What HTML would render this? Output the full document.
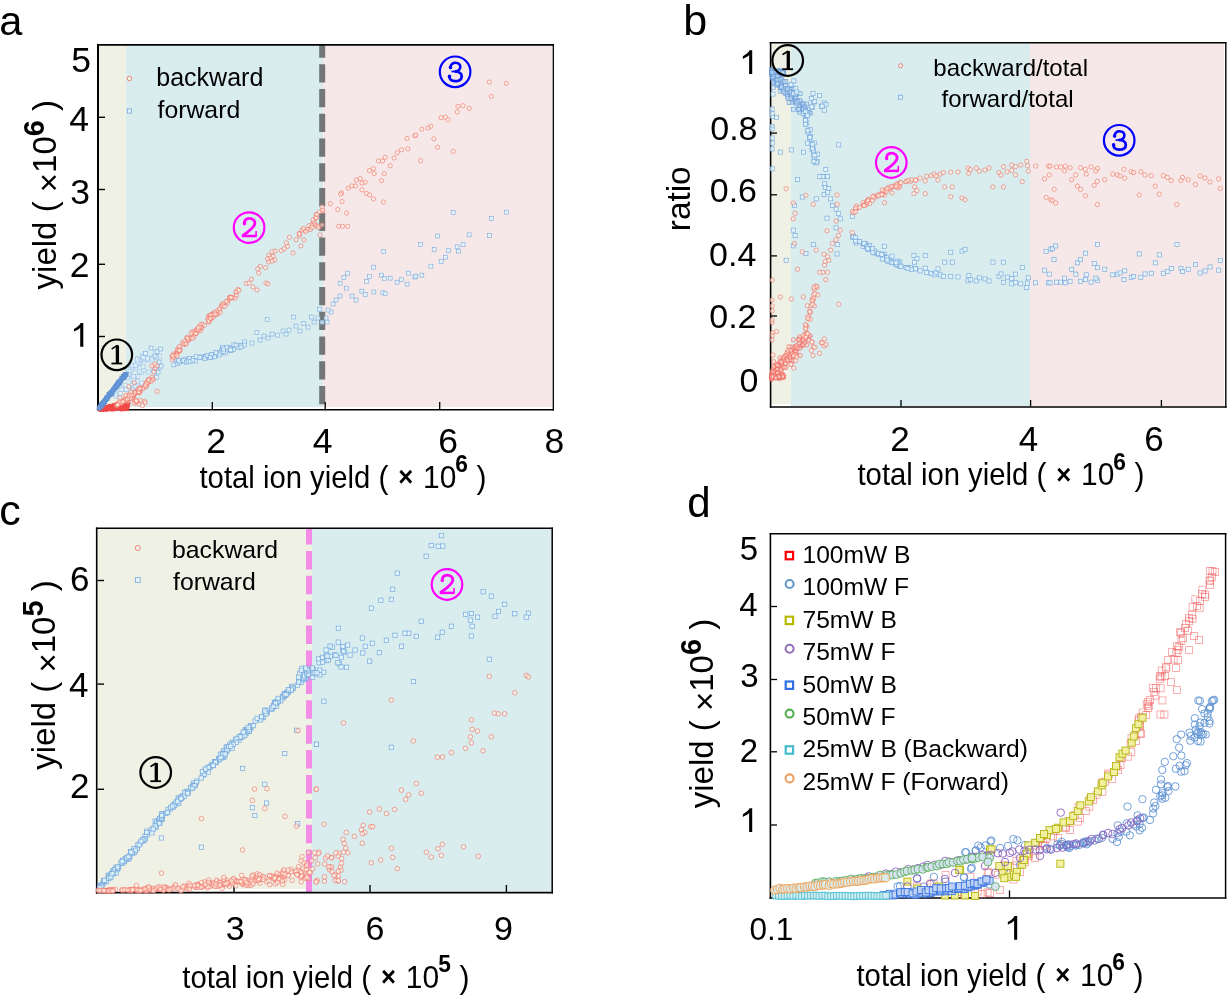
<!DOCTYPE html>
<html><head><meta charset="utf-8"><style>
html,body{margin:0;padding:0;background:#fff;}
svg{display:block;will-change:transform;}
text{font-family:'Liberation Sans',sans-serif;}
</style></head><body>
<svg width="1227" height="997" viewBox="0 0 1227 997">
<rect width="1227" height="997" fill="#fff"/>
<rect x="99" y="45.8" width="27" height="361.2" fill="#eff1e4"/>
<rect x="126" y="45.8" width="197" height="361.2" fill="#d9ecee"/>
<rect x="323" y="45.8" width="229.2" height="361.2" fill="#f6e8e8"/>
<line x1="322.2" y1="45" x2="322.2" y2="409.5" stroke="#3a3a3a" stroke-opacity="0.66" stroke-width="6" stroke-dasharray="18.3 6.45" stroke-dashoffset="5.55"/>
<line x1="98" y1="44.05" x2="98" y2="410.45" stroke="#000" stroke-width="2"/>
<line x1="97.0" y1="44.9" x2="553.95" y2="44.9" stroke="#000" stroke-width="1.7"/>
<line x1="553.3" y1="44.05" x2="553.3" y2="410.45" stroke="#000" stroke-width="1.3"/>
<line x1="97.0" y1="409.7" x2="553.95" y2="409.7" stroke="#000" stroke-width="1.5"/>
<line x1="99" y1="336.5" x2="105" y2="336.5" stroke="#000" stroke-width="1.4"/>
<line x1="99" y1="264.3" x2="105" y2="264.3" stroke="#000" stroke-width="1.4"/>
<line x1="99" y1="189.5" x2="105" y2="189.5" stroke="#000" stroke-width="1.4"/>
<line x1="99" y1="117.3" x2="105" y2="117.3" stroke="#000" stroke-width="1.4"/>
<line x1="212.3" y1="409" x2="212.3" y2="402" stroke="#000" stroke-width="1.3"/>
<line x1="325.2" y1="409" x2="325.2" y2="402" stroke="#000" stroke-width="1.3"/>
<line x1="439.7" y1="409" x2="439.7" y2="402" stroke="#000" stroke-width="1.3"/>
<rect x="155.0" y="355.1" width="3.8" height="3.8" stroke="#a8c6ea" fill="rgba(228,247,250,0.75)" stroke-width="0.7"/>
<rect x="130.0" y="387.7" width="3.8" height="3.8" stroke="#a8c6ea" fill="rgba(228,247,250,0.75)" stroke-width="0.7"/>
<rect x="135.4" y="374.7" width="3.8" height="3.8" stroke="#a8c6ea" fill="rgba(228,247,250,0.75)" stroke-width="0.7"/>
<rect x="119.9" y="386.6" width="3.8" height="3.8" stroke="#a8c6ea" fill="rgba(228,247,250,0.75)" stroke-width="0.7"/>
<rect x="134.9" y="366.3" width="3.8" height="3.8" stroke="#a8c6ea" fill="rgba(228,247,250,0.75)" stroke-width="0.7"/>
<rect x="117.9" y="394.7" width="3.8" height="3.8" stroke="#a8c6ea" fill="rgba(228,247,250,0.75)" stroke-width="0.7"/>
<rect x="137.9" y="365.8" width="3.8" height="3.8" stroke="#a8c6ea" fill="rgba(228,247,250,0.75)" stroke-width="0.7"/>
<rect x="138.5" y="358.9" width="3.8" height="3.8" stroke="#a8c6ea" fill="rgba(228,247,250,0.75)" stroke-width="0.7"/>
<rect x="130.9" y="381.8" width="3.8" height="3.8" stroke="#a8c6ea" fill="rgba(228,247,250,0.75)" stroke-width="0.7"/>
<rect x="142.7" y="358.1" width="3.8" height="3.8" stroke="#a8c6ea" fill="rgba(228,247,250,0.75)" stroke-width="0.7"/>
<rect x="137.3" y="370.8" width="3.8" height="3.8" stroke="#a8c6ea" fill="rgba(228,247,250,0.75)" stroke-width="0.7"/>
<rect x="157.9" y="354.3" width="3.8" height="3.8" stroke="#a8c6ea" fill="rgba(228,247,250,0.75)" stroke-width="0.7"/>
<rect x="152.7" y="367.0" width="3.8" height="3.8" stroke="#a8c6ea" fill="rgba(228,247,250,0.75)" stroke-width="0.7"/>
<rect x="114.0" y="394.5" width="3.8" height="3.8" stroke="#a8c6ea" fill="rgba(228,247,250,0.75)" stroke-width="0.7"/>
<rect x="141.8" y="368.7" width="3.8" height="3.8" stroke="#a8c6ea" fill="rgba(228,247,250,0.75)" stroke-width="0.7"/>
<rect x="130.0" y="383.1" width="3.8" height="3.8" stroke="#a8c6ea" fill="rgba(228,247,250,0.75)" stroke-width="0.7"/>
<rect x="145.5" y="358.0" width="3.8" height="3.8" stroke="#a8c6ea" fill="rgba(228,247,250,0.75)" stroke-width="0.7"/>
<rect x="132.6" y="376.0" width="3.8" height="3.8" stroke="#a8c6ea" fill="rgba(228,247,250,0.75)" stroke-width="0.7"/>
<rect x="123.2" y="387.7" width="3.8" height="3.8" stroke="#a8c6ea" fill="rgba(228,247,250,0.75)" stroke-width="0.7"/>
<rect x="149.6" y="356.0" width="3.8" height="3.8" stroke="#a8c6ea" fill="rgba(228,247,250,0.75)" stroke-width="0.7"/>
<rect x="150.7" y="356.3" width="3.8" height="3.8" stroke="#a8c6ea" fill="rgba(228,247,250,0.75)" stroke-width="0.7"/>
<rect x="123.8" y="383.3" width="3.8" height="3.8" stroke="#a8c6ea" fill="rgba(228,247,250,0.75)" stroke-width="0.7"/>
<rect x="126.8" y="373.4" width="3.8" height="3.8" stroke="#a8c6ea" fill="rgba(228,247,250,0.75)" stroke-width="0.7"/>
<rect x="125.9" y="375.9" width="3.8" height="3.8" stroke="#a8c6ea" fill="rgba(228,247,250,0.75)" stroke-width="0.7"/>
<rect x="135.3" y="379.7" width="3.8" height="3.8" stroke="#a8c6ea" fill="rgba(228,247,250,0.75)" stroke-width="0.7"/>
<rect x="157.7" y="365.9" width="3.8" height="3.8" stroke="#a8c6ea" fill="rgba(228,247,250,0.75)" stroke-width="0.7"/>
<rect x="131.5" y="385.9" width="3.8" height="3.8" stroke="#a8c6ea" fill="rgba(228,247,250,0.75)" stroke-width="0.7"/>
<rect x="153.2" y="350.8" width="3.8" height="3.8" stroke="#a8c6ea" fill="rgba(228,247,250,0.75)" stroke-width="0.7"/>
<rect x="118.0" y="384.8" width="3.8" height="3.8" stroke="#a8c6ea" fill="rgba(228,247,250,0.75)" stroke-width="0.7"/>
<rect x="146.8" y="370.2" width="3.8" height="3.8" stroke="#a8c6ea" fill="rgba(228,247,250,0.75)" stroke-width="0.7"/>
<rect x="151.7" y="369.5" width="3.8" height="3.8" stroke="#a8c6ea" fill="rgba(228,247,250,0.75)" stroke-width="0.7"/>
<rect x="119.8" y="387.6" width="3.8" height="3.8" stroke="#a8c6ea" fill="rgba(228,247,250,0.75)" stroke-width="0.7"/>
<rect x="113.6" y="392.3" width="3.8" height="3.8" stroke="#a8c6ea" fill="rgba(228,247,250,0.75)" stroke-width="0.7"/>
<rect x="118.6" y="391.5" width="3.8" height="3.8" stroke="#a8c6ea" fill="rgba(228,247,250,0.75)" stroke-width="0.7"/>
<rect x="139.3" y="370.9" width="3.8" height="3.8" stroke="#a8c6ea" fill="rgba(228,247,250,0.75)" stroke-width="0.7"/>
<rect x="155.0" y="355.9" width="3.8" height="3.8" stroke="#a8c6ea" fill="rgba(228,247,250,0.75)" stroke-width="0.7"/>
<rect x="110.9" y="391.9" width="3.8" height="3.8" stroke="#a8c6ea" fill="rgba(228,247,250,0.75)" stroke-width="0.7"/>
<rect x="131.0" y="374.4" width="3.8" height="3.8" stroke="#a8c6ea" fill="rgba(228,247,250,0.75)" stroke-width="0.7"/>
<rect x="113.4" y="389.4" width="3.8" height="3.8" stroke="#a8c6ea" fill="rgba(228,247,250,0.75)" stroke-width="0.7"/>
<rect x="135.2" y="383.8" width="3.8" height="3.8" stroke="#a8c6ea" fill="rgba(228,247,250,0.75)" stroke-width="0.7"/>
<rect x="131.9" y="377.6" width="3.8" height="3.8" stroke="#a8c6ea" fill="rgba(228,247,250,0.75)" stroke-width="0.7"/>
<rect x="150.0" y="358.1" width="3.8" height="3.8" stroke="#a8c6ea" fill="rgba(228,247,250,0.75)" stroke-width="0.7"/>
<rect x="131.7" y="374.6" width="3.8" height="3.8" stroke="#a8c6ea" fill="rgba(228,247,250,0.75)" stroke-width="0.7"/>
<rect x="140.0" y="381.1" width="3.8" height="3.8" stroke="#a8c6ea" fill="rgba(228,247,250,0.75)" stroke-width="0.7"/>
<rect x="131.6" y="387.2" width="3.8" height="3.8" stroke="#a8c6ea" fill="rgba(228,247,250,0.75)" stroke-width="0.7"/>
<rect x="124.3" y="387.8" width="3.8" height="3.8" stroke="#a8c6ea" fill="rgba(228,247,250,0.75)" stroke-width="0.7"/>
<rect x="137.5" y="369.3" width="3.8" height="3.8" stroke="#a8c6ea" fill="rgba(228,247,250,0.75)" stroke-width="0.7"/>
<rect x="145.5" y="356.4" width="3.8" height="3.8" stroke="#a8c6ea" fill="rgba(228,247,250,0.75)" stroke-width="0.7"/>
<rect x="141.1" y="364.9" width="3.8" height="3.8" stroke="#a8c6ea" fill="rgba(228,247,250,0.75)" stroke-width="0.7"/>
<rect x="133.2" y="384.9" width="3.8" height="3.8" stroke="#a8c6ea" fill="rgba(228,247,250,0.75)" stroke-width="0.7"/>
<rect x="133.1" y="363.8" width="3.8" height="3.8" stroke="#a8c6ea" fill="rgba(228,247,250,0.75)" stroke-width="0.7"/>
<rect x="142.1" y="356.8" width="3.8" height="3.8" stroke="#a8c6ea" fill="rgba(228,247,250,0.75)" stroke-width="0.7"/>
<rect x="135.4" y="356.8" width="3.8" height="3.8" stroke="#a8c6ea" fill="rgba(228,247,250,0.75)" stroke-width="0.7"/>
<rect x="130.7" y="363.2" width="3.8" height="3.8" stroke="#a8c6ea" fill="rgba(228,247,250,0.75)" stroke-width="0.7"/>
<rect x="140.5" y="354.1" width="3.8" height="3.8" stroke="#a8c6ea" fill="rgba(228,247,250,0.75)" stroke-width="0.7"/>
<rect x="140.8" y="355.0" width="3.8" height="3.8" stroke="#a8c6ea" fill="rgba(228,247,250,0.75)" stroke-width="0.7"/>
<rect x="128.7" y="368.1" width="3.8" height="3.8" stroke="#a8c6ea" fill="rgba(228,247,250,0.75)" stroke-width="0.7"/>
<rect x="136.0" y="360.0" width="3.8" height="3.8" stroke="#a8c6ea" fill="rgba(228,247,250,0.75)" stroke-width="0.7"/>
<rect x="137.2" y="358.7" width="3.8" height="3.8" stroke="#a8c6ea" fill="rgba(228,247,250,0.75)" stroke-width="0.7"/>
<rect x="129.4" y="365.9" width="3.8" height="3.8" stroke="#a8c6ea" fill="rgba(228,247,250,0.75)" stroke-width="0.7"/>
<rect x="136.3" y="359.7" width="3.8" height="3.8" stroke="#a8c6ea" fill="rgba(228,247,250,0.75)" stroke-width="0.7"/>
<rect x="137.1" y="361.3" width="3.8" height="3.8" stroke="#a8c6ea" fill="rgba(228,247,250,0.75)" stroke-width="0.7"/>
<rect x="132.5" y="364.2" width="3.8" height="3.8" stroke="#a8c6ea" fill="rgba(228,247,250,0.75)" stroke-width="0.7"/>
<rect x="128.1" y="368.4" width="3.8" height="3.8" stroke="#a8c6ea" fill="rgba(228,247,250,0.75)" stroke-width="0.7"/>
<rect x="141.9" y="355.6" width="3.8" height="3.8" stroke="#a8c6ea" fill="rgba(228,247,250,0.75)" stroke-width="0.7"/>
<rect x="130.1" y="363.8" width="3.8" height="3.8" stroke="#a8c6ea" fill="rgba(228,247,250,0.75)" stroke-width="0.7"/>
<rect x="134.1" y="363.7" width="3.8" height="3.8" stroke="#a8c6ea" fill="rgba(228,247,250,0.75)" stroke-width="0.7"/>
<rect x="135.2" y="360.1" width="3.8" height="3.8" stroke="#a8c6ea" fill="rgba(228,247,250,0.75)" stroke-width="0.7"/>
<rect x="135.3" y="357.7" width="3.8" height="3.8" stroke="#a8c6ea" fill="rgba(228,247,250,0.75)" stroke-width="0.7"/>
<rect x="125.9" y="368.3" width="3.8" height="3.8" stroke="#a8c6ea" fill="rgba(228,247,250,0.75)" stroke-width="0.7"/>
<rect x="129.5" y="367.1" width="3.8" height="3.8" stroke="#a8c6ea" fill="rgba(228,247,250,0.75)" stroke-width="0.7"/>
<rect x="126.5" y="367.7" width="3.8" height="3.8" stroke="#a8c6ea" fill="rgba(228,247,250,0.75)" stroke-width="0.7"/>
<rect x="128.1" y="369.2" width="3.8" height="3.8" stroke="#a8c6ea" fill="rgba(228,247,250,0.75)" stroke-width="0.7"/>
<rect x="133.5" y="363.3" width="3.8" height="3.8" stroke="#a8c6ea" fill="rgba(228,247,250,0.75)" stroke-width="0.7"/>
<rect x="126.9" y="372.4" width="3.8" height="3.8" stroke="#a8c6ea" fill="rgba(228,247,250,0.75)" stroke-width="0.7"/>
<circle cx="102.7" cy="408.6" r="2.1" stroke="#f04848" fill="rgba(240,80,70,0.35)" stroke-width="0.8"/>
<circle cx="116.4" cy="405.1" r="2.1" stroke="#f04848" fill="rgba(240,80,70,0.35)" stroke-width="0.8"/>
<circle cx="103.3" cy="409.1" r="2.1" stroke="#f04848" fill="rgba(240,80,70,0.35)" stroke-width="0.8"/>
<circle cx="101.0" cy="408.4" r="2.1" stroke="#f04848" fill="rgba(240,80,70,0.35)" stroke-width="0.8"/>
<circle cx="126.5" cy="406.8" r="2.1" stroke="#f04848" fill="rgba(240,80,70,0.35)" stroke-width="0.8"/>
<circle cx="109.7" cy="407.8" r="2.1" stroke="#f04848" fill="rgba(240,80,70,0.35)" stroke-width="0.8"/>
<circle cx="118.2" cy="405.8" r="2.1" stroke="#f04848" fill="rgba(240,80,70,0.35)" stroke-width="0.8"/>
<circle cx="103.0" cy="408.9" r="2.1" stroke="#f04848" fill="rgba(240,80,70,0.35)" stroke-width="0.8"/>
<circle cx="118.4" cy="406.9" r="2.1" stroke="#f04848" fill="rgba(240,80,70,0.35)" stroke-width="0.8"/>
<circle cx="122.7" cy="406.7" r="2.1" stroke="#f04848" fill="rgba(240,80,70,0.35)" stroke-width="0.8"/>
<circle cx="127.4" cy="403.9" r="2.1" stroke="#f04848" fill="rgba(240,80,70,0.35)" stroke-width="0.8"/>
<circle cx="115.1" cy="407.2" r="2.1" stroke="#f04848" fill="rgba(240,80,70,0.35)" stroke-width="0.8"/>
<circle cx="109.2" cy="408.1" r="2.1" stroke="#f04848" fill="rgba(240,80,70,0.35)" stroke-width="0.8"/>
<circle cx="105.8" cy="408.8" r="2.1" stroke="#f04848" fill="rgba(240,80,70,0.35)" stroke-width="0.8"/>
<circle cx="124.2" cy="404.0" r="2.1" stroke="#f04848" fill="rgba(240,80,70,0.35)" stroke-width="0.8"/>
<circle cx="112.5" cy="406.7" r="2.1" stroke="#f04848" fill="rgba(240,80,70,0.35)" stroke-width="0.8"/>
<circle cx="101.4" cy="409.1" r="2.1" stroke="#f04848" fill="rgba(240,80,70,0.35)" stroke-width="0.8"/>
<circle cx="111.5" cy="406.5" r="2.1" stroke="#f04848" fill="rgba(240,80,70,0.35)" stroke-width="0.8"/>
<circle cx="118.5" cy="405.4" r="2.1" stroke="#f04848" fill="rgba(240,80,70,0.35)" stroke-width="0.8"/>
<circle cx="125.1" cy="404.4" r="2.1" stroke="#f04848" fill="rgba(240,80,70,0.35)" stroke-width="0.8"/>
<circle cx="100.0" cy="408.7" r="2.1" stroke="#f04848" fill="rgba(240,80,70,0.35)" stroke-width="0.8"/>
<circle cx="109.0" cy="407.8" r="2.1" stroke="#f04848" fill="rgba(240,80,70,0.35)" stroke-width="0.8"/>
<circle cx="125.3" cy="407.3" r="2.1" stroke="#f04848" fill="rgba(240,80,70,0.35)" stroke-width="0.8"/>
<circle cx="108.8" cy="406.7" r="2.1" stroke="#f04848" fill="rgba(240,80,70,0.35)" stroke-width="0.8"/>
<circle cx="103.6" cy="409.2" r="2.1" stroke="#f04848" fill="rgba(240,80,70,0.35)" stroke-width="0.8"/>
<circle cx="112.3" cy="408.2" r="2.1" stroke="#f04848" fill="rgba(240,80,70,0.35)" stroke-width="0.8"/>
<circle cx="100.6" cy="408.5" r="2.1" stroke="#f04848" fill="rgba(240,80,70,0.35)" stroke-width="0.8"/>
<circle cx="123.5" cy="406.8" r="2.1" stroke="#f04848" fill="rgba(240,80,70,0.35)" stroke-width="0.8"/>
<circle cx="108.0" cy="407.6" r="2.1" stroke="#f04848" fill="rgba(240,80,70,0.35)" stroke-width="0.8"/>
<circle cx="101.6" cy="408.4" r="2.1" stroke="#f04848" fill="rgba(240,80,70,0.35)" stroke-width="0.8"/>
<circle cx="99.7" cy="409.1" r="2.1" stroke="#f04848" fill="rgba(240,80,70,0.35)" stroke-width="0.8"/>
<circle cx="112.5" cy="406.2" r="2.1" stroke="#f04848" fill="rgba(240,80,70,0.35)" stroke-width="0.8"/>
<circle cx="120.4" cy="405.1" r="2.1" stroke="#f04848" fill="rgba(240,80,70,0.35)" stroke-width="0.8"/>
<circle cx="100.8" cy="408.9" r="2.1" stroke="#f04848" fill="rgba(240,80,70,0.35)" stroke-width="0.8"/>
<circle cx="125.0" cy="403.2" r="2.1" stroke="#f04848" fill="rgba(240,80,70,0.35)" stroke-width="0.8"/>
<circle cx="122.3" cy="404.7" r="2.1" stroke="#f04848" fill="rgba(240,80,70,0.35)" stroke-width="0.8"/>
<circle cx="101.7" cy="408.2" r="2.1" stroke="#f04848" fill="rgba(240,80,70,0.35)" stroke-width="0.8"/>
<circle cx="107.5" cy="408.6" r="2.1" stroke="#f04848" fill="rgba(240,80,70,0.35)" stroke-width="0.8"/>
<circle cx="113.3" cy="408.7" r="2.1" stroke="#f04848" fill="rgba(240,80,70,0.35)" stroke-width="0.8"/>
<circle cx="105.3" cy="408.0" r="2.1" stroke="#f04848" fill="rgba(240,80,70,0.35)" stroke-width="0.8"/>
<circle cx="106.5" cy="409.2" r="2.1" stroke="#f04848" fill="rgba(240,80,70,0.35)" stroke-width="0.8"/>
<circle cx="126.3" cy="405.0" r="2.1" stroke="#f04848" fill="rgba(240,80,70,0.35)" stroke-width="0.8"/>
<circle cx="111.6" cy="407.0" r="2.1" stroke="#f04848" fill="rgba(240,80,70,0.35)" stroke-width="0.8"/>
<circle cx="120.6" cy="404.2" r="2.1" stroke="#f04848" fill="rgba(240,80,70,0.35)" stroke-width="0.8"/>
<circle cx="101.0" cy="408.7" r="2.1" stroke="#f04848" fill="rgba(240,80,70,0.35)" stroke-width="0.8"/>
<circle cx="106.1" cy="408.9" r="2.1" stroke="#f04848" fill="rgba(240,80,70,0.35)" stroke-width="0.8"/>
<circle cx="120.5" cy="406.9" r="2.1" stroke="#f04848" fill="rgba(240,80,70,0.35)" stroke-width="0.8"/>
<circle cx="118.2" cy="407.8" r="2.1" stroke="#f04848" fill="rgba(240,80,70,0.35)" stroke-width="0.8"/>
<circle cx="121.7" cy="408.8" r="2.1" stroke="#f04848" fill="rgba(240,80,70,0.35)" stroke-width="0.8"/>
<circle cx="103.3" cy="408.7" r="2.1" stroke="#f04848" fill="rgba(240,80,70,0.35)" stroke-width="0.8"/>
<circle cx="103.2" cy="408.5" r="2.1" stroke="#f04848" fill="rgba(240,80,70,0.35)" stroke-width="0.8"/>
<circle cx="121.8" cy="408.6" r="2.1" stroke="#f04848" fill="rgba(240,80,70,0.35)" stroke-width="0.8"/>
<circle cx="121.0" cy="404.1" r="2.1" stroke="#f04848" fill="rgba(240,80,70,0.35)" stroke-width="0.8"/>
<circle cx="109.4" cy="406.9" r="2.1" stroke="#f04848" fill="rgba(240,80,70,0.35)" stroke-width="0.8"/>
<circle cx="128.0" cy="403.4" r="2.1" stroke="#f04848" fill="rgba(240,80,70,0.35)" stroke-width="0.8"/>
<circle cx="106.1" cy="407.9" r="2.1" stroke="#f04848" fill="rgba(240,80,70,0.35)" stroke-width="0.8"/>
<circle cx="100.8" cy="409.1" r="2.1" stroke="#f04848" fill="rgba(240,80,70,0.35)" stroke-width="0.8"/>
<circle cx="117.5" cy="405.4" r="2.1" stroke="#f04848" fill="rgba(240,80,70,0.35)" stroke-width="0.8"/>
<circle cx="113.4" cy="405.9" r="2.1" stroke="#f04848" fill="rgba(240,80,70,0.35)" stroke-width="0.8"/>
<circle cx="116.7" cy="405.9" r="2.1" stroke="#f04848" fill="rgba(240,80,70,0.35)" stroke-width="0.8"/>
<circle cx="100.1" cy="408.6" r="2.1" stroke="#f04848" fill="rgba(240,80,70,0.35)" stroke-width="0.8"/>
<circle cx="115.1" cy="407.8" r="2.1" stroke="#f04848" fill="rgba(240,80,70,0.35)" stroke-width="0.8"/>
<circle cx="108.4" cy="408.3" r="2.1" stroke="#f04848" fill="rgba(240,80,70,0.35)" stroke-width="0.8"/>
<circle cx="109.2" cy="406.9" r="2.1" stroke="#f04848" fill="rgba(240,80,70,0.35)" stroke-width="0.8"/>
<circle cx="108.1" cy="407.7" r="2.1" stroke="#f04848" fill="rgba(240,80,70,0.35)" stroke-width="0.8"/>
<circle cx="125.5" cy="403.7" r="2.1" stroke="#f04848" fill="rgba(240,80,70,0.35)" stroke-width="0.8"/>
<circle cx="101.5" cy="408.8" r="2.1" stroke="#f04848" fill="rgba(240,80,70,0.35)" stroke-width="0.8"/>
<circle cx="126.9" cy="408.6" r="2.1" stroke="#f04848" fill="rgba(240,80,70,0.35)" stroke-width="0.8"/>
<circle cx="119.3" cy="404.6" r="2.1" stroke="#f04848" fill="rgba(240,80,70,0.35)" stroke-width="0.8"/>
<circle cx="122.4" cy="407.4" r="2.1" stroke="#f04848" fill="rgba(240,80,70,0.35)" stroke-width="0.8"/>
<circle cx="103.2" cy="408.5" r="2.1" stroke="#f04848" fill="rgba(240,80,70,0.35)" stroke-width="0.8"/>
<circle cx="100.4" cy="409.1" r="2.1" stroke="#f04848" fill="rgba(240,80,70,0.35)" stroke-width="0.8"/>
<circle cx="119.8" cy="408.2" r="2.1" stroke="#f04848" fill="rgba(240,80,70,0.35)" stroke-width="0.8"/>
<circle cx="121.1" cy="405.3" r="2.1" stroke="#f04848" fill="rgba(240,80,70,0.35)" stroke-width="0.8"/>
<circle cx="121.9" cy="405.1" r="2.1" stroke="#f04848" fill="rgba(240,80,70,0.35)" stroke-width="0.8"/>
<circle cx="103.0" cy="408.4" r="2.1" stroke="#f04848" fill="rgba(240,80,70,0.35)" stroke-width="0.8"/>
<circle cx="113.4" cy="406.6" r="2.1" stroke="#f04848" fill="rgba(240,80,70,0.35)" stroke-width="0.8"/>
<circle cx="116.6" cy="407.5" r="2.1" stroke="#f04848" fill="rgba(240,80,70,0.35)" stroke-width="0.8"/>
<circle cx="106.0" cy="408.5" r="2.1" stroke="#f04848" fill="rgba(240,80,70,0.35)" stroke-width="0.8"/>
<circle cx="109.4" cy="408.5" r="2.1" stroke="#f04848" fill="rgba(240,80,70,0.35)" stroke-width="0.8"/>
<circle cx="107.4" cy="408.7" r="2.1" stroke="#f04848" fill="rgba(240,80,70,0.35)" stroke-width="0.8"/>
<circle cx="111.0" cy="407.8" r="2.1" stroke="#f04848" fill="rgba(240,80,70,0.35)" stroke-width="0.8"/>
<circle cx="118.5" cy="406.9" r="2.1" stroke="#f04848" fill="rgba(240,80,70,0.35)" stroke-width="0.8"/>
<circle cx="106.5" cy="409.2" r="2.1" stroke="#f04848" fill="rgba(240,80,70,0.35)" stroke-width="0.8"/>
<circle cx="101.8" cy="408.5" r="2.1" stroke="#f04848" fill="rgba(240,80,70,0.35)" stroke-width="0.8"/>
<circle cx="114.9" cy="405.4" r="2.1" stroke="#f04848" fill="rgba(240,80,70,0.35)" stroke-width="0.8"/>
<circle cx="103.5" cy="408.9" r="2.1" stroke="#f04848" fill="rgba(240,80,70,0.35)" stroke-width="0.8"/>
<circle cx="121.7" cy="407.2" r="2.1" stroke="#f04848" fill="rgba(240,80,70,0.35)" stroke-width="0.8"/>
<circle cx="125.2" cy="407.7" r="2.1" stroke="#f04848" fill="rgba(240,80,70,0.35)" stroke-width="0.8"/>
<circle cx="107.7" cy="408.4" r="2.1" stroke="#f04848" fill="rgba(240,80,70,0.35)" stroke-width="0.8"/>
<circle cx="108.9" cy="408.6" r="2.1" stroke="#f04848" fill="rgba(240,80,70,0.35)" stroke-width="0.8"/>
<circle cx="110.2" cy="406.8" r="2.1" stroke="#f04848" fill="rgba(240,80,70,0.35)" stroke-width="0.8"/>
<circle cx="124.4" cy="407.3" r="2.1" stroke="#f04848" fill="rgba(240,80,70,0.35)" stroke-width="0.8"/>
<circle cx="120.6" cy="406.9" r="2.1" stroke="#f04848" fill="rgba(240,80,70,0.35)" stroke-width="0.8"/>
<circle cx="121.7" cy="406.2" r="2.1" stroke="#f04848" fill="rgba(240,80,70,0.35)" stroke-width="0.8"/>
<circle cx="115.4" cy="405.4" r="2.1" stroke="#f04848" fill="rgba(240,80,70,0.35)" stroke-width="0.8"/>
<circle cx="115.1" cy="408.5" r="2.1" stroke="#f04848" fill="rgba(240,80,70,0.35)" stroke-width="0.8"/>
<circle cx="119.5" cy="408.2" r="2.1" stroke="#f04848" fill="rgba(240,80,70,0.35)" stroke-width="0.8"/>
<circle cx="113.4" cy="408.8" r="2.1" stroke="#f04848" fill="rgba(240,80,70,0.35)" stroke-width="0.8"/>
<circle cx="102.1" cy="409.1" r="2.1" stroke="#f04848" fill="rgba(240,80,70,0.35)" stroke-width="0.8"/>
<circle cx="109.8" cy="406.7" r="2.1" stroke="#f04848" fill="rgba(240,80,70,0.35)" stroke-width="0.8"/>
<circle cx="117.0" cy="406.8" r="2.1" stroke="#f04848" fill="rgba(240,80,70,0.35)" stroke-width="0.8"/>
<circle cx="111.4" cy="408.7" r="2.1" stroke="#f04848" fill="rgba(240,80,70,0.35)" stroke-width="0.8"/>
<circle cx="103.0" cy="408.7" r="2.1" stroke="#f04848" fill="rgba(240,80,70,0.35)" stroke-width="0.8"/>
<circle cx="111.0" cy="407.8" r="2.1" stroke="#f04848" fill="rgba(240,80,70,0.35)" stroke-width="0.8"/>
<circle cx="113.5" cy="406.1" r="2.1" stroke="#f04848" fill="rgba(240,80,70,0.35)" stroke-width="0.8"/>
<circle cx="113.8" cy="408.7" r="2.1" stroke="#f04848" fill="rgba(240,80,70,0.35)" stroke-width="0.8"/>
<circle cx="104.0" cy="407.7" r="2.1" stroke="#f04848" fill="rgba(240,80,70,0.35)" stroke-width="0.8"/>
<circle cx="101.0" cy="408.7" r="2.1" stroke="#f04848" fill="rgba(240,80,70,0.35)" stroke-width="0.8"/>
<circle cx="127.3" cy="402.9" r="2.1" stroke="#f04848" fill="rgba(240,80,70,0.35)" stroke-width="0.8"/>
<circle cx="127.7" cy="406.1" r="2.1" stroke="#f04848" fill="rgba(240,80,70,0.35)" stroke-width="0.8"/>
<circle cx="102.5" cy="408.5" r="2.1" stroke="#f04848" fill="rgba(240,80,70,0.35)" stroke-width="0.8"/>
<circle cx="105.0" cy="408.7" r="2.1" stroke="#f04848" fill="rgba(240,80,70,0.35)" stroke-width="0.8"/>
<circle cx="114.7" cy="406.4" r="2.1" stroke="#f04848" fill="rgba(240,80,70,0.35)" stroke-width="0.8"/>
<circle cx="106.4" cy="408.9" r="2.1" stroke="#f04848" fill="rgba(240,80,70,0.35)" stroke-width="0.8"/>
<circle cx="121.2" cy="406.2" r="2.1" stroke="#f04848" fill="rgba(240,80,70,0.35)" stroke-width="0.8"/>
<circle cx="110.8" cy="408.4" r="2.1" stroke="#f04848" fill="rgba(240,80,70,0.35)" stroke-width="0.8"/>
<circle cx="127.2" cy="403.1" r="2.1" stroke="#f04848" fill="rgba(240,80,70,0.35)" stroke-width="0.8"/>
<circle cx="103.6" cy="408.3" r="2.1" stroke="#f04848" fill="rgba(240,80,70,0.35)" stroke-width="0.8"/>
<circle cx="113.7" cy="405.8" r="2.1" stroke="#f04848" fill="rgba(240,80,70,0.35)" stroke-width="0.8"/>
<circle cx="100.6" cy="408.6" r="2.1" stroke="#f04848" fill="rgba(240,80,70,0.35)" stroke-width="0.8"/>
<circle cx="110.2" cy="408.4" r="2.1" stroke="#f04848" fill="rgba(240,80,70,0.35)" stroke-width="0.8"/>
<circle cx="116.7" cy="405.0" r="2.1" stroke="#f04848" fill="rgba(240,80,70,0.35)" stroke-width="0.8"/>
<circle cx="100.3" cy="408.8" r="2.1" stroke="#f04848" fill="rgba(240,80,70,0.35)" stroke-width="0.8"/>
<circle cx="124.4" cy="408.7" r="2.1" stroke="#f04848" fill="rgba(240,80,70,0.35)" stroke-width="0.8"/>
<circle cx="109.6" cy="408.9" r="2.1" stroke="#f04848" fill="rgba(240,80,70,0.35)" stroke-width="0.8"/>
<circle cx="125.9" cy="405.4" r="2.1" stroke="#f04848" fill="rgba(240,80,70,0.35)" stroke-width="0.8"/>
<circle cx="120.6" cy="405.9" r="2.1" stroke="#f04848" fill="rgba(240,80,70,0.35)" stroke-width="0.8"/>
<circle cx="103.5" cy="408.6" r="2.1" stroke="#f04848" fill="rgba(240,80,70,0.35)" stroke-width="0.8"/>
<circle cx="101.5" cy="408.9" r="2.1" stroke="#f04848" fill="rgba(240,80,70,0.35)" stroke-width="0.8"/>
<circle cx="122.5" cy="408.7" r="2.1" stroke="#f04848" fill="rgba(240,80,70,0.35)" stroke-width="0.8"/>
<circle cx="112.0" cy="406.3" r="2.1" stroke="#f04848" fill="rgba(240,80,70,0.35)" stroke-width="0.8"/>
<circle cx="125.2" cy="408.4" r="2.1" stroke="#f04848" fill="rgba(240,80,70,0.35)" stroke-width="0.8"/>
<circle cx="127.1" cy="406.5" r="2.1" stroke="#f04848" fill="rgba(240,80,70,0.35)" stroke-width="0.8"/>
<circle cx="118.5" cy="406.2" r="2.1" stroke="#f04848" fill="rgba(240,80,70,0.35)" stroke-width="0.8"/>
<circle cx="104.3" cy="408.1" r="2.1" stroke="#f04848" fill="rgba(240,80,70,0.35)" stroke-width="0.8"/>
<circle cx="119.9" cy="405.8" r="2.1" stroke="#f04848" fill="rgba(240,80,70,0.35)" stroke-width="0.8"/>
<circle cx="119.1" cy="406.8" r="2.1" stroke="#f04848" fill="rgba(240,80,70,0.35)" stroke-width="0.8"/>
<circle cx="112.0" cy="409.1" r="2.1" stroke="#f04848" fill="rgba(240,80,70,0.35)" stroke-width="0.8"/>
<circle cx="103.8" cy="408.4" r="2.1" stroke="#f04848" fill="rgba(240,80,70,0.35)" stroke-width="0.8"/>
<circle cx="103.6" cy="409.1" r="2.1" stroke="#f04848" fill="rgba(240,80,70,0.35)" stroke-width="0.8"/>
<circle cx="113.2" cy="406.8" r="2.1" stroke="#f04848" fill="rgba(240,80,70,0.35)" stroke-width="0.8"/>
<circle cx="103.9" cy="408.6" r="2.1" stroke="#f04848" fill="rgba(240,80,70,0.35)" stroke-width="0.8"/>
<circle cx="110.6" cy="406.6" r="2.1" stroke="#f04848" fill="rgba(240,80,70,0.35)" stroke-width="0.8"/>
<circle cx="99.9" cy="408.8" r="2.1" stroke="#f04848" fill="rgba(240,80,70,0.35)" stroke-width="0.8"/>
<circle cx="115.9" cy="407.2" r="2.1" stroke="#f04848" fill="rgba(240,80,70,0.35)" stroke-width="0.8"/>
<circle cx="125.1" cy="408.7" r="2.1" stroke="#f04848" fill="rgba(240,80,70,0.35)" stroke-width="0.8"/>
<circle cx="126.2" cy="407.9" r="2.1" stroke="#f04848" fill="rgba(240,80,70,0.35)" stroke-width="0.8"/>
<circle cx="112.9" cy="407.5" r="2.1" stroke="#f04848" fill="rgba(240,80,70,0.35)" stroke-width="0.8"/>
<circle cx="110.5" cy="407.4" r="2.1" stroke="#f04848" fill="rgba(240,80,70,0.35)" stroke-width="0.8"/>
<circle cx="100.2" cy="409.1" r="2.1" stroke="#f04848" fill="rgba(240,80,70,0.35)" stroke-width="0.8"/>
<circle cx="106.1" cy="407.3" r="2.1" stroke="#f04848" fill="rgba(240,80,70,0.35)" stroke-width="0.8"/>
<circle cx="112.5" cy="408.2" r="2.1" stroke="#f04848" fill="rgba(240,80,70,0.35)" stroke-width="0.8"/>
<circle cx="111.6" cy="407.2" r="2.1" stroke="#f04848" fill="rgba(240,80,70,0.35)" stroke-width="0.8"/>
<circle cx="118.1" cy="405.3" r="2.1" stroke="#f04848" fill="rgba(240,80,70,0.35)" stroke-width="0.8"/>
<circle cx="99.3" cy="409.0" r="2.1" stroke="#f04848" fill="rgba(240,80,70,0.35)" stroke-width="0.8"/>
<circle cx="114.4" cy="408.7" r="2.1" stroke="#f04848" fill="rgba(240,80,70,0.35)" stroke-width="0.8"/>
<circle cx="111.1" cy="408.5" r="2.1" stroke="#f04848" fill="rgba(240,80,70,0.35)" stroke-width="0.8"/>
<circle cx="99.5" cy="408.7" r="2.1" stroke="#f04848" fill="rgba(240,80,70,0.35)" stroke-width="0.8"/>
<circle cx="116.4" cy="405.9" r="2.1" stroke="#f04848" fill="rgba(240,80,70,0.35)" stroke-width="0.8"/>
<circle cx="101.0" cy="408.5" r="2.1" stroke="#f04848" fill="rgba(240,80,70,0.35)" stroke-width="0.8"/>
<circle cx="109.9" cy="407.3" r="2.1" stroke="#f04848" fill="rgba(240,80,70,0.35)" stroke-width="0.8"/>
<circle cx="115.3" cy="408.7" r="2.1" stroke="#f04848" fill="rgba(240,80,70,0.35)" stroke-width="0.8"/>
<circle cx="109.6" cy="407.0" r="2.1" stroke="#f04848" fill="rgba(240,80,70,0.35)" stroke-width="0.8"/>
<circle cx="115.8" cy="405.1" r="2.1" stroke="#f04848" fill="rgba(240,80,70,0.35)" stroke-width="0.8"/>
<circle cx="110.2" cy="407.2" r="2.1" stroke="#f04848" fill="rgba(240,80,70,0.35)" stroke-width="0.8"/>
<circle cx="110.2" cy="406.5" r="2.1" stroke="#f04848" fill="rgba(240,80,70,0.35)" stroke-width="0.8"/>
<circle cx="115.1" cy="407.7" r="2.1" stroke="#f04848" fill="rgba(240,80,70,0.35)" stroke-width="0.8"/>
<circle cx="120.7" cy="409.0" r="2.1" stroke="#f04848" fill="rgba(240,80,70,0.35)" stroke-width="0.8"/>
<circle cx="109.3" cy="408.3" r="2.1" stroke="#f04848" fill="rgba(240,80,70,0.35)" stroke-width="0.8"/>
<rect x="118.5" y="379.9" width="3.4" height="3.4" stroke="#5f92d4" fill="rgba(110,155,215,0.45)" stroke-width="0.7"/>
<rect x="103.6" y="398.6" width="3.4" height="3.4" stroke="#5f92d4" fill="rgba(110,155,215,0.45)" stroke-width="0.7"/>
<rect x="114.2" y="384.9" width="3.4" height="3.4" stroke="#5f92d4" fill="rgba(110,155,215,0.45)" stroke-width="0.7"/>
<rect x="122.7" y="374.4" width="3.4" height="3.4" stroke="#5f92d4" fill="rgba(110,155,215,0.45)" stroke-width="0.7"/>
<rect x="98.9" y="404.9" width="3.4" height="3.4" stroke="#5f92d4" fill="rgba(110,155,215,0.45)" stroke-width="0.7"/>
<rect x="120.9" y="376.9" width="3.4" height="3.4" stroke="#5f92d4" fill="rgba(110,155,215,0.45)" stroke-width="0.7"/>
<rect x="122.6" y="374.4" width="3.4" height="3.4" stroke="#5f92d4" fill="rgba(110,155,215,0.45)" stroke-width="0.7"/>
<rect x="107.8" y="393.1" width="3.4" height="3.4" stroke="#5f92d4" fill="rgba(110,155,215,0.45)" stroke-width="0.7"/>
<rect x="113.8" y="386.4" width="3.4" height="3.4" stroke="#5f92d4" fill="rgba(110,155,215,0.45)" stroke-width="0.7"/>
<rect x="114.9" y="384.4" width="3.4" height="3.4" stroke="#5f92d4" fill="rgba(110,155,215,0.45)" stroke-width="0.7"/>
<rect x="115.1" y="384.2" width="3.4" height="3.4" stroke="#5f92d4" fill="rgba(110,155,215,0.45)" stroke-width="0.7"/>
<rect x="109.2" y="392.9" width="3.4" height="3.4" stroke="#5f92d4" fill="rgba(110,155,215,0.45)" stroke-width="0.7"/>
<rect x="104.6" y="397.1" width="3.4" height="3.4" stroke="#5f92d4" fill="rgba(110,155,215,0.45)" stroke-width="0.7"/>
<rect x="118.1" y="380.8" width="3.4" height="3.4" stroke="#5f92d4" fill="rgba(110,155,215,0.45)" stroke-width="0.7"/>
<rect x="108.6" y="392.4" width="3.4" height="3.4" stroke="#5f92d4" fill="rgba(110,155,215,0.45)" stroke-width="0.7"/>
<rect x="113.5" y="386.3" width="3.4" height="3.4" stroke="#5f92d4" fill="rgba(110,155,215,0.45)" stroke-width="0.7"/>
<rect x="118.0" y="380.3" width="3.4" height="3.4" stroke="#5f92d4" fill="rgba(110,155,215,0.45)" stroke-width="0.7"/>
<rect x="122.8" y="374.2" width="3.4" height="3.4" stroke="#5f92d4" fill="rgba(110,155,215,0.45)" stroke-width="0.7"/>
<rect x="122.0" y="374.9" width="3.4" height="3.4" stroke="#5f92d4" fill="rgba(110,155,215,0.45)" stroke-width="0.7"/>
<rect x="116.4" y="382.8" width="3.4" height="3.4" stroke="#5f92d4" fill="rgba(110,155,215,0.45)" stroke-width="0.7"/>
<rect x="102.1" y="400.4" width="3.4" height="3.4" stroke="#5f92d4" fill="rgba(110,155,215,0.45)" stroke-width="0.7"/>
<rect x="101.2" y="401.6" width="3.4" height="3.4" stroke="#5f92d4" fill="rgba(110,155,215,0.45)" stroke-width="0.7"/>
<rect x="100.7" y="401.7" width="3.4" height="3.4" stroke="#5f92d4" fill="rgba(110,155,215,0.45)" stroke-width="0.7"/>
<rect x="115.7" y="383.1" width="3.4" height="3.4" stroke="#5f92d4" fill="rgba(110,155,215,0.45)" stroke-width="0.7"/>
<rect x="114.6" y="384.8" width="3.4" height="3.4" stroke="#5f92d4" fill="rgba(110,155,215,0.45)" stroke-width="0.7"/>
<rect x="100.3" y="402.6" width="3.4" height="3.4" stroke="#5f92d4" fill="rgba(110,155,215,0.45)" stroke-width="0.7"/>
<rect x="122.0" y="375.7" width="3.4" height="3.4" stroke="#5f92d4" fill="rgba(110,155,215,0.45)" stroke-width="0.7"/>
<rect x="110.3" y="390.6" width="3.4" height="3.4" stroke="#5f92d4" fill="rgba(110,155,215,0.45)" stroke-width="0.7"/>
<rect x="118.9" y="379.2" width="3.4" height="3.4" stroke="#5f92d4" fill="rgba(110,155,215,0.45)" stroke-width="0.7"/>
<rect x="114.9" y="384.2" width="3.4" height="3.4" stroke="#5f92d4" fill="rgba(110,155,215,0.45)" stroke-width="0.7"/>
<rect x="106.9" y="392.4" width="3.4" height="3.4" stroke="#5f92d4" fill="rgba(110,155,215,0.45)" stroke-width="0.7"/>
<rect x="119.0" y="379.7" width="3.4" height="3.4" stroke="#5f92d4" fill="rgba(110,155,215,0.45)" stroke-width="0.7"/>
<rect x="124.7" y="372.6" width="3.4" height="3.4" stroke="#5f92d4" fill="rgba(110,155,215,0.45)" stroke-width="0.7"/>
<rect x="123.2" y="372.9" width="3.4" height="3.4" stroke="#5f92d4" fill="rgba(110,155,215,0.45)" stroke-width="0.7"/>
<rect x="99.3" y="403.9" width="3.4" height="3.4" stroke="#5f92d4" fill="rgba(110,155,215,0.45)" stroke-width="0.7"/>
<rect x="103.5" y="398.4" width="3.4" height="3.4" stroke="#5f92d4" fill="rgba(110,155,215,0.45)" stroke-width="0.7"/>
<rect x="114.3" y="384.9" width="3.4" height="3.4" stroke="#5f92d4" fill="rgba(110,155,215,0.45)" stroke-width="0.7"/>
<rect x="104.7" y="396.0" width="3.4" height="3.4" stroke="#5f92d4" fill="rgba(110,155,215,0.45)" stroke-width="0.7"/>
<rect x="115.7" y="382.7" width="3.4" height="3.4" stroke="#5f92d4" fill="rgba(110,155,215,0.45)" stroke-width="0.7"/>
<rect x="104.0" y="398.0" width="3.4" height="3.4" stroke="#5f92d4" fill="rgba(110,155,215,0.45)" stroke-width="0.7"/>
<rect x="113.7" y="384.9" width="3.4" height="3.4" stroke="#5f92d4" fill="rgba(110,155,215,0.45)" stroke-width="0.7"/>
<rect x="112.9" y="386.2" width="3.4" height="3.4" stroke="#5f92d4" fill="rgba(110,155,215,0.45)" stroke-width="0.7"/>
<rect x="103.8" y="398.4" width="3.4" height="3.4" stroke="#5f92d4" fill="rgba(110,155,215,0.45)" stroke-width="0.7"/>
<rect x="106.3" y="395.0" width="3.4" height="3.4" stroke="#5f92d4" fill="rgba(110,155,215,0.45)" stroke-width="0.7"/>
<rect x="100.4" y="402.6" width="3.4" height="3.4" stroke="#5f92d4" fill="rgba(110,155,215,0.45)" stroke-width="0.7"/>
<rect x="116.1" y="382.0" width="3.4" height="3.4" stroke="#5f92d4" fill="rgba(110,155,215,0.45)" stroke-width="0.7"/>
<rect x="110.4" y="389.3" width="3.4" height="3.4" stroke="#5f92d4" fill="rgba(110,155,215,0.45)" stroke-width="0.7"/>
<rect x="117.5" y="381.0" width="3.4" height="3.4" stroke="#5f92d4" fill="rgba(110,155,215,0.45)" stroke-width="0.7"/>
<rect x="112.1" y="388.0" width="3.4" height="3.4" stroke="#5f92d4" fill="rgba(110,155,215,0.45)" stroke-width="0.7"/>
<rect x="113.2" y="385.9" width="3.4" height="3.4" stroke="#5f92d4" fill="rgba(110,155,215,0.45)" stroke-width="0.7"/>
<rect x="117.3" y="380.8" width="3.4" height="3.4" stroke="#5f92d4" fill="rgba(110,155,215,0.45)" stroke-width="0.7"/>
<rect x="102.9" y="399.6" width="3.4" height="3.4" stroke="#5f92d4" fill="rgba(110,155,215,0.45)" stroke-width="0.7"/>
<rect x="115.8" y="382.8" width="3.4" height="3.4" stroke="#5f92d4" fill="rgba(110,155,215,0.45)" stroke-width="0.7"/>
<rect x="103.2" y="399.5" width="3.4" height="3.4" stroke="#5f92d4" fill="rgba(110,155,215,0.45)" stroke-width="0.7"/>
<rect x="117.8" y="380.0" width="3.4" height="3.4" stroke="#5f92d4" fill="rgba(110,155,215,0.45)" stroke-width="0.7"/>
<rect x="116.1" y="381.9" width="3.4" height="3.4" stroke="#5f92d4" fill="rgba(110,155,215,0.45)" stroke-width="0.7"/>
<rect x="109.8" y="391.9" width="3.4" height="3.4" stroke="#5f92d4" fill="rgba(110,155,215,0.45)" stroke-width="0.7"/>
<rect x="122.6" y="374.1" width="3.4" height="3.4" stroke="#5f92d4" fill="rgba(110,155,215,0.45)" stroke-width="0.7"/>
<rect x="124.1" y="372.4" width="3.4" height="3.4" stroke="#5f92d4" fill="rgba(110,155,215,0.45)" stroke-width="0.7"/>
<rect x="116.0" y="382.6" width="3.4" height="3.4" stroke="#5f92d4" fill="rgba(110,155,215,0.45)" stroke-width="0.7"/>
<rect x="117.7" y="380.8" width="3.4" height="3.4" stroke="#5f92d4" fill="rgba(110,155,215,0.45)" stroke-width="0.7"/>
<rect x="118.9" y="378.6" width="3.4" height="3.4" stroke="#5f92d4" fill="rgba(110,155,215,0.45)" stroke-width="0.7"/>
<rect x="122.0" y="375.3" width="3.4" height="3.4" stroke="#5f92d4" fill="rgba(110,155,215,0.45)" stroke-width="0.7"/>
<rect x="120.2" y="376.7" width="3.4" height="3.4" stroke="#5f92d4" fill="rgba(110,155,215,0.45)" stroke-width="0.7"/>
<rect x="111.4" y="387.8" width="3.4" height="3.4" stroke="#5f92d4" fill="rgba(110,155,215,0.45)" stroke-width="0.7"/>
<rect x="122.8" y="374.7" width="3.4" height="3.4" stroke="#5f92d4" fill="rgba(110,155,215,0.45)" stroke-width="0.7"/>
<rect x="117.8" y="380.9" width="3.4" height="3.4" stroke="#5f92d4" fill="rgba(110,155,215,0.45)" stroke-width="0.7"/>
<rect x="100.4" y="402.5" width="3.4" height="3.4" stroke="#5f92d4" fill="rgba(110,155,215,0.45)" stroke-width="0.7"/>
<rect x="113.1" y="386.8" width="3.4" height="3.4" stroke="#5f92d4" fill="rgba(110,155,215,0.45)" stroke-width="0.7"/>
<rect x="106.7" y="395.0" width="3.4" height="3.4" stroke="#5f92d4" fill="rgba(110,155,215,0.45)" stroke-width="0.7"/>
<rect x="103.1" y="399.0" width="3.4" height="3.4" stroke="#5f92d4" fill="rgba(110,155,215,0.45)" stroke-width="0.7"/>
<rect x="104.2" y="398.1" width="3.4" height="3.4" stroke="#5f92d4" fill="rgba(110,155,215,0.45)" stroke-width="0.7"/>
<rect x="111.5" y="388.2" width="3.4" height="3.4" stroke="#5f92d4" fill="rgba(110,155,215,0.45)" stroke-width="0.7"/>
<rect x="102.3" y="401.1" width="3.4" height="3.4" stroke="#5f92d4" fill="rgba(110,155,215,0.45)" stroke-width="0.7"/>
<rect x="104.2" y="397.7" width="3.4" height="3.4" stroke="#5f92d4" fill="rgba(110,155,215,0.45)" stroke-width="0.7"/>
<rect x="107.3" y="393.9" width="3.4" height="3.4" stroke="#5f92d4" fill="rgba(110,155,215,0.45)" stroke-width="0.7"/>
<rect x="102.7" y="400.1" width="3.4" height="3.4" stroke="#5f92d4" fill="rgba(110,155,215,0.45)" stroke-width="0.7"/>
<rect x="99.1" y="404.4" width="3.4" height="3.4" stroke="#5f92d4" fill="rgba(110,155,215,0.45)" stroke-width="0.7"/>
<rect x="123.4" y="372.9" width="3.4" height="3.4" stroke="#5f92d4" fill="rgba(110,155,215,0.45)" stroke-width="0.7"/>
<rect x="100.7" y="402.1" width="3.4" height="3.4" stroke="#5f92d4" fill="rgba(110,155,215,0.45)" stroke-width="0.7"/>
<rect x="101.9" y="401.3" width="3.4" height="3.4" stroke="#5f92d4" fill="rgba(110,155,215,0.45)" stroke-width="0.7"/>
<rect x="100.5" y="402.4" width="3.4" height="3.4" stroke="#5f92d4" fill="rgba(110,155,215,0.45)" stroke-width="0.7"/>
<rect x="123.3" y="373.5" width="3.4" height="3.4" stroke="#5f92d4" fill="rgba(110,155,215,0.45)" stroke-width="0.7"/>
<rect x="113.9" y="385.3" width="3.4" height="3.4" stroke="#5f92d4" fill="rgba(110,155,215,0.45)" stroke-width="0.7"/>
<rect x="122.3" y="375.9" width="3.4" height="3.4" stroke="#5f92d4" fill="rgba(110,155,215,0.45)" stroke-width="0.7"/>
<rect x="100.9" y="401.7" width="3.4" height="3.4" stroke="#5f92d4" fill="rgba(110,155,215,0.45)" stroke-width="0.7"/>
<rect x="117.9" y="380.9" width="3.4" height="3.4" stroke="#5f92d4" fill="rgba(110,155,215,0.45)" stroke-width="0.7"/>
<rect x="101.1" y="402.7" width="3.4" height="3.4" stroke="#5f92d4" fill="rgba(110,155,215,0.45)" stroke-width="0.7"/>
<rect x="121.3" y="375.5" width="3.4" height="3.4" stroke="#5f92d4" fill="rgba(110,155,215,0.45)" stroke-width="0.7"/>
<rect x="114.7" y="385.0" width="3.4" height="3.4" stroke="#5f92d4" fill="rgba(110,155,215,0.45)" stroke-width="0.7"/>
<rect x="123.8" y="373.0" width="3.4" height="3.4" stroke="#5f92d4" fill="rgba(110,155,215,0.45)" stroke-width="0.7"/>
<rect x="120.0" y="378.2" width="3.4" height="3.4" stroke="#5f92d4" fill="rgba(110,155,215,0.45)" stroke-width="0.7"/>
<rect x="114.4" y="383.7" width="3.4" height="3.4" stroke="#5f92d4" fill="rgba(110,155,215,0.45)" stroke-width="0.7"/>
<rect x="101.6" y="401.8" width="3.4" height="3.4" stroke="#5f92d4" fill="rgba(110,155,215,0.45)" stroke-width="0.7"/>
<rect x="109.0" y="391.5" width="3.4" height="3.4" stroke="#5f92d4" fill="rgba(110,155,215,0.45)" stroke-width="0.7"/>
<rect x="124.0" y="372.6" width="3.4" height="3.4" stroke="#5f92d4" fill="rgba(110,155,215,0.45)" stroke-width="0.7"/>
<rect x="99.7" y="404.0" width="3.4" height="3.4" stroke="#5f92d4" fill="rgba(110,155,215,0.45)" stroke-width="0.7"/>
<rect x="104.4" y="397.0" width="3.4" height="3.4" stroke="#5f92d4" fill="rgba(110,155,215,0.45)" stroke-width="0.7"/>
<rect x="122.7" y="374.6" width="3.4" height="3.4" stroke="#5f92d4" fill="rgba(110,155,215,0.45)" stroke-width="0.7"/>
<rect x="121.5" y="375.6" width="3.4" height="3.4" stroke="#5f92d4" fill="rgba(110,155,215,0.45)" stroke-width="0.7"/>
<rect x="121.4" y="374.7" width="3.4" height="3.4" stroke="#5f92d4" fill="rgba(110,155,215,0.45)" stroke-width="0.7"/>
<rect x="123.1" y="373.6" width="3.4" height="3.4" stroke="#5f92d4" fill="rgba(110,155,215,0.45)" stroke-width="0.7"/>
<rect x="108.1" y="391.8" width="3.4" height="3.4" stroke="#5f92d4" fill="rgba(110,155,215,0.45)" stroke-width="0.7"/>
<rect x="108.2" y="392.9" width="3.4" height="3.4" stroke="#5f92d4" fill="rgba(110,155,215,0.45)" stroke-width="0.7"/>
<rect x="116.5" y="380.3" width="3.4" height="3.4" stroke="#5f92d4" fill="rgba(110,155,215,0.45)" stroke-width="0.7"/>
<rect x="99.6" y="404.5" width="3.4" height="3.4" stroke="#5f92d4" fill="rgba(110,155,215,0.45)" stroke-width="0.7"/>
<rect x="107.8" y="393.2" width="3.4" height="3.4" stroke="#5f92d4" fill="rgba(110,155,215,0.45)" stroke-width="0.7"/>
<rect x="122.0" y="374.8" width="3.4" height="3.4" stroke="#5f92d4" fill="rgba(110,155,215,0.45)" stroke-width="0.7"/>
<rect x="102.5" y="400.9" width="3.4" height="3.4" stroke="#5f92d4" fill="rgba(110,155,215,0.45)" stroke-width="0.7"/>
<rect x="109.7" y="391.8" width="3.4" height="3.4" stroke="#5f92d4" fill="rgba(110,155,215,0.45)" stroke-width="0.7"/>
<rect x="103.0" y="400.3" width="3.4" height="3.4" stroke="#5f92d4" fill="rgba(110,155,215,0.45)" stroke-width="0.7"/>
<rect x="124.5" y="372.7" width="3.4" height="3.4" stroke="#5f92d4" fill="rgba(110,155,215,0.45)" stroke-width="0.7"/>
<rect x="99.0" y="403.9" width="3.4" height="3.4" stroke="#5f92d4" fill="rgba(110,155,215,0.45)" stroke-width="0.7"/>
<rect x="104.2" y="398.1" width="3.4" height="3.4" stroke="#5f92d4" fill="rgba(110,155,215,0.45)" stroke-width="0.7"/>
<rect x="114.9" y="384.4" width="3.4" height="3.4" stroke="#5f92d4" fill="rgba(110,155,215,0.45)" stroke-width="0.7"/>
<rect x="110.6" y="390.2" width="3.4" height="3.4" stroke="#5f92d4" fill="rgba(110,155,215,0.45)" stroke-width="0.7"/>
<rect x="100.8" y="402.9" width="3.4" height="3.4" stroke="#5f92d4" fill="rgba(110,155,215,0.45)" stroke-width="0.7"/>
<rect x="97.1" y="406.4" width="3.4" height="3.4" stroke="#5f92d4" fill="rgba(110,155,215,0.45)" stroke-width="0.7"/>
<rect x="105.7" y="395.8" width="3.4" height="3.4" stroke="#5f92d4" fill="rgba(110,155,215,0.45)" stroke-width="0.7"/>
<rect x="105.4" y="395.9" width="3.4" height="3.4" stroke="#5f92d4" fill="rgba(110,155,215,0.45)" stroke-width="0.7"/>
<rect x="98.2" y="405.6" width="3.4" height="3.4" stroke="#5f92d4" fill="rgba(110,155,215,0.45)" stroke-width="0.7"/>
<rect x="111.7" y="388.3" width="3.4" height="3.4" stroke="#5f92d4" fill="rgba(110,155,215,0.45)" stroke-width="0.7"/>
<rect x="98.1" y="405.8" width="3.4" height="3.4" stroke="#5f92d4" fill="rgba(110,155,215,0.45)" stroke-width="0.7"/>
<rect x="101.4" y="400.8" width="3.4" height="3.4" stroke="#5f92d4" fill="rgba(110,155,215,0.45)" stroke-width="0.7"/>
<rect x="123.0" y="374.5" width="3.4" height="3.4" stroke="#5f92d4" fill="rgba(110,155,215,0.45)" stroke-width="0.7"/>
<rect x="116.5" y="382.4" width="3.4" height="3.4" stroke="#5f92d4" fill="rgba(110,155,215,0.45)" stroke-width="0.7"/>
<rect x="104.8" y="396.8" width="3.4" height="3.4" stroke="#5f92d4" fill="rgba(110,155,215,0.45)" stroke-width="0.7"/>
<rect x="103.2" y="399.3" width="3.4" height="3.4" stroke="#5f92d4" fill="rgba(110,155,215,0.45)" stroke-width="0.7"/>
<rect x="109.4" y="390.7" width="3.4" height="3.4" stroke="#5f92d4" fill="rgba(110,155,215,0.45)" stroke-width="0.7"/>
<rect x="105.0" y="397.0" width="3.4" height="3.4" stroke="#5f92d4" fill="rgba(110,155,215,0.45)" stroke-width="0.7"/>
<rect x="122.6" y="375.2" width="3.4" height="3.4" stroke="#5f92d4" fill="rgba(110,155,215,0.45)" stroke-width="0.7"/>
<rect x="121.6" y="374.7" width="3.4" height="3.4" stroke="#5f92d4" fill="rgba(110,155,215,0.45)" stroke-width="0.7"/>
<rect x="105.7" y="397.2" width="3.4" height="3.4" stroke="#5f92d4" fill="rgba(110,155,215,0.45)" stroke-width="0.7"/>
<rect x="99.2" y="405.3" width="3.4" height="3.4" stroke="#5f92d4" fill="rgba(110,155,215,0.45)" stroke-width="0.7"/>
<rect x="118.0" y="380.0" width="3.4" height="3.4" stroke="#5f92d4" fill="rgba(110,155,215,0.45)" stroke-width="0.7"/>
<rect x="119.9" y="376.1" width="3.4" height="3.4" stroke="#5f92d4" fill="rgba(110,155,215,0.45)" stroke-width="0.7"/>
<rect x="109.8" y="390.9" width="3.4" height="3.4" stroke="#5f92d4" fill="rgba(110,155,215,0.45)" stroke-width="0.7"/>
<rect x="97.7" y="406.6" width="3.4" height="3.4" stroke="#5f92d4" fill="rgba(110,155,215,0.45)" stroke-width="0.7"/>
<rect x="117.0" y="382.3" width="3.4" height="3.4" stroke="#5f92d4" fill="rgba(110,155,215,0.45)" stroke-width="0.7"/>
<rect x="114.2" y="385.3" width="3.4" height="3.4" stroke="#5f92d4" fill="rgba(110,155,215,0.45)" stroke-width="0.7"/>
<rect x="113.3" y="386.1" width="3.4" height="3.4" stroke="#5f92d4" fill="rgba(110,155,215,0.45)" stroke-width="0.7"/>
<rect x="109.0" y="391.0" width="3.4" height="3.4" stroke="#5f92d4" fill="rgba(110,155,215,0.45)" stroke-width="0.7"/>
<rect x="111.3" y="388.8" width="3.4" height="3.4" stroke="#5f92d4" fill="rgba(110,155,215,0.45)" stroke-width="0.7"/>
<rect x="121.4" y="375.3" width="3.4" height="3.4" stroke="#5f92d4" fill="rgba(110,155,215,0.45)" stroke-width="0.7"/>
<rect x="115.5" y="383.9" width="3.4" height="3.4" stroke="#5f92d4" fill="rgba(110,155,215,0.45)" stroke-width="0.7"/>
<rect x="110.3" y="390.5" width="3.4" height="3.4" stroke="#5f92d4" fill="rgba(110,155,215,0.45)" stroke-width="0.7"/>
<rect x="99.7" y="402.7" width="3.4" height="3.4" stroke="#5f92d4" fill="rgba(110,155,215,0.45)" stroke-width="0.7"/>
<rect x="123.8" y="373.5" width="3.4" height="3.4" stroke="#5f92d4" fill="rgba(110,155,215,0.45)" stroke-width="0.7"/>
<rect x="115.6" y="382.5" width="3.4" height="3.4" stroke="#5f92d4" fill="rgba(110,155,215,0.45)" stroke-width="0.7"/>
<rect x="102.8" y="400.0" width="3.4" height="3.4" stroke="#5f92d4" fill="rgba(110,155,215,0.45)" stroke-width="0.7"/>
<rect x="155.2" y="349.4" width="3.9" height="3.9" stroke="#76a8de" fill="rgba(228,247,250,0.75)" stroke-width="0.6"/>
<rect x="143.5" y="351.4" width="3.9" height="3.9" stroke="#76a8de" fill="rgba(228,247,250,0.75)" stroke-width="0.6"/>
<rect x="154.6" y="367.2" width="3.9" height="3.9" stroke="#76a8de" fill="rgba(228,247,250,0.75)" stroke-width="0.6"/>
<rect x="154.6" y="375.2" width="3.9" height="3.9" stroke="#76a8de" fill="rgba(228,247,250,0.75)" stroke-width="0.6"/>
<rect x="158.7" y="347.1" width="3.9" height="3.9" stroke="#76a8de" fill="rgba(228,247,250,0.75)" stroke-width="0.6"/>
<rect x="149.1" y="346.1" width="3.9" height="3.9" stroke="#76a8de" fill="rgba(228,247,250,0.75)" stroke-width="0.6"/>
<rect x="153.1" y="354.1" width="3.9" height="3.9" stroke="#76a8de" fill="rgba(228,247,250,0.75)" stroke-width="0.6"/>
<rect x="157.1" y="360.1" width="3.9" height="3.9" stroke="#76a8de" fill="rgba(228,247,250,0.75)" stroke-width="0.6"/>
<rect x="159.1" y="364.1" width="3.9" height="3.9" stroke="#76a8de" fill="rgba(228,247,250,0.75)" stroke-width="0.6"/>
<rect x="156.1" y="370.1" width="3.9" height="3.9" stroke="#76a8de" fill="rgba(228,247,250,0.75)" stroke-width="0.6"/>
<rect x="191.4" y="356.5" width="3.9" height="3.9" stroke="#76a8de" fill="rgba(228,247,250,0.75)" stroke-width="0.6"/>
<rect x="240.1" y="344.1" width="3.9" height="3.9" stroke="#76a8de" fill="rgba(228,247,250,0.75)" stroke-width="0.6"/>
<rect x="174.1" y="360.0" width="3.9" height="3.9" stroke="#76a8de" fill="rgba(228,247,250,0.75)" stroke-width="0.6"/>
<rect x="203.5" y="356.1" width="3.9" height="3.9" stroke="#76a8de" fill="rgba(228,247,250,0.75)" stroke-width="0.6"/>
<rect x="213.0" y="354.8" width="3.9" height="3.9" stroke="#76a8de" fill="rgba(228,247,250,0.75)" stroke-width="0.6"/>
<rect x="175.6" y="361.8" width="3.9" height="3.9" stroke="#76a8de" fill="rgba(228,247,250,0.75)" stroke-width="0.6"/>
<rect x="227.3" y="345.8" width="3.9" height="3.9" stroke="#76a8de" fill="rgba(228,247,250,0.75)" stroke-width="0.6"/>
<rect x="228.4" y="346.6" width="3.9" height="3.9" stroke="#76a8de" fill="rgba(228,247,250,0.75)" stroke-width="0.6"/>
<rect x="181.7" y="359.7" width="3.9" height="3.9" stroke="#76a8de" fill="rgba(228,247,250,0.75)" stroke-width="0.6"/>
<rect x="228.8" y="348.5" width="3.9" height="3.9" stroke="#76a8de" fill="rgba(228,247,250,0.75)" stroke-width="0.6"/>
<rect x="220.6" y="345.4" width="3.9" height="3.9" stroke="#76a8de" fill="rgba(228,247,250,0.75)" stroke-width="0.6"/>
<rect x="204.4" y="354.3" width="3.9" height="3.9" stroke="#76a8de" fill="rgba(228,247,250,0.75)" stroke-width="0.6"/>
<rect x="211.0" y="352.8" width="3.9" height="3.9" stroke="#76a8de" fill="rgba(228,247,250,0.75)" stroke-width="0.6"/>
<rect x="204.0" y="355.2" width="3.9" height="3.9" stroke="#76a8de" fill="rgba(228,247,250,0.75)" stroke-width="0.6"/>
<rect x="182.9" y="357.2" width="3.9" height="3.9" stroke="#76a8de" fill="rgba(228,247,250,0.75)" stroke-width="0.6"/>
<rect x="209.3" y="355.7" width="3.9" height="3.9" stroke="#76a8de" fill="rgba(228,247,250,0.75)" stroke-width="0.6"/>
<rect x="231.5" y="347.8" width="3.9" height="3.9" stroke="#76a8de" fill="rgba(228,247,250,0.75)" stroke-width="0.6"/>
<rect x="171.9" y="362.9" width="3.9" height="3.9" stroke="#76a8de" fill="rgba(228,247,250,0.75)" stroke-width="0.6"/>
<rect x="199.3" y="355.2" width="3.9" height="3.9" stroke="#76a8de" fill="rgba(228,247,250,0.75)" stroke-width="0.6"/>
<rect x="224.9" y="345.2" width="3.9" height="3.9" stroke="#76a8de" fill="rgba(228,247,250,0.75)" stroke-width="0.6"/>
<rect x="231.9" y="342.8" width="3.9" height="3.9" stroke="#76a8de" fill="rgba(228,247,250,0.75)" stroke-width="0.6"/>
<rect x="187.2" y="356.3" width="3.9" height="3.9" stroke="#76a8de" fill="rgba(228,247,250,0.75)" stroke-width="0.6"/>
<rect x="177.8" y="359.0" width="3.9" height="3.9" stroke="#76a8de" fill="rgba(228,247,250,0.75)" stroke-width="0.6"/>
<rect x="220.1" y="348.1" width="3.9" height="3.9" stroke="#76a8de" fill="rgba(228,247,250,0.75)" stroke-width="0.6"/>
<rect x="203.5" y="354.6" width="3.9" height="3.9" stroke="#76a8de" fill="rgba(228,247,250,0.75)" stroke-width="0.6"/>
<rect x="215.0" y="351.4" width="3.9" height="3.9" stroke="#76a8de" fill="rgba(228,247,250,0.75)" stroke-width="0.6"/>
<rect x="181.3" y="358.3" width="3.9" height="3.9" stroke="#76a8de" fill="rgba(228,247,250,0.75)" stroke-width="0.6"/>
<rect x="184.3" y="360.2" width="3.9" height="3.9" stroke="#76a8de" fill="rgba(228,247,250,0.75)" stroke-width="0.6"/>
<rect x="193.5" y="359.1" width="3.9" height="3.9" stroke="#76a8de" fill="rgba(228,247,250,0.75)" stroke-width="0.6"/>
<rect x="223.3" y="351.1" width="3.9" height="3.9" stroke="#76a8de" fill="rgba(228,247,250,0.75)" stroke-width="0.6"/>
<rect x="211.2" y="352.4" width="3.9" height="3.9" stroke="#76a8de" fill="rgba(228,247,250,0.75)" stroke-width="0.6"/>
<rect x="199.0" y="355.0" width="3.9" height="3.9" stroke="#76a8de" fill="rgba(228,247,250,0.75)" stroke-width="0.6"/>
<rect x="217.4" y="351.8" width="3.9" height="3.9" stroke="#76a8de" fill="rgba(228,247,250,0.75)" stroke-width="0.6"/>
<rect x="219.4" y="349.4" width="3.9" height="3.9" stroke="#76a8de" fill="rgba(228,247,250,0.75)" stroke-width="0.6"/>
<rect x="221.8" y="349.7" width="3.9" height="3.9" stroke="#76a8de" fill="rgba(228,247,250,0.75)" stroke-width="0.6"/>
<rect x="214.7" y="351.8" width="3.9" height="3.9" stroke="#76a8de" fill="rgba(228,247,250,0.75)" stroke-width="0.6"/>
<rect x="186.2" y="359.1" width="3.9" height="3.9" stroke="#76a8de" fill="rgba(228,247,250,0.75)" stroke-width="0.6"/>
<rect x="218.2" y="351.1" width="3.9" height="3.9" stroke="#76a8de" fill="rgba(228,247,250,0.75)" stroke-width="0.6"/>
<rect x="212.6" y="354.9" width="3.9" height="3.9" stroke="#76a8de" fill="rgba(228,247,250,0.75)" stroke-width="0.6"/>
<rect x="203.9" y="354.4" width="3.9" height="3.9" stroke="#76a8de" fill="rgba(228,247,250,0.75)" stroke-width="0.6"/>
<rect x="221.7" y="349.8" width="3.9" height="3.9" stroke="#76a8de" fill="rgba(228,247,250,0.75)" stroke-width="0.6"/>
<rect x="197.7" y="355.6" width="3.9" height="3.9" stroke="#76a8de" fill="rgba(228,247,250,0.75)" stroke-width="0.6"/>
<rect x="238.5" y="343.6" width="3.9" height="3.9" stroke="#76a8de" fill="rgba(228,247,250,0.75)" stroke-width="0.6"/>
<rect x="242.4" y="340.0" width="3.9" height="3.9" stroke="#76a8de" fill="rgba(228,247,250,0.75)" stroke-width="0.6"/>
<rect x="188.2" y="359.8" width="3.9" height="3.9" stroke="#76a8de" fill="rgba(228,247,250,0.75)" stroke-width="0.6"/>
<rect x="177.5" y="360.1" width="3.9" height="3.9" stroke="#76a8de" fill="rgba(228,247,250,0.75)" stroke-width="0.6"/>
<rect x="205.2" y="353.6" width="3.9" height="3.9" stroke="#76a8de" fill="rgba(228,247,250,0.75)" stroke-width="0.6"/>
<rect x="176.7" y="358.3" width="3.9" height="3.9" stroke="#76a8de" fill="rgba(228,247,250,0.75)" stroke-width="0.6"/>
<rect x="229.2" y="348.7" width="3.9" height="3.9" stroke="#76a8de" fill="rgba(228,247,250,0.75)" stroke-width="0.6"/>
<rect x="194.1" y="354.7" width="3.9" height="3.9" stroke="#76a8de" fill="rgba(228,247,250,0.75)" stroke-width="0.6"/>
<rect x="217.3" y="353.0" width="3.9" height="3.9" stroke="#76a8de" fill="rgba(228,247,250,0.75)" stroke-width="0.6"/>
<rect x="209.4" y="352.7" width="3.9" height="3.9" stroke="#76a8de" fill="rgba(228,247,250,0.75)" stroke-width="0.6"/>
<rect x="228.7" y="347.9" width="3.9" height="3.9" stroke="#76a8de" fill="rgba(228,247,250,0.75)" stroke-width="0.6"/>
<rect x="236.8" y="345.5" width="3.9" height="3.9" stroke="#76a8de" fill="rgba(228,247,250,0.75)" stroke-width="0.6"/>
<rect x="214.0" y="350.6" width="3.9" height="3.9" stroke="#76a8de" fill="rgba(228,247,250,0.75)" stroke-width="0.6"/>
<rect x="242.3" y="343.0" width="3.9" height="3.9" stroke="#76a8de" fill="rgba(228,247,250,0.75)" stroke-width="0.6"/>
<rect x="208.2" y="355.2" width="3.9" height="3.9" stroke="#76a8de" fill="rgba(228,247,250,0.75)" stroke-width="0.6"/>
<rect x="190.9" y="358.3" width="3.9" height="3.9" stroke="#76a8de" fill="rgba(228,247,250,0.75)" stroke-width="0.6"/>
<rect x="202.8" y="356.9" width="3.9" height="3.9" stroke="#76a8de" fill="rgba(228,247,250,0.75)" stroke-width="0.6"/>
<rect x="221.5" y="347.1" width="3.9" height="3.9" stroke="#76a8de" fill="rgba(228,247,250,0.75)" stroke-width="0.6"/>
<rect x="254.9" y="330.7" width="3.9" height="3.9" stroke="#76a8de" fill="rgba(228,247,250,0.75)" stroke-width="0.6"/>
<rect x="265.2" y="317.7" width="3.9" height="3.9" stroke="#76a8de" fill="rgba(228,247,250,0.75)" stroke-width="0.6"/>
<rect x="275.7" y="333.2" width="3.9" height="3.9" stroke="#76a8de" fill="rgba(228,247,250,0.75)" stroke-width="0.6"/>
<rect x="291.4" y="315.1" width="3.9" height="3.9" stroke="#76a8de" fill="rgba(228,247,250,0.75)" stroke-width="0.6"/>
<rect x="301.8" y="321.6" width="3.9" height="3.9" stroke="#76a8de" fill="rgba(228,247,250,0.75)" stroke-width="0.6"/>
<rect x="309.6" y="315.1" width="3.9" height="3.9" stroke="#76a8de" fill="rgba(228,247,250,0.75)" stroke-width="0.6"/>
<rect x="317.4" y="307.2" width="3.9" height="3.9" stroke="#76a8de" fill="rgba(228,247,250,0.75)" stroke-width="0.6"/>
<rect x="320.1" y="320.2" width="3.9" height="3.9" stroke="#76a8de" fill="rgba(228,247,250,0.75)" stroke-width="0.6"/>
<rect x="250.1" y="341.1" width="3.9" height="3.9" stroke="#76a8de" fill="rgba(228,247,250,0.75)" stroke-width="0.6"/>
<rect x="258.1" y="338.1" width="3.9" height="3.9" stroke="#76a8de" fill="rgba(228,247,250,0.75)" stroke-width="0.6"/>
<rect x="262.1" y="334.1" width="3.9" height="3.9" stroke="#76a8de" fill="rgba(228,247,250,0.75)" stroke-width="0.6"/>
<rect x="266.1" y="336.1" width="3.9" height="3.9" stroke="#76a8de" fill="rgba(228,247,250,0.75)" stroke-width="0.6"/>
<rect x="270.1" y="332.1" width="3.9" height="3.9" stroke="#76a8de" fill="rgba(228,247,250,0.75)" stroke-width="0.6"/>
<rect x="281.1" y="329.1" width="3.9" height="3.9" stroke="#76a8de" fill="rgba(228,247,250,0.75)" stroke-width="0.6"/>
<rect x="284.1" y="332.1" width="3.9" height="3.9" stroke="#76a8de" fill="rgba(228,247,250,0.75)" stroke-width="0.6"/>
<rect x="287.1" y="328.1" width="3.9" height="3.9" stroke="#76a8de" fill="rgba(228,247,250,0.75)" stroke-width="0.6"/>
<rect x="294.1" y="324.1" width="3.9" height="3.9" stroke="#76a8de" fill="rgba(228,247,250,0.75)" stroke-width="0.6"/>
<rect x="298.1" y="329.1" width="3.9" height="3.9" stroke="#76a8de" fill="rgba(228,247,250,0.75)" stroke-width="0.6"/>
<rect x="306.1" y="325.1" width="3.9" height="3.9" stroke="#76a8de" fill="rgba(228,247,250,0.75)" stroke-width="0.6"/>
<rect x="312.1" y="320.1" width="3.9" height="3.9" stroke="#76a8de" fill="rgba(228,247,250,0.75)" stroke-width="0.6"/>
<rect x="316.1" y="316.1" width="3.9" height="3.9" stroke="#76a8de" fill="rgba(228,247,250,0.75)" stroke-width="0.6"/>
<rect x="234.1" y="343.1" width="3.9" height="3.9" stroke="#76a8de" fill="rgba(228,247,250,0.75)" stroke-width="0.6"/>
<rect x="239.1" y="345.1" width="3.9" height="3.9" stroke="#76a8de" fill="rgba(228,247,250,0.75)" stroke-width="0.6"/>
<rect x="451.2" y="210.6" width="3.9" height="3.9" stroke="#76a8de" fill="rgba(228,247,250,0.75)" stroke-width="0.6"/>
<rect x="504.4" y="210.2" width="3.9" height="3.9" stroke="#76a8de" fill="rgba(228,247,250,0.75)" stroke-width="0.6"/>
<rect x="489.4" y="216.6" width="3.9" height="3.9" stroke="#76a8de" fill="rgba(228,247,250,0.75)" stroke-width="0.6"/>
<rect x="467.2" y="232.9" width="3.9" height="3.9" stroke="#76a8de" fill="rgba(228,247,250,0.75)" stroke-width="0.6"/>
<rect x="487.4" y="233.4" width="3.9" height="3.9" stroke="#76a8de" fill="rgba(228,247,250,0.75)" stroke-width="0.6"/>
<rect x="435.7" y="234.1" width="3.9" height="3.9" stroke="#76a8de" fill="rgba(228,247,250,0.75)" stroke-width="0.6"/>
<rect x="418.4" y="242.4" width="3.9" height="3.9" stroke="#76a8de" fill="rgba(228,247,250,0.75)" stroke-width="0.6"/>
<rect x="461.1" y="242.7" width="3.9" height="3.9" stroke="#76a8de" fill="rgba(228,247,250,0.75)" stroke-width="0.6"/>
<rect x="455.2" y="244.9" width="3.9" height="3.9" stroke="#76a8de" fill="rgba(228,247,250,0.75)" stroke-width="0.6"/>
<rect x="456.4" y="249.2" width="3.9" height="3.9" stroke="#76a8de" fill="rgba(228,247,250,0.75)" stroke-width="0.6"/>
<rect x="432.2" y="247.4" width="3.9" height="3.9" stroke="#76a8de" fill="rgba(228,247,250,0.75)" stroke-width="0.6"/>
<rect x="446.4" y="248.7" width="3.9" height="3.9" stroke="#76a8de" fill="rgba(228,247,250,0.75)" stroke-width="0.6"/>
<rect x="381.8" y="249.5" width="3.9" height="3.9" stroke="#76a8de" fill="rgba(228,247,250,0.75)" stroke-width="0.6"/>
<rect x="443.4" y="255.2" width="3.9" height="3.9" stroke="#76a8de" fill="rgba(228,247,250,0.75)" stroke-width="0.6"/>
<rect x="439.2" y="259.4" width="3.9" height="3.9" stroke="#76a8de" fill="rgba(228,247,250,0.75)" stroke-width="0.6"/>
<rect x="428.9" y="264.2" width="3.9" height="3.9" stroke="#76a8de" fill="rgba(228,247,250,0.75)" stroke-width="0.6"/>
<rect x="371.4" y="265.2" width="3.9" height="3.9" stroke="#76a8de" fill="rgba(228,247,250,0.75)" stroke-width="0.6"/>
<rect x="345.7" y="271.2" width="3.9" height="3.9" stroke="#76a8de" fill="rgba(228,247,250,0.75)" stroke-width="0.6"/>
<rect x="341.9" y="275.4" width="3.9" height="3.9" stroke="#76a8de" fill="rgba(228,247,250,0.75)" stroke-width="0.6"/>
<rect x="338.2" y="281.2" width="3.9" height="3.9" stroke="#76a8de" fill="rgba(228,247,250,0.75)" stroke-width="0.6"/>
<rect x="344.4" y="286.2" width="3.9" height="3.9" stroke="#76a8de" fill="rgba(228,247,250,0.75)" stroke-width="0.6"/>
<rect x="367.4" y="274.4" width="3.9" height="3.9" stroke="#76a8de" fill="rgba(228,247,250,0.75)" stroke-width="0.6"/>
<rect x="364.4" y="279.4" width="3.9" height="3.9" stroke="#76a8de" fill="rgba(228,247,250,0.75)" stroke-width="0.6"/>
<rect x="379.6" y="273.2" width="3.9" height="3.9" stroke="#76a8de" fill="rgba(228,247,250,0.75)" stroke-width="0.6"/>
<rect x="382.6" y="276.4" width="3.9" height="3.9" stroke="#76a8de" fill="rgba(228,247,250,0.75)" stroke-width="0.6"/>
<rect x="388.2" y="276.2" width="3.9" height="3.9" stroke="#76a8de" fill="rgba(228,247,250,0.75)" stroke-width="0.6"/>
<rect x="395.1" y="280.2" width="3.9" height="3.9" stroke="#76a8de" fill="rgba(228,247,250,0.75)" stroke-width="0.6"/>
<rect x="399.6" y="277.8" width="3.9" height="3.9" stroke="#76a8de" fill="rgba(228,247,250,0.75)" stroke-width="0.6"/>
<rect x="405.1" y="282.2" width="3.9" height="3.9" stroke="#76a8de" fill="rgba(228,247,250,0.75)" stroke-width="0.6"/>
<rect x="406.4" y="271.2" width="3.9" height="3.9" stroke="#76a8de" fill="rgba(228,247,250,0.75)" stroke-width="0.6"/>
<rect x="412.9" y="275.1" width="3.9" height="3.9" stroke="#76a8de" fill="rgba(228,247,250,0.75)" stroke-width="0.6"/>
<rect x="413.9" y="274.2" width="3.9" height="3.9" stroke="#76a8de" fill="rgba(228,247,250,0.75)" stroke-width="0.6"/>
<rect x="419.9" y="273.2" width="3.9" height="3.9" stroke="#76a8de" fill="rgba(228,247,250,0.75)" stroke-width="0.6"/>
<rect x="359.9" y="289.2" width="3.9" height="3.9" stroke="#76a8de" fill="rgba(228,247,250,0.75)" stroke-width="0.6"/>
<rect x="363.2" y="292.6" width="3.9" height="3.9" stroke="#76a8de" fill="rgba(228,247,250,0.75)" stroke-width="0.6"/>
<rect x="371.9" y="290.1" width="3.9" height="3.9" stroke="#76a8de" fill="rgba(228,247,250,0.75)" stroke-width="0.6"/>
<rect x="380.8" y="290.8" width="3.9" height="3.9" stroke="#76a8de" fill="rgba(228,247,250,0.75)" stroke-width="0.6"/>
<rect x="383.2" y="291.8" width="3.9" height="3.9" stroke="#76a8de" fill="rgba(228,247,250,0.75)" stroke-width="0.6"/>
<rect x="324.1" y="316.1" width="3.9" height="3.9" stroke="#76a8de" fill="rgba(228,247,250,0.75)" stroke-width="0.6"/>
<rect x="329.1" y="310.1" width="3.9" height="3.9" stroke="#76a8de" fill="rgba(228,247,250,0.75)" stroke-width="0.6"/>
<rect x="334.1" y="298.1" width="3.9" height="3.9" stroke="#76a8de" fill="rgba(228,247,250,0.75)" stroke-width="0.6"/>
<rect x="326.1" y="308.1" width="3.9" height="3.9" stroke="#76a8de" fill="rgba(228,247,250,0.75)" stroke-width="0.6"/>
<rect x="350.1" y="294.1" width="3.9" height="3.9" stroke="#76a8de" fill="rgba(228,247,250,0.75)" stroke-width="0.6"/>
<rect x="354.1" y="298.1" width="3.9" height="3.9" stroke="#76a8de" fill="rgba(228,247,250,0.75)" stroke-width="0.6"/>
<rect x="331.1" y="302.1" width="3.9" height="3.9" stroke="#76a8de" fill="rgba(228,247,250,0.75)" stroke-width="0.6"/>
<rect x="325.1" y="320.1" width="3.9" height="3.9" stroke="#76a8de" fill="rgba(228,247,250,0.75)" stroke-width="0.6"/>
<rect x="338.1" y="294.1" width="3.9" height="3.9" stroke="#76a8de" fill="rgba(228,247,250,0.75)" stroke-width="0.6"/>
<circle cx="134.2" cy="395.2" r="2.1" stroke="#ef6c64" fill="rgba(255,246,228,0.55)" stroke-width="0.6"/>
<circle cx="145.9" cy="386.3" r="2.1" stroke="#ef6c64" fill="rgba(255,246,228,0.55)" stroke-width="0.6"/>
<circle cx="150.6" cy="379.8" r="2.1" stroke="#ef6c64" fill="rgba(255,246,228,0.55)" stroke-width="0.6"/>
<circle cx="124.5" cy="401.5" r="2.1" stroke="#ef6c64" fill="rgba(255,246,228,0.55)" stroke-width="0.6"/>
<circle cx="133.8" cy="394.9" r="2.1" stroke="#ef6c64" fill="rgba(255,246,228,0.55)" stroke-width="0.6"/>
<circle cx="118.4" cy="403.0" r="2.1" stroke="#ef6c64" fill="rgba(255,246,228,0.55)" stroke-width="0.6"/>
<circle cx="128.1" cy="401.5" r="2.1" stroke="#ef6c64" fill="rgba(255,246,228,0.55)" stroke-width="0.6"/>
<circle cx="132.6" cy="395.1" r="2.1" stroke="#ef6c64" fill="rgba(255,246,228,0.55)" stroke-width="0.6"/>
<circle cx="126.9" cy="399.9" r="2.1" stroke="#ef6c64" fill="rgba(255,246,228,0.55)" stroke-width="0.6"/>
<circle cx="117.7" cy="404.9" r="2.1" stroke="#ef6c64" fill="rgba(255,246,228,0.55)" stroke-width="0.6"/>
<circle cx="153.3" cy="379.4" r="2.1" stroke="#ef6c64" fill="rgba(255,246,228,0.55)" stroke-width="0.6"/>
<circle cx="139.8" cy="391.2" r="2.1" stroke="#ef6c64" fill="rgba(255,246,228,0.55)" stroke-width="0.6"/>
<circle cx="120.4" cy="402.6" r="2.1" stroke="#ef6c64" fill="rgba(255,246,228,0.55)" stroke-width="0.6"/>
<circle cx="125.5" cy="400.9" r="2.1" stroke="#ef6c64" fill="rgba(255,246,228,0.55)" stroke-width="0.6"/>
<circle cx="127.5" cy="399.6" r="2.1" stroke="#ef6c64" fill="rgba(255,246,228,0.55)" stroke-width="0.6"/>
<circle cx="128.4" cy="398.3" r="2.1" stroke="#ef6c64" fill="rgba(255,246,228,0.55)" stroke-width="0.6"/>
<circle cx="146.0" cy="383.9" r="2.1" stroke="#ef6c64" fill="rgba(255,246,228,0.55)" stroke-width="0.6"/>
<circle cx="123.8" cy="400.9" r="2.1" stroke="#ef6c64" fill="rgba(255,246,228,0.55)" stroke-width="0.6"/>
<circle cx="149.2" cy="380.5" r="2.1" stroke="#ef6c64" fill="rgba(255,246,228,0.55)" stroke-width="0.6"/>
<circle cx="121.9" cy="402.4" r="2.1" stroke="#ef6c64" fill="rgba(255,246,228,0.55)" stroke-width="0.6"/>
<circle cx="138.5" cy="390.5" r="2.1" stroke="#ef6c64" fill="rgba(255,246,228,0.55)" stroke-width="0.6"/>
<circle cx="128.5" cy="394.8" r="2.1" stroke="#ef6c64" fill="rgba(255,246,228,0.55)" stroke-width="0.6"/>
<circle cx="143.9" cy="387.4" r="2.1" stroke="#ef6c64" fill="rgba(255,246,228,0.55)" stroke-width="0.6"/>
<circle cx="132.9" cy="397.5" r="2.1" stroke="#ef6c64" fill="rgba(255,246,228,0.55)" stroke-width="0.6"/>
<circle cx="132.0" cy="396.4" r="2.1" stroke="#ef6c64" fill="rgba(255,246,228,0.55)" stroke-width="0.6"/>
<circle cx="133.8" cy="394.3" r="2.1" stroke="#ef6c64" fill="rgba(255,246,228,0.55)" stroke-width="0.6"/>
<circle cx="149.3" cy="381.0" r="2.1" stroke="#ef6c64" fill="rgba(255,246,228,0.55)" stroke-width="0.6"/>
<circle cx="140.8" cy="388.5" r="2.1" stroke="#ef6c64" fill="rgba(255,246,228,0.55)" stroke-width="0.6"/>
<circle cx="139.2" cy="392.7" r="2.1" stroke="#ef6c64" fill="rgba(255,246,228,0.55)" stroke-width="0.6"/>
<circle cx="136.7" cy="392.0" r="2.1" stroke="#ef6c64" fill="rgba(255,246,228,0.55)" stroke-width="0.6"/>
<circle cx="139.8" cy="390.5" r="2.1" stroke="#ef6c64" fill="rgba(255,246,228,0.55)" stroke-width="0.6"/>
<circle cx="135.3" cy="391.5" r="2.1" stroke="#ef6c64" fill="rgba(255,246,228,0.55)" stroke-width="0.6"/>
<circle cx="133.8" cy="392.8" r="2.1" stroke="#ef6c64" fill="rgba(255,246,228,0.55)" stroke-width="0.6"/>
<circle cx="125.7" cy="397.8" r="2.1" stroke="#ef6c64" fill="rgba(255,246,228,0.55)" stroke-width="0.6"/>
<circle cx="148.1" cy="380.1" r="2.1" stroke="#ef6c64" fill="rgba(255,246,228,0.55)" stroke-width="0.6"/>
<circle cx="122.6" cy="401.1" r="2.1" stroke="#ef6c64" fill="rgba(255,246,228,0.55)" stroke-width="0.6"/>
<circle cx="139.7" cy="392.4" r="2.1" stroke="#ef6c64" fill="rgba(255,246,228,0.55)" stroke-width="0.6"/>
<circle cx="133.4" cy="394.4" r="2.1" stroke="#ef6c64" fill="rgba(255,246,228,0.55)" stroke-width="0.6"/>
<circle cx="116.8" cy="405.8" r="2.1" stroke="#ef6c64" fill="rgba(255,246,228,0.55)" stroke-width="0.6"/>
<circle cx="150.5" cy="380.2" r="2.1" stroke="#ef6c64" fill="rgba(255,246,228,0.55)" stroke-width="0.6"/>
<circle cx="152.0" cy="377.3" r="2.1" stroke="#ef6c64" fill="rgba(255,246,228,0.55)" stroke-width="0.6"/>
<circle cx="122.4" cy="401.3" r="2.1" stroke="#ef6c64" fill="rgba(255,246,228,0.55)" stroke-width="0.6"/>
<circle cx="132.0" cy="398.3" r="2.1" stroke="#ef6c64" fill="rgba(255,246,228,0.55)" stroke-width="0.6"/>
<circle cx="116.5" cy="405.5" r="2.1" stroke="#ef6c64" fill="rgba(255,246,228,0.55)" stroke-width="0.6"/>
<circle cx="140.5" cy="387.9" r="2.1" stroke="#ef6c64" fill="rgba(255,246,228,0.55)" stroke-width="0.6"/>
<circle cx="147.1" cy="384.0" r="2.1" stroke="#ef6c64" fill="rgba(255,246,228,0.55)" stroke-width="0.6"/>
<circle cx="121.0" cy="403.5" r="2.1" stroke="#ef6c64" fill="rgba(255,246,228,0.55)" stroke-width="0.6"/>
<circle cx="129.4" cy="398.7" r="2.1" stroke="#ef6c64" fill="rgba(255,246,228,0.55)" stroke-width="0.6"/>
<circle cx="130.7" cy="398.1" r="2.1" stroke="#ef6c64" fill="rgba(255,246,228,0.55)" stroke-width="0.6"/>
<circle cx="116.7" cy="404.6" r="2.1" stroke="#ef6c64" fill="rgba(255,246,228,0.55)" stroke-width="0.6"/>
<circle cx="149.3" cy="381.6" r="2.1" stroke="#ef6c64" fill="rgba(255,246,228,0.55)" stroke-width="0.6"/>
<circle cx="152.5" cy="379.4" r="2.1" stroke="#ef6c64" fill="rgba(255,246,228,0.55)" stroke-width="0.6"/>
<circle cx="125.8" cy="400.0" r="2.1" stroke="#ef6c64" fill="rgba(255,246,228,0.55)" stroke-width="0.6"/>
<circle cx="146.1" cy="382.8" r="2.1" stroke="#ef6c64" fill="rgba(255,246,228,0.55)" stroke-width="0.6"/>
<circle cx="117.9" cy="404.5" r="2.1" stroke="#ef6c64" fill="rgba(255,246,228,0.55)" stroke-width="0.6"/>
<circle cx="151.3" cy="381.3" r="2.1" stroke="#ef6c64" fill="rgba(255,246,228,0.55)" stroke-width="0.6"/>
<circle cx="149.2" cy="379.2" r="2.1" stroke="#ef6c64" fill="rgba(255,246,228,0.55)" stroke-width="0.6"/>
<circle cx="133.9" cy="394.0" r="2.1" stroke="#ef6c64" fill="rgba(255,246,228,0.55)" stroke-width="0.6"/>
<circle cx="138.6" cy="389.7" r="2.1" stroke="#ef6c64" fill="rgba(255,246,228,0.55)" stroke-width="0.6"/>
<circle cx="117.7" cy="404.6" r="2.1" stroke="#ef6c64" fill="rgba(255,246,228,0.55)" stroke-width="0.6"/>
<circle cx="143.0" cy="388.7" r="2.1" stroke="#ef6c64" fill="rgba(255,246,228,0.55)" stroke-width="0.6"/>
<circle cx="146.9" cy="383.5" r="2.1" stroke="#ef6c64" fill="rgba(255,246,228,0.55)" stroke-width="0.6"/>
<circle cx="133.8" cy="394.5" r="2.1" stroke="#ef6c64" fill="rgba(255,246,228,0.55)" stroke-width="0.6"/>
<circle cx="139.8" cy="387.7" r="2.1" stroke="#ef6c64" fill="rgba(255,246,228,0.55)" stroke-width="0.6"/>
<circle cx="140.0" cy="389.8" r="2.1" stroke="#ef6c64" fill="rgba(255,246,228,0.55)" stroke-width="0.6"/>
<circle cx="139.2" cy="392.7" r="2.1" stroke="#ef6c64" fill="rgba(255,246,228,0.55)" stroke-width="0.6"/>
<circle cx="127.4" cy="396.7" r="2.1" stroke="#ef6c64" fill="rgba(255,246,228,0.55)" stroke-width="0.6"/>
<circle cx="135.0" cy="392.4" r="2.1" stroke="#ef6c64" fill="rgba(255,246,228,0.55)" stroke-width="0.6"/>
<circle cx="127.4" cy="399.0" r="2.1" stroke="#ef6c64" fill="rgba(255,246,228,0.55)" stroke-width="0.6"/>
<circle cx="119.7" cy="401.9" r="2.1" stroke="#ef6c64" fill="rgba(255,246,228,0.55)" stroke-width="0.6"/>
<circle cx="123.0" cy="401.9" r="2.1" stroke="#ef6c64" fill="rgba(255,246,228,0.55)" stroke-width="0.6"/>
<circle cx="129.1" cy="395.9" r="2.1" stroke="#ef6c64" fill="rgba(255,246,228,0.55)" stroke-width="0.6"/>
<circle cx="148.3" cy="380.1" r="2.1" stroke="#ef6c64" fill="rgba(255,246,228,0.55)" stroke-width="0.6"/>
<circle cx="146.0" cy="386.6" r="2.1" stroke="#ef6c64" fill="rgba(255,246,228,0.55)" stroke-width="0.6"/>
<circle cx="145.3" cy="385.1" r="2.1" stroke="#ef6c64" fill="rgba(255,246,228,0.55)" stroke-width="0.6"/>
<circle cx="138.7" cy="391.7" r="2.1" stroke="#ef6c64" fill="rgba(255,246,228,0.55)" stroke-width="0.6"/>
<circle cx="131.6" cy="395.2" r="2.1" stroke="#ef6c64" fill="rgba(255,246,228,0.55)" stroke-width="0.6"/>
<circle cx="117.8" cy="404.8" r="2.1" stroke="#ef6c64" fill="rgba(255,246,228,0.55)" stroke-width="0.6"/>
<circle cx="138.2" cy="389.2" r="2.1" stroke="#ef6c64" fill="rgba(255,246,228,0.55)" stroke-width="0.6"/>
<circle cx="140.0" cy="388.6" r="2.1" stroke="#ef6c64" fill="rgba(255,246,228,0.55)" stroke-width="0.6"/>
<circle cx="154.0" cy="372.0" r="2.1" stroke="#ef6c64" fill="rgba(255,246,228,0.55)" stroke-width="0.6"/>
<circle cx="155.0" cy="368.0" r="2.1" stroke="#ef6c64" fill="rgba(255,246,228,0.55)" stroke-width="0.6"/>
<circle cx="155.0" cy="364.0" r="2.1" stroke="#ef6c64" fill="rgba(255,246,228,0.55)" stroke-width="0.6"/>
<circle cx="135.1" cy="400.4" r="2.1" stroke="#ef6c64" fill="rgba(255,246,228,0.55)" stroke-width="0.6"/>
<circle cx="144.6" cy="401.2" r="2.1" stroke="#ef6c64" fill="rgba(255,246,228,0.55)" stroke-width="0.6"/>
<circle cx="145.1" cy="402.8" r="2.1" stroke="#ef6c64" fill="rgba(255,246,228,0.55)" stroke-width="0.6"/>
<circle cx="134.1" cy="403.4" r="2.1" stroke="#ef6c64" fill="rgba(255,246,228,0.55)" stroke-width="0.6"/>
<circle cx="140.2" cy="400.4" r="2.1" stroke="#ef6c64" fill="rgba(255,246,228,0.55)" stroke-width="0.6"/>
<circle cx="137.7" cy="401.8" r="2.1" stroke="#ef6c64" fill="rgba(255,246,228,0.55)" stroke-width="0.6"/>
<circle cx="138.8" cy="404.2" r="2.1" stroke="#ef6c64" fill="rgba(255,246,228,0.55)" stroke-width="0.6"/>
<circle cx="136.3" cy="402.7" r="2.1" stroke="#ef6c64" fill="rgba(255,246,228,0.55)" stroke-width="0.6"/>
<circle cx="142.5" cy="405.7" r="2.1" stroke="#ef6c64" fill="rgba(255,246,228,0.55)" stroke-width="0.6"/>
<circle cx="135.6" cy="400.5" r="2.1" stroke="#ef6c64" fill="rgba(255,246,228,0.55)" stroke-width="0.6"/>
<circle cx="136.7" cy="401.3" r="2.1" stroke="#ef6c64" fill="rgba(255,246,228,0.55)" stroke-width="0.6"/>
<circle cx="136.3" cy="400.5" r="2.1" stroke="#ef6c64" fill="rgba(255,246,228,0.55)" stroke-width="0.6"/>
<circle cx="157.1" cy="391.4" r="2.1" stroke="#ef6c64" fill="rgba(255,246,228,0.55)" stroke-width="0.6"/>
<circle cx="128.9" cy="386.6" r="2.1" stroke="#ef6c64" fill="rgba(255,246,228,0.55)" stroke-width="0.6"/>
<circle cx="134.3" cy="382.6" r="2.1" stroke="#ef6c64" fill="rgba(255,246,228,0.55)" stroke-width="0.6"/>
<circle cx="125.6" cy="395.4" r="2.1" stroke="#ef6c64" fill="rgba(255,246,228,0.55)" stroke-width="0.6"/>
<circle cx="152.0" cy="366.0" r="2.1" stroke="#ef6c64" fill="rgba(255,246,228,0.55)" stroke-width="0.6"/>
<circle cx="157.0" cy="366.0" r="2.1" stroke="#ef6c64" fill="rgba(255,246,228,0.55)" stroke-width="0.6"/>
<circle cx="120.0" cy="398.0" r="2.1" stroke="#ef6c64" fill="rgba(255,246,228,0.55)" stroke-width="0.6"/>
<circle cx="131.0" cy="392.0" r="2.1" stroke="#ef6c64" fill="rgba(255,246,228,0.55)" stroke-width="0.6"/>
<circle cx="182.5" cy="342.6" r="2.1" stroke="#ef6c64" fill="rgba(255,246,228,0.55)" stroke-width="0.6"/>
<circle cx="217.3" cy="314.5" r="2.1" stroke="#ef6c64" fill="rgba(255,246,228,0.55)" stroke-width="0.6"/>
<circle cx="177.2" cy="352.1" r="2.1" stroke="#ef6c64" fill="rgba(255,246,228,0.55)" stroke-width="0.6"/>
<circle cx="204.5" cy="325.3" r="2.1" stroke="#ef6c64" fill="rgba(255,246,228,0.55)" stroke-width="0.6"/>
<circle cx="184.3" cy="344.4" r="2.1" stroke="#ef6c64" fill="rgba(255,246,228,0.55)" stroke-width="0.6"/>
<circle cx="201.6" cy="328.7" r="2.1" stroke="#ef6c64" fill="rgba(255,246,228,0.55)" stroke-width="0.6"/>
<circle cx="176.5" cy="352.8" r="2.1" stroke="#ef6c64" fill="rgba(255,246,228,0.55)" stroke-width="0.6"/>
<circle cx="210.0" cy="317.7" r="2.1" stroke="#ef6c64" fill="rgba(255,246,228,0.55)" stroke-width="0.6"/>
<circle cx="179.8" cy="351.3" r="2.1" stroke="#ef6c64" fill="rgba(255,246,228,0.55)" stroke-width="0.6"/>
<circle cx="208.5" cy="316.1" r="2.1" stroke="#ef6c64" fill="rgba(255,246,228,0.55)" stroke-width="0.6"/>
<circle cx="211.0" cy="316.7" r="2.1" stroke="#ef6c64" fill="rgba(255,246,228,0.55)" stroke-width="0.6"/>
<circle cx="179.0" cy="347.6" r="2.1" stroke="#ef6c64" fill="rgba(255,246,228,0.55)" stroke-width="0.6"/>
<circle cx="194.6" cy="332.2" r="2.1" stroke="#ef6c64" fill="rgba(255,246,228,0.55)" stroke-width="0.6"/>
<circle cx="229.5" cy="297.1" r="2.1" stroke="#ef6c64" fill="rgba(255,246,228,0.55)" stroke-width="0.6"/>
<circle cx="190.5" cy="337.7" r="2.1" stroke="#ef6c64" fill="rgba(255,246,228,0.55)" stroke-width="0.6"/>
<circle cx="212.3" cy="315.7" r="2.1" stroke="#ef6c64" fill="rgba(255,246,228,0.55)" stroke-width="0.6"/>
<circle cx="236.1" cy="292.8" r="2.1" stroke="#ef6c64" fill="rgba(255,246,228,0.55)" stroke-width="0.6"/>
<circle cx="180.2" cy="349.2" r="2.1" stroke="#ef6c64" fill="rgba(255,246,228,0.55)" stroke-width="0.6"/>
<circle cx="208.3" cy="319.4" r="2.1" stroke="#ef6c64" fill="rgba(255,246,228,0.55)" stroke-width="0.6"/>
<circle cx="192.3" cy="331.7" r="2.1" stroke="#ef6c64" fill="rgba(255,246,228,0.55)" stroke-width="0.6"/>
<circle cx="200.4" cy="330.7" r="2.1" stroke="#ef6c64" fill="rgba(255,246,228,0.55)" stroke-width="0.6"/>
<circle cx="229.4" cy="299.2" r="2.1" stroke="#ef6c64" fill="rgba(255,246,228,0.55)" stroke-width="0.6"/>
<circle cx="233.0" cy="297.7" r="2.1" stroke="#ef6c64" fill="rgba(255,246,228,0.55)" stroke-width="0.6"/>
<circle cx="219.7" cy="310.5" r="2.1" stroke="#ef6c64" fill="rgba(255,246,228,0.55)" stroke-width="0.6"/>
<circle cx="196.3" cy="333.2" r="2.1" stroke="#ef6c64" fill="rgba(255,246,228,0.55)" stroke-width="0.6"/>
<circle cx="185.5" cy="343.9" r="2.1" stroke="#ef6c64" fill="rgba(255,246,228,0.55)" stroke-width="0.6"/>
<circle cx="177.3" cy="349.6" r="2.1" stroke="#ef6c64" fill="rgba(255,246,228,0.55)" stroke-width="0.6"/>
<circle cx="213.9" cy="313.1" r="2.1" stroke="#ef6c64" fill="rgba(255,246,228,0.55)" stroke-width="0.6"/>
<circle cx="186.8" cy="337.5" r="2.1" stroke="#ef6c64" fill="rgba(255,246,228,0.55)" stroke-width="0.6"/>
<circle cx="188.6" cy="340.1" r="2.1" stroke="#ef6c64" fill="rgba(255,246,228,0.55)" stroke-width="0.6"/>
<circle cx="193.7" cy="332.8" r="2.1" stroke="#ef6c64" fill="rgba(255,246,228,0.55)" stroke-width="0.6"/>
<circle cx="211.8" cy="318.4" r="2.1" stroke="#ef6c64" fill="rgba(255,246,228,0.55)" stroke-width="0.6"/>
<circle cx="227.3" cy="301.7" r="2.1" stroke="#ef6c64" fill="rgba(255,246,228,0.55)" stroke-width="0.6"/>
<circle cx="236.4" cy="295.3" r="2.1" stroke="#ef6c64" fill="rgba(255,246,228,0.55)" stroke-width="0.6"/>
<circle cx="188.6" cy="339.5" r="2.1" stroke="#ef6c64" fill="rgba(255,246,228,0.55)" stroke-width="0.6"/>
<circle cx="227.5" cy="303.0" r="2.1" stroke="#ef6c64" fill="rgba(255,246,228,0.55)" stroke-width="0.6"/>
<circle cx="234.9" cy="298.2" r="2.1" stroke="#ef6c64" fill="rgba(255,246,228,0.55)" stroke-width="0.6"/>
<circle cx="209.1" cy="321.4" r="2.1" stroke="#ef6c64" fill="rgba(255,246,228,0.55)" stroke-width="0.6"/>
<circle cx="176.4" cy="354.1" r="2.1" stroke="#ef6c64" fill="rgba(255,246,228,0.55)" stroke-width="0.6"/>
<circle cx="173.2" cy="357.1" r="2.1" stroke="#ef6c64" fill="rgba(255,246,228,0.55)" stroke-width="0.6"/>
<circle cx="183.5" cy="343.7" r="2.1" stroke="#ef6c64" fill="rgba(255,246,228,0.55)" stroke-width="0.6"/>
<circle cx="209.1" cy="317.0" r="2.1" stroke="#ef6c64" fill="rgba(255,246,228,0.55)" stroke-width="0.6"/>
<circle cx="223.0" cy="304.9" r="2.1" stroke="#ef6c64" fill="rgba(255,246,228,0.55)" stroke-width="0.6"/>
<circle cx="210.2" cy="316.9" r="2.1" stroke="#ef6c64" fill="rgba(255,246,228,0.55)" stroke-width="0.6"/>
<circle cx="179.6" cy="350.0" r="2.1" stroke="#ef6c64" fill="rgba(255,246,228,0.55)" stroke-width="0.6"/>
<circle cx="187.5" cy="340.3" r="2.1" stroke="#ef6c64" fill="rgba(255,246,228,0.55)" stroke-width="0.6"/>
<circle cx="210.9" cy="314.8" r="2.1" stroke="#ef6c64" fill="rgba(255,246,228,0.55)" stroke-width="0.6"/>
<circle cx="196.3" cy="329.7" r="2.1" stroke="#ef6c64" fill="rgba(255,246,228,0.55)" stroke-width="0.6"/>
<circle cx="176.6" cy="354.3" r="2.1" stroke="#ef6c64" fill="rgba(255,246,228,0.55)" stroke-width="0.6"/>
<circle cx="196.8" cy="330.0" r="2.1" stroke="#ef6c64" fill="rgba(255,246,228,0.55)" stroke-width="0.6"/>
<circle cx="221.7" cy="304.6" r="2.1" stroke="#ef6c64" fill="rgba(255,246,228,0.55)" stroke-width="0.6"/>
<circle cx="202.3" cy="324.1" r="2.1" stroke="#ef6c64" fill="rgba(255,246,228,0.55)" stroke-width="0.6"/>
<circle cx="211.5" cy="317.2" r="2.1" stroke="#ef6c64" fill="rgba(255,246,228,0.55)" stroke-width="0.6"/>
<circle cx="226.0" cy="301.4" r="2.1" stroke="#ef6c64" fill="rgba(255,246,228,0.55)" stroke-width="0.6"/>
<circle cx="174.5" cy="355.2" r="2.1" stroke="#ef6c64" fill="rgba(255,246,228,0.55)" stroke-width="0.6"/>
<circle cx="207.9" cy="318.8" r="2.1" stroke="#ef6c64" fill="rgba(255,246,228,0.55)" stroke-width="0.6"/>
<circle cx="213.2" cy="317.0" r="2.1" stroke="#ef6c64" fill="rgba(255,246,228,0.55)" stroke-width="0.6"/>
<circle cx="217.8" cy="312.5" r="2.1" stroke="#ef6c64" fill="rgba(255,246,228,0.55)" stroke-width="0.6"/>
<circle cx="213.2" cy="313.5" r="2.1" stroke="#ef6c64" fill="rgba(255,246,228,0.55)" stroke-width="0.6"/>
<circle cx="215.9" cy="314.0" r="2.1" stroke="#ef6c64" fill="rgba(255,246,228,0.55)" stroke-width="0.6"/>
<circle cx="200.3" cy="324.8" r="2.1" stroke="#ef6c64" fill="rgba(255,246,228,0.55)" stroke-width="0.6"/>
<circle cx="217.5" cy="310.7" r="2.1" stroke="#ef6c64" fill="rgba(255,246,228,0.55)" stroke-width="0.6"/>
<circle cx="173.7" cy="354.0" r="2.1" stroke="#ef6c64" fill="rgba(255,246,228,0.55)" stroke-width="0.6"/>
<circle cx="184.8" cy="341.3" r="2.1" stroke="#ef6c64" fill="rgba(255,246,228,0.55)" stroke-width="0.6"/>
<circle cx="172.1" cy="356.5" r="2.1" stroke="#ef6c64" fill="rgba(255,246,228,0.55)" stroke-width="0.6"/>
<circle cx="211.8" cy="314.4" r="2.1" stroke="#ef6c64" fill="rgba(255,246,228,0.55)" stroke-width="0.6"/>
<circle cx="195.0" cy="333.9" r="2.1" stroke="#ef6c64" fill="rgba(255,246,228,0.55)" stroke-width="0.6"/>
<circle cx="210.6" cy="315.2" r="2.1" stroke="#ef6c64" fill="rgba(255,246,228,0.55)" stroke-width="0.6"/>
<circle cx="187.9" cy="338.2" r="2.1" stroke="#ef6c64" fill="rgba(255,246,228,0.55)" stroke-width="0.6"/>
<circle cx="191.2" cy="333.4" r="2.1" stroke="#ef6c64" fill="rgba(255,246,228,0.55)" stroke-width="0.6"/>
<circle cx="193.9" cy="336.8" r="2.1" stroke="#ef6c64" fill="rgba(255,246,228,0.55)" stroke-width="0.6"/>
<circle cx="178.3" cy="350.5" r="2.1" stroke="#ef6c64" fill="rgba(255,246,228,0.55)" stroke-width="0.6"/>
<circle cx="213.7" cy="314.5" r="2.1" stroke="#ef6c64" fill="rgba(255,246,228,0.55)" stroke-width="0.6"/>
<circle cx="236.1" cy="291.7" r="2.1" stroke="#ef6c64" fill="rgba(255,246,228,0.55)" stroke-width="0.6"/>
<circle cx="200.9" cy="327.3" r="2.1" stroke="#ef6c64" fill="rgba(255,246,228,0.55)" stroke-width="0.6"/>
<circle cx="179.7" cy="350.3" r="2.1" stroke="#ef6c64" fill="rgba(255,246,228,0.55)" stroke-width="0.6"/>
<circle cx="229.9" cy="297.5" r="2.1" stroke="#ef6c64" fill="rgba(255,246,228,0.55)" stroke-width="0.6"/>
<circle cx="208.6" cy="322.0" r="2.1" stroke="#ef6c64" fill="rgba(255,246,228,0.55)" stroke-width="0.6"/>
<circle cx="191.5" cy="337.2" r="2.1" stroke="#ef6c64" fill="rgba(255,246,228,0.55)" stroke-width="0.6"/>
<circle cx="221.4" cy="306.4" r="2.1" stroke="#ef6c64" fill="rgba(255,246,228,0.55)" stroke-width="0.6"/>
<circle cx="214.8" cy="312.0" r="2.1" stroke="#ef6c64" fill="rgba(255,246,228,0.55)" stroke-width="0.6"/>
<circle cx="215.3" cy="314.2" r="2.1" stroke="#ef6c64" fill="rgba(255,246,228,0.55)" stroke-width="0.6"/>
<circle cx="189.8" cy="338.5" r="2.1" stroke="#ef6c64" fill="rgba(255,246,228,0.55)" stroke-width="0.6"/>
<circle cx="198.6" cy="330.2" r="2.1" stroke="#ef6c64" fill="rgba(255,246,228,0.55)" stroke-width="0.6"/>
<circle cx="188.1" cy="339.9" r="2.1" stroke="#ef6c64" fill="rgba(255,246,228,0.55)" stroke-width="0.6"/>
<circle cx="231.9" cy="297.6" r="2.1" stroke="#ef6c64" fill="rgba(255,246,228,0.55)" stroke-width="0.6"/>
<circle cx="223.1" cy="303.8" r="2.1" stroke="#ef6c64" fill="rgba(255,246,228,0.55)" stroke-width="0.6"/>
<circle cx="179.2" cy="346.5" r="2.1" stroke="#ef6c64" fill="rgba(255,246,228,0.55)" stroke-width="0.6"/>
<circle cx="237.9" cy="289.4" r="2.1" stroke="#ef6c64" fill="rgba(255,246,228,0.55)" stroke-width="0.6"/>
<circle cx="186.0" cy="343.8" r="2.1" stroke="#ef6c64" fill="rgba(255,246,228,0.55)" stroke-width="0.6"/>
<circle cx="175.0" cy="355.5" r="2.1" stroke="#ef6c64" fill="rgba(255,246,228,0.55)" stroke-width="0.6"/>
<circle cx="239.0" cy="290.4" r="2.1" stroke="#ef6c64" fill="rgba(255,246,228,0.55)" stroke-width="0.6"/>
<circle cx="172.3" cy="359.6" r="2.1" stroke="#ef6c64" fill="rgba(255,246,228,0.55)" stroke-width="0.6"/>
<circle cx="199.7" cy="327.2" r="2.1" stroke="#ef6c64" fill="rgba(255,246,228,0.55)" stroke-width="0.6"/>
<circle cx="192.5" cy="338.3" r="2.1" stroke="#ef6c64" fill="rgba(255,246,228,0.55)" stroke-width="0.6"/>
<circle cx="174.3" cy="355.7" r="2.1" stroke="#ef6c64" fill="rgba(255,246,228,0.55)" stroke-width="0.6"/>
<circle cx="173.2" cy="357.3" r="2.1" stroke="#ef6c64" fill="rgba(255,246,228,0.55)" stroke-width="0.6"/>
<circle cx="222.9" cy="305.9" r="2.1" stroke="#ef6c64" fill="rgba(255,246,228,0.55)" stroke-width="0.6"/>
<circle cx="187.4" cy="338.1" r="2.1" stroke="#ef6c64" fill="rgba(255,246,228,0.55)" stroke-width="0.6"/>
<circle cx="224.8" cy="306.5" r="2.1" stroke="#ef6c64" fill="rgba(255,246,228,0.55)" stroke-width="0.6"/>
<circle cx="208.7" cy="320.7" r="2.1" stroke="#ef6c64" fill="rgba(255,246,228,0.55)" stroke-width="0.6"/>
<circle cx="231.0" cy="297.3" r="2.1" stroke="#ef6c64" fill="rgba(255,246,228,0.55)" stroke-width="0.6"/>
<circle cx="177.1" cy="355.9" r="2.1" stroke="#ef6c64" fill="rgba(255,246,228,0.55)" stroke-width="0.6"/>
<circle cx="196.0" cy="333.6" r="2.1" stroke="#ef6c64" fill="rgba(255,246,228,0.55)" stroke-width="0.6"/>
<circle cx="220.2" cy="312.2" r="2.1" stroke="#ef6c64" fill="rgba(255,246,228,0.55)" stroke-width="0.6"/>
<circle cx="198.2" cy="329.1" r="2.1" stroke="#ef6c64" fill="rgba(255,246,228,0.55)" stroke-width="0.6"/>
<circle cx="219.4" cy="308.8" r="2.1" stroke="#ef6c64" fill="rgba(255,246,228,0.55)" stroke-width="0.6"/>
<circle cx="172.4" cy="355.5" r="2.1" stroke="#ef6c64" fill="rgba(255,246,228,0.55)" stroke-width="0.6"/>
<circle cx="210.3" cy="318.5" r="2.1" stroke="#ef6c64" fill="rgba(255,246,228,0.55)" stroke-width="0.6"/>
<circle cx="198.2" cy="327.4" r="2.1" stroke="#ef6c64" fill="rgba(255,246,228,0.55)" stroke-width="0.6"/>
<circle cx="272.1" cy="251.7" r="2.1" stroke="#ef6c64" fill="rgba(255,246,228,0.55)" stroke-width="0.6"/>
<circle cx="304.8" cy="230.9" r="2.1" stroke="#ef6c64" fill="rgba(255,246,228,0.55)" stroke-width="0.6"/>
<circle cx="302.0" cy="230.0" r="2.1" stroke="#ef6c64" fill="rgba(255,246,228,0.55)" stroke-width="0.6"/>
<circle cx="316.2" cy="214.4" r="2.1" stroke="#ef6c64" fill="rgba(255,246,228,0.55)" stroke-width="0.6"/>
<circle cx="287.5" cy="246.3" r="2.1" stroke="#ef6c64" fill="rgba(255,246,228,0.55)" stroke-width="0.6"/>
<circle cx="315.7" cy="218.3" r="2.1" stroke="#ef6c64" fill="rgba(255,246,228,0.55)" stroke-width="0.6"/>
<circle cx="299.5" cy="235.6" r="2.1" stroke="#ef6c64" fill="rgba(255,246,228,0.55)" stroke-width="0.6"/>
<circle cx="258.8" cy="273.1" r="2.1" stroke="#ef6c64" fill="rgba(255,246,228,0.55)" stroke-width="0.6"/>
<circle cx="281.3" cy="250.7" r="2.1" stroke="#ef6c64" fill="rgba(255,246,228,0.55)" stroke-width="0.6"/>
<circle cx="310.4" cy="229.5" r="2.1" stroke="#ef6c64" fill="rgba(255,246,228,0.55)" stroke-width="0.6"/>
<circle cx="307.5" cy="229.5" r="2.1" stroke="#ef6c64" fill="rgba(255,246,228,0.55)" stroke-width="0.6"/>
<circle cx="251.5" cy="279.3" r="2.1" stroke="#ef6c64" fill="rgba(255,246,228,0.55)" stroke-width="0.6"/>
<circle cx="268.6" cy="262.0" r="2.1" stroke="#ef6c64" fill="rgba(255,246,228,0.55)" stroke-width="0.6"/>
<circle cx="274.8" cy="259.9" r="2.1" stroke="#ef6c64" fill="rgba(255,246,228,0.55)" stroke-width="0.6"/>
<circle cx="299.2" cy="233.5" r="2.1" stroke="#ef6c64" fill="rgba(255,246,228,0.55)" stroke-width="0.6"/>
<circle cx="296.1" cy="239.7" r="2.1" stroke="#ef6c64" fill="rgba(255,246,228,0.55)" stroke-width="0.6"/>
<circle cx="303.5" cy="228.4" r="2.1" stroke="#ef6c64" fill="rgba(255,246,228,0.55)" stroke-width="0.6"/>
<circle cx="316.7" cy="226.1" r="2.1" stroke="#ef6c64" fill="rgba(255,246,228,0.55)" stroke-width="0.6"/>
<circle cx="305.9" cy="231.4" r="2.1" stroke="#ef6c64" fill="rgba(255,246,228,0.55)" stroke-width="0.6"/>
<circle cx="275.2" cy="251.0" r="2.1" stroke="#ef6c64" fill="rgba(255,246,228,0.55)" stroke-width="0.6"/>
<circle cx="246.2" cy="283.5" r="2.1" stroke="#ef6c64" fill="rgba(255,246,228,0.55)" stroke-width="0.6"/>
<circle cx="309.0" cy="225.6" r="2.1" stroke="#ef6c64" fill="rgba(255,246,228,0.55)" stroke-width="0.6"/>
<circle cx="322.7" cy="211.2" r="2.1" stroke="#ef6c64" fill="rgba(255,246,228,0.55)" stroke-width="0.6"/>
<circle cx="289.4" cy="237.2" r="2.1" stroke="#ef6c64" fill="rgba(255,246,228,0.55)" stroke-width="0.6"/>
<circle cx="299.2" cy="234.0" r="2.1" stroke="#ef6c64" fill="rgba(255,246,228,0.55)" stroke-width="0.6"/>
<circle cx="260.3" cy="266.4" r="2.1" stroke="#ef6c64" fill="rgba(255,246,228,0.55)" stroke-width="0.6"/>
<circle cx="273.0" cy="256.3" r="2.1" stroke="#ef6c64" fill="rgba(255,246,228,0.55)" stroke-width="0.6"/>
<circle cx="313.1" cy="223.5" r="2.1" stroke="#ef6c64" fill="rgba(255,246,228,0.55)" stroke-width="0.6"/>
<circle cx="319.4" cy="212.1" r="2.1" stroke="#ef6c64" fill="rgba(255,246,228,0.55)" stroke-width="0.6"/>
<circle cx="316.1" cy="217.5" r="2.1" stroke="#ef6c64" fill="rgba(255,246,228,0.55)" stroke-width="0.6"/>
<circle cx="268.8" cy="255.3" r="2.1" stroke="#ef6c64" fill="rgba(255,246,228,0.55)" stroke-width="0.6"/>
<circle cx="314.8" cy="224.4" r="2.1" stroke="#ef6c64" fill="rgba(255,246,228,0.55)" stroke-width="0.6"/>
<circle cx="257.7" cy="268.8" r="2.1" stroke="#ef6c64" fill="rgba(255,246,228,0.55)" stroke-width="0.6"/>
<circle cx="270.3" cy="258.0" r="2.1" stroke="#ef6c64" fill="rgba(255,246,228,0.55)" stroke-width="0.6"/>
<circle cx="284.2" cy="248.7" r="2.1" stroke="#ef6c64" fill="rgba(255,246,228,0.55)" stroke-width="0.6"/>
<circle cx="267.7" cy="258.9" r="2.1" stroke="#ef6c64" fill="rgba(255,246,228,0.55)" stroke-width="0.6"/>
<circle cx="265.5" cy="267.7" r="2.1" stroke="#ef6c64" fill="rgba(255,246,228,0.55)" stroke-width="0.6"/>
<circle cx="311.8" cy="225.2" r="2.1" stroke="#ef6c64" fill="rgba(255,246,228,0.55)" stroke-width="0.6"/>
<circle cx="272.0" cy="261.1" r="2.1" stroke="#ef6c64" fill="rgba(255,246,228,0.55)" stroke-width="0.6"/>
<circle cx="286.4" cy="242.8" r="2.1" stroke="#ef6c64" fill="rgba(255,246,228,0.55)" stroke-width="0.6"/>
<circle cx="249.0" cy="283.0" r="2.1" stroke="#ef6c64" fill="rgba(255,246,228,0.55)" stroke-width="0.6"/>
<circle cx="253.0" cy="287.0" r="2.1" stroke="#ef6c64" fill="rgba(255,246,228,0.55)" stroke-width="0.6"/>
<circle cx="257.0" cy="290.0" r="2.1" stroke="#ef6c64" fill="rgba(255,246,228,0.55)" stroke-width="0.6"/>
<circle cx="266.0" cy="283.0" r="2.1" stroke="#ef6c64" fill="rgba(255,246,228,0.55)" stroke-width="0.6"/>
<circle cx="268.0" cy="284.0" r="2.1" stroke="#ef6c64" fill="rgba(255,246,228,0.55)" stroke-width="0.6"/>
<circle cx="293.0" cy="253.0" r="2.1" stroke="#ef6c64" fill="rgba(255,246,228,0.55)" stroke-width="0.6"/>
<circle cx="301.0" cy="246.0" r="2.1" stroke="#ef6c64" fill="rgba(255,246,228,0.55)" stroke-width="0.6"/>
<circle cx="304.0" cy="240.0" r="2.1" stroke="#ef6c64" fill="rgba(255,246,228,0.55)" stroke-width="0.6"/>
<circle cx="320.0" cy="235.0" r="2.1" stroke="#ef6c64" fill="rgba(255,246,228,0.55)" stroke-width="0.6"/>
<circle cx="322.0" cy="225.0" r="2.1" stroke="#ef6c64" fill="rgba(255,246,228,0.55)" stroke-width="0.6"/>
<circle cx="318.0" cy="226.0" r="2.1" stroke="#ef6c64" fill="rgba(255,246,228,0.55)" stroke-width="0.6"/>
<circle cx="314.0" cy="222.0" r="2.1" stroke="#ef6c64" fill="rgba(255,246,228,0.55)" stroke-width="0.6"/>
<circle cx="489.3" cy="82.1" r="2.1" stroke="#ef6c64" fill="rgba(255,246,228,0.55)" stroke-width="0.6"/>
<circle cx="506.3" cy="83.4" r="2.1" stroke="#ef6c64" fill="rgba(255,246,228,0.55)" stroke-width="0.6"/>
<circle cx="491.3" cy="96.4" r="2.1" stroke="#ef6c64" fill="rgba(255,246,228,0.55)" stroke-width="0.6"/>
<circle cx="458.0" cy="106.4" r="2.1" stroke="#ef6c64" fill="rgba(255,246,228,0.55)" stroke-width="0.6"/>
<circle cx="463.0" cy="105.7" r="2.1" stroke="#ef6c64" fill="rgba(255,246,228,0.55)" stroke-width="0.6"/>
<circle cx="469.2" cy="108.4" r="2.1" stroke="#ef6c64" fill="rgba(255,246,228,0.55)" stroke-width="0.6"/>
<circle cx="457.2" cy="112.0" r="2.1" stroke="#ef6c64" fill="rgba(255,246,228,0.55)" stroke-width="0.6"/>
<circle cx="441.1" cy="117.7" r="2.1" stroke="#ef6c64" fill="rgba(255,246,228,0.55)" stroke-width="0.6"/>
<circle cx="445.4" cy="117.2" r="2.1" stroke="#ef6c64" fill="rgba(255,246,228,0.55)" stroke-width="0.6"/>
<circle cx="447.9" cy="119.7" r="2.1" stroke="#ef6c64" fill="rgba(255,246,228,0.55)" stroke-width="0.6"/>
<circle cx="430.9" cy="126.2" r="2.1" stroke="#ef6c64" fill="rgba(255,246,228,0.55)" stroke-width="0.6"/>
<circle cx="421.8" cy="129.2" r="2.1" stroke="#ef6c64" fill="rgba(255,246,228,0.55)" stroke-width="0.6"/>
<circle cx="414.8" cy="135.8" r="2.1" stroke="#ef6c64" fill="rgba(255,246,228,0.55)" stroke-width="0.6"/>
<circle cx="407.0" cy="138.5" r="2.1" stroke="#ef6c64" fill="rgba(255,246,228,0.55)" stroke-width="0.6"/>
<circle cx="433.9" cy="138.8" r="2.1" stroke="#ef6c64" fill="rgba(255,246,228,0.55)" stroke-width="0.6"/>
<circle cx="437.6" cy="147.3" r="2.1" stroke="#ef6c64" fill="rgba(255,246,228,0.55)" stroke-width="0.6"/>
<circle cx="453.2" cy="151.3" r="2.1" stroke="#ef6c64" fill="rgba(255,246,228,0.55)" stroke-width="0.6"/>
<circle cx="407.8" cy="148.8" r="2.1" stroke="#ef6c64" fill="rgba(255,246,228,0.55)" stroke-width="0.6"/>
<circle cx="401.5" cy="149.8" r="2.1" stroke="#ef6c64" fill="rgba(255,246,228,0.55)" stroke-width="0.6"/>
<circle cx="397.3" cy="152.8" r="2.1" stroke="#ef6c64" fill="rgba(255,246,228,0.55)" stroke-width="0.6"/>
<circle cx="420.6" cy="160.8" r="2.1" stroke="#ef6c64" fill="rgba(255,246,228,0.55)" stroke-width="0.6"/>
<circle cx="378.5" cy="161.0" r="2.1" stroke="#ef6c64" fill="rgba(255,246,228,0.55)" stroke-width="0.6"/>
<circle cx="382.5" cy="161.0" r="2.1" stroke="#ef6c64" fill="rgba(255,246,228,0.55)" stroke-width="0.6"/>
<circle cx="385.2" cy="157.3" r="2.1" stroke="#ef6c64" fill="rgba(255,246,228,0.55)" stroke-width="0.6"/>
<circle cx="390.2" cy="165.8" r="2.1" stroke="#ef6c64" fill="rgba(255,246,228,0.55)" stroke-width="0.6"/>
<circle cx="369.4" cy="170.6" r="2.1" stroke="#ef6c64" fill="rgba(255,246,228,0.55)" stroke-width="0.6"/>
<circle cx="373.4" cy="168.6" r="2.1" stroke="#ef6c64" fill="rgba(255,246,228,0.55)" stroke-width="0.6"/>
<circle cx="374.2" cy="173.6" r="2.1" stroke="#ef6c64" fill="rgba(255,246,228,0.55)" stroke-width="0.6"/>
<circle cx="384.2" cy="173.6" r="2.1" stroke="#ef6c64" fill="rgba(255,246,228,0.55)" stroke-width="0.6"/>
<circle cx="381.5" cy="180.6" r="2.1" stroke="#ef6c64" fill="rgba(255,246,228,0.55)" stroke-width="0.6"/>
<circle cx="356.4" cy="180.1" r="2.1" stroke="#ef6c64" fill="rgba(255,246,228,0.55)" stroke-width="0.6"/>
<circle cx="360.2" cy="178.6" r="2.1" stroke="#ef6c64" fill="rgba(255,246,228,0.55)" stroke-width="0.6"/>
<circle cx="365.2" cy="182.1" r="2.1" stroke="#ef6c64" fill="rgba(255,246,228,0.55)" stroke-width="0.6"/>
<circle cx="348.1" cy="188.2" r="2.1" stroke="#ef6c64" fill="rgba(255,246,228,0.55)" stroke-width="0.6"/>
<circle cx="351.9" cy="185.9" r="2.1" stroke="#ef6c64" fill="rgba(255,246,228,0.55)" stroke-width="0.6"/>
<circle cx="355.4" cy="185.9" r="2.1" stroke="#ef6c64" fill="rgba(255,246,228,0.55)" stroke-width="0.6"/>
<circle cx="361.9" cy="189.9" r="2.1" stroke="#ef6c64" fill="rgba(255,246,228,0.55)" stroke-width="0.6"/>
<circle cx="366.4" cy="193.4" r="2.1" stroke="#ef6c64" fill="rgba(255,246,228,0.55)" stroke-width="0.6"/>
<circle cx="369.7" cy="194.9" r="2.1" stroke="#ef6c64" fill="rgba(255,246,228,0.55)" stroke-width="0.6"/>
<circle cx="373.4" cy="198.9" r="2.1" stroke="#ef6c64" fill="rgba(255,246,228,0.55)" stroke-width="0.6"/>
<circle cx="383.5" cy="202.0" r="2.1" stroke="#ef6c64" fill="rgba(255,246,228,0.55)" stroke-width="0.6"/>
<circle cx="341.6" cy="192.9" r="2.1" stroke="#ef6c64" fill="rgba(255,246,228,0.55)" stroke-width="0.6"/>
<circle cx="340.6" cy="194.2" r="2.1" stroke="#ef6c64" fill="rgba(255,246,228,0.55)" stroke-width="0.6"/>
<circle cx="342.1" cy="201.5" r="2.1" stroke="#ef6c64" fill="rgba(255,246,228,0.55)" stroke-width="0.6"/>
<circle cx="330.3" cy="203.7" r="2.1" stroke="#ef6c64" fill="rgba(255,246,228,0.55)" stroke-width="0.6"/>
<circle cx="337.8" cy="209.5" r="2.1" stroke="#ef6c64" fill="rgba(255,246,228,0.55)" stroke-width="0.6"/>
<circle cx="346.6" cy="213.0" r="2.1" stroke="#ef6c64" fill="rgba(255,246,228,0.55)" stroke-width="0.6"/>
<circle cx="322.5" cy="209.7" r="2.1" stroke="#ef6c64" fill="rgba(255,246,228,0.55)" stroke-width="0.6"/>
<circle cx="322.0" cy="206.7" r="2.1" stroke="#ef6c64" fill="rgba(255,246,228,0.55)" stroke-width="0.6"/>
<circle cx="317.0" cy="214.7" r="2.1" stroke="#ef6c64" fill="rgba(255,246,228,0.55)" stroke-width="0.6"/>
<circle cx="313.0" cy="220.0" r="2.1" stroke="#ef6c64" fill="rgba(255,246,228,0.55)" stroke-width="0.6"/>
<circle cx="312.0" cy="227.3" r="2.1" stroke="#ef6c64" fill="rgba(255,246,228,0.55)" stroke-width="0.6"/>
<circle cx="318.8" cy="227.8" r="2.1" stroke="#ef6c64" fill="rgba(255,246,228,0.55)" stroke-width="0.6"/>
<circle cx="338.8" cy="226.3" r="2.1" stroke="#ef6c64" fill="rgba(255,246,228,0.55)" stroke-width="0.6"/>
<circle cx="342.6" cy="226.3" r="2.1" stroke="#ef6c64" fill="rgba(255,246,228,0.55)" stroke-width="0.6"/>
<circle cx="347.6" cy="226.3" r="2.1" stroke="#ef6c64" fill="rgba(255,246,228,0.55)" stroke-width="0.6"/>
<circle cx="415.8" cy="135.0" r="2.1" stroke="#ef6c64" fill="rgba(255,246,228,0.55)" stroke-width="0.6"/>
<circle cx="362.0" cy="183.0" r="2.1" stroke="#ef6c64" fill="rgba(255,246,228,0.55)" stroke-width="0.6"/>
<circle cx="394.0" cy="158.0" r="2.1" stroke="#ef6c64" fill="rgba(255,246,228,0.55)" stroke-width="0.6"/>
<circle cx="428.0" cy="128.0" r="2.1" stroke="#ef6c64" fill="rgba(255,246,228,0.55)" stroke-width="0.6"/>
<circle cx="129.4" cy="78.5" r="2.3" stroke="#ef6c64" fill="rgba(255,246,228,0.55)" stroke-width="0.8"/>
<rect x="127.3" y="108.9" width="4.2" height="4.2" stroke="#76a8de" fill="rgba(228,247,250,0.75)" stroke-width="0.8"/>
<text x="156.3" y="86.0" font-size="25" text-anchor="start" style="font-family:'Liberation Sans',sans-serif">backward</text>
<text x="157.5" y="117.6" font-size="24.8" text-anchor="start" style="font-family:'Liberation Sans',sans-serif">forward</text>
<g transform="translate(116.8,354.8)" fill="none" stroke="#000"><circle cx="0" cy="0" r="15.3" stroke-width="2.2"/><path d="M0.6,-9.4 L0.6,8.6" stroke-width="3.3"/><path d="M0.2,-9.2 L-4.6,-6.2" stroke-width="1.6" stroke-linecap="round"/><path d="M-5.4,8.7 L5.4,8.7" stroke-width="1.8"/></g>
<g transform="translate(249.1,227.6)" fill="none" stroke="#ff00ff"><circle cx="0" cy="0" r="15.3" stroke-width="2.2"/><path d="M-4.9,-4.2 C-4.6,-7.6 -2.3,-9.3 0.2,-9.3 C3.6,-9.3 5.8,-7.2 5.8,-4.4 C5.8,-1.2 2.6,1.2 -1.2,4.2 L-6.6,8.2" stroke-width="2.8"/><circle cx="-4.7" cy="-3.9" r="1.7" fill="#ff00ff" stroke="none"/><path d="M-7.3,8.4 L7.6,8.4" stroke-width="2.5"/><path d="M7,8.6 L7,3.4" stroke-width="1.6"/></g>
<g transform="translate(455.1,71.8)" fill="none" stroke="#0000ff"><circle cx="0" cy="0" r="15.3" stroke-width="2.2"/><path d="M-4.8,-4.3 C-4.2,-7.6 -2,-9 0.4,-9 C3.6,-9 5.2,-7.2 5.2,-5.0 C5.2,-2.2 2.8,-0.4 -0.4,-0.3" stroke-width="2.6"/><path d="M-3.6,-0.3 L0.6,-0.3" stroke-width="1.7"/><path d="M-0.4,-0.3 C4.2,-0.2 6.6,2 6.6,4.6 C6.6,7.6 3.8,9.3 -0.2,9.3 C-3.4,9.3 -5.4,7.8 -5.8,4.8" stroke-width="2.7"/><circle cx="-4.6" cy="-4.2" r="1.8" fill="#0000ff" stroke="none"/><circle cx="-5.6" cy="4.6" r="1.8" fill="#0000ff" stroke="none"/></g>
<path d="M83.30,346.80 L80.22,346.80 L80.22,327.84 C78.80,329.50 75.83,330.68 73.94,331.75 L73.94,329.03 C77.02,327.37 79.51,325.47 80.69,323.10 L83.30,323.10 Z" fill="#000"/>
<text x="91.0" y="72.3" font-size="35.5" text-anchor="end" style="font-family:'Liberation Sans',sans-serif">5</text>
<text x="89.0" y="130.5" font-size="35.5" text-anchor="end" style="font-family:'Liberation Sans',sans-serif">4</text>
<text x="90.0" y="204.3" font-size="35.5" text-anchor="end" style="font-family:'Liberation Sans',sans-serif">3</text>
<text x="89.5" y="277.3" font-size="35.5" text-anchor="end" style="font-family:'Liberation Sans',sans-serif">2</text>
<text x="216.0" y="453.3" font-size="35.5" text-anchor="middle" style="font-family:'Liberation Sans',sans-serif">2</text>
<text x="322.5" y="453.3" font-size="35.5" text-anchor="middle" style="font-family:'Liberation Sans',sans-serif">4</text>
<text x="448.2" y="453.3" font-size="35.5" text-anchor="middle" style="font-family:'Liberation Sans',sans-serif">6</text>
<text x="554.4" y="453.3" font-size="35.5" text-anchor="middle" style="font-family:'Liberation Sans',sans-serif">8</text>
<g transform="translate(199.5,487.9) scale(0.95,1)"><text x="0" y="0" font-size="30.8" style="font-family:'Liberation Sans',sans-serif">total ion yield<tspan font-size="31.5"> ( </tspan><tspan font-weight="bold" font-size="27" dx="1.5" dy="-1.8">×</tspan><tspan font-size="31.5" dx="1.6" dy="1.8"> 10</tspan><tspan font-weight="bold" font-size="24" dx="-1.0" dy="-15.7">6</tspan><tspan font-size="31.5" dx="0.3" dy="15.7"> )</tspan></text></g>
<text transform="translate(56.4,289.4) rotate(-90)" font-size="33" style="font-family:'Liberation Sans',sans-serif">yield ( <tspan dy="3.2">×</tspan><tspan dy="-3.2">10</tspan><tspan font-weight="bold" font-size="29" dy="-12.3">6</tspan><tspan dy="12.3"> )</tspan></text>
<text x="-0.8" y="35.2" font-size="41.5" text-anchor="start" style="font-family:'Liberation Sans',sans-serif">a</text>
<rect x="771.4" y="43.5" width="19.6" height="360.5" fill="#eff1e4"/>
<rect x="791" y="43.5" width="239" height="362.7" fill="#d9ecee"/>
<rect x="1030" y="43.5" width="194" height="362.7" fill="#f6e8e8"/>
<line x1="770.6" y1="42.0" x2="770.6" y2="407.75" stroke="#000" stroke-width="1.6"/>
<line x1="769.8" y1="42.8" x2="1226.5" y2="42.8" stroke="#000" stroke-width="1.6"/>
<line x1="1225.8" y1="42.0" x2="1225.8" y2="407.75" stroke="#000" stroke-width="1.4"/>
<line x1="769.8" y1="407" x2="1226.5" y2="407" stroke="#000" stroke-width="1.5"/>
<line x1="771" y1="72.1" x2="777" y2="72.1" stroke="#000" stroke-width="1.3"/>
<line x1="771" y1="133.1" x2="777" y2="133.1" stroke="#000" stroke-width="1.3"/>
<line x1="771" y1="194.8" x2="777" y2="194.8" stroke="#000" stroke-width="1.3"/>
<line x1="771" y1="255.9" x2="777" y2="255.9" stroke="#000" stroke-width="1.3"/>
<line x1="771" y1="316" x2="777" y2="316" stroke="#000" stroke-width="1.3"/>
<line x1="771" y1="377" x2="777" y2="377" stroke="#000" stroke-width="1.3"/>
<line x1="901" y1="406.5" x2="901" y2="400" stroke="#000" stroke-width="1.3"/>
<line x1="1030.6" y1="406.5" x2="1030.6" y2="400" stroke="#000" stroke-width="1.3"/>
<line x1="1161.4" y1="406.5" x2="1161.4" y2="400" stroke="#000" stroke-width="1.3"/>
<rect x="799.3" y="101.0" width="3.8" height="3.8" stroke="#6a9ad8" fill="rgba(200,225,245,0.5)" stroke-width="0.6"/>
<rect x="769.8" y="71.5" width="3.8" height="3.8" stroke="#6a9ad8" fill="rgba(200,225,245,0.5)" stroke-width="0.6"/>
<rect x="774.4" y="81.0" width="3.8" height="3.8" stroke="#6a9ad8" fill="rgba(200,225,245,0.5)" stroke-width="0.6"/>
<rect x="790.9" y="91.4" width="3.8" height="3.8" stroke="#6a9ad8" fill="rgba(200,225,245,0.5)" stroke-width="0.6"/>
<rect x="797.4" y="108.2" width="3.8" height="3.8" stroke="#6a9ad8" fill="rgba(200,225,245,0.5)" stroke-width="0.6"/>
<rect x="798.3" y="91.7" width="3.8" height="3.8" stroke="#6a9ad8" fill="rgba(200,225,245,0.5)" stroke-width="0.6"/>
<rect x="806.9" y="107.2" width="3.8" height="3.8" stroke="#6a9ad8" fill="rgba(200,225,245,0.5)" stroke-width="0.6"/>
<rect x="784.4" y="91.4" width="3.8" height="3.8" stroke="#6a9ad8" fill="rgba(200,225,245,0.5)" stroke-width="0.6"/>
<rect x="777.3" y="74.5" width="3.8" height="3.8" stroke="#6a9ad8" fill="rgba(200,225,245,0.5)" stroke-width="0.6"/>
<rect x="782.5" y="88.2" width="3.8" height="3.8" stroke="#6a9ad8" fill="rgba(200,225,245,0.5)" stroke-width="0.6"/>
<rect x="790.0" y="100.2" width="3.8" height="3.8" stroke="#6a9ad8" fill="rgba(200,225,245,0.5)" stroke-width="0.6"/>
<rect x="783.4" y="84.1" width="3.8" height="3.8" stroke="#6a9ad8" fill="rgba(200,225,245,0.5)" stroke-width="0.6"/>
<rect x="769.6" y="72.6" width="3.8" height="3.8" stroke="#6a9ad8" fill="rgba(200,225,245,0.5)" stroke-width="0.6"/>
<rect x="774.9" y="73.6" width="3.8" height="3.8" stroke="#6a9ad8" fill="rgba(200,225,245,0.5)" stroke-width="0.6"/>
<rect x="803.4" y="107.9" width="3.8" height="3.8" stroke="#6a9ad8" fill="rgba(200,225,245,0.5)" stroke-width="0.6"/>
<rect x="772.5" y="80.0" width="3.8" height="3.8" stroke="#6a9ad8" fill="rgba(200,225,245,0.5)" stroke-width="0.6"/>
<rect x="785.9" y="90.7" width="3.8" height="3.8" stroke="#6a9ad8" fill="rgba(200,225,245,0.5)" stroke-width="0.6"/>
<rect x="808.4" y="111.3" width="3.8" height="3.8" stroke="#6a9ad8" fill="rgba(200,225,245,0.5)" stroke-width="0.6"/>
<rect x="778.1" y="89.4" width="3.8" height="3.8" stroke="#6a9ad8" fill="rgba(200,225,245,0.5)" stroke-width="0.6"/>
<rect x="769.6" y="70.9" width="3.8" height="3.8" stroke="#6a9ad8" fill="rgba(200,225,245,0.5)" stroke-width="0.6"/>
<rect x="776.3" y="78.5" width="3.8" height="3.8" stroke="#6a9ad8" fill="rgba(200,225,245,0.5)" stroke-width="0.6"/>
<rect x="790.6" y="90.3" width="3.8" height="3.8" stroke="#6a9ad8" fill="rgba(200,225,245,0.5)" stroke-width="0.6"/>
<rect x="777.4" y="79.0" width="3.8" height="3.8" stroke="#6a9ad8" fill="rgba(200,225,245,0.5)" stroke-width="0.6"/>
<rect x="782.3" y="89.1" width="3.8" height="3.8" stroke="#6a9ad8" fill="rgba(200,225,245,0.5)" stroke-width="0.6"/>
<rect x="778.3" y="80.8" width="3.8" height="3.8" stroke="#6a9ad8" fill="rgba(200,225,245,0.5)" stroke-width="0.6"/>
<rect x="800.8" y="102.3" width="3.8" height="3.8" stroke="#6a9ad8" fill="rgba(200,225,245,0.5)" stroke-width="0.6"/>
<rect x="791.9" y="98.1" width="3.8" height="3.8" stroke="#6a9ad8" fill="rgba(200,225,245,0.5)" stroke-width="0.6"/>
<rect x="794.7" y="92.3" width="3.8" height="3.8" stroke="#6a9ad8" fill="rgba(200,225,245,0.5)" stroke-width="0.6"/>
<rect x="788.6" y="91.9" width="3.8" height="3.8" stroke="#6a9ad8" fill="rgba(200,225,245,0.5)" stroke-width="0.6"/>
<rect x="801.6" y="106.2" width="3.8" height="3.8" stroke="#6a9ad8" fill="rgba(200,225,245,0.5)" stroke-width="0.6"/>
<rect x="807.1" y="110.7" width="3.8" height="3.8" stroke="#6a9ad8" fill="rgba(200,225,245,0.5)" stroke-width="0.6"/>
<rect x="801.0" y="102.6" width="3.8" height="3.8" stroke="#6a9ad8" fill="rgba(200,225,245,0.5)" stroke-width="0.6"/>
<rect x="790.1" y="95.2" width="3.8" height="3.8" stroke="#6a9ad8" fill="rgba(200,225,245,0.5)" stroke-width="0.6"/>
<rect x="787.1" y="100.5" width="3.8" height="3.8" stroke="#6a9ad8" fill="rgba(200,225,245,0.5)" stroke-width="0.6"/>
<rect x="798.0" y="98.7" width="3.8" height="3.8" stroke="#6a9ad8" fill="rgba(200,225,245,0.5)" stroke-width="0.6"/>
<rect x="771.0" y="77.6" width="3.8" height="3.8" stroke="#6a9ad8" fill="rgba(200,225,245,0.5)" stroke-width="0.6"/>
<rect x="791.0" y="86.4" width="3.8" height="3.8" stroke="#6a9ad8" fill="rgba(200,225,245,0.5)" stroke-width="0.6"/>
<rect x="779.8" y="77.8" width="3.8" height="3.8" stroke="#6a9ad8" fill="rgba(200,225,245,0.5)" stroke-width="0.6"/>
<rect x="792.7" y="95.3" width="3.8" height="3.8" stroke="#6a9ad8" fill="rgba(200,225,245,0.5)" stroke-width="0.6"/>
<rect x="780.8" y="88.1" width="3.8" height="3.8" stroke="#6a9ad8" fill="rgba(200,225,245,0.5)" stroke-width="0.6"/>
<rect x="783.5" y="91.7" width="3.8" height="3.8" stroke="#6a9ad8" fill="rgba(200,225,245,0.5)" stroke-width="0.6"/>
<rect x="784.1" y="79.6" width="3.8" height="3.8" stroke="#6a9ad8" fill="rgba(200,225,245,0.5)" stroke-width="0.6"/>
<rect x="793.9" y="96.1" width="3.8" height="3.8" stroke="#6a9ad8" fill="rgba(200,225,245,0.5)" stroke-width="0.6"/>
<rect x="777.0" y="83.9" width="3.8" height="3.8" stroke="#6a9ad8" fill="rgba(200,225,245,0.5)" stroke-width="0.6"/>
<rect x="800.8" y="108.8" width="3.8" height="3.8" stroke="#6a9ad8" fill="rgba(200,225,245,0.5)" stroke-width="0.6"/>
<rect x="791.5" y="107.4" width="3.8" height="3.8" stroke="#6a9ad8" fill="rgba(200,225,245,0.5)" stroke-width="0.6"/>
<rect x="782.0" y="86.6" width="3.8" height="3.8" stroke="#6a9ad8" fill="rgba(200,225,245,0.5)" stroke-width="0.6"/>
<rect x="779.1" y="82.5" width="3.8" height="3.8" stroke="#6a9ad8" fill="rgba(200,225,245,0.5)" stroke-width="0.6"/>
<rect x="772.0" y="70.2" width="3.8" height="3.8" stroke="#6a9ad8" fill="rgba(200,225,245,0.5)" stroke-width="0.6"/>
<rect x="781.7" y="90.0" width="3.8" height="3.8" stroke="#6a9ad8" fill="rgba(200,225,245,0.5)" stroke-width="0.6"/>
<rect x="769.6" y="69.9" width="3.8" height="3.8" stroke="#6a9ad8" fill="rgba(200,225,245,0.5)" stroke-width="0.6"/>
<rect x="773.7" y="70.2" width="3.8" height="3.8" stroke="#6a9ad8" fill="rgba(200,225,245,0.5)" stroke-width="0.6"/>
<rect x="797.7" y="110.3" width="3.8" height="3.8" stroke="#6a9ad8" fill="rgba(200,225,245,0.5)" stroke-width="0.6"/>
<rect x="804.7" y="110.7" width="3.8" height="3.8" stroke="#6a9ad8" fill="rgba(200,225,245,0.5)" stroke-width="0.6"/>
<rect x="771.0" y="73.4" width="3.8" height="3.8" stroke="#6a9ad8" fill="rgba(200,225,245,0.5)" stroke-width="0.6"/>
<rect x="771.8" y="75.2" width="3.8" height="3.8" stroke="#6a9ad8" fill="rgba(200,225,245,0.5)" stroke-width="0.6"/>
<rect x="769.6" y="69.1" width="3.8" height="3.8" stroke="#6a9ad8" fill="rgba(200,225,245,0.5)" stroke-width="0.6"/>
<rect x="780.2" y="79.6" width="3.8" height="3.8" stroke="#6a9ad8" fill="rgba(200,225,245,0.5)" stroke-width="0.6"/>
<rect x="788.2" y="87.1" width="3.8" height="3.8" stroke="#6a9ad8" fill="rgba(200,225,245,0.5)" stroke-width="0.6"/>
<rect x="774.2" y="77.2" width="3.8" height="3.8" stroke="#6a9ad8" fill="rgba(200,225,245,0.5)" stroke-width="0.6"/>
<rect x="773.0" y="69.7" width="3.8" height="3.8" stroke="#6a9ad8" fill="rgba(200,225,245,0.5)" stroke-width="0.6"/>
<rect x="777.1" y="80.8" width="3.8" height="3.8" stroke="#6a9ad8" fill="rgba(200,225,245,0.5)" stroke-width="0.6"/>
<rect x="803.0" y="112.8" width="3.8" height="3.8" stroke="#6a9ad8" fill="rgba(200,225,245,0.5)" stroke-width="0.6"/>
<rect x="794.3" y="98.8" width="3.8" height="3.8" stroke="#6a9ad8" fill="rgba(200,225,245,0.5)" stroke-width="0.6"/>
<rect x="771.8" y="80.7" width="3.8" height="3.8" stroke="#6a9ad8" fill="rgba(200,225,245,0.5)" stroke-width="0.6"/>
<rect x="791.1" y="91.9" width="3.8" height="3.8" stroke="#6a9ad8" fill="rgba(200,225,245,0.5)" stroke-width="0.6"/>
<rect x="785.5" y="87.7" width="3.8" height="3.8" stroke="#6a9ad8" fill="rgba(200,225,245,0.5)" stroke-width="0.6"/>
<rect x="770.2" y="74.9" width="3.8" height="3.8" stroke="#6a9ad8" fill="rgba(200,225,245,0.5)" stroke-width="0.6"/>
<rect x="774.1" y="71.7" width="3.8" height="3.8" stroke="#6a9ad8" fill="rgba(200,225,245,0.5)" stroke-width="0.6"/>
<rect x="774.6" y="77.5" width="3.8" height="3.8" stroke="#6a9ad8" fill="rgba(200,225,245,0.5)" stroke-width="0.6"/>
<rect x="780.1" y="82.6" width="3.8" height="3.8" stroke="#6a9ad8" fill="rgba(200,225,245,0.5)" stroke-width="0.6"/>
<rect x="771.8" y="85.5" width="3.8" height="3.8" stroke="#6a9ad8" fill="rgba(200,225,245,0.5)" stroke-width="0.6"/>
<rect x="770.4" y="75.5" width="3.8" height="3.8" stroke="#6a9ad8" fill="rgba(200,225,245,0.5)" stroke-width="0.6"/>
<rect x="793.9" y="96.2" width="3.8" height="3.8" stroke="#6a9ad8" fill="rgba(200,225,245,0.5)" stroke-width="0.6"/>
<rect x="776.6" y="76.8" width="3.8" height="3.8" stroke="#6a9ad8" fill="rgba(200,225,245,0.5)" stroke-width="0.6"/>
<rect x="797.1" y="104.2" width="3.8" height="3.8" stroke="#6a9ad8" fill="rgba(200,225,245,0.5)" stroke-width="0.6"/>
<rect x="793.4" y="100.7" width="3.8" height="3.8" stroke="#6a9ad8" fill="rgba(200,225,245,0.5)" stroke-width="0.6"/>
<rect x="780.3" y="73.1" width="3.8" height="3.8" stroke="#6a9ad8" fill="rgba(200,225,245,0.5)" stroke-width="0.6"/>
<rect x="801.4" y="102.0" width="3.8" height="3.8" stroke="#6a9ad8" fill="rgba(200,225,245,0.5)" stroke-width="0.6"/>
<rect x="769.6" y="70.0" width="3.8" height="3.8" stroke="#6a9ad8" fill="rgba(200,225,245,0.5)" stroke-width="0.6"/>
<rect x="785.3" y="94.6" width="3.8" height="3.8" stroke="#6a9ad8" fill="rgba(200,225,245,0.5)" stroke-width="0.6"/>
<rect x="775.0" y="74.2" width="3.8" height="3.8" stroke="#6a9ad8" fill="rgba(200,225,245,0.5)" stroke-width="0.6"/>
<rect x="775.5" y="78.1" width="3.8" height="3.8" stroke="#6a9ad8" fill="rgba(200,225,245,0.5)" stroke-width="0.6"/>
<rect x="797.4" y="106.6" width="3.8" height="3.8" stroke="#6a9ad8" fill="rgba(200,225,245,0.5)" stroke-width="0.6"/>
<rect x="783.5" y="83.2" width="3.8" height="3.8" stroke="#6a9ad8" fill="rgba(200,225,245,0.5)" stroke-width="0.6"/>
<rect x="774.6" y="82.5" width="3.8" height="3.8" stroke="#6a9ad8" fill="rgba(200,225,245,0.5)" stroke-width="0.6"/>
<rect x="787.9" y="89.5" width="3.8" height="3.8" stroke="#6a9ad8" fill="rgba(200,225,245,0.5)" stroke-width="0.6"/>
<rect x="793.3" y="99.8" width="3.8" height="3.8" stroke="#6a9ad8" fill="rgba(200,225,245,0.5)" stroke-width="0.6"/>
<rect x="782.3" y="79.9" width="3.8" height="3.8" stroke="#6a9ad8" fill="rgba(200,225,245,0.5)" stroke-width="0.6"/>
<rect x="769.6" y="67.8" width="3.8" height="3.8" stroke="#6a9ad8" fill="rgba(200,225,245,0.5)" stroke-width="0.6"/>
<rect x="769.6" y="70.7" width="3.8" height="3.8" stroke="#6a9ad8" fill="rgba(200,225,245,0.5)" stroke-width="0.6"/>
<rect x="778.8" y="77.3" width="3.8" height="3.8" stroke="#6a9ad8" fill="rgba(200,225,245,0.5)" stroke-width="0.6"/>
<rect x="801.2" y="107.0" width="3.8" height="3.8" stroke="#6a9ad8" fill="rgba(200,225,245,0.5)" stroke-width="0.6"/>
<rect x="778.3" y="85.9" width="3.8" height="3.8" stroke="#6a9ad8" fill="rgba(200,225,245,0.5)" stroke-width="0.6"/>
<rect x="770.4" y="68.7" width="3.8" height="3.8" stroke="#6a9ad8" fill="rgba(200,225,245,0.5)" stroke-width="0.6"/>
<rect x="794.7" y="101.4" width="3.8" height="3.8" stroke="#6a9ad8" fill="rgba(200,225,245,0.5)" stroke-width="0.6"/>
<rect x="786.0" y="96.6" width="3.8" height="3.8" stroke="#6a9ad8" fill="rgba(200,225,245,0.5)" stroke-width="0.6"/>
<rect x="803.0" y="104.2" width="3.8" height="3.8" stroke="#6a9ad8" fill="rgba(200,225,245,0.5)" stroke-width="0.6"/>
<rect x="785.0" y="88.1" width="3.8" height="3.8" stroke="#6a9ad8" fill="rgba(200,225,245,0.5)" stroke-width="0.6"/>
<rect x="796.0" y="99.2" width="3.8" height="3.8" stroke="#6a9ad8" fill="rgba(200,225,245,0.5)" stroke-width="0.6"/>
<rect x="793.9" y="95.0" width="3.8" height="3.8" stroke="#6a9ad8" fill="rgba(200,225,245,0.5)" stroke-width="0.6"/>
<rect x="769.6" y="69.3" width="3.8" height="3.8" stroke="#6a9ad8" fill="rgba(200,225,245,0.5)" stroke-width="0.6"/>
<rect x="785.7" y="86.6" width="3.8" height="3.8" stroke="#6a9ad8" fill="rgba(200,225,245,0.5)" stroke-width="0.6"/>
<rect x="769.6" y="69.7" width="3.8" height="3.8" stroke="#6a9ad8" fill="rgba(200,225,245,0.5)" stroke-width="0.6"/>
<rect x="796.5" y="107.7" width="3.8" height="3.8" stroke="#6a9ad8" fill="rgba(200,225,245,0.5)" stroke-width="0.6"/>
<rect x="771.6" y="74.9" width="3.8" height="3.8" stroke="#6a9ad8" fill="rgba(200,225,245,0.5)" stroke-width="0.6"/>
<rect x="789.9" y="93.8" width="3.8" height="3.8" stroke="#6a9ad8" fill="rgba(200,225,245,0.5)" stroke-width="0.6"/>
<rect x="779.5" y="84.3" width="3.8" height="3.8" stroke="#6a9ad8" fill="rgba(200,225,245,0.5)" stroke-width="0.6"/>
<rect x="793.2" y="92.7" width="3.8" height="3.8" stroke="#6a9ad8" fill="rgba(200,225,245,0.5)" stroke-width="0.6"/>
<rect x="789.2" y="83.7" width="3.8" height="3.8" stroke="#6a9ad8" fill="rgba(200,225,245,0.5)" stroke-width="0.6"/>
<rect x="788.9" y="96.7" width="3.8" height="3.8" stroke="#6a9ad8" fill="rgba(200,225,245,0.5)" stroke-width="0.6"/>
<rect x="771.7" y="70.6" width="3.8" height="3.8" stroke="#6a9ad8" fill="rgba(200,225,245,0.5)" stroke-width="0.6"/>
<rect x="771.4" y="72.3" width="3.8" height="3.8" stroke="#6a9ad8" fill="rgba(200,225,245,0.5)" stroke-width="0.6"/>
<rect x="772.7" y="72.4" width="3.8" height="3.8" stroke="#6a9ad8" fill="rgba(200,225,245,0.5)" stroke-width="0.6"/>
<rect x="775.5" y="74.0" width="3.8" height="3.8" stroke="#6a9ad8" fill="rgba(200,225,245,0.5)" stroke-width="0.6"/>
<rect x="779.6" y="85.2" width="3.8" height="3.8" stroke="#6a9ad8" fill="rgba(200,225,245,0.5)" stroke-width="0.6"/>
<rect x="775.7" y="81.7" width="3.8" height="3.8" stroke="#6a9ad8" fill="rgba(200,225,245,0.5)" stroke-width="0.6"/>
<rect x="769.6" y="70.5" width="3.8" height="3.8" stroke="#6a9ad8" fill="rgba(200,225,245,0.5)" stroke-width="0.6"/>
<rect x="780.5" y="72.6" width="3.8" height="3.8" stroke="#6a9ad8" fill="rgba(200,225,245,0.5)" stroke-width="0.6"/>
<rect x="804.9" y="102.0" width="3.8" height="3.8" stroke="#6a9ad8" fill="rgba(200,225,245,0.5)" stroke-width="0.6"/>
<rect x="770.8" y="70.8" width="3.8" height="3.8" stroke="#6a9ad8" fill="rgba(200,225,245,0.5)" stroke-width="0.6"/>
<rect x="781.2" y="71.2" width="3.8" height="3.8" stroke="#6a9ad8" fill="rgba(200,225,245,0.5)" stroke-width="0.6"/>
<rect x="779.4" y="70.9" width="3.8" height="3.8" stroke="#6a9ad8" fill="rgba(200,225,245,0.5)" stroke-width="0.6"/>
<rect x="779.9" y="70.6" width="3.8" height="3.8" stroke="#6a9ad8" fill="rgba(200,225,245,0.5)" stroke-width="0.6"/>
<rect x="776.3" y="69.2" width="3.8" height="3.8" stroke="#6a9ad8" fill="rgba(200,225,245,0.5)" stroke-width="0.6"/>
<rect x="770.7" y="70.5" width="3.8" height="3.8" stroke="#6a9ad8" fill="rgba(200,225,245,0.5)" stroke-width="0.6"/>
<rect x="780.9" y="70.8" width="3.8" height="3.8" stroke="#6a9ad8" fill="rgba(200,225,245,0.5)" stroke-width="0.6"/>
<rect x="776.7" y="68.9" width="3.8" height="3.8" stroke="#6a9ad8" fill="rgba(200,225,245,0.5)" stroke-width="0.6"/>
<rect x="778.4" y="68.8" width="3.8" height="3.8" stroke="#6a9ad8" fill="rgba(200,225,245,0.5)" stroke-width="0.6"/>
<rect x="776.5" y="69.6" width="3.8" height="3.8" stroke="#6a9ad8" fill="rgba(200,225,245,0.5)" stroke-width="0.6"/>
<rect x="770.4" y="68.8" width="3.8" height="3.8" stroke="#6a9ad8" fill="rgba(200,225,245,0.5)" stroke-width="0.6"/>
<rect x="774.9" y="70.0" width="3.8" height="3.8" stroke="#6a9ad8" fill="rgba(200,225,245,0.5)" stroke-width="0.6"/>
<rect x="776.3" y="70.7" width="3.8" height="3.8" stroke="#6a9ad8" fill="rgba(200,225,245,0.5)" stroke-width="0.6"/>
<rect x="781.6" y="69.6" width="3.8" height="3.8" stroke="#6a9ad8" fill="rgba(200,225,245,0.5)" stroke-width="0.6"/>
<rect x="776.2" y="71.1" width="3.8" height="3.8" stroke="#6a9ad8" fill="rgba(200,225,245,0.5)" stroke-width="0.6"/>
<rect x="778.7" y="69.7" width="3.8" height="3.8" stroke="#6a9ad8" fill="rgba(200,225,245,0.5)" stroke-width="0.6"/>
<rect x="781.5" y="69.9" width="3.8" height="3.8" stroke="#6a9ad8" fill="rgba(200,225,245,0.5)" stroke-width="0.6"/>
<rect x="773.7" y="69.7" width="3.8" height="3.8" stroke="#6a9ad8" fill="rgba(200,225,245,0.5)" stroke-width="0.6"/>
<rect x="771.5" y="70.9" width="3.8" height="3.8" stroke="#6a9ad8" fill="rgba(200,225,245,0.5)" stroke-width="0.6"/>
<rect x="776.8" y="69.7" width="3.8" height="3.8" stroke="#6a9ad8" fill="rgba(200,225,245,0.5)" stroke-width="0.6"/>
<rect x="781.7" y="71.5" width="3.8" height="3.8" stroke="#6a9ad8" fill="rgba(200,225,245,0.5)" stroke-width="0.6"/>
<rect x="780.6" y="70.4" width="3.8" height="3.8" stroke="#6a9ad8" fill="rgba(200,225,245,0.5)" stroke-width="0.6"/>
<rect x="770.0" y="70.4" width="3.8" height="3.8" stroke="#6a9ad8" fill="rgba(200,225,245,0.5)" stroke-width="0.6"/>
<rect x="777.1" y="70.5" width="3.8" height="3.8" stroke="#6a9ad8" fill="rgba(200,225,245,0.5)" stroke-width="0.6"/>
<rect x="774.0" y="69.2" width="3.8" height="3.8" stroke="#6a9ad8" fill="rgba(200,225,245,0.5)" stroke-width="0.6"/>
<circle cx="801.2" cy="346.1" r="2.1" stroke="#f0605a" fill="rgba(250,220,205,0.45)" stroke-width="0.6"/>
<circle cx="771.7" cy="375.6" r="2.1" stroke="#f0605a" fill="rgba(250,220,205,0.45)" stroke-width="0.6"/>
<circle cx="776.3" cy="366.1" r="2.1" stroke="#f0605a" fill="rgba(250,220,205,0.45)" stroke-width="0.6"/>
<circle cx="792.8" cy="355.7" r="2.1" stroke="#f0605a" fill="rgba(250,220,205,0.45)" stroke-width="0.6"/>
<circle cx="799.3" cy="338.9" r="2.1" stroke="#f0605a" fill="rgba(250,220,205,0.45)" stroke-width="0.6"/>
<circle cx="800.2" cy="355.4" r="2.1" stroke="#f0605a" fill="rgba(250,220,205,0.45)" stroke-width="0.6"/>
<circle cx="808.8" cy="339.9" r="2.1" stroke="#f0605a" fill="rgba(250,220,205,0.45)" stroke-width="0.6"/>
<circle cx="786.3" cy="355.7" r="2.1" stroke="#f0605a" fill="rgba(250,220,205,0.45)" stroke-width="0.6"/>
<circle cx="779.2" cy="372.6" r="2.1" stroke="#f0605a" fill="rgba(250,220,205,0.45)" stroke-width="0.6"/>
<circle cx="784.4" cy="358.9" r="2.1" stroke="#f0605a" fill="rgba(250,220,205,0.45)" stroke-width="0.6"/>
<circle cx="791.9" cy="346.9" r="2.1" stroke="#f0605a" fill="rgba(250,220,205,0.45)" stroke-width="0.6"/>
<circle cx="785.3" cy="363.0" r="2.1" stroke="#f0605a" fill="rgba(250,220,205,0.45)" stroke-width="0.6"/>
<circle cx="771.5" cy="374.5" r="2.1" stroke="#f0605a" fill="rgba(250,220,205,0.45)" stroke-width="0.6"/>
<circle cx="776.8" cy="373.5" r="2.1" stroke="#f0605a" fill="rgba(250,220,205,0.45)" stroke-width="0.6"/>
<circle cx="805.3" cy="339.2" r="2.1" stroke="#f0605a" fill="rgba(250,220,205,0.45)" stroke-width="0.6"/>
<circle cx="774.4" cy="367.1" r="2.1" stroke="#f0605a" fill="rgba(250,220,205,0.45)" stroke-width="0.6"/>
<circle cx="787.8" cy="356.4" r="2.1" stroke="#f0605a" fill="rgba(250,220,205,0.45)" stroke-width="0.6"/>
<circle cx="810.3" cy="335.8" r="2.1" stroke="#f0605a" fill="rgba(250,220,205,0.45)" stroke-width="0.6"/>
<circle cx="780.0" cy="357.7" r="2.1" stroke="#f0605a" fill="rgba(250,220,205,0.45)" stroke-width="0.6"/>
<circle cx="771.5" cy="376.2" r="2.1" stroke="#f0605a" fill="rgba(250,220,205,0.45)" stroke-width="0.6"/>
<circle cx="778.2" cy="368.6" r="2.1" stroke="#f0605a" fill="rgba(250,220,205,0.45)" stroke-width="0.6"/>
<circle cx="792.5" cy="356.8" r="2.1" stroke="#f0605a" fill="rgba(250,220,205,0.45)" stroke-width="0.6"/>
<circle cx="779.3" cy="368.1" r="2.1" stroke="#f0605a" fill="rgba(250,220,205,0.45)" stroke-width="0.6"/>
<circle cx="784.2" cy="358.0" r="2.1" stroke="#f0605a" fill="rgba(250,220,205,0.45)" stroke-width="0.6"/>
<circle cx="780.2" cy="366.3" r="2.1" stroke="#f0605a" fill="rgba(250,220,205,0.45)" stroke-width="0.6"/>
<circle cx="802.7" cy="344.8" r="2.1" stroke="#f0605a" fill="rgba(250,220,205,0.45)" stroke-width="0.6"/>
<circle cx="793.8" cy="349.0" r="2.1" stroke="#f0605a" fill="rgba(250,220,205,0.45)" stroke-width="0.6"/>
<circle cx="796.6" cy="354.8" r="2.1" stroke="#f0605a" fill="rgba(250,220,205,0.45)" stroke-width="0.6"/>
<circle cx="790.5" cy="355.2" r="2.1" stroke="#f0605a" fill="rgba(250,220,205,0.45)" stroke-width="0.6"/>
<circle cx="803.5" cy="340.9" r="2.1" stroke="#f0605a" fill="rgba(250,220,205,0.45)" stroke-width="0.6"/>
<circle cx="809.0" cy="336.4" r="2.1" stroke="#f0605a" fill="rgba(250,220,205,0.45)" stroke-width="0.6"/>
<circle cx="802.9" cy="344.5" r="2.1" stroke="#f0605a" fill="rgba(250,220,205,0.45)" stroke-width="0.6"/>
<circle cx="792.0" cy="351.9" r="2.1" stroke="#f0605a" fill="rgba(250,220,205,0.45)" stroke-width="0.6"/>
<circle cx="789.0" cy="346.6" r="2.1" stroke="#f0605a" fill="rgba(250,220,205,0.45)" stroke-width="0.6"/>
<circle cx="799.9" cy="348.4" r="2.1" stroke="#f0605a" fill="rgba(250,220,205,0.45)" stroke-width="0.6"/>
<circle cx="772.9" cy="369.5" r="2.1" stroke="#f0605a" fill="rgba(250,220,205,0.45)" stroke-width="0.6"/>
<circle cx="792.9" cy="360.7" r="2.1" stroke="#f0605a" fill="rgba(250,220,205,0.45)" stroke-width="0.6"/>
<circle cx="781.7" cy="369.3" r="2.1" stroke="#f0605a" fill="rgba(250,220,205,0.45)" stroke-width="0.6"/>
<circle cx="794.6" cy="351.8" r="2.1" stroke="#f0605a" fill="rgba(250,220,205,0.45)" stroke-width="0.6"/>
<circle cx="782.7" cy="359.0" r="2.1" stroke="#f0605a" fill="rgba(250,220,205,0.45)" stroke-width="0.6"/>
<circle cx="785.4" cy="355.4" r="2.1" stroke="#f0605a" fill="rgba(250,220,205,0.45)" stroke-width="0.6"/>
<circle cx="786.0" cy="367.5" r="2.1" stroke="#f0605a" fill="rgba(250,220,205,0.45)" stroke-width="0.6"/>
<circle cx="795.8" cy="351.0" r="2.1" stroke="#f0605a" fill="rgba(250,220,205,0.45)" stroke-width="0.6"/>
<circle cx="778.9" cy="363.2" r="2.1" stroke="#f0605a" fill="rgba(250,220,205,0.45)" stroke-width="0.6"/>
<circle cx="802.7" cy="338.3" r="2.1" stroke="#f0605a" fill="rgba(250,220,205,0.45)" stroke-width="0.6"/>
<circle cx="793.4" cy="339.7" r="2.1" stroke="#f0605a" fill="rgba(250,220,205,0.45)" stroke-width="0.6"/>
<circle cx="783.9" cy="360.5" r="2.1" stroke="#f0605a" fill="rgba(250,220,205,0.45)" stroke-width="0.6"/>
<circle cx="781.0" cy="364.6" r="2.1" stroke="#f0605a" fill="rgba(250,220,205,0.45)" stroke-width="0.6"/>
<circle cx="773.9" cy="376.9" r="2.1" stroke="#f0605a" fill="rgba(250,220,205,0.45)" stroke-width="0.6"/>
<circle cx="783.6" cy="357.1" r="2.1" stroke="#f0605a" fill="rgba(250,220,205,0.45)" stroke-width="0.6"/>
<circle cx="771.5" cy="377.2" r="2.1" stroke="#f0605a" fill="rgba(250,220,205,0.45)" stroke-width="0.6"/>
<circle cx="775.6" cy="376.9" r="2.1" stroke="#f0605a" fill="rgba(250,220,205,0.45)" stroke-width="0.6"/>
<circle cx="799.6" cy="336.8" r="2.1" stroke="#f0605a" fill="rgba(250,220,205,0.45)" stroke-width="0.6"/>
<circle cx="806.6" cy="336.4" r="2.1" stroke="#f0605a" fill="rgba(250,220,205,0.45)" stroke-width="0.6"/>
<circle cx="772.9" cy="373.7" r="2.1" stroke="#f0605a" fill="rgba(250,220,205,0.45)" stroke-width="0.6"/>
<circle cx="773.7" cy="371.9" r="2.1" stroke="#f0605a" fill="rgba(250,220,205,0.45)" stroke-width="0.6"/>
<circle cx="771.5" cy="378.0" r="2.1" stroke="#f0605a" fill="rgba(250,220,205,0.45)" stroke-width="0.6"/>
<circle cx="782.1" cy="367.5" r="2.1" stroke="#f0605a" fill="rgba(250,220,205,0.45)" stroke-width="0.6"/>
<circle cx="790.1" cy="360.0" r="2.1" stroke="#f0605a" fill="rgba(250,220,205,0.45)" stroke-width="0.6"/>
<circle cx="776.1" cy="369.9" r="2.1" stroke="#f0605a" fill="rgba(250,220,205,0.45)" stroke-width="0.6"/>
<circle cx="774.9" cy="377.4" r="2.1" stroke="#f0605a" fill="rgba(250,220,205,0.45)" stroke-width="0.6"/>
<circle cx="779.0" cy="366.3" r="2.1" stroke="#f0605a" fill="rgba(250,220,205,0.45)" stroke-width="0.6"/>
<circle cx="804.9" cy="334.3" r="2.1" stroke="#f0605a" fill="rgba(250,220,205,0.45)" stroke-width="0.6"/>
<circle cx="796.2" cy="348.3" r="2.1" stroke="#f0605a" fill="rgba(250,220,205,0.45)" stroke-width="0.6"/>
<circle cx="773.7" cy="366.4" r="2.1" stroke="#f0605a" fill="rgba(250,220,205,0.45)" stroke-width="0.6"/>
<circle cx="793.0" cy="355.2" r="2.1" stroke="#f0605a" fill="rgba(250,220,205,0.45)" stroke-width="0.6"/>
<circle cx="787.4" cy="359.4" r="2.1" stroke="#f0605a" fill="rgba(250,220,205,0.45)" stroke-width="0.6"/>
<circle cx="772.1" cy="372.2" r="2.1" stroke="#f0605a" fill="rgba(250,220,205,0.45)" stroke-width="0.6"/>
<circle cx="776.0" cy="375.4" r="2.1" stroke="#f0605a" fill="rgba(250,220,205,0.45)" stroke-width="0.6"/>
<circle cx="776.5" cy="369.6" r="2.1" stroke="#f0605a" fill="rgba(250,220,205,0.45)" stroke-width="0.6"/>
<circle cx="782.0" cy="364.5" r="2.1" stroke="#f0605a" fill="rgba(250,220,205,0.45)" stroke-width="0.6"/>
<circle cx="773.7" cy="361.6" r="2.1" stroke="#f0605a" fill="rgba(250,220,205,0.45)" stroke-width="0.6"/>
<circle cx="772.3" cy="371.6" r="2.1" stroke="#f0605a" fill="rgba(250,220,205,0.45)" stroke-width="0.6"/>
<circle cx="795.8" cy="350.9" r="2.1" stroke="#f0605a" fill="rgba(250,220,205,0.45)" stroke-width="0.6"/>
<circle cx="778.5" cy="370.3" r="2.1" stroke="#f0605a" fill="rgba(250,220,205,0.45)" stroke-width="0.6"/>
<circle cx="799.0" cy="342.9" r="2.1" stroke="#f0605a" fill="rgba(250,220,205,0.45)" stroke-width="0.6"/>
<circle cx="795.3" cy="346.4" r="2.1" stroke="#f0605a" fill="rgba(250,220,205,0.45)" stroke-width="0.6"/>
<circle cx="782.2" cy="374.0" r="2.1" stroke="#f0605a" fill="rgba(250,220,205,0.45)" stroke-width="0.6"/>
<circle cx="803.3" cy="345.1" r="2.1" stroke="#f0605a" fill="rgba(250,220,205,0.45)" stroke-width="0.6"/>
<circle cx="771.5" cy="377.1" r="2.1" stroke="#f0605a" fill="rgba(250,220,205,0.45)" stroke-width="0.6"/>
<circle cx="787.2" cy="352.5" r="2.1" stroke="#f0605a" fill="rgba(250,220,205,0.45)" stroke-width="0.6"/>
<circle cx="776.9" cy="372.9" r="2.1" stroke="#f0605a" fill="rgba(250,220,205,0.45)" stroke-width="0.6"/>
<circle cx="777.4" cy="369.0" r="2.1" stroke="#f0605a" fill="rgba(250,220,205,0.45)" stroke-width="0.6"/>
<circle cx="799.3" cy="340.5" r="2.1" stroke="#f0605a" fill="rgba(250,220,205,0.45)" stroke-width="0.6"/>
<circle cx="785.4" cy="363.9" r="2.1" stroke="#f0605a" fill="rgba(250,220,205,0.45)" stroke-width="0.6"/>
<circle cx="776.5" cy="364.6" r="2.1" stroke="#f0605a" fill="rgba(250,220,205,0.45)" stroke-width="0.6"/>
<circle cx="789.8" cy="357.6" r="2.1" stroke="#f0605a" fill="rgba(250,220,205,0.45)" stroke-width="0.6"/>
<circle cx="795.2" cy="347.3" r="2.1" stroke="#f0605a" fill="rgba(250,220,205,0.45)" stroke-width="0.6"/>
<circle cx="784.2" cy="367.2" r="2.1" stroke="#f0605a" fill="rgba(250,220,205,0.45)" stroke-width="0.6"/>
<circle cx="771.5" cy="379.3" r="2.1" stroke="#f0605a" fill="rgba(250,220,205,0.45)" stroke-width="0.6"/>
<circle cx="771.5" cy="376.4" r="2.1" stroke="#f0605a" fill="rgba(250,220,205,0.45)" stroke-width="0.6"/>
<circle cx="780.7" cy="369.8" r="2.1" stroke="#f0605a" fill="rgba(250,220,205,0.45)" stroke-width="0.6"/>
<circle cx="803.1" cy="340.1" r="2.1" stroke="#f0605a" fill="rgba(250,220,205,0.45)" stroke-width="0.6"/>
<circle cx="780.2" cy="361.2" r="2.1" stroke="#f0605a" fill="rgba(250,220,205,0.45)" stroke-width="0.6"/>
<circle cx="772.3" cy="378.4" r="2.1" stroke="#f0605a" fill="rgba(250,220,205,0.45)" stroke-width="0.6"/>
<circle cx="796.6" cy="345.7" r="2.1" stroke="#f0605a" fill="rgba(250,220,205,0.45)" stroke-width="0.6"/>
<circle cx="787.9" cy="350.5" r="2.1" stroke="#f0605a" fill="rgba(250,220,205,0.45)" stroke-width="0.6"/>
<circle cx="804.9" cy="342.9" r="2.1" stroke="#f0605a" fill="rgba(250,220,205,0.45)" stroke-width="0.6"/>
<circle cx="786.9" cy="359.0" r="2.1" stroke="#f0605a" fill="rgba(250,220,205,0.45)" stroke-width="0.6"/>
<circle cx="797.9" cy="347.9" r="2.1" stroke="#f0605a" fill="rgba(250,220,205,0.45)" stroke-width="0.6"/>
<circle cx="795.8" cy="352.1" r="2.1" stroke="#f0605a" fill="rgba(250,220,205,0.45)" stroke-width="0.6"/>
<circle cx="771.5" cy="377.8" r="2.1" stroke="#f0605a" fill="rgba(250,220,205,0.45)" stroke-width="0.6"/>
<circle cx="787.6" cy="360.5" r="2.1" stroke="#f0605a" fill="rgba(250,220,205,0.45)" stroke-width="0.6"/>
<circle cx="771.5" cy="377.4" r="2.1" stroke="#f0605a" fill="rgba(250,220,205,0.45)" stroke-width="0.6"/>
<circle cx="798.4" cy="339.4" r="2.1" stroke="#f0605a" fill="rgba(250,220,205,0.45)" stroke-width="0.6"/>
<circle cx="773.5" cy="372.2" r="2.1" stroke="#f0605a" fill="rgba(250,220,205,0.45)" stroke-width="0.6"/>
<circle cx="791.8" cy="353.3" r="2.1" stroke="#f0605a" fill="rgba(250,220,205,0.45)" stroke-width="0.6"/>
<circle cx="781.4" cy="362.8" r="2.1" stroke="#f0605a" fill="rgba(250,220,205,0.45)" stroke-width="0.6"/>
<circle cx="795.1" cy="354.4" r="2.1" stroke="#f0605a" fill="rgba(250,220,205,0.45)" stroke-width="0.6"/>
<circle cx="791.1" cy="363.4" r="2.1" stroke="#f0605a" fill="rgba(250,220,205,0.45)" stroke-width="0.6"/>
<circle cx="790.8" cy="350.4" r="2.1" stroke="#f0605a" fill="rgba(250,220,205,0.45)" stroke-width="0.6"/>
<circle cx="773.6" cy="376.5" r="2.1" stroke="#f0605a" fill="rgba(250,220,205,0.45)" stroke-width="0.6"/>
<circle cx="773.3" cy="374.8" r="2.1" stroke="#f0605a" fill="rgba(250,220,205,0.45)" stroke-width="0.6"/>
<circle cx="774.6" cy="374.7" r="2.1" stroke="#f0605a" fill="rgba(250,220,205,0.45)" stroke-width="0.6"/>
<circle cx="777.4" cy="373.1" r="2.1" stroke="#f0605a" fill="rgba(250,220,205,0.45)" stroke-width="0.6"/>
<circle cx="781.5" cy="361.9" r="2.1" stroke="#f0605a" fill="rgba(250,220,205,0.45)" stroke-width="0.6"/>
<circle cx="777.6" cy="365.4" r="2.1" stroke="#f0605a" fill="rgba(250,220,205,0.45)" stroke-width="0.6"/>
<circle cx="771.5" cy="376.6" r="2.1" stroke="#f0605a" fill="rgba(250,220,205,0.45)" stroke-width="0.6"/>
<circle cx="782.4" cy="374.5" r="2.1" stroke="#f0605a" fill="rgba(250,220,205,0.45)" stroke-width="0.6"/>
<circle cx="806.8" cy="345.1" r="2.1" stroke="#f0605a" fill="rgba(250,220,205,0.45)" stroke-width="0.6"/>
<circle cx="772.7" cy="376.3" r="2.1" stroke="#f0605a" fill="rgba(250,220,205,0.45)" stroke-width="0.6"/>
<circle cx="783.1" cy="375.9" r="2.1" stroke="#f0605a" fill="rgba(250,220,205,0.45)" stroke-width="0.6"/>
<circle cx="781.3" cy="376.2" r="2.1" stroke="#f0605a" fill="rgba(250,220,205,0.45)" stroke-width="0.6"/>
<circle cx="781.8" cy="376.5" r="2.1" stroke="#f0605a" fill="rgba(250,220,205,0.45)" stroke-width="0.6"/>
<circle cx="778.2" cy="377.9" r="2.1" stroke="#f0605a" fill="rgba(250,220,205,0.45)" stroke-width="0.6"/>
<circle cx="772.6" cy="376.6" r="2.1" stroke="#f0605a" fill="rgba(250,220,205,0.45)" stroke-width="0.6"/>
<circle cx="782.8" cy="376.3" r="2.1" stroke="#f0605a" fill="rgba(250,220,205,0.45)" stroke-width="0.6"/>
<circle cx="778.6" cy="378.2" r="2.1" stroke="#f0605a" fill="rgba(250,220,205,0.45)" stroke-width="0.6"/>
<circle cx="780.3" cy="378.3" r="2.1" stroke="#f0605a" fill="rgba(250,220,205,0.45)" stroke-width="0.6"/>
<circle cx="778.4" cy="377.5" r="2.1" stroke="#f0605a" fill="rgba(250,220,205,0.45)" stroke-width="0.6"/>
<circle cx="772.3" cy="378.3" r="2.1" stroke="#f0605a" fill="rgba(250,220,205,0.45)" stroke-width="0.6"/>
<circle cx="776.8" cy="377.1" r="2.1" stroke="#f0605a" fill="rgba(250,220,205,0.45)" stroke-width="0.6"/>
<circle cx="778.2" cy="376.4" r="2.1" stroke="#f0605a" fill="rgba(250,220,205,0.45)" stroke-width="0.6"/>
<circle cx="783.5" cy="377.5" r="2.1" stroke="#f0605a" fill="rgba(250,220,205,0.45)" stroke-width="0.6"/>
<circle cx="778.1" cy="376.0" r="2.1" stroke="#f0605a" fill="rgba(250,220,205,0.45)" stroke-width="0.6"/>
<circle cx="780.6" cy="377.4" r="2.1" stroke="#f0605a" fill="rgba(250,220,205,0.45)" stroke-width="0.6"/>
<circle cx="783.4" cy="377.2" r="2.1" stroke="#f0605a" fill="rgba(250,220,205,0.45)" stroke-width="0.6"/>
<circle cx="775.6" cy="377.4" r="2.1" stroke="#f0605a" fill="rgba(250,220,205,0.45)" stroke-width="0.6"/>
<circle cx="773.4" cy="376.2" r="2.1" stroke="#f0605a" fill="rgba(250,220,205,0.45)" stroke-width="0.6"/>
<circle cx="778.7" cy="377.4" r="2.1" stroke="#f0605a" fill="rgba(250,220,205,0.45)" stroke-width="0.6"/>
<circle cx="783.6" cy="375.6" r="2.1" stroke="#f0605a" fill="rgba(250,220,205,0.45)" stroke-width="0.6"/>
<circle cx="782.5" cy="376.7" r="2.1" stroke="#f0605a" fill="rgba(250,220,205,0.45)" stroke-width="0.6"/>
<circle cx="771.9" cy="376.7" r="2.1" stroke="#f0605a" fill="rgba(250,220,205,0.45)" stroke-width="0.6"/>
<circle cx="779.0" cy="376.6" r="2.1" stroke="#f0605a" fill="rgba(250,220,205,0.45)" stroke-width="0.6"/>
<circle cx="775.9" cy="377.9" r="2.1" stroke="#f0605a" fill="rgba(250,220,205,0.45)" stroke-width="0.6"/>
<rect x="770.2" y="141.0" width="4.1" height="4.1" stroke="#76a8de" fill="rgba(228,247,250,0.75)" stroke-width="0.65"/>
<rect x="770.4" y="114.1" width="4.1" height="4.1" stroke="#76a8de" fill="rgba(228,247,250,0.75)" stroke-width="0.65"/>
<rect x="770.1" y="111.2" width="4.1" height="4.1" stroke="#76a8de" fill="rgba(228,247,250,0.75)" stroke-width="0.65"/>
<rect x="770.0" y="124.3" width="4.1" height="4.1" stroke="#76a8de" fill="rgba(228,247,250,0.75)" stroke-width="0.65"/>
<rect x="770.1" y="135.9" width="4.1" height="4.1" stroke="#76a8de" fill="rgba(228,247,250,0.75)" stroke-width="0.65"/>
<rect x="803.7" y="117.6" width="4.1" height="4.1" stroke="#76a8de" fill="rgba(228,247,250,0.75)" stroke-width="0.65"/>
<rect x="804.9" y="110.3" width="4.1" height="4.1" stroke="#76a8de" fill="rgba(228,247,250,0.75)" stroke-width="0.65"/>
<rect x="805.0" y="113.5" width="4.1" height="4.1" stroke="#76a8de" fill="rgba(228,247,250,0.75)" stroke-width="0.65"/>
<rect x="801.5" y="111.4" width="4.1" height="4.1" stroke="#76a8de" fill="rgba(228,247,250,0.75)" stroke-width="0.65"/>
<rect x="804.4" y="111.1" width="4.1" height="4.1" stroke="#76a8de" fill="rgba(228,247,250,0.75)" stroke-width="0.65"/>
<rect x="804.8" y="120.8" width="4.1" height="4.1" stroke="#76a8de" fill="rgba(228,247,250,0.75)" stroke-width="0.65"/>
<rect x="803.6" y="109.6" width="4.1" height="4.1" stroke="#76a8de" fill="rgba(228,247,250,0.75)" stroke-width="0.65"/>
<rect x="803.6" y="121.3" width="4.1" height="4.1" stroke="#76a8de" fill="rgba(228,247,250,0.75)" stroke-width="0.65"/>
<rect x="803.5" y="118.6" width="4.1" height="4.1" stroke="#76a8de" fill="rgba(228,247,250,0.75)" stroke-width="0.65"/>
<rect x="805.4" y="113.2" width="4.1" height="4.1" stroke="#76a8de" fill="rgba(228,247,250,0.75)" stroke-width="0.65"/>
<rect x="805.3" y="141.1" width="4.1" height="4.1" stroke="#76a8de" fill="rgba(228,247,250,0.75)" stroke-width="0.65"/>
<rect x="807.7" y="135.9" width="4.1" height="4.1" stroke="#76a8de" fill="rgba(228,247,250,0.75)" stroke-width="0.65"/>
<rect x="811.0" y="146.9" width="4.1" height="4.1" stroke="#76a8de" fill="rgba(228,247,250,0.75)" stroke-width="0.65"/>
<rect x="806.1" y="130.4" width="4.1" height="4.1" stroke="#76a8de" fill="rgba(228,247,250,0.75)" stroke-width="0.65"/>
<rect x="810.0" y="147.5" width="4.1" height="4.1" stroke="#76a8de" fill="rgba(228,247,250,0.75)" stroke-width="0.65"/>
<rect x="813.7" y="160.5" width="4.1" height="4.1" stroke="#76a8de" fill="rgba(228,247,250,0.75)" stroke-width="0.65"/>
<rect x="808.3" y="134.3" width="4.1" height="4.1" stroke="#76a8de" fill="rgba(228,247,250,0.75)" stroke-width="0.65"/>
<rect x="806.5" y="128.1" width="4.1" height="4.1" stroke="#76a8de" fill="rgba(228,247,250,0.75)" stroke-width="0.65"/>
<rect x="809.2" y="141.4" width="4.1" height="4.1" stroke="#76a8de" fill="rgba(228,247,250,0.75)" stroke-width="0.65"/>
<rect x="811.6" y="152.2" width="4.1" height="4.1" stroke="#76a8de" fill="rgba(228,247,250,0.75)" stroke-width="0.65"/>
<rect x="811.4" y="148.8" width="4.1" height="4.1" stroke="#76a8de" fill="rgba(228,247,250,0.75)" stroke-width="0.65"/>
<rect x="808.1" y="127.7" width="4.1" height="4.1" stroke="#76a8de" fill="rgba(228,247,250,0.75)" stroke-width="0.65"/>
<rect x="803.5" y="122.3" width="4.1" height="4.1" stroke="#76a8de" fill="rgba(228,247,250,0.75)" stroke-width="0.65"/>
<rect x="805.7" y="128.7" width="4.1" height="4.1" stroke="#76a8de" fill="rgba(228,247,250,0.75)" stroke-width="0.65"/>
<rect x="810.3" y="146.1" width="4.1" height="4.1" stroke="#76a8de" fill="rgba(228,247,250,0.75)" stroke-width="0.65"/>
<rect x="812.2" y="140.9" width="4.1" height="4.1" stroke="#76a8de" fill="rgba(228,247,250,0.75)" stroke-width="0.65"/>
<rect x="812.2" y="157.9" width="4.1" height="4.1" stroke="#76a8de" fill="rgba(228,247,250,0.75)" stroke-width="0.65"/>
<rect x="810.6" y="142.6" width="4.1" height="4.1" stroke="#76a8de" fill="rgba(228,247,250,0.75)" stroke-width="0.65"/>
<rect x="815.0" y="159.6" width="4.1" height="4.1" stroke="#76a8de" fill="rgba(228,247,250,0.75)" stroke-width="0.65"/>
<rect x="807.8" y="135.4" width="4.1" height="4.1" stroke="#76a8de" fill="rgba(228,247,250,0.75)" stroke-width="0.65"/>
<rect x="815.6" y="152.1" width="4.1" height="4.1" stroke="#76a8de" fill="rgba(228,247,250,0.75)" stroke-width="0.65"/>
<rect x="812.8" y="153.2" width="4.1" height="4.1" stroke="#76a8de" fill="rgba(228,247,250,0.75)" stroke-width="0.65"/>
<rect x="822.1" y="100.9" width="4.1" height="4.1" stroke="#76a8de" fill="rgba(228,247,250,0.75)" stroke-width="0.65"/>
<rect x="810.1" y="105.2" width="4.1" height="4.1" stroke="#76a8de" fill="rgba(228,247,250,0.75)" stroke-width="0.65"/>
<rect x="811.5" y="100.0" width="4.1" height="4.1" stroke="#76a8de" fill="rgba(228,247,250,0.75)" stroke-width="0.65"/>
<rect x="823.9" y="102.4" width="4.1" height="4.1" stroke="#76a8de" fill="rgba(228,247,250,0.75)" stroke-width="0.65"/>
<rect x="819.3" y="104.2" width="4.1" height="4.1" stroke="#76a8de" fill="rgba(228,247,250,0.75)" stroke-width="0.65"/>
<rect x="811.0" y="91.3" width="4.1" height="4.1" stroke="#76a8de" fill="rgba(228,247,250,0.75)" stroke-width="0.65"/>
<rect x="822.2" y="108.1" width="4.1" height="4.1" stroke="#76a8de" fill="rgba(228,247,250,0.75)" stroke-width="0.65"/>
<rect x="812.7" y="99.6" width="4.1" height="4.1" stroke="#76a8de" fill="rgba(228,247,250,0.75)" stroke-width="0.65"/>
<rect x="820.1" y="104.1" width="4.1" height="4.1" stroke="#76a8de" fill="rgba(228,247,250,0.75)" stroke-width="0.65"/>
<rect x="809.7" y="104.8" width="4.1" height="4.1" stroke="#76a8de" fill="rgba(228,247,250,0.75)" stroke-width="0.65"/>
<rect x="817.4" y="93.6" width="4.1" height="4.1" stroke="#76a8de" fill="rgba(228,247,250,0.75)" stroke-width="0.65"/>
<rect x="809.2" y="96.4" width="4.1" height="4.1" stroke="#76a8de" fill="rgba(228,247,250,0.75)" stroke-width="0.65"/>
<rect x="793.7" y="86.3" width="4.1" height="4.1" stroke="#76a8de" fill="rgba(228,247,250,0.75)" stroke-width="0.65"/>
<rect x="791.4" y="91.3" width="4.1" height="4.1" stroke="#76a8de" fill="rgba(228,247,250,0.75)" stroke-width="0.65"/>
<rect x="791.8" y="78.9" width="4.1" height="4.1" stroke="#76a8de" fill="rgba(228,247,250,0.75)" stroke-width="0.65"/>
<rect x="789.0" y="82.4" width="4.1" height="4.1" stroke="#76a8de" fill="rgba(228,247,250,0.75)" stroke-width="0.65"/>
<rect x="794.7" y="90.0" width="4.1" height="4.1" stroke="#76a8de" fill="rgba(228,247,250,0.75)" stroke-width="0.65"/>
<rect x="774.6" y="115.3" width="4.1" height="4.1" stroke="#76a8de" fill="rgba(228,247,250,0.75)" stroke-width="0.65"/>
<rect x="778.2" y="150.1" width="4.1" height="4.1" stroke="#76a8de" fill="rgba(228,247,250,0.75)" stroke-width="0.65"/>
<rect x="789.2" y="147.9" width="4.1" height="4.1" stroke="#76a8de" fill="rgba(228,247,250,0.75)" stroke-width="0.65"/>
<rect x="801.4" y="150.1" width="4.1" height="4.1" stroke="#76a8de" fill="rgba(228,247,250,0.75)" stroke-width="0.65"/>
<rect x="836.7" y="142.8" width="4.1" height="4.1" stroke="#76a8de" fill="rgba(228,247,250,0.75)" stroke-width="0.65"/>
<rect x="770.0" y="127.0" width="4.1" height="4.1" stroke="#76a8de" fill="rgba(228,247,250,0.75)" stroke-width="0.65"/>
<rect x="770.0" y="107.0" width="4.1" height="4.1" stroke="#76a8de" fill="rgba(228,247,250,0.75)" stroke-width="0.65"/>
<rect x="771.0" y="92.0" width="4.1" height="4.1" stroke="#76a8de" fill="rgba(228,247,250,0.75)" stroke-width="0.65"/>
<rect x="770.0" y="146.9" width="4.1" height="4.1" stroke="#76a8de" fill="rgba(228,247,250,0.75)" stroke-width="0.65"/>
<rect x="823.8" y="167.3" width="4.1" height="4.1" stroke="#76a8de" fill="rgba(228,247,250,0.75)" stroke-width="0.65"/>
<rect x="820.8" y="174.6" width="4.1" height="4.1" stroke="#76a8de" fill="rgba(228,247,250,0.75)" stroke-width="0.65"/>
<rect x="817.8" y="174.6" width="4.1" height="4.1" stroke="#76a8de" fill="rgba(228,247,250,0.75)" stroke-width="0.65"/>
<rect x="825.6" y="174.6" width="4.1" height="4.1" stroke="#76a8de" fill="rgba(228,247,250,0.75)" stroke-width="0.65"/>
<rect x="822.6" y="181.8" width="4.1" height="4.1" stroke="#76a8de" fill="rgba(228,247,250,0.75)" stroke-width="0.65"/>
<rect x="823.2" y="185.4" width="4.1" height="4.1" stroke="#76a8de" fill="rgba(228,247,250,0.75)" stroke-width="0.65"/>
<rect x="826.8" y="186.6" width="4.1" height="4.1" stroke="#76a8de" fill="rgba(228,247,250,0.75)" stroke-width="0.65"/>
<rect x="822.0" y="192.6" width="4.1" height="4.1" stroke="#76a8de" fill="rgba(228,247,250,0.75)" stroke-width="0.65"/>
<rect x="825.6" y="190.2" width="4.1" height="4.1" stroke="#76a8de" fill="rgba(228,247,250,0.75)" stroke-width="0.65"/>
<rect x="828.6" y="196.8" width="4.1" height="4.1" stroke="#76a8de" fill="rgba(228,247,250,0.75)" stroke-width="0.65"/>
<rect x="830.4" y="203.4" width="4.1" height="4.1" stroke="#76a8de" fill="rgba(228,247,250,0.75)" stroke-width="0.65"/>
<rect x="834.0" y="207.1" width="4.1" height="4.1" stroke="#76a8de" fill="rgba(228,247,250,0.75)" stroke-width="0.65"/>
<rect x="836.4" y="211.3" width="4.1" height="4.1" stroke="#76a8de" fill="rgba(228,247,250,0.75)" stroke-width="0.65"/>
<rect x="838.2" y="216.8" width="4.1" height="4.1" stroke="#76a8de" fill="rgba(228,247,250,0.75)" stroke-width="0.65"/>
<rect x="834.0" y="225.8" width="4.1" height="4.1" stroke="#76a8de" fill="rgba(228,247,250,0.75)" stroke-width="0.65"/>
<rect x="835.2" y="242.6" width="4.1" height="4.1" stroke="#76a8de" fill="rgba(228,247,250,0.75)" stroke-width="0.65"/>
<rect x="835.0" y="251.9" width="4.1" height="4.1" stroke="#76a8de" fill="rgba(228,247,250,0.75)" stroke-width="0.65"/>
<rect x="814.2" y="196.8" width="4.1" height="4.1" stroke="#76a8de" fill="rgba(228,247,250,0.75)" stroke-width="0.65"/>
<rect x="825.0" y="216.1" width="4.1" height="4.1" stroke="#76a8de" fill="rgba(228,247,250,0.75)" stroke-width="0.65"/>
<rect x="800.2" y="195.0" width="4.1" height="4.1" stroke="#76a8de" fill="rgba(228,247,250,0.75)" stroke-width="0.65"/>
<rect x="795.5" y="177.6" width="4.1" height="4.1" stroke="#76a8de" fill="rgba(228,247,250,0.75)" stroke-width="0.65"/>
<rect x="792.5" y="203.4" width="4.1" height="4.1" stroke="#76a8de" fill="rgba(228,247,250,0.75)" stroke-width="0.65"/>
<rect x="791.2" y="228.1" width="4.1" height="4.1" stroke="#76a8de" fill="rgba(228,247,250,0.75)" stroke-width="0.65"/>
<rect x="793.1" y="233.6" width="4.1" height="4.1" stroke="#76a8de" fill="rgba(228,247,250,0.75)" stroke-width="0.65"/>
<rect x="791.2" y="243.8" width="4.1" height="4.1" stroke="#76a8de" fill="rgba(228,247,250,0.75)" stroke-width="0.65"/>
<rect x="784.1" y="258.2" width="4.1" height="4.1" stroke="#76a8de" fill="rgba(228,247,250,0.75)" stroke-width="0.65"/>
<rect x="803.9" y="251.6" width="4.1" height="4.1" stroke="#76a8de" fill="rgba(228,247,250,0.75)" stroke-width="0.65"/>
<rect x="811.2" y="242.6" width="4.1" height="4.1" stroke="#76a8de" fill="rgba(228,247,250,0.75)" stroke-width="0.65"/>
<rect x="770.2" y="166.8" width="4.1" height="4.1" stroke="#76a8de" fill="rgba(228,247,250,0.75)" stroke-width="0.65"/>
<rect x="814.2" y="160.8" width="4.1" height="4.1" stroke="#76a8de" fill="rgba(228,247,250,0.75)" stroke-width="0.65"/>
<rect x="811.8" y="159.6" width="4.1" height="4.1" stroke="#76a8de" fill="rgba(228,247,250,0.75)" stroke-width="0.65"/>
<rect x="850.2" y="214.3" width="4.1" height="4.1" stroke="#76a8de" fill="rgba(228,247,250,0.75)" stroke-width="0.65"/>
<rect x="874.8" y="251.1" width="4.1" height="4.1" stroke="#76a8de" fill="rgba(228,247,250,0.75)" stroke-width="0.65"/>
<rect x="885.3" y="258.3" width="4.1" height="4.1" stroke="#76a8de" fill="rgba(228,247,250,0.75)" stroke-width="0.65"/>
<rect x="895.4" y="260.4" width="4.1" height="4.1" stroke="#76a8de" fill="rgba(228,247,250,0.75)" stroke-width="0.65"/>
<rect x="904.3" y="265.5" width="4.1" height="4.1" stroke="#76a8de" fill="rgba(228,247,250,0.75)" stroke-width="0.65"/>
<rect x="904.0" y="265.3" width="4.1" height="4.1" stroke="#76a8de" fill="rgba(228,247,250,0.75)" stroke-width="0.65"/>
<rect x="894.1" y="261.5" width="4.1" height="4.1" stroke="#76a8de" fill="rgba(228,247,250,0.75)" stroke-width="0.65"/>
<rect x="889.4" y="259.4" width="4.1" height="4.1" stroke="#76a8de" fill="rgba(228,247,250,0.75)" stroke-width="0.65"/>
<rect x="908.5" y="265.5" width="4.1" height="4.1" stroke="#76a8de" fill="rgba(228,247,250,0.75)" stroke-width="0.65"/>
<rect x="882.3" y="252.0" width="4.1" height="4.1" stroke="#76a8de" fill="rgba(228,247,250,0.75)" stroke-width="0.65"/>
<rect x="880.9" y="254.4" width="4.1" height="4.1" stroke="#76a8de" fill="rgba(228,247,250,0.75)" stroke-width="0.65"/>
<rect x="887.4" y="258.1" width="4.1" height="4.1" stroke="#76a8de" fill="rgba(228,247,250,0.75)" stroke-width="0.65"/>
<rect x="861.0" y="244.3" width="4.1" height="4.1" stroke="#76a8de" fill="rgba(228,247,250,0.75)" stroke-width="0.65"/>
<rect x="864.0" y="242.1" width="4.1" height="4.1" stroke="#76a8de" fill="rgba(228,247,250,0.75)" stroke-width="0.65"/>
<rect x="855.5" y="239.2" width="4.1" height="4.1" stroke="#76a8de" fill="rgba(228,247,250,0.75)" stroke-width="0.65"/>
<rect x="909.5" y="267.3" width="4.1" height="4.1" stroke="#76a8de" fill="rgba(228,247,250,0.75)" stroke-width="0.65"/>
<rect x="892.2" y="260.8" width="4.1" height="4.1" stroke="#76a8de" fill="rgba(228,247,250,0.75)" stroke-width="0.65"/>
<rect x="894.8" y="262.0" width="4.1" height="4.1" stroke="#76a8de" fill="rgba(228,247,250,0.75)" stroke-width="0.65"/>
<rect x="854.4" y="240.9" width="4.1" height="4.1" stroke="#76a8de" fill="rgba(228,247,250,0.75)" stroke-width="0.65"/>
<rect x="871.7" y="250.8" width="4.1" height="4.1" stroke="#76a8de" fill="rgba(228,247,250,0.75)" stroke-width="0.65"/>
<rect x="853.6" y="238.3" width="4.1" height="4.1" stroke="#76a8de" fill="rgba(228,247,250,0.75)" stroke-width="0.65"/>
<rect x="889.3" y="260.6" width="4.1" height="4.1" stroke="#76a8de" fill="rgba(228,247,250,0.75)" stroke-width="0.65"/>
<rect x="897.7" y="260.2" width="4.1" height="4.1" stroke="#76a8de" fill="rgba(228,247,250,0.75)" stroke-width="0.65"/>
<rect x="895.7" y="259.1" width="4.1" height="4.1" stroke="#76a8de" fill="rgba(228,247,250,0.75)" stroke-width="0.65"/>
<rect x="895.8" y="263.3" width="4.1" height="4.1" stroke="#76a8de" fill="rgba(228,247,250,0.75)" stroke-width="0.65"/>
<rect x="864.9" y="245.4" width="4.1" height="4.1" stroke="#76a8de" fill="rgba(228,247,250,0.75)" stroke-width="0.65"/>
<rect x="872.2" y="248.9" width="4.1" height="4.1" stroke="#76a8de" fill="rgba(228,247,250,0.75)" stroke-width="0.65"/>
<rect x="898.1" y="264.4" width="4.1" height="4.1" stroke="#76a8de" fill="rgba(228,247,250,0.75)" stroke-width="0.65"/>
<rect x="881.6" y="254.7" width="4.1" height="4.1" stroke="#76a8de" fill="rgba(228,247,250,0.75)" stroke-width="0.65"/>
<rect x="882.3" y="256.3" width="4.1" height="4.1" stroke="#76a8de" fill="rgba(228,247,250,0.75)" stroke-width="0.65"/>
<rect x="884.2" y="255.4" width="4.1" height="4.1" stroke="#76a8de" fill="rgba(228,247,250,0.75)" stroke-width="0.65"/>
<rect x="850.3" y="235.3" width="4.1" height="4.1" stroke="#76a8de" fill="rgba(228,247,250,0.75)" stroke-width="0.65"/>
<rect x="880.0" y="252.4" width="4.1" height="4.1" stroke="#76a8de" fill="rgba(228,247,250,0.75)" stroke-width="0.65"/>
<rect x="861.9" y="242.0" width="4.1" height="4.1" stroke="#76a8de" fill="rgba(228,247,250,0.75)" stroke-width="0.65"/>
<rect x="895.9" y="261.2" width="4.1" height="4.1" stroke="#76a8de" fill="rgba(228,247,250,0.75)" stroke-width="0.65"/>
<rect x="905.9" y="266.5" width="4.1" height="4.1" stroke="#76a8de" fill="rgba(228,247,250,0.75)" stroke-width="0.65"/>
<rect x="861.7" y="241.6" width="4.1" height="4.1" stroke="#76a8de" fill="rgba(228,247,250,0.75)" stroke-width="0.65"/>
<rect x="866.3" y="246.9" width="4.1" height="4.1" stroke="#76a8de" fill="rgba(228,247,250,0.75)" stroke-width="0.65"/>
<rect x="913.9" y="266.8" width="4.1" height="4.1" stroke="#76a8de" fill="rgba(228,247,250,0.75)" stroke-width="0.65"/>
<rect x="876.7" y="252.6" width="4.1" height="4.1" stroke="#76a8de" fill="rgba(228,247,250,0.75)" stroke-width="0.65"/>
<rect x="880.2" y="257.0" width="4.1" height="4.1" stroke="#76a8de" fill="rgba(228,247,250,0.75)" stroke-width="0.65"/>
<rect x="857.5" y="239.5" width="4.1" height="4.1" stroke="#76a8de" fill="rgba(228,247,250,0.75)" stroke-width="0.65"/>
<rect x="862.1" y="241.2" width="4.1" height="4.1" stroke="#76a8de" fill="rgba(228,247,250,0.75)" stroke-width="0.65"/>
<rect x="876.6" y="251.2" width="4.1" height="4.1" stroke="#76a8de" fill="rgba(228,247,250,0.75)" stroke-width="0.65"/>
<rect x="894.3" y="262.4" width="4.1" height="4.1" stroke="#76a8de" fill="rgba(228,247,250,0.75)" stroke-width="0.65"/>
<rect x="886.0" y="259.2" width="4.1" height="4.1" stroke="#76a8de" fill="rgba(228,247,250,0.75)" stroke-width="0.65"/>
<rect x="867.6" y="243.4" width="4.1" height="4.1" stroke="#76a8de" fill="rgba(228,247,250,0.75)" stroke-width="0.65"/>
<rect x="864.8" y="244.7" width="4.1" height="4.1" stroke="#76a8de" fill="rgba(228,247,250,0.75)" stroke-width="0.65"/>
<rect x="865.3" y="246.4" width="4.1" height="4.1" stroke="#76a8de" fill="rgba(228,247,250,0.75)" stroke-width="0.65"/>
<rect x="870.4" y="246.5" width="4.1" height="4.1" stroke="#76a8de" fill="rgba(228,247,250,0.75)" stroke-width="0.65"/>
<rect x="898.9" y="264.1" width="4.1" height="4.1" stroke="#76a8de" fill="rgba(228,247,250,0.75)" stroke-width="0.65"/>
<rect x="853.6" y="238.9" width="4.1" height="4.1" stroke="#76a8de" fill="rgba(228,247,250,0.75)" stroke-width="0.65"/>
<rect x="885.0" y="257.9" width="4.1" height="4.1" stroke="#76a8de" fill="rgba(228,247,250,0.75)" stroke-width="0.65"/>
<rect x="866.3" y="247.6" width="4.1" height="4.1" stroke="#76a8de" fill="rgba(228,247,250,0.75)" stroke-width="0.65"/>
<rect x="879.7" y="252.5" width="4.1" height="4.1" stroke="#76a8de" fill="rgba(228,247,250,0.75)" stroke-width="0.65"/>
<rect x="913.6" y="266.8" width="4.1" height="4.1" stroke="#76a8de" fill="rgba(228,247,250,0.75)" stroke-width="0.65"/>
<rect x="865.7" y="246.2" width="4.1" height="4.1" stroke="#76a8de" fill="rgba(228,247,250,0.75)" stroke-width="0.65"/>
<rect x="893.9" y="260.2" width="4.1" height="4.1" stroke="#76a8de" fill="rgba(228,247,250,0.75)" stroke-width="0.65"/>
<rect x="851.6" y="234.2" width="4.1" height="4.1" stroke="#76a8de" fill="rgba(228,247,250,0.75)" stroke-width="0.65"/>
<rect x="870.7" y="250.3" width="4.1" height="4.1" stroke="#76a8de" fill="rgba(228,247,250,0.75)" stroke-width="0.65"/>
<rect x="853.5" y="235.3" width="4.1" height="4.1" stroke="#76a8de" fill="rgba(228,247,250,0.75)" stroke-width="0.65"/>
<rect x="882.5" y="244.2" width="4.1" height="4.1" stroke="#76a8de" fill="rgba(228,247,250,0.75)" stroke-width="0.65"/>
<rect x="890.0" y="254.1" width="4.1" height="4.1" stroke="#76a8de" fill="rgba(228,247,250,0.75)" stroke-width="0.65"/>
<rect x="912.6" y="260.1" width="4.1" height="4.1" stroke="#76a8de" fill="rgba(228,247,250,0.75)" stroke-width="0.65"/>
<rect x="914.9" y="256.3" width="4.1" height="4.1" stroke="#76a8de" fill="rgba(228,247,250,0.75)" stroke-width="0.65"/>
<rect x="911.9" y="253.3" width="4.1" height="4.1" stroke="#76a8de" fill="rgba(228,247,250,0.75)" stroke-width="0.65"/>
<rect x="923.2" y="266.1" width="4.1" height="4.1" stroke="#76a8de" fill="rgba(228,247,250,0.75)" stroke-width="0.65"/>
<rect x="924.7" y="270.6" width="4.1" height="4.1" stroke="#76a8de" fill="rgba(228,247,250,0.75)" stroke-width="0.65"/>
<rect x="929.2" y="271.3" width="4.1" height="4.1" stroke="#76a8de" fill="rgba(228,247,250,0.75)" stroke-width="0.65"/>
<rect x="932.2" y="272.8" width="4.1" height="4.1" stroke="#76a8de" fill="rgba(228,247,250,0.75)" stroke-width="0.65"/>
<rect x="938.2" y="272.8" width="4.1" height="4.1" stroke="#76a8de" fill="rgba(228,247,250,0.75)" stroke-width="0.65"/>
<rect x="941.2" y="274.3" width="4.1" height="4.1" stroke="#76a8de" fill="rgba(228,247,250,0.75)" stroke-width="0.65"/>
<rect x="948.7" y="274.6" width="4.1" height="4.1" stroke="#76a8de" fill="rgba(228,247,250,0.75)" stroke-width="0.65"/>
<rect x="923.2" y="253.3" width="4.1" height="4.1" stroke="#76a8de" fill="rgba(228,247,250,0.75)" stroke-width="0.65"/>
<rect x="942.7" y="260.1" width="4.1" height="4.1" stroke="#76a8de" fill="rgba(228,247,250,0.75)" stroke-width="0.65"/>
<rect x="950.2" y="260.1" width="4.1" height="4.1" stroke="#76a8de" fill="rgba(228,247,250,0.75)" stroke-width="0.65"/>
<rect x="948.7" y="250.2" width="4.1" height="4.1" stroke="#76a8de" fill="rgba(228,247,250,0.75)" stroke-width="0.65"/>
<rect x="960.0" y="249.0" width="4.1" height="4.1" stroke="#76a8de" fill="rgba(228,247,250,0.75)" stroke-width="0.65"/>
<rect x="963.0" y="247.2" width="4.1" height="4.1" stroke="#76a8de" fill="rgba(228,247,250,0.75)" stroke-width="0.65"/>
<rect x="966.0" y="278.8" width="4.1" height="4.1" stroke="#76a8de" fill="rgba(228,247,250,0.75)" stroke-width="0.65"/>
<rect x="968.2" y="277.3" width="4.1" height="4.1" stroke="#76a8de" fill="rgba(228,247,250,0.75)" stroke-width="0.65"/>
<rect x="966.8" y="273.6" width="4.1" height="4.1" stroke="#76a8de" fill="rgba(228,247,250,0.75)" stroke-width="0.65"/>
<rect x="974.2" y="278.8" width="4.1" height="4.1" stroke="#76a8de" fill="rgba(228,247,250,0.75)" stroke-width="0.65"/>
<rect x="977.2" y="275.8" width="4.1" height="4.1" stroke="#76a8de" fill="rgba(228,247,250,0.75)" stroke-width="0.65"/>
<rect x="990.9" y="260.1" width="4.1" height="4.1" stroke="#76a8de" fill="rgba(228,247,250,0.75)" stroke-width="0.65"/>
<rect x="1001.4" y="260.1" width="4.1" height="4.1" stroke="#76a8de" fill="rgba(228,247,250,0.75)" stroke-width="0.65"/>
<rect x="996.9" y="274.3" width="4.1" height="4.1" stroke="#76a8de" fill="rgba(228,247,250,0.75)" stroke-width="0.65"/>
<rect x="1001.4" y="280.3" width="4.1" height="4.1" stroke="#76a8de" fill="rgba(228,247,250,0.75)" stroke-width="0.65"/>
<rect x="1005.2" y="275.1" width="4.1" height="4.1" stroke="#76a8de" fill="rgba(228,247,250,0.75)" stroke-width="0.65"/>
<rect x="1009.7" y="281.8" width="4.1" height="4.1" stroke="#76a8de" fill="rgba(228,247,250,0.75)" stroke-width="0.65"/>
<rect x="1009.7" y="276.6" width="4.1" height="4.1" stroke="#76a8de" fill="rgba(228,247,250,0.75)" stroke-width="0.65"/>
<rect x="1013.5" y="280.3" width="4.1" height="4.1" stroke="#76a8de" fill="rgba(228,247,250,0.75)" stroke-width="0.65"/>
<rect x="1013.5" y="272.1" width="4.1" height="4.1" stroke="#76a8de" fill="rgba(228,247,250,0.75)" stroke-width="0.65"/>
<rect x="1018.7" y="281.8" width="4.1" height="4.1" stroke="#76a8de" fill="rgba(228,247,250,0.75)" stroke-width="0.65"/>
<rect x="1024.7" y="285.6" width="4.1" height="4.1" stroke="#76a8de" fill="rgba(228,247,250,0.75)" stroke-width="0.65"/>
<rect x="1025.5" y="281.1" width="4.1" height="4.1" stroke="#76a8de" fill="rgba(228,247,250,0.75)" stroke-width="0.65"/>
<rect x="1026.2" y="275.8" width="4.1" height="4.1" stroke="#76a8de" fill="rgba(228,247,250,0.75)" stroke-width="0.65"/>
<rect x="1020.2" y="265.3" width="4.1" height="4.1" stroke="#76a8de" fill="rgba(228,247,250,0.75)" stroke-width="0.65"/>
<rect x="934.0" y="270.9" width="4.1" height="4.1" stroke="#76a8de" fill="rgba(228,247,250,0.75)" stroke-width="0.65"/>
<rect x="936.0" y="266.9" width="4.1" height="4.1" stroke="#76a8de" fill="rgba(228,247,250,0.75)" stroke-width="0.65"/>
<rect x="918.0" y="268.9" width="4.1" height="4.1" stroke="#76a8de" fill="rgba(228,247,250,0.75)" stroke-width="0.65"/>
<rect x="956.0" y="274.9" width="4.1" height="4.1" stroke="#76a8de" fill="rgba(228,247,250,0.75)" stroke-width="0.65"/>
<rect x="983.0" y="276.9" width="4.1" height="4.1" stroke="#76a8de" fill="rgba(228,247,250,0.75)" stroke-width="0.65"/>
<rect x="987.0" y="278.9" width="4.1" height="4.1" stroke="#76a8de" fill="rgba(228,247,250,0.75)" stroke-width="0.65"/>
<rect x="999.0" y="271.9" width="4.1" height="4.1" stroke="#76a8de" fill="rgba(228,247,250,0.75)" stroke-width="0.65"/>
<rect x="1033.5" y="280.8" width="4.1" height="4.1" stroke="#76a8de" fill="rgba(228,247,250,0.75)" stroke-width="0.65"/>
<rect x="1046.5" y="280.8" width="4.1" height="4.1" stroke="#76a8de" fill="rgba(228,247,250,0.75)" stroke-width="0.65"/>
<rect x="1048.0" y="280.8" width="4.1" height="4.1" stroke="#76a8de" fill="rgba(228,247,250,0.75)" stroke-width="0.65"/>
<rect x="1054.5" y="280.1" width="4.1" height="4.1" stroke="#76a8de" fill="rgba(228,247,250,0.75)" stroke-width="0.65"/>
<rect x="1058.5" y="280.1" width="4.1" height="4.1" stroke="#76a8de" fill="rgba(228,247,250,0.75)" stroke-width="0.65"/>
<rect x="1063.2" y="280.8" width="4.1" height="4.1" stroke="#76a8de" fill="rgba(228,247,250,0.75)" stroke-width="0.65"/>
<rect x="1068.0" y="279.2" width="4.1" height="4.1" stroke="#76a8de" fill="rgba(228,247,250,0.75)" stroke-width="0.65"/>
<rect x="1078.5" y="279.2" width="4.1" height="4.1" stroke="#76a8de" fill="rgba(228,247,250,0.75)" stroke-width="0.65"/>
<rect x="1083.4" y="277.6" width="4.1" height="4.1" stroke="#76a8de" fill="rgba(228,247,250,0.75)" stroke-width="0.65"/>
<rect x="1089.0" y="280.1" width="4.1" height="4.1" stroke="#76a8de" fill="rgba(228,247,250,0.75)" stroke-width="0.65"/>
<rect x="1095.4" y="278.4" width="4.1" height="4.1" stroke="#76a8de" fill="rgba(228,247,250,0.75)" stroke-width="0.65"/>
<rect x="1093.8" y="276.1" width="4.1" height="4.1" stroke="#76a8de" fill="rgba(228,247,250,0.75)" stroke-width="0.65"/>
<rect x="1042.5" y="268.1" width="4.1" height="4.1" stroke="#76a8de" fill="rgba(228,247,250,0.75)" stroke-width="0.65"/>
<rect x="1047.2" y="272.1" width="4.1" height="4.1" stroke="#76a8de" fill="rgba(228,247,250,0.75)" stroke-width="0.65"/>
<rect x="1062.5" y="276.1" width="4.1" height="4.1" stroke="#76a8de" fill="rgba(228,247,250,0.75)" stroke-width="0.65"/>
<rect x="1069.7" y="267.2" width="4.1" height="4.1" stroke="#76a8de" fill="rgba(228,247,250,0.75)" stroke-width="0.65"/>
<rect x="1073.8" y="272.1" width="4.1" height="4.1" stroke="#76a8de" fill="rgba(228,247,250,0.75)" stroke-width="0.65"/>
<rect x="1084.2" y="272.8" width="4.1" height="4.1" stroke="#76a8de" fill="rgba(228,247,250,0.75)" stroke-width="0.65"/>
<rect x="1052.0" y="257.6" width="4.1" height="4.1" stroke="#76a8de" fill="rgba(228,247,250,0.75)" stroke-width="0.65"/>
<rect x="1075.4" y="260.8" width="4.1" height="4.1" stroke="#76a8de" fill="rgba(228,247,250,0.75)" stroke-width="0.65"/>
<rect x="1078.5" y="257.6" width="4.1" height="4.1" stroke="#76a8de" fill="rgba(228,247,250,0.75)" stroke-width="0.65"/>
<rect x="1083.4" y="251.1" width="4.1" height="4.1" stroke="#76a8de" fill="rgba(228,247,250,0.75)" stroke-width="0.65"/>
<rect x="1044.0" y="249.5" width="4.1" height="4.1" stroke="#76a8de" fill="rgba(228,247,250,0.75)" stroke-width="0.65"/>
<rect x="1048.8" y="247.1" width="4.1" height="4.1" stroke="#76a8de" fill="rgba(228,247,250,0.75)" stroke-width="0.65"/>
<rect x="1050.5" y="246.3" width="4.1" height="4.1" stroke="#76a8de" fill="rgba(228,247,250,0.75)" stroke-width="0.65"/>
<rect x="1053.7" y="243.9" width="4.1" height="4.1" stroke="#76a8de" fill="rgba(228,247,250,0.75)" stroke-width="0.65"/>
<rect x="1092.2" y="261.6" width="4.1" height="4.1" stroke="#76a8de" fill="rgba(228,247,250,0.75)" stroke-width="0.65"/>
<rect x="1095.4" y="265.6" width="4.1" height="4.1" stroke="#76a8de" fill="rgba(228,247,250,0.75)" stroke-width="0.65"/>
<rect x="1102.7" y="267.2" width="4.1" height="4.1" stroke="#76a8de" fill="rgba(228,247,250,0.75)" stroke-width="0.65"/>
<rect x="1095.4" y="242.3" width="4.1" height="4.1" stroke="#76a8de" fill="rgba(228,247,250,0.75)" stroke-width="0.65"/>
<rect x="1110.7" y="272.8" width="4.1" height="4.1" stroke="#76a8de" fill="rgba(228,247,250,0.75)" stroke-width="0.65"/>
<rect x="1115.5" y="272.1" width="4.1" height="4.1" stroke="#76a8de" fill="rgba(228,247,250,0.75)" stroke-width="0.65"/>
<rect x="1121.9" y="277.6" width="4.1" height="4.1" stroke="#76a8de" fill="rgba(228,247,250,0.75)" stroke-width="0.65"/>
<rect x="1122.7" y="268.8" width="4.1" height="4.1" stroke="#76a8de" fill="rgba(228,247,250,0.75)" stroke-width="0.65"/>
<rect x="1129.2" y="275.2" width="4.1" height="4.1" stroke="#76a8de" fill="rgba(228,247,250,0.75)" stroke-width="0.65"/>
<rect x="1131.5" y="274.4" width="4.1" height="4.1" stroke="#76a8de" fill="rgba(228,247,250,0.75)" stroke-width="0.65"/>
<rect x="1138.8" y="275.2" width="4.1" height="4.1" stroke="#76a8de" fill="rgba(228,247,250,0.75)" stroke-width="0.65"/>
<rect x="1137.2" y="251.9" width="4.1" height="4.1" stroke="#76a8de" fill="rgba(228,247,250,0.75)" stroke-width="0.65"/>
<rect x="1149.2" y="271.2" width="4.1" height="4.1" stroke="#76a8de" fill="rgba(228,247,250,0.75)" stroke-width="0.65"/>
<rect x="1153.2" y="260.8" width="4.1" height="4.1" stroke="#76a8de" fill="rgba(228,247,250,0.75)" stroke-width="0.65"/>
<rect x="1157.2" y="252.8" width="4.1" height="4.1" stroke="#76a8de" fill="rgba(228,247,250,0.75)" stroke-width="0.65"/>
<rect x="1161.2" y="271.2" width="4.1" height="4.1" stroke="#76a8de" fill="rgba(228,247,250,0.75)" stroke-width="0.65"/>
<rect x="1165.2" y="269.6" width="4.1" height="4.1" stroke="#76a8de" fill="rgba(228,247,250,0.75)" stroke-width="0.65"/>
<rect x="1169.2" y="266.4" width="4.1" height="4.1" stroke="#76a8de" fill="rgba(228,247,250,0.75)" stroke-width="0.65"/>
<rect x="1174.9" y="242.3" width="4.1" height="4.1" stroke="#76a8de" fill="rgba(228,247,250,0.75)" stroke-width="0.65"/>
<rect x="1178.9" y="266.4" width="4.1" height="4.1" stroke="#76a8de" fill="rgba(228,247,250,0.75)" stroke-width="0.65"/>
<rect x="1180.5" y="269.6" width="4.1" height="4.1" stroke="#76a8de" fill="rgba(228,247,250,0.75)" stroke-width="0.65"/>
<rect x="1186.2" y="267.2" width="4.1" height="4.1" stroke="#76a8de" fill="rgba(228,247,250,0.75)" stroke-width="0.65"/>
<rect x="1193.4" y="262.4" width="4.1" height="4.1" stroke="#76a8de" fill="rgba(228,247,250,0.75)" stroke-width="0.65"/>
<rect x="1216.7" y="268.1" width="4.1" height="4.1" stroke="#76a8de" fill="rgba(228,247,250,0.75)" stroke-width="0.65"/>
<rect x="1218.2" y="258.4" width="4.1" height="4.1" stroke="#76a8de" fill="rgba(228,247,250,0.75)" stroke-width="0.65"/>
<rect x="1198.0" y="270.9" width="4.1" height="4.1" stroke="#76a8de" fill="rgba(228,247,250,0.75)" stroke-width="0.65"/>
<rect x="1203.0" y="268.9" width="4.1" height="4.1" stroke="#76a8de" fill="rgba(228,247,250,0.75)" stroke-width="0.65"/>
<rect x="1208.0" y="264.9" width="4.1" height="4.1" stroke="#76a8de" fill="rgba(228,247,250,0.75)" stroke-width="0.65"/>
<rect x="1143.0" y="271.9" width="4.1" height="4.1" stroke="#76a8de" fill="rgba(228,247,250,0.75)" stroke-width="0.65"/>
<rect x="1118.0" y="270.9" width="4.1" height="4.1" stroke="#76a8de" fill="rgba(228,247,250,0.75)" stroke-width="0.65"/>
<circle cx="772.2" cy="306.0" r="2.15" stroke="#ef6c64" fill="rgba(255,246,228,0.55)" stroke-width="0.6"/>
<circle cx="772.5" cy="332.9" r="2.15" stroke="#ef6c64" fill="rgba(255,246,228,0.55)" stroke-width="0.6"/>
<circle cx="772.2" cy="335.8" r="2.15" stroke="#ef6c64" fill="rgba(255,246,228,0.55)" stroke-width="0.6"/>
<circle cx="772.0" cy="322.6" r="2.15" stroke="#ef6c64" fill="rgba(255,246,228,0.55)" stroke-width="0.6"/>
<circle cx="772.2" cy="311.0" r="2.15" stroke="#ef6c64" fill="rgba(255,246,228,0.55)" stroke-width="0.6"/>
<circle cx="805.7" cy="329.4" r="2.15" stroke="#ef6c64" fill="rgba(255,246,228,0.55)" stroke-width="0.6"/>
<circle cx="806.9" cy="336.7" r="2.15" stroke="#ef6c64" fill="rgba(255,246,228,0.55)" stroke-width="0.6"/>
<circle cx="807.1" cy="333.5" r="2.15" stroke="#ef6c64" fill="rgba(255,246,228,0.55)" stroke-width="0.6"/>
<circle cx="803.6" cy="335.5" r="2.15" stroke="#ef6c64" fill="rgba(255,246,228,0.55)" stroke-width="0.6"/>
<circle cx="806.5" cy="335.9" r="2.15" stroke="#ef6c64" fill="rgba(255,246,228,0.55)" stroke-width="0.6"/>
<circle cx="806.8" cy="326.2" r="2.15" stroke="#ef6c64" fill="rgba(255,246,228,0.55)" stroke-width="0.6"/>
<circle cx="805.6" cy="337.3" r="2.15" stroke="#ef6c64" fill="rgba(255,246,228,0.55)" stroke-width="0.6"/>
<circle cx="805.7" cy="325.7" r="2.15" stroke="#ef6c64" fill="rgba(255,246,228,0.55)" stroke-width="0.6"/>
<circle cx="805.6" cy="328.4" r="2.15" stroke="#ef6c64" fill="rgba(255,246,228,0.55)" stroke-width="0.6"/>
<circle cx="807.5" cy="333.8" r="2.15" stroke="#ef6c64" fill="rgba(255,246,228,0.55)" stroke-width="0.6"/>
<circle cx="807.4" cy="305.8" r="2.15" stroke="#ef6c64" fill="rgba(255,246,228,0.55)" stroke-width="0.6"/>
<circle cx="809.8" cy="311.1" r="2.15" stroke="#ef6c64" fill="rgba(255,246,228,0.55)" stroke-width="0.6"/>
<circle cx="813.0" cy="300.1" r="2.15" stroke="#ef6c64" fill="rgba(255,246,228,0.55)" stroke-width="0.6"/>
<circle cx="808.2" cy="316.5" r="2.15" stroke="#ef6c64" fill="rgba(255,246,228,0.55)" stroke-width="0.6"/>
<circle cx="812.1" cy="299.5" r="2.15" stroke="#ef6c64" fill="rgba(255,246,228,0.55)" stroke-width="0.6"/>
<circle cx="815.7" cy="286.4" r="2.15" stroke="#ef6c64" fill="rgba(255,246,228,0.55)" stroke-width="0.6"/>
<circle cx="810.3" cy="312.7" r="2.15" stroke="#ef6c64" fill="rgba(255,246,228,0.55)" stroke-width="0.6"/>
<circle cx="808.5" cy="318.9" r="2.15" stroke="#ef6c64" fill="rgba(255,246,228,0.55)" stroke-width="0.6"/>
<circle cx="811.2" cy="305.6" r="2.15" stroke="#ef6c64" fill="rgba(255,246,228,0.55)" stroke-width="0.6"/>
<circle cx="813.6" cy="294.8" r="2.15" stroke="#ef6c64" fill="rgba(255,246,228,0.55)" stroke-width="0.6"/>
<circle cx="813.4" cy="298.2" r="2.15" stroke="#ef6c64" fill="rgba(255,246,228,0.55)" stroke-width="0.6"/>
<circle cx="810.2" cy="319.2" r="2.15" stroke="#ef6c64" fill="rgba(255,246,228,0.55)" stroke-width="0.6"/>
<circle cx="805.5" cy="324.7" r="2.15" stroke="#ef6c64" fill="rgba(255,246,228,0.55)" stroke-width="0.6"/>
<circle cx="807.7" cy="318.2" r="2.15" stroke="#ef6c64" fill="rgba(255,246,228,0.55)" stroke-width="0.6"/>
<circle cx="812.3" cy="300.8" r="2.15" stroke="#ef6c64" fill="rgba(255,246,228,0.55)" stroke-width="0.6"/>
<circle cx="814.3" cy="306.0" r="2.15" stroke="#ef6c64" fill="rgba(255,246,228,0.55)" stroke-width="0.6"/>
<circle cx="814.2" cy="289.1" r="2.15" stroke="#ef6c64" fill="rgba(255,246,228,0.55)" stroke-width="0.6"/>
<circle cx="812.7" cy="304.3" r="2.15" stroke="#ef6c64" fill="rgba(255,246,228,0.55)" stroke-width="0.6"/>
<circle cx="817.1" cy="287.4" r="2.15" stroke="#ef6c64" fill="rgba(255,246,228,0.55)" stroke-width="0.6"/>
<circle cx="809.8" cy="311.6" r="2.15" stroke="#ef6c64" fill="rgba(255,246,228,0.55)" stroke-width="0.6"/>
<circle cx="817.7" cy="294.9" r="2.15" stroke="#ef6c64" fill="rgba(255,246,228,0.55)" stroke-width="0.6"/>
<circle cx="814.9" cy="293.8" r="2.15" stroke="#ef6c64" fill="rgba(255,246,228,0.55)" stroke-width="0.6"/>
<circle cx="824.2" cy="346.1" r="2.15" stroke="#ef6c64" fill="rgba(255,246,228,0.55)" stroke-width="0.6"/>
<circle cx="812.1" cy="341.8" r="2.15" stroke="#ef6c64" fill="rgba(255,246,228,0.55)" stroke-width="0.6"/>
<circle cx="813.5" cy="346.9" r="2.15" stroke="#ef6c64" fill="rgba(255,246,228,0.55)" stroke-width="0.6"/>
<circle cx="825.9" cy="344.5" r="2.15" stroke="#ef6c64" fill="rgba(255,246,228,0.55)" stroke-width="0.6"/>
<circle cx="821.3" cy="342.7" r="2.15" stroke="#ef6c64" fill="rgba(255,246,228,0.55)" stroke-width="0.6"/>
<circle cx="813.0" cy="355.6" r="2.15" stroke="#ef6c64" fill="rgba(255,246,228,0.55)" stroke-width="0.6"/>
<circle cx="824.3" cy="338.9" r="2.15" stroke="#ef6c64" fill="rgba(255,246,228,0.55)" stroke-width="0.6"/>
<circle cx="814.8" cy="347.3" r="2.15" stroke="#ef6c64" fill="rgba(255,246,228,0.55)" stroke-width="0.6"/>
<circle cx="822.2" cy="342.8" r="2.15" stroke="#ef6c64" fill="rgba(255,246,228,0.55)" stroke-width="0.6"/>
<circle cx="811.8" cy="342.1" r="2.15" stroke="#ef6c64" fill="rgba(255,246,228,0.55)" stroke-width="0.6"/>
<circle cx="819.5" cy="353.4" r="2.15" stroke="#ef6c64" fill="rgba(255,246,228,0.55)" stroke-width="0.6"/>
<circle cx="811.3" cy="350.5" r="2.15" stroke="#ef6c64" fill="rgba(255,246,228,0.55)" stroke-width="0.6"/>
<circle cx="795.7" cy="360.6" r="2.15" stroke="#ef6c64" fill="rgba(255,246,228,0.55)" stroke-width="0.6"/>
<circle cx="793.5" cy="355.7" r="2.15" stroke="#ef6c64" fill="rgba(255,246,228,0.55)" stroke-width="0.6"/>
<circle cx="793.8" cy="368.1" r="2.15" stroke="#ef6c64" fill="rgba(255,246,228,0.55)" stroke-width="0.6"/>
<circle cx="791.0" cy="364.5" r="2.15" stroke="#ef6c64" fill="rgba(255,246,228,0.55)" stroke-width="0.6"/>
<circle cx="796.8" cy="357.0" r="2.15" stroke="#ef6c64" fill="rgba(255,246,228,0.55)" stroke-width="0.6"/>
<circle cx="776.6" cy="331.6" r="2.15" stroke="#ef6c64" fill="rgba(255,246,228,0.55)" stroke-width="0.6"/>
<circle cx="780.3" cy="296.9" r="2.15" stroke="#ef6c64" fill="rgba(255,246,228,0.55)" stroke-width="0.6"/>
<circle cx="791.3" cy="299.0" r="2.15" stroke="#ef6c64" fill="rgba(255,246,228,0.55)" stroke-width="0.6"/>
<circle cx="803.4" cy="296.9" r="2.15" stroke="#ef6c64" fill="rgba(255,246,228,0.55)" stroke-width="0.6"/>
<circle cx="838.7" cy="304.2" r="2.15" stroke="#ef6c64" fill="rgba(255,246,228,0.55)" stroke-width="0.6"/>
<circle cx="772.0" cy="320.0" r="2.15" stroke="#ef6c64" fill="rgba(255,246,228,0.55)" stroke-width="0.6"/>
<circle cx="772.0" cy="340.0" r="2.15" stroke="#ef6c64" fill="rgba(255,246,228,0.55)" stroke-width="0.6"/>
<circle cx="773.0" cy="355.0" r="2.15" stroke="#ef6c64" fill="rgba(255,246,228,0.55)" stroke-width="0.6"/>
<circle cx="772.0" cy="300.0" r="2.15" stroke="#ef6c64" fill="rgba(255,246,228,0.55)" stroke-width="0.6"/>
<circle cx="825.8" cy="279.6" r="2.15" stroke="#ef6c64" fill="rgba(255,246,228,0.55)" stroke-width="0.6"/>
<circle cx="822.8" cy="272.3" r="2.15" stroke="#ef6c64" fill="rgba(255,246,228,0.55)" stroke-width="0.6"/>
<circle cx="819.8" cy="272.3" r="2.15" stroke="#ef6c64" fill="rgba(255,246,228,0.55)" stroke-width="0.6"/>
<circle cx="827.6" cy="272.3" r="2.15" stroke="#ef6c64" fill="rgba(255,246,228,0.55)" stroke-width="0.6"/>
<circle cx="824.6" cy="265.1" r="2.15" stroke="#ef6c64" fill="rgba(255,246,228,0.55)" stroke-width="0.6"/>
<circle cx="825.2" cy="261.5" r="2.15" stroke="#ef6c64" fill="rgba(255,246,228,0.55)" stroke-width="0.6"/>
<circle cx="828.8" cy="260.3" r="2.15" stroke="#ef6c64" fill="rgba(255,246,228,0.55)" stroke-width="0.6"/>
<circle cx="824.0" cy="254.3" r="2.15" stroke="#ef6c64" fill="rgba(255,246,228,0.55)" stroke-width="0.6"/>
<circle cx="827.6" cy="256.7" r="2.15" stroke="#ef6c64" fill="rgba(255,246,228,0.55)" stroke-width="0.6"/>
<circle cx="830.6" cy="250.1" r="2.15" stroke="#ef6c64" fill="rgba(255,246,228,0.55)" stroke-width="0.6"/>
<circle cx="832.4" cy="243.5" r="2.15" stroke="#ef6c64" fill="rgba(255,246,228,0.55)" stroke-width="0.6"/>
<circle cx="836.0" cy="239.8" r="2.15" stroke="#ef6c64" fill="rgba(255,246,228,0.55)" stroke-width="0.6"/>
<circle cx="838.4" cy="235.6" r="2.15" stroke="#ef6c64" fill="rgba(255,246,228,0.55)" stroke-width="0.6"/>
<circle cx="840.3" cy="230.2" r="2.15" stroke="#ef6c64" fill="rgba(255,246,228,0.55)" stroke-width="0.6"/>
<circle cx="836.0" cy="221.2" r="2.15" stroke="#ef6c64" fill="rgba(255,246,228,0.55)" stroke-width="0.6"/>
<circle cx="837.2" cy="204.3" r="2.15" stroke="#ef6c64" fill="rgba(255,246,228,0.55)" stroke-width="0.6"/>
<circle cx="837.0" cy="195.0" r="2.15" stroke="#ef6c64" fill="rgba(255,246,228,0.55)" stroke-width="0.6"/>
<circle cx="816.2" cy="250.1" r="2.15" stroke="#ef6c64" fill="rgba(255,246,228,0.55)" stroke-width="0.6"/>
<circle cx="827.0" cy="230.8" r="2.15" stroke="#ef6c64" fill="rgba(255,246,228,0.55)" stroke-width="0.6"/>
<circle cx="802.3" cy="251.9" r="2.15" stroke="#ef6c64" fill="rgba(255,246,228,0.55)" stroke-width="0.6"/>
<circle cx="797.5" cy="269.3" r="2.15" stroke="#ef6c64" fill="rgba(255,246,228,0.55)" stroke-width="0.6"/>
<circle cx="794.5" cy="243.5" r="2.15" stroke="#ef6c64" fill="rgba(255,246,228,0.55)" stroke-width="0.6"/>
<circle cx="793.3" cy="218.8" r="2.15" stroke="#ef6c64" fill="rgba(255,246,228,0.55)" stroke-width="0.6"/>
<circle cx="795.1" cy="213.3" r="2.15" stroke="#ef6c64" fill="rgba(255,246,228,0.55)" stroke-width="0.6"/>
<circle cx="793.3" cy="203.1" r="2.15" stroke="#ef6c64" fill="rgba(255,246,228,0.55)" stroke-width="0.6"/>
<circle cx="786.1" cy="188.7" r="2.15" stroke="#ef6c64" fill="rgba(255,246,228,0.55)" stroke-width="0.6"/>
<circle cx="805.9" cy="195.3" r="2.15" stroke="#ef6c64" fill="rgba(255,246,228,0.55)" stroke-width="0.6"/>
<circle cx="813.2" cy="204.3" r="2.15" stroke="#ef6c64" fill="rgba(255,246,228,0.55)" stroke-width="0.6"/>
<circle cx="772.2" cy="280.2" r="2.15" stroke="#ef6c64" fill="rgba(255,246,228,0.55)" stroke-width="0.6"/>
<circle cx="816.2" cy="286.2" r="2.15" stroke="#ef6c64" fill="rgba(255,246,228,0.55)" stroke-width="0.6"/>
<circle cx="813.8" cy="287.4" r="2.15" stroke="#ef6c64" fill="rgba(255,246,228,0.55)" stroke-width="0.6"/>
<circle cx="852.3" cy="232.6" r="2.15" stroke="#ef6c64" fill="rgba(255,246,228,0.55)" stroke-width="0.6"/>
<circle cx="876.9" cy="195.9" r="2.15" stroke="#ef6c64" fill="rgba(255,246,228,0.55)" stroke-width="0.6"/>
<circle cx="887.3" cy="188.6" r="2.15" stroke="#ef6c64" fill="rgba(255,246,228,0.55)" stroke-width="0.6"/>
<circle cx="897.4" cy="186.6" r="2.15" stroke="#ef6c64" fill="rgba(255,246,228,0.55)" stroke-width="0.6"/>
<circle cx="906.4" cy="181.4" r="2.15" stroke="#ef6c64" fill="rgba(255,246,228,0.55)" stroke-width="0.6"/>
<circle cx="906.0" cy="181.7" r="2.15" stroke="#ef6c64" fill="rgba(255,246,228,0.55)" stroke-width="0.6"/>
<circle cx="896.2" cy="185.5" r="2.15" stroke="#ef6c64" fill="rgba(255,246,228,0.55)" stroke-width="0.6"/>
<circle cx="891.5" cy="187.5" r="2.15" stroke="#ef6c64" fill="rgba(255,246,228,0.55)" stroke-width="0.6"/>
<circle cx="910.6" cy="181.5" r="2.15" stroke="#ef6c64" fill="rgba(255,246,228,0.55)" stroke-width="0.6"/>
<circle cx="884.4" cy="195.0" r="2.15" stroke="#ef6c64" fill="rgba(255,246,228,0.55)" stroke-width="0.6"/>
<circle cx="882.9" cy="192.6" r="2.15" stroke="#ef6c64" fill="rgba(255,246,228,0.55)" stroke-width="0.6"/>
<circle cx="889.5" cy="188.8" r="2.15" stroke="#ef6c64" fill="rgba(255,246,228,0.55)" stroke-width="0.6"/>
<circle cx="863.0" cy="202.7" r="2.15" stroke="#ef6c64" fill="rgba(255,246,228,0.55)" stroke-width="0.6"/>
<circle cx="866.0" cy="204.8" r="2.15" stroke="#ef6c64" fill="rgba(255,246,228,0.55)" stroke-width="0.6"/>
<circle cx="857.5" cy="207.8" r="2.15" stroke="#ef6c64" fill="rgba(255,246,228,0.55)" stroke-width="0.6"/>
<circle cx="911.6" cy="179.7" r="2.15" stroke="#ef6c64" fill="rgba(255,246,228,0.55)" stroke-width="0.6"/>
<circle cx="894.2" cy="186.2" r="2.15" stroke="#ef6c64" fill="rgba(255,246,228,0.55)" stroke-width="0.6"/>
<circle cx="896.9" cy="185.0" r="2.15" stroke="#ef6c64" fill="rgba(255,246,228,0.55)" stroke-width="0.6"/>
<circle cx="856.5" cy="206.1" r="2.15" stroke="#ef6c64" fill="rgba(255,246,228,0.55)" stroke-width="0.6"/>
<circle cx="873.7" cy="196.1" r="2.15" stroke="#ef6c64" fill="rgba(255,246,228,0.55)" stroke-width="0.6"/>
<circle cx="855.6" cy="208.6" r="2.15" stroke="#ef6c64" fill="rgba(255,246,228,0.55)" stroke-width="0.6"/>
<circle cx="891.4" cy="186.4" r="2.15" stroke="#ef6c64" fill="rgba(255,246,228,0.55)" stroke-width="0.6"/>
<circle cx="899.7" cy="186.8" r="2.15" stroke="#ef6c64" fill="rgba(255,246,228,0.55)" stroke-width="0.6"/>
<circle cx="897.8" cy="187.8" r="2.15" stroke="#ef6c64" fill="rgba(255,246,228,0.55)" stroke-width="0.6"/>
<circle cx="897.9" cy="183.7" r="2.15" stroke="#ef6c64" fill="rgba(255,246,228,0.55)" stroke-width="0.6"/>
<circle cx="866.9" cy="201.5" r="2.15" stroke="#ef6c64" fill="rgba(255,246,228,0.55)" stroke-width="0.6"/>
<circle cx="874.2" cy="198.0" r="2.15" stroke="#ef6c64" fill="rgba(255,246,228,0.55)" stroke-width="0.6"/>
<circle cx="900.2" cy="182.5" r="2.15" stroke="#ef6c64" fill="rgba(255,246,228,0.55)" stroke-width="0.6"/>
<circle cx="883.7" cy="192.3" r="2.15" stroke="#ef6c64" fill="rgba(255,246,228,0.55)" stroke-width="0.6"/>
<circle cx="884.3" cy="190.6" r="2.15" stroke="#ef6c64" fill="rgba(255,246,228,0.55)" stroke-width="0.6"/>
<circle cx="886.3" cy="191.5" r="2.15" stroke="#ef6c64" fill="rgba(255,246,228,0.55)" stroke-width="0.6"/>
<circle cx="852.3" cy="211.6" r="2.15" stroke="#ef6c64" fill="rgba(255,246,228,0.55)" stroke-width="0.6"/>
<circle cx="882.0" cy="194.5" r="2.15" stroke="#ef6c64" fill="rgba(255,246,228,0.55)" stroke-width="0.6"/>
<circle cx="863.9" cy="205.0" r="2.15" stroke="#ef6c64" fill="rgba(255,246,228,0.55)" stroke-width="0.6"/>
<circle cx="897.9" cy="185.7" r="2.15" stroke="#ef6c64" fill="rgba(255,246,228,0.55)" stroke-width="0.6"/>
<circle cx="908.0" cy="180.4" r="2.15" stroke="#ef6c64" fill="rgba(255,246,228,0.55)" stroke-width="0.6"/>
<circle cx="863.8" cy="205.3" r="2.15" stroke="#ef6c64" fill="rgba(255,246,228,0.55)" stroke-width="0.6"/>
<circle cx="868.4" cy="200.1" r="2.15" stroke="#ef6c64" fill="rgba(255,246,228,0.55)" stroke-width="0.6"/>
<circle cx="915.9" cy="180.1" r="2.15" stroke="#ef6c64" fill="rgba(255,246,228,0.55)" stroke-width="0.6"/>
<circle cx="878.7" cy="194.4" r="2.15" stroke="#ef6c64" fill="rgba(255,246,228,0.55)" stroke-width="0.6"/>
<circle cx="882.3" cy="190.0" r="2.15" stroke="#ef6c64" fill="rgba(255,246,228,0.55)" stroke-width="0.6"/>
<circle cx="859.5" cy="207.4" r="2.15" stroke="#ef6c64" fill="rgba(255,246,228,0.55)" stroke-width="0.6"/>
<circle cx="864.2" cy="205.8" r="2.15" stroke="#ef6c64" fill="rgba(255,246,228,0.55)" stroke-width="0.6"/>
<circle cx="878.6" cy="195.8" r="2.15" stroke="#ef6c64" fill="rgba(255,246,228,0.55)" stroke-width="0.6"/>
<circle cx="896.4" cy="184.5" r="2.15" stroke="#ef6c64" fill="rgba(255,246,228,0.55)" stroke-width="0.6"/>
<circle cx="888.1" cy="187.7" r="2.15" stroke="#ef6c64" fill="rgba(255,246,228,0.55)" stroke-width="0.6"/>
<circle cx="869.7" cy="203.5" r="2.15" stroke="#ef6c64" fill="rgba(255,246,228,0.55)" stroke-width="0.6"/>
<circle cx="866.9" cy="202.3" r="2.15" stroke="#ef6c64" fill="rgba(255,246,228,0.55)" stroke-width="0.6"/>
<circle cx="867.4" cy="200.5" r="2.15" stroke="#ef6c64" fill="rgba(255,246,228,0.55)" stroke-width="0.6"/>
<circle cx="872.5" cy="200.5" r="2.15" stroke="#ef6c64" fill="rgba(255,246,228,0.55)" stroke-width="0.6"/>
<circle cx="900.9" cy="182.8" r="2.15" stroke="#ef6c64" fill="rgba(255,246,228,0.55)" stroke-width="0.6"/>
<circle cx="855.6" cy="208.1" r="2.15" stroke="#ef6c64" fill="rgba(255,246,228,0.55)" stroke-width="0.6"/>
<circle cx="887.0" cy="189.0" r="2.15" stroke="#ef6c64" fill="rgba(255,246,228,0.55)" stroke-width="0.6"/>
<circle cx="868.3" cy="199.3" r="2.15" stroke="#ef6c64" fill="rgba(255,246,228,0.55)" stroke-width="0.6"/>
<circle cx="881.8" cy="194.5" r="2.15" stroke="#ef6c64" fill="rgba(255,246,228,0.55)" stroke-width="0.6"/>
<circle cx="915.6" cy="180.2" r="2.15" stroke="#ef6c64" fill="rgba(255,246,228,0.55)" stroke-width="0.6"/>
<circle cx="867.8" cy="200.8" r="2.15" stroke="#ef6c64" fill="rgba(255,246,228,0.55)" stroke-width="0.6"/>
<circle cx="895.9" cy="186.7" r="2.15" stroke="#ef6c64" fill="rgba(255,246,228,0.55)" stroke-width="0.6"/>
<circle cx="853.7" cy="212.8" r="2.15" stroke="#ef6c64" fill="rgba(255,246,228,0.55)" stroke-width="0.6"/>
<circle cx="872.8" cy="196.6" r="2.15" stroke="#ef6c64" fill="rgba(255,246,228,0.55)" stroke-width="0.6"/>
<circle cx="855.5" cy="211.7" r="2.15" stroke="#ef6c64" fill="rgba(255,246,228,0.55)" stroke-width="0.6"/>
<circle cx="884.5" cy="202.7" r="2.15" stroke="#ef6c64" fill="rgba(255,246,228,0.55)" stroke-width="0.6"/>
<circle cx="892.0" cy="192.9" r="2.15" stroke="#ef6c64" fill="rgba(255,246,228,0.55)" stroke-width="0.6"/>
<circle cx="914.6" cy="186.9" r="2.15" stroke="#ef6c64" fill="rgba(255,246,228,0.55)" stroke-width="0.6"/>
<circle cx="916.9" cy="190.6" r="2.15" stroke="#ef6c64" fill="rgba(255,246,228,0.55)" stroke-width="0.6"/>
<circle cx="913.9" cy="193.6" r="2.15" stroke="#ef6c64" fill="rgba(255,246,228,0.55)" stroke-width="0.6"/>
<circle cx="925.2" cy="180.9" r="2.15" stroke="#ef6c64" fill="rgba(255,246,228,0.55)" stroke-width="0.6"/>
<circle cx="926.7" cy="176.3" r="2.15" stroke="#ef6c64" fill="rgba(255,246,228,0.55)" stroke-width="0.6"/>
<circle cx="931.2" cy="175.6" r="2.15" stroke="#ef6c64" fill="rgba(255,246,228,0.55)" stroke-width="0.6"/>
<circle cx="934.2" cy="174.1" r="2.15" stroke="#ef6c64" fill="rgba(255,246,228,0.55)" stroke-width="0.6"/>
<circle cx="940.2" cy="174.1" r="2.15" stroke="#ef6c64" fill="rgba(255,246,228,0.55)" stroke-width="0.6"/>
<circle cx="943.2" cy="172.6" r="2.15" stroke="#ef6c64" fill="rgba(255,246,228,0.55)" stroke-width="0.6"/>
<circle cx="950.7" cy="172.3" r="2.15" stroke="#ef6c64" fill="rgba(255,246,228,0.55)" stroke-width="0.6"/>
<circle cx="925.2" cy="193.6" r="2.15" stroke="#ef6c64" fill="rgba(255,246,228,0.55)" stroke-width="0.6"/>
<circle cx="944.7" cy="186.9" r="2.15" stroke="#ef6c64" fill="rgba(255,246,228,0.55)" stroke-width="0.6"/>
<circle cx="952.2" cy="186.9" r="2.15" stroke="#ef6c64" fill="rgba(255,246,228,0.55)" stroke-width="0.6"/>
<circle cx="950.7" cy="196.7" r="2.15" stroke="#ef6c64" fill="rgba(255,246,228,0.55)" stroke-width="0.6"/>
<circle cx="962.0" cy="197.9" r="2.15" stroke="#ef6c64" fill="rgba(255,246,228,0.55)" stroke-width="0.6"/>
<circle cx="965.0" cy="199.7" r="2.15" stroke="#ef6c64" fill="rgba(255,246,228,0.55)" stroke-width="0.6"/>
<circle cx="968.0" cy="168.1" r="2.15" stroke="#ef6c64" fill="rgba(255,246,228,0.55)" stroke-width="0.6"/>
<circle cx="970.3" cy="169.6" r="2.15" stroke="#ef6c64" fill="rgba(255,246,228,0.55)" stroke-width="0.6"/>
<circle cx="968.8" cy="173.3" r="2.15" stroke="#ef6c64" fill="rgba(255,246,228,0.55)" stroke-width="0.6"/>
<circle cx="976.3" cy="168.1" r="2.15" stroke="#ef6c64" fill="rgba(255,246,228,0.55)" stroke-width="0.6"/>
<circle cx="979.3" cy="171.1" r="2.15" stroke="#ef6c64" fill="rgba(255,246,228,0.55)" stroke-width="0.6"/>
<circle cx="992.9" cy="186.9" r="2.15" stroke="#ef6c64" fill="rgba(255,246,228,0.55)" stroke-width="0.6"/>
<circle cx="1003.4" cy="186.9" r="2.15" stroke="#ef6c64" fill="rgba(255,246,228,0.55)" stroke-width="0.6"/>
<circle cx="998.9" cy="172.6" r="2.15" stroke="#ef6c64" fill="rgba(255,246,228,0.55)" stroke-width="0.6"/>
<circle cx="1003.4" cy="166.6" r="2.15" stroke="#ef6c64" fill="rgba(255,246,228,0.55)" stroke-width="0.6"/>
<circle cx="1007.2" cy="171.8" r="2.15" stroke="#ef6c64" fill="rgba(255,246,228,0.55)" stroke-width="0.6"/>
<circle cx="1011.7" cy="165.1" r="2.15" stroke="#ef6c64" fill="rgba(255,246,228,0.55)" stroke-width="0.6"/>
<circle cx="1011.7" cy="170.3" r="2.15" stroke="#ef6c64" fill="rgba(255,246,228,0.55)" stroke-width="0.6"/>
<circle cx="1015.5" cy="166.6" r="2.15" stroke="#ef6c64" fill="rgba(255,246,228,0.55)" stroke-width="0.6"/>
<circle cx="1015.5" cy="174.8" r="2.15" stroke="#ef6c64" fill="rgba(255,246,228,0.55)" stroke-width="0.6"/>
<circle cx="1020.7" cy="165.1" r="2.15" stroke="#ef6c64" fill="rgba(255,246,228,0.55)" stroke-width="0.6"/>
<circle cx="1026.7" cy="161.3" r="2.15" stroke="#ef6c64" fill="rgba(255,246,228,0.55)" stroke-width="0.6"/>
<circle cx="1027.5" cy="165.8" r="2.15" stroke="#ef6c64" fill="rgba(255,246,228,0.55)" stroke-width="0.6"/>
<circle cx="1028.3" cy="171.1" r="2.15" stroke="#ef6c64" fill="rgba(255,246,228,0.55)" stroke-width="0.6"/>
<circle cx="1022.2" cy="181.6" r="2.15" stroke="#ef6c64" fill="rgba(255,246,228,0.55)" stroke-width="0.6"/>
<circle cx="936.0" cy="176.0" r="2.15" stroke="#ef6c64" fill="rgba(255,246,228,0.55)" stroke-width="0.6"/>
<circle cx="938.0" cy="180.0" r="2.15" stroke="#ef6c64" fill="rgba(255,246,228,0.55)" stroke-width="0.6"/>
<circle cx="920.0" cy="178.0" r="2.15" stroke="#ef6c64" fill="rgba(255,246,228,0.55)" stroke-width="0.6"/>
<circle cx="958.0" cy="172.0" r="2.15" stroke="#ef6c64" fill="rgba(255,246,228,0.55)" stroke-width="0.6"/>
<circle cx="985.0" cy="170.0" r="2.15" stroke="#ef6c64" fill="rgba(255,246,228,0.55)" stroke-width="0.6"/>
<circle cx="989.0" cy="168.0" r="2.15" stroke="#ef6c64" fill="rgba(255,246,228,0.55)" stroke-width="0.6"/>
<circle cx="1001.0" cy="175.0" r="2.15" stroke="#ef6c64" fill="rgba(255,246,228,0.55)" stroke-width="0.6"/>
<circle cx="1035.6" cy="166.1" r="2.15" stroke="#ef6c64" fill="rgba(255,246,228,0.55)" stroke-width="0.6"/>
<circle cx="1048.5" cy="166.1" r="2.15" stroke="#ef6c64" fill="rgba(255,246,228,0.55)" stroke-width="0.6"/>
<circle cx="1050.1" cy="166.1" r="2.15" stroke="#ef6c64" fill="rgba(255,246,228,0.55)" stroke-width="0.6"/>
<circle cx="1056.5" cy="166.9" r="2.15" stroke="#ef6c64" fill="rgba(255,246,228,0.55)" stroke-width="0.6"/>
<circle cx="1060.5" cy="166.9" r="2.15" stroke="#ef6c64" fill="rgba(255,246,228,0.55)" stroke-width="0.6"/>
<circle cx="1065.3" cy="166.1" r="2.15" stroke="#ef6c64" fill="rgba(255,246,228,0.55)" stroke-width="0.6"/>
<circle cx="1070.1" cy="167.7" r="2.15" stroke="#ef6c64" fill="rgba(255,246,228,0.55)" stroke-width="0.6"/>
<circle cx="1080.6" cy="167.7" r="2.15" stroke="#ef6c64" fill="rgba(255,246,228,0.55)" stroke-width="0.6"/>
<circle cx="1085.4" cy="169.3" r="2.15" stroke="#ef6c64" fill="rgba(255,246,228,0.55)" stroke-width="0.6"/>
<circle cx="1091.0" cy="166.9" r="2.15" stroke="#ef6c64" fill="rgba(255,246,228,0.55)" stroke-width="0.6"/>
<circle cx="1097.4" cy="168.5" r="2.15" stroke="#ef6c64" fill="rgba(255,246,228,0.55)" stroke-width="0.6"/>
<circle cx="1095.8" cy="170.9" r="2.15" stroke="#ef6c64" fill="rgba(255,246,228,0.55)" stroke-width="0.6"/>
<circle cx="1044.5" cy="178.9" r="2.15" stroke="#ef6c64" fill="rgba(255,246,228,0.55)" stroke-width="0.6"/>
<circle cx="1049.3" cy="174.9" r="2.15" stroke="#ef6c64" fill="rgba(255,246,228,0.55)" stroke-width="0.6"/>
<circle cx="1064.5" cy="170.9" r="2.15" stroke="#ef6c64" fill="rgba(255,246,228,0.55)" stroke-width="0.6"/>
<circle cx="1071.7" cy="179.7" r="2.15" stroke="#ef6c64" fill="rgba(255,246,228,0.55)" stroke-width="0.6"/>
<circle cx="1075.8" cy="174.9" r="2.15" stroke="#ef6c64" fill="rgba(255,246,228,0.55)" stroke-width="0.6"/>
<circle cx="1086.2" cy="174.1" r="2.15" stroke="#ef6c64" fill="rgba(255,246,228,0.55)" stroke-width="0.6"/>
<circle cx="1054.1" cy="189.3" r="2.15" stroke="#ef6c64" fill="rgba(255,246,228,0.55)" stroke-width="0.6"/>
<circle cx="1077.4" cy="186.1" r="2.15" stroke="#ef6c64" fill="rgba(255,246,228,0.55)" stroke-width="0.6"/>
<circle cx="1080.6" cy="189.3" r="2.15" stroke="#ef6c64" fill="rgba(255,246,228,0.55)" stroke-width="0.6"/>
<circle cx="1085.4" cy="195.8" r="2.15" stroke="#ef6c64" fill="rgba(255,246,228,0.55)" stroke-width="0.6"/>
<circle cx="1046.1" cy="197.4" r="2.15" stroke="#ef6c64" fill="rgba(255,246,228,0.55)" stroke-width="0.6"/>
<circle cx="1050.8" cy="199.8" r="2.15" stroke="#ef6c64" fill="rgba(255,246,228,0.55)" stroke-width="0.6"/>
<circle cx="1052.5" cy="200.6" r="2.15" stroke="#ef6c64" fill="rgba(255,246,228,0.55)" stroke-width="0.6"/>
<circle cx="1055.7" cy="203.0" r="2.15" stroke="#ef6c64" fill="rgba(255,246,228,0.55)" stroke-width="0.6"/>
<circle cx="1094.2" cy="185.3" r="2.15" stroke="#ef6c64" fill="rgba(255,246,228,0.55)" stroke-width="0.6"/>
<circle cx="1097.4" cy="181.3" r="2.15" stroke="#ef6c64" fill="rgba(255,246,228,0.55)" stroke-width="0.6"/>
<circle cx="1104.7" cy="179.7" r="2.15" stroke="#ef6c64" fill="rgba(255,246,228,0.55)" stroke-width="0.6"/>
<circle cx="1097.4" cy="204.6" r="2.15" stroke="#ef6c64" fill="rgba(255,246,228,0.55)" stroke-width="0.6"/>
<circle cx="1112.7" cy="174.1" r="2.15" stroke="#ef6c64" fill="rgba(255,246,228,0.55)" stroke-width="0.6"/>
<circle cx="1117.5" cy="174.9" r="2.15" stroke="#ef6c64" fill="rgba(255,246,228,0.55)" stroke-width="0.6"/>
<circle cx="1123.9" cy="169.3" r="2.15" stroke="#ef6c64" fill="rgba(255,246,228,0.55)" stroke-width="0.6"/>
<circle cx="1124.7" cy="178.1" r="2.15" stroke="#ef6c64" fill="rgba(255,246,228,0.55)" stroke-width="0.6"/>
<circle cx="1131.2" cy="171.7" r="2.15" stroke="#ef6c64" fill="rgba(255,246,228,0.55)" stroke-width="0.6"/>
<circle cx="1133.6" cy="172.5" r="2.15" stroke="#ef6c64" fill="rgba(255,246,228,0.55)" stroke-width="0.6"/>
<circle cx="1140.8" cy="171.7" r="2.15" stroke="#ef6c64" fill="rgba(255,246,228,0.55)" stroke-width="0.6"/>
<circle cx="1139.2" cy="195.0" r="2.15" stroke="#ef6c64" fill="rgba(255,246,228,0.55)" stroke-width="0.6"/>
<circle cx="1151.2" cy="175.7" r="2.15" stroke="#ef6c64" fill="rgba(255,246,228,0.55)" stroke-width="0.6"/>
<circle cx="1155.2" cy="186.1" r="2.15" stroke="#ef6c64" fill="rgba(255,246,228,0.55)" stroke-width="0.6"/>
<circle cx="1159.3" cy="194.2" r="2.15" stroke="#ef6c64" fill="rgba(255,246,228,0.55)" stroke-width="0.6"/>
<circle cx="1163.3" cy="175.7" r="2.15" stroke="#ef6c64" fill="rgba(255,246,228,0.55)" stroke-width="0.6"/>
<circle cx="1167.3" cy="177.3" r="2.15" stroke="#ef6c64" fill="rgba(255,246,228,0.55)" stroke-width="0.6"/>
<circle cx="1171.3" cy="180.5" r="2.15" stroke="#ef6c64" fill="rgba(255,246,228,0.55)" stroke-width="0.6"/>
<circle cx="1176.9" cy="204.6" r="2.15" stroke="#ef6c64" fill="rgba(255,246,228,0.55)" stroke-width="0.6"/>
<circle cx="1180.9" cy="180.5" r="2.15" stroke="#ef6c64" fill="rgba(255,246,228,0.55)" stroke-width="0.6"/>
<circle cx="1182.5" cy="177.3" r="2.15" stroke="#ef6c64" fill="rgba(255,246,228,0.55)" stroke-width="0.6"/>
<circle cx="1188.2" cy="179.7" r="2.15" stroke="#ef6c64" fill="rgba(255,246,228,0.55)" stroke-width="0.6"/>
<circle cx="1195.4" cy="184.5" r="2.15" stroke="#ef6c64" fill="rgba(255,246,228,0.55)" stroke-width="0.6"/>
<circle cx="1218.7" cy="178.9" r="2.15" stroke="#ef6c64" fill="rgba(255,246,228,0.55)" stroke-width="0.6"/>
<circle cx="1220.3" cy="188.5" r="2.15" stroke="#ef6c64" fill="rgba(255,246,228,0.55)" stroke-width="0.6"/>
<circle cx="1200.0" cy="176.0" r="2.15" stroke="#ef6c64" fill="rgba(255,246,228,0.55)" stroke-width="0.6"/>
<circle cx="1205.0" cy="178.0" r="2.15" stroke="#ef6c64" fill="rgba(255,246,228,0.55)" stroke-width="0.6"/>
<circle cx="1210.0" cy="182.0" r="2.15" stroke="#ef6c64" fill="rgba(255,246,228,0.55)" stroke-width="0.6"/>
<circle cx="1145.0" cy="175.0" r="2.15" stroke="#ef6c64" fill="rgba(255,246,228,0.55)" stroke-width="0.6"/>
<circle cx="1120.0" cy="176.0" r="2.15" stroke="#ef6c64" fill="rgba(255,246,228,0.55)" stroke-width="0.6"/>
<circle cx="900.6" cy="65.8" r="2.1" stroke="#ef6c64" fill="rgba(255,246,228,0.55)" stroke-width="0.8"/>
<rect x="898.6" y="95.2" width="4" height="4" stroke="#76a8de" fill="rgba(228,247,250,0.75)" stroke-width="0.8"/>
<text x="933.3" y="76.0" font-size="24" text-anchor="start" style="font-family:'Liberation Sans',sans-serif">backward/total</text>
<text x="941.5" y="107.0" font-size="24" text-anchor="start" style="font-family:'Liberation Sans',sans-serif">forward/total</text>
<g transform="translate(787.7,60.5)" fill="none" stroke="#000"><circle cx="0" cy="0" r="15.3" stroke-width="2.2"/><path d="M0.6,-9.4 L0.6,8.6" stroke-width="3.3"/><path d="M0.2,-9.2 L-4.6,-6.2" stroke-width="1.6" stroke-linecap="round"/><path d="M-5.4,8.7 L5.4,8.7" stroke-width="1.8"/></g>
<g transform="translate(891.3,162.5)" fill="none" stroke="#ff00ff"><circle cx="0" cy="0" r="15.3" stroke-width="2.2"/><path d="M-4.9,-4.2 C-4.6,-7.6 -2.3,-9.3 0.2,-9.3 C3.6,-9.3 5.8,-7.2 5.8,-4.4 C5.8,-1.2 2.6,1.2 -1.2,4.2 L-6.6,8.2" stroke-width="2.8"/><circle cx="-4.7" cy="-3.9" r="1.7" fill="#ff00ff" stroke="none"/><path d="M-7.3,8.4 L7.6,8.4" stroke-width="2.5"/><path d="M7,8.6 L7,3.4" stroke-width="1.6"/></g>
<g transform="translate(1119.2,140.3)" fill="none" stroke="#0000ff"><circle cx="0" cy="0" r="15.3" stroke-width="2.2"/><path d="M-4.8,-4.3 C-4.2,-7.6 -2,-9 0.4,-9 C3.6,-9 5.2,-7.2 5.2,-5.0 C5.2,-2.2 2.8,-0.4 -0.4,-0.3" stroke-width="2.6"/><path d="M-3.6,-0.3 L0.6,-0.3" stroke-width="1.7"/><path d="M-0.4,-0.3 C4.2,-0.2 6.6,2 6.6,4.6 C6.6,7.6 3.8,9.3 -0.2,9.3 C-3.4,9.3 -5.4,7.8 -5.8,4.8" stroke-width="2.7"/><circle cx="-4.6" cy="-4.2" r="1.8" fill="#0000ff" stroke="none"/><circle cx="-5.6" cy="4.6" r="1.8" fill="#0000ff" stroke="none"/></g>
<path d="M752.20,73.90 L749.13,73.90 L749.13,55.02 C747.72,56.67 744.77,57.85 742.88,58.91 L742.88,56.20 C745.95,54.55 748.42,52.66 749.60,50.30 L752.20,50.30 Z" fill="#000"/>
<text x="757.5" y="140.2" font-size="34" text-anchor="end" style="font-family:'Liberation Sans',sans-serif">0.8</text>
<text x="757.0" y="202.4" font-size="34" text-anchor="end" style="font-family:'Liberation Sans',sans-serif">0.6</text>
<text x="756.3" y="265.6" font-size="34" text-anchor="end" style="font-family:'Liberation Sans',sans-serif">0.4</text>
<text x="756.5" y="328.4" font-size="34" text-anchor="end" style="font-family:'Liberation Sans',sans-serif">0.2</text>
<text x="758.3" y="391.6" font-size="34" text-anchor="end" style="font-family:'Liberation Sans',sans-serif">0</text>
<text x="900.0" y="451.3" font-size="35" text-anchor="middle" style="font-family:'Liberation Sans',sans-serif">2</text>
<text x="1028.5" y="451.3" font-size="35" text-anchor="middle" style="font-family:'Liberation Sans',sans-serif">4</text>
<text x="1153.9" y="451.3" font-size="35" text-anchor="middle" style="font-family:'Liberation Sans',sans-serif">6</text>
<g transform="translate(857.5,485.4) scale(0.95,1)"><text x="0" y="0" font-size="30.8" style="font-family:'Liberation Sans',sans-serif">total ion yield<tspan font-size="31.5"> ( </tspan><tspan font-weight="bold" font-size="27" dx="1.5" dy="-1.8">×</tspan><tspan font-size="31.5" dx="1.6" dy="1.8"> 10</tspan><tspan font-weight="bold" font-size="24" dx="-1.0" dy="-15.7">6</tspan><tspan font-size="31.5" dx="0.3" dy="15.7"> )</tspan></text></g>
<text transform="translate(690.3,231.2) rotate(-90)" font-size="33.3" style="font-family:'Liberation Sans',sans-serif">ratio</text>
<text x="683.2" y="35.1" font-size="43" text-anchor="start" style="font-family:'Liberation Sans',sans-serif">b</text>
<rect x="97.4" y="529.1" width="214.6" height="359.9" fill="#eff1e4"/>
<rect x="312" y="529.1" width="239.5" height="362.4" fill="#d9ecee"/>
<line x1="309" y1="528.5" x2="309" y2="892" stroke="#f28ce6" stroke-width="6" stroke-dasharray="18.5 6.4" stroke-dashoffset="2.5"/>
<line x1="96.7" y1="527.5" x2="96.7" y2="893.4" stroke="#000" stroke-width="1.6"/>
<line x1="95.9" y1="528.3" x2="552.95" y2="528.3" stroke="#000" stroke-width="1.6"/>
<line x1="552.2" y1="527.5" x2="552.2" y2="893.4" stroke="#000" stroke-width="1.5"/>
<line x1="95.9" y1="892.6" x2="552.95" y2="892.6" stroke="#000" stroke-width="1.6"/>
<line x1="97.5" y1="580.5" x2="104" y2="580.5" stroke="#000" stroke-width="1.4"/>
<line x1="97.5" y1="684.1" x2="104" y2="684.1" stroke="#000" stroke-width="1.4"/>
<line x1="97.5" y1="789.3" x2="104" y2="789.3" stroke="#000" stroke-width="1.4"/>
<line x1="234" y1="892" x2="234" y2="885" stroke="#000" stroke-width="1.4"/>
<line x1="370" y1="892" x2="370" y2="885" stroke="#000" stroke-width="1.4"/>
<line x1="506.4" y1="892" x2="506.4" y2="885" stroke="#000" stroke-width="1.4"/>
<rect x="285.2" y="690.5" width="4.3" height="4.3" stroke="#76a8de" fill="rgba(228,247,250,0.75)" stroke-width="0.7"/>
<rect x="192.8" y="783.0" width="4.3" height="4.3" stroke="#76a8de" fill="rgba(228,247,250,0.75)" stroke-width="0.7"/>
<rect x="105.9" y="876.4" width="4.3" height="4.3" stroke="#76a8de" fill="rgba(228,247,250,0.75)" stroke-width="0.7"/>
<rect x="157.7" y="820.5" width="4.3" height="4.3" stroke="#76a8de" fill="rgba(228,247,250,0.75)" stroke-width="0.7"/>
<rect x="242.0" y="732.3" width="4.3" height="4.3" stroke="#76a8de" fill="rgba(228,247,250,0.75)" stroke-width="0.7"/>
<rect x="116.4" y="865.2" width="4.3" height="4.3" stroke="#76a8de" fill="rgba(228,247,250,0.75)" stroke-width="0.7"/>
<rect x="98.6" y="883.6" width="4.3" height="4.3" stroke="#76a8de" fill="rgba(228,247,250,0.75)" stroke-width="0.7"/>
<rect x="201.0" y="772.7" width="4.3" height="4.3" stroke="#76a8de" fill="rgba(228,247,250,0.75)" stroke-width="0.7"/>
<rect x="230.3" y="740.1" width="4.3" height="4.3" stroke="#76a8de" fill="rgba(228,247,250,0.75)" stroke-width="0.7"/>
<rect x="125.0" y="856.9" width="4.3" height="4.3" stroke="#76a8de" fill="rgba(228,247,250,0.75)" stroke-width="0.7"/>
<rect x="273.4" y="700.4" width="4.3" height="4.3" stroke="#76a8de" fill="rgba(228,247,250,0.75)" stroke-width="0.7"/>
<rect x="104.1" y="879.5" width="4.3" height="4.3" stroke="#76a8de" fill="rgba(228,247,250,0.75)" stroke-width="0.7"/>
<rect x="248.0" y="725.3" width="4.3" height="4.3" stroke="#76a8de" fill="rgba(228,247,250,0.75)" stroke-width="0.7"/>
<rect x="218.2" y="752.1" width="4.3" height="4.3" stroke="#76a8de" fill="rgba(228,247,250,0.75)" stroke-width="0.7"/>
<rect x="180.3" y="793.9" width="4.3" height="4.3" stroke="#76a8de" fill="rgba(228,247,250,0.75)" stroke-width="0.7"/>
<rect x="110.8" y="868.4" width="4.3" height="4.3" stroke="#76a8de" fill="rgba(228,247,250,0.75)" stroke-width="0.7"/>
<rect x="140.9" y="838.8" width="4.3" height="4.3" stroke="#76a8de" fill="rgba(228,247,250,0.75)" stroke-width="0.7"/>
<rect x="101.0" y="880.7" width="4.3" height="4.3" stroke="#76a8de" fill="rgba(228,247,250,0.75)" stroke-width="0.7"/>
<rect x="188.6" y="786.5" width="4.3" height="4.3" stroke="#76a8de" fill="rgba(228,247,250,0.75)" stroke-width="0.7"/>
<rect x="223.9" y="748.0" width="4.3" height="4.3" stroke="#76a8de" fill="rgba(228,247,250,0.75)" stroke-width="0.7"/>
<rect x="283.4" y="691.4" width="4.3" height="4.3" stroke="#76a8de" fill="rgba(228,247,250,0.75)" stroke-width="0.7"/>
<rect x="180.3" y="795.3" width="4.3" height="4.3" stroke="#76a8de" fill="rgba(228,247,250,0.75)" stroke-width="0.7"/>
<rect x="160.1" y="817.1" width="4.3" height="4.3" stroke="#76a8de" fill="rgba(228,247,250,0.75)" stroke-width="0.7"/>
<rect x="303.7" y="676.4" width="4.3" height="4.3" stroke="#76a8de" fill="rgba(228,247,250,0.75)" stroke-width="0.7"/>
<rect x="272.2" y="700.3" width="4.3" height="4.3" stroke="#76a8de" fill="rgba(228,247,250,0.75)" stroke-width="0.7"/>
<rect x="141.9" y="837.4" width="4.3" height="4.3" stroke="#76a8de" fill="rgba(228,247,250,0.75)" stroke-width="0.7"/>
<rect x="158.8" y="815.5" width="4.3" height="4.3" stroke="#76a8de" fill="rgba(228,247,250,0.75)" stroke-width="0.7"/>
<rect x="277.2" y="697.4" width="4.3" height="4.3" stroke="#76a8de" fill="rgba(228,247,250,0.75)" stroke-width="0.7"/>
<rect x="224.7" y="748.9" width="4.3" height="4.3" stroke="#76a8de" fill="rgba(228,247,250,0.75)" stroke-width="0.7"/>
<rect x="277.7" y="697.7" width="4.3" height="4.3" stroke="#76a8de" fill="rgba(228,247,250,0.75)" stroke-width="0.7"/>
<rect x="166.0" y="807.2" width="4.3" height="4.3" stroke="#76a8de" fill="rgba(228,247,250,0.75)" stroke-width="0.7"/>
<rect x="236.5" y="736.8" width="4.3" height="4.3" stroke="#76a8de" fill="rgba(228,247,250,0.75)" stroke-width="0.7"/>
<rect x="291.1" y="686.1" width="4.3" height="4.3" stroke="#76a8de" fill="rgba(228,247,250,0.75)" stroke-width="0.7"/>
<rect x="193.3" y="782.2" width="4.3" height="4.3" stroke="#76a8de" fill="rgba(228,247,250,0.75)" stroke-width="0.7"/>
<rect x="122.0" y="858.4" width="4.3" height="4.3" stroke="#76a8de" fill="rgba(228,247,250,0.75)" stroke-width="0.7"/>
<rect x="216.9" y="757.8" width="4.3" height="4.3" stroke="#76a8de" fill="rgba(228,247,250,0.75)" stroke-width="0.7"/>
<rect x="209.3" y="763.8" width="4.3" height="4.3" stroke="#76a8de" fill="rgba(228,247,250,0.75)" stroke-width="0.7"/>
<rect x="153.7" y="822.6" width="4.3" height="4.3" stroke="#76a8de" fill="rgba(228,247,250,0.75)" stroke-width="0.7"/>
<rect x="264.7" y="710.1" width="4.3" height="4.3" stroke="#76a8de" fill="rgba(228,247,250,0.75)" stroke-width="0.7"/>
<rect x="120.4" y="861.2" width="4.3" height="4.3" stroke="#76a8de" fill="rgba(228,247,250,0.75)" stroke-width="0.7"/>
<rect x="107.1" y="875.1" width="4.3" height="4.3" stroke="#76a8de" fill="rgba(228,247,250,0.75)" stroke-width="0.7"/>
<rect x="183.7" y="790.6" width="4.3" height="4.3" stroke="#76a8de" fill="rgba(228,247,250,0.75)" stroke-width="0.7"/>
<rect x="221.5" y="755.1" width="4.3" height="4.3" stroke="#76a8de" fill="rgba(228,247,250,0.75)" stroke-width="0.7"/>
<rect x="283.4" y="692.2" width="4.3" height="4.3" stroke="#76a8de" fill="rgba(228,247,250,0.75)" stroke-width="0.7"/>
<rect x="262.2" y="711.5" width="4.3" height="4.3" stroke="#76a8de" fill="rgba(228,247,250,0.75)" stroke-width="0.7"/>
<rect x="227.7" y="742.1" width="4.3" height="4.3" stroke="#76a8de" fill="rgba(228,247,250,0.75)" stroke-width="0.7"/>
<rect x="99.9" y="882.5" width="4.3" height="4.3" stroke="#76a8de" fill="rgba(228,247,250,0.75)" stroke-width="0.7"/>
<rect x="207.6" y="765.3" width="4.3" height="4.3" stroke="#76a8de" fill="rgba(228,247,250,0.75)" stroke-width="0.7"/>
<rect x="301.5" y="677.6" width="4.3" height="4.3" stroke="#76a8de" fill="rgba(228,247,250,0.75)" stroke-width="0.7"/>
<rect x="260.1" y="715.4" width="4.3" height="4.3" stroke="#76a8de" fill="rgba(228,247,250,0.75)" stroke-width="0.7"/>
<rect x="299.0" y="680.3" width="4.3" height="4.3" stroke="#76a8de" fill="rgba(228,247,250,0.75)" stroke-width="0.7"/>
<rect x="178.4" y="796.3" width="4.3" height="4.3" stroke="#76a8de" fill="rgba(228,247,250,0.75)" stroke-width="0.7"/>
<rect x="200.9" y="772.1" width="4.3" height="4.3" stroke="#76a8de" fill="rgba(228,247,250,0.75)" stroke-width="0.7"/>
<rect x="245.9" y="728.8" width="4.3" height="4.3" stroke="#76a8de" fill="rgba(228,247,250,0.75)" stroke-width="0.7"/>
<rect x="113.6" y="868.2" width="4.3" height="4.3" stroke="#76a8de" fill="rgba(228,247,250,0.75)" stroke-width="0.7"/>
<rect x="106.1" y="873.2" width="4.3" height="4.3" stroke="#76a8de" fill="rgba(228,247,250,0.75)" stroke-width="0.7"/>
<rect x="289.4" y="684.1" width="4.3" height="4.3" stroke="#76a8de" fill="rgba(228,247,250,0.75)" stroke-width="0.7"/>
<rect x="191.6" y="780.9" width="4.3" height="4.3" stroke="#76a8de" fill="rgba(228,247,250,0.75)" stroke-width="0.7"/>
<rect x="223.0" y="749.9" width="4.3" height="4.3" stroke="#76a8de" fill="rgba(228,247,250,0.75)" stroke-width="0.7"/>
<rect x="144.8" y="832.7" width="4.3" height="4.3" stroke="#76a8de" fill="rgba(228,247,250,0.75)" stroke-width="0.7"/>
<rect x="274.8" y="700.7" width="4.3" height="4.3" stroke="#76a8de" fill="rgba(228,247,250,0.75)" stroke-width="0.7"/>
<rect x="248.6" y="726.1" width="4.3" height="4.3" stroke="#76a8de" fill="rgba(228,247,250,0.75)" stroke-width="0.7"/>
<rect x="184.7" y="789.2" width="4.3" height="4.3" stroke="#76a8de" fill="rgba(228,247,250,0.75)" stroke-width="0.7"/>
<rect x="302.3" y="674.4" width="4.3" height="4.3" stroke="#76a8de" fill="rgba(228,247,250,0.75)" stroke-width="0.7"/>
<rect x="245.2" y="727.6" width="4.3" height="4.3" stroke="#76a8de" fill="rgba(228,247,250,0.75)" stroke-width="0.7"/>
<rect x="206.0" y="770.0" width="4.3" height="4.3" stroke="#76a8de" fill="rgba(228,247,250,0.75)" stroke-width="0.7"/>
<rect x="172.0" y="802.3" width="4.3" height="4.3" stroke="#76a8de" fill="rgba(228,247,250,0.75)" stroke-width="0.7"/>
<rect x="148.8" y="827.9" width="4.3" height="4.3" stroke="#76a8de" fill="rgba(228,247,250,0.75)" stroke-width="0.7"/>
<rect x="236.8" y="738.0" width="4.3" height="4.3" stroke="#76a8de" fill="rgba(228,247,250,0.75)" stroke-width="0.7"/>
<rect x="240.5" y="733.7" width="4.3" height="4.3" stroke="#76a8de" fill="rgba(228,247,250,0.75)" stroke-width="0.7"/>
<rect x="245.6" y="727.6" width="4.3" height="4.3" stroke="#76a8de" fill="rgba(228,247,250,0.75)" stroke-width="0.7"/>
<rect x="289.6" y="685.9" width="4.3" height="4.3" stroke="#76a8de" fill="rgba(228,247,250,0.75)" stroke-width="0.7"/>
<rect x="244.1" y="731.0" width="4.3" height="4.3" stroke="#76a8de" fill="rgba(228,247,250,0.75)" stroke-width="0.7"/>
<rect x="168.2" y="806.8" width="4.3" height="4.3" stroke="#76a8de" fill="rgba(228,247,250,0.75)" stroke-width="0.7"/>
<rect x="109.3" y="871.8" width="4.3" height="4.3" stroke="#76a8de" fill="rgba(228,247,250,0.75)" stroke-width="0.7"/>
<rect x="287.5" y="688.2" width="4.3" height="4.3" stroke="#76a8de" fill="rgba(228,247,250,0.75)" stroke-width="0.7"/>
<rect x="193.1" y="782.4" width="4.3" height="4.3" stroke="#76a8de" fill="rgba(228,247,250,0.75)" stroke-width="0.7"/>
<rect x="302.9" y="674.9" width="4.3" height="4.3" stroke="#76a8de" fill="rgba(228,247,250,0.75)" stroke-width="0.7"/>
<rect x="182.8" y="792.0" width="4.3" height="4.3" stroke="#76a8de" fill="rgba(228,247,250,0.75)" stroke-width="0.7"/>
<rect x="271.4" y="703.5" width="4.3" height="4.3" stroke="#76a8de" fill="rgba(228,247,250,0.75)" stroke-width="0.7"/>
<rect x="102.4" y="879.3" width="4.3" height="4.3" stroke="#76a8de" fill="rgba(228,247,250,0.75)" stroke-width="0.7"/>
<rect x="233.2" y="737.5" width="4.3" height="4.3" stroke="#76a8de" fill="rgba(228,247,250,0.75)" stroke-width="0.7"/>
<rect x="241.0" y="732.0" width="4.3" height="4.3" stroke="#76a8de" fill="rgba(228,247,250,0.75)" stroke-width="0.7"/>
<rect x="157.3" y="816.7" width="4.3" height="4.3" stroke="#76a8de" fill="rgba(228,247,250,0.75)" stroke-width="0.7"/>
<rect x="281.2" y="694.7" width="4.3" height="4.3" stroke="#76a8de" fill="rgba(228,247,250,0.75)" stroke-width="0.7"/>
<rect x="247.6" y="726.4" width="4.3" height="4.3" stroke="#76a8de" fill="rgba(228,247,250,0.75)" stroke-width="0.7"/>
<rect x="296.6" y="679.8" width="4.3" height="4.3" stroke="#76a8de" fill="rgba(228,247,250,0.75)" stroke-width="0.7"/>
<rect x="295.2" y="683.0" width="4.3" height="4.3" stroke="#76a8de" fill="rgba(228,247,250,0.75)" stroke-width="0.7"/>
<rect x="290.7" y="685.9" width="4.3" height="4.3" stroke="#76a8de" fill="rgba(228,247,250,0.75)" stroke-width="0.7"/>
<rect x="222.8" y="751.3" width="4.3" height="4.3" stroke="#76a8de" fill="rgba(228,247,250,0.75)" stroke-width="0.7"/>
<rect x="214.0" y="759.9" width="4.3" height="4.3" stroke="#76a8de" fill="rgba(228,247,250,0.75)" stroke-width="0.7"/>
<rect x="109.6" y="871.9" width="4.3" height="4.3" stroke="#76a8de" fill="rgba(228,247,250,0.75)" stroke-width="0.7"/>
<rect x="270.5" y="705.7" width="4.3" height="4.3" stroke="#76a8de" fill="rgba(228,247,250,0.75)" stroke-width="0.7"/>
<rect x="123.7" y="856.8" width="4.3" height="4.3" stroke="#76a8de" fill="rgba(228,247,250,0.75)" stroke-width="0.7"/>
<rect x="264.9" y="710.5" width="4.3" height="4.3" stroke="#76a8de" fill="rgba(228,247,250,0.75)" stroke-width="0.7"/>
<rect x="263.7" y="709.9" width="4.3" height="4.3" stroke="#76a8de" fill="rgba(228,247,250,0.75)" stroke-width="0.7"/>
<rect x="220.2" y="751.7" width="4.3" height="4.3" stroke="#76a8de" fill="rgba(228,247,250,0.75)" stroke-width="0.7"/>
<rect x="216.6" y="756.6" width="4.3" height="4.3" stroke="#76a8de" fill="rgba(228,247,250,0.75)" stroke-width="0.7"/>
<rect x="115.7" y="866.7" width="4.3" height="4.3" stroke="#76a8de" fill="rgba(228,247,250,0.75)" stroke-width="0.7"/>
<rect x="97.8" y="883.8" width="4.3" height="4.3" stroke="#76a8de" fill="rgba(228,247,250,0.75)" stroke-width="0.7"/>
<rect x="282.0" y="694.2" width="4.3" height="4.3" stroke="#76a8de" fill="rgba(228,247,250,0.75)" stroke-width="0.7"/>
<rect x="97.7" y="884.8" width="4.3" height="4.3" stroke="#76a8de" fill="rgba(228,247,250,0.75)" stroke-width="0.7"/>
<rect x="209.8" y="762.3" width="4.3" height="4.3" stroke="#76a8de" fill="rgba(228,247,250,0.75)" stroke-width="0.7"/>
<rect x="261.3" y="715.5" width="4.3" height="4.3" stroke="#76a8de" fill="rgba(228,247,250,0.75)" stroke-width="0.7"/>
<rect x="142.8" y="833.9" width="4.3" height="4.3" stroke="#76a8de" fill="rgba(228,247,250,0.75)" stroke-width="0.7"/>
<rect x="157.5" y="819.0" width="4.3" height="4.3" stroke="#76a8de" fill="rgba(228,247,250,0.75)" stroke-width="0.7"/>
<rect x="242.8" y="730.5" width="4.3" height="4.3" stroke="#76a8de" fill="rgba(228,247,250,0.75)" stroke-width="0.7"/>
<rect x="153.0" y="819.0" width="4.3" height="4.3" stroke="#76a8de" fill="rgba(228,247,250,0.75)" stroke-width="0.7"/>
<rect x="184.3" y="791.0" width="4.3" height="4.3" stroke="#76a8de" fill="rgba(228,247,250,0.75)" stroke-width="0.7"/>
<rect x="289.4" y="688.2" width="4.3" height="4.3" stroke="#76a8de" fill="rgba(228,247,250,0.75)" stroke-width="0.7"/>
<rect x="171.8" y="803.7" width="4.3" height="4.3" stroke="#76a8de" fill="rgba(228,247,250,0.75)" stroke-width="0.7"/>
<rect x="143.2" y="836.5" width="4.3" height="4.3" stroke="#76a8de" fill="rgba(228,247,250,0.75)" stroke-width="0.7"/>
<rect x="225.8" y="746.8" width="4.3" height="4.3" stroke="#76a8de" fill="rgba(228,247,250,0.75)" stroke-width="0.7"/>
<rect x="110.8" y="871.2" width="4.3" height="4.3" stroke="#76a8de" fill="rgba(228,247,250,0.75)" stroke-width="0.7"/>
<rect x="130.9" y="850.8" width="4.3" height="4.3" stroke="#76a8de" fill="rgba(228,247,250,0.75)" stroke-width="0.7"/>
<rect x="156.4" y="818.5" width="4.3" height="4.3" stroke="#76a8de" fill="rgba(228,247,250,0.75)" stroke-width="0.7"/>
<rect x="115.8" y="865.2" width="4.3" height="4.3" stroke="#76a8de" fill="rgba(228,247,250,0.75)" stroke-width="0.7"/>
<rect x="257.8" y="716.5" width="4.3" height="4.3" stroke="#76a8de" fill="rgba(228,247,250,0.75)" stroke-width="0.7"/>
<rect x="280.5" y="695.8" width="4.3" height="4.3" stroke="#76a8de" fill="rgba(228,247,250,0.75)" stroke-width="0.7"/>
<rect x="179.1" y="794.7" width="4.3" height="4.3" stroke="#76a8de" fill="rgba(228,247,250,0.75)" stroke-width="0.7"/>
<rect x="208.1" y="764.6" width="4.3" height="4.3" stroke="#76a8de" fill="rgba(228,247,250,0.75)" stroke-width="0.7"/>
<rect x="155.8" y="820.5" width="4.3" height="4.3" stroke="#76a8de" fill="rgba(228,247,250,0.75)" stroke-width="0.7"/>
<rect x="286.2" y="690.5" width="4.3" height="4.3" stroke="#76a8de" fill="rgba(228,247,250,0.75)" stroke-width="0.7"/>
<rect x="107.7" y="873.1" width="4.3" height="4.3" stroke="#76a8de" fill="rgba(228,247,250,0.75)" stroke-width="0.7"/>
<rect x="243.5" y="727.6" width="4.3" height="4.3" stroke="#76a8de" fill="rgba(228,247,250,0.75)" stroke-width="0.7"/>
<rect x="107.0" y="874.2" width="4.3" height="4.3" stroke="#76a8de" fill="rgba(228,247,250,0.75)" stroke-width="0.7"/>
<rect x="262.9" y="707.9" width="4.3" height="4.3" stroke="#76a8de" fill="rgba(228,247,250,0.75)" stroke-width="0.7"/>
<rect x="154.4" y="821.0" width="4.3" height="4.3" stroke="#76a8de" fill="rgba(228,247,250,0.75)" stroke-width="0.7"/>
<rect x="135.3" y="846.3" width="4.3" height="4.3" stroke="#76a8de" fill="rgba(228,247,250,0.75)" stroke-width="0.7"/>
<rect x="156.6" y="818.8" width="4.3" height="4.3" stroke="#76a8de" fill="rgba(228,247,250,0.75)" stroke-width="0.7"/>
<rect x="248.4" y="723.6" width="4.3" height="4.3" stroke="#76a8de" fill="rgba(228,247,250,0.75)" stroke-width="0.7"/>
<rect x="122.4" y="859.5" width="4.3" height="4.3" stroke="#76a8de" fill="rgba(228,247,250,0.75)" stroke-width="0.7"/>
<rect x="236.8" y="734.8" width="4.3" height="4.3" stroke="#76a8de" fill="rgba(228,247,250,0.75)" stroke-width="0.7"/>
<rect x="253.0" y="718.8" width="4.3" height="4.3" stroke="#76a8de" fill="rgba(228,247,250,0.75)" stroke-width="0.7"/>
<rect x="297.8" y="677.6" width="4.3" height="4.3" stroke="#76a8de" fill="rgba(228,247,250,0.75)" stroke-width="0.7"/>
<rect x="113.9" y="865.2" width="4.3" height="4.3" stroke="#76a8de" fill="rgba(228,247,250,0.75)" stroke-width="0.7"/>
<rect x="108.0" y="875.6" width="4.3" height="4.3" stroke="#76a8de" fill="rgba(228,247,250,0.75)" stroke-width="0.7"/>
<rect x="192.0" y="783.4" width="4.3" height="4.3" stroke="#76a8de" fill="rgba(228,247,250,0.75)" stroke-width="0.7"/>
<rect x="123.3" y="856.6" width="4.3" height="4.3" stroke="#76a8de" fill="rgba(228,247,250,0.75)" stroke-width="0.7"/>
<rect x="248.5" y="724.2" width="4.3" height="4.3" stroke="#76a8de" fill="rgba(228,247,250,0.75)" stroke-width="0.7"/>
<rect x="113.4" y="868.0" width="4.3" height="4.3" stroke="#76a8de" fill="rgba(228,247,250,0.75)" stroke-width="0.7"/>
<rect x="278.7" y="698.6" width="4.3" height="4.3" stroke="#76a8de" fill="rgba(228,247,250,0.75)" stroke-width="0.7"/>
<rect x="165.6" y="810.5" width="4.3" height="4.3" stroke="#76a8de" fill="rgba(228,247,250,0.75)" stroke-width="0.7"/>
<rect x="300.5" y="676.5" width="4.3" height="4.3" stroke="#76a8de" fill="rgba(228,247,250,0.75)" stroke-width="0.7"/>
<rect x="221.5" y="748.4" width="4.3" height="4.3" stroke="#76a8de" fill="rgba(228,247,250,0.75)" stroke-width="0.7"/>
<rect x="222.0" y="751.8" width="4.3" height="4.3" stroke="#76a8de" fill="rgba(228,247,250,0.75)" stroke-width="0.7"/>
<rect x="154.7" y="819.7" width="4.3" height="4.3" stroke="#76a8de" fill="rgba(228,247,250,0.75)" stroke-width="0.7"/>
<rect x="219.5" y="755.7" width="4.3" height="4.3" stroke="#76a8de" fill="rgba(228,247,250,0.75)" stroke-width="0.7"/>
<rect x="272.9" y="703.5" width="4.3" height="4.3" stroke="#76a8de" fill="rgba(228,247,250,0.75)" stroke-width="0.7"/>
<rect x="276.0" y="699.6" width="4.3" height="4.3" stroke="#76a8de" fill="rgba(228,247,250,0.75)" stroke-width="0.7"/>
<rect x="157.3" y="817.1" width="4.3" height="4.3" stroke="#76a8de" fill="rgba(228,247,250,0.75)" stroke-width="0.7"/>
<rect x="222.2" y="750.8" width="4.3" height="4.3" stroke="#76a8de" fill="rgba(228,247,250,0.75)" stroke-width="0.7"/>
<rect x="156.8" y="819.6" width="4.3" height="4.3" stroke="#76a8de" fill="rgba(228,247,250,0.75)" stroke-width="0.7"/>
<rect x="273.0" y="700.2" width="4.3" height="4.3" stroke="#76a8de" fill="rgba(228,247,250,0.75)" stroke-width="0.7"/>
<rect x="159.6" y="816.4" width="4.3" height="4.3" stroke="#76a8de" fill="rgba(228,247,250,0.75)" stroke-width="0.7"/>
<rect x="222.6" y="754.2" width="4.3" height="4.3" stroke="#76a8de" fill="rgba(228,247,250,0.75)" stroke-width="0.7"/>
<rect x="265.2" y="708.9" width="4.3" height="4.3" stroke="#76a8de" fill="rgba(228,247,250,0.75)" stroke-width="0.7"/>
<rect x="238.9" y="733.4" width="4.3" height="4.3" stroke="#76a8de" fill="rgba(228,247,250,0.75)" stroke-width="0.7"/>
<rect x="289.1" y="687.8" width="4.3" height="4.3" stroke="#76a8de" fill="rgba(228,247,250,0.75)" stroke-width="0.7"/>
<rect x="202.2" y="772.4" width="4.3" height="4.3" stroke="#76a8de" fill="rgba(228,247,250,0.75)" stroke-width="0.7"/>
<rect x="247.1" y="729.4" width="4.3" height="4.3" stroke="#76a8de" fill="rgba(228,247,250,0.75)" stroke-width="0.7"/>
<rect x="239.8" y="735.0" width="4.3" height="4.3" stroke="#76a8de" fill="rgba(228,247,250,0.75)" stroke-width="0.7"/>
<rect x="274.3" y="704.2" width="4.3" height="4.3" stroke="#76a8de" fill="rgba(228,247,250,0.75)" stroke-width="0.7"/>
<rect x="269.7" y="707.1" width="4.3" height="4.3" stroke="#76a8de" fill="rgba(228,247,250,0.75)" stroke-width="0.7"/>
<rect x="131.9" y="848.3" width="4.3" height="4.3" stroke="#76a8de" fill="rgba(228,247,250,0.75)" stroke-width="0.7"/>
<rect x="118.7" y="860.7" width="4.3" height="4.3" stroke="#76a8de" fill="rgba(228,247,250,0.75)" stroke-width="0.7"/>
<rect x="141.9" y="838.2" width="4.3" height="4.3" stroke="#76a8de" fill="rgba(228,247,250,0.75)" stroke-width="0.7"/>
<rect x="176.1" y="795.9" width="4.3" height="4.3" stroke="#76a8de" fill="rgba(228,247,250,0.75)" stroke-width="0.7"/>
<rect x="135.1" y="846.0" width="4.3" height="4.3" stroke="#76a8de" fill="rgba(228,247,250,0.75)" stroke-width="0.7"/>
<rect x="221.3" y="753.3" width="4.3" height="4.3" stroke="#76a8de" fill="rgba(228,247,250,0.75)" stroke-width="0.7"/>
<rect x="176.3" y="797.1" width="4.3" height="4.3" stroke="#76a8de" fill="rgba(228,247,250,0.75)" stroke-width="0.7"/>
<rect x="202.9" y="767.8" width="4.3" height="4.3" stroke="#76a8de" fill="rgba(228,247,250,0.75)" stroke-width="0.7"/>
<rect x="149.8" y="830.7" width="4.3" height="4.3" stroke="#76a8de" fill="rgba(228,247,250,0.75)" stroke-width="0.7"/>
<rect x="234.8" y="736.4" width="4.3" height="4.3" stroke="#76a8de" fill="rgba(228,247,250,0.75)" stroke-width="0.7"/>
<rect x="129.0" y="850.5" width="4.3" height="4.3" stroke="#76a8de" fill="rgba(228,247,250,0.75)" stroke-width="0.7"/>
<rect x="190.4" y="785.4" width="4.3" height="4.3" stroke="#76a8de" fill="rgba(228,247,250,0.75)" stroke-width="0.7"/>
<rect x="229.7" y="741.3" width="4.3" height="4.3" stroke="#76a8de" fill="rgba(228,247,250,0.75)" stroke-width="0.7"/>
<rect x="282.9" y="693.4" width="4.3" height="4.3" stroke="#76a8de" fill="rgba(228,247,250,0.75)" stroke-width="0.7"/>
<rect x="251.3" y="723.5" width="4.3" height="4.3" stroke="#76a8de" fill="rgba(228,247,250,0.75)" stroke-width="0.7"/>
<rect x="185.5" y="789.5" width="4.3" height="4.3" stroke="#76a8de" fill="rgba(228,247,250,0.75)" stroke-width="0.7"/>
<rect x="217.4" y="756.7" width="4.3" height="4.3" stroke="#76a8de" fill="rgba(228,247,250,0.75)" stroke-width="0.7"/>
<rect x="220.8" y="751.2" width="4.3" height="4.3" stroke="#76a8de" fill="rgba(228,247,250,0.75)" stroke-width="0.7"/>
<rect x="259.6" y="715.3" width="4.3" height="4.3" stroke="#76a8de" fill="rgba(228,247,250,0.75)" stroke-width="0.7"/>
<rect x="205.9" y="765.6" width="4.3" height="4.3" stroke="#76a8de" fill="rgba(228,247,250,0.75)" stroke-width="0.7"/>
<rect x="258.5" y="717.8" width="4.3" height="4.3" stroke="#76a8de" fill="rgba(228,247,250,0.75)" stroke-width="0.7"/>
<rect x="115.0" y="866.6" width="4.3" height="4.3" stroke="#76a8de" fill="rgba(228,247,250,0.75)" stroke-width="0.7"/>
<rect x="170.9" y="805.2" width="4.3" height="4.3" stroke="#76a8de" fill="rgba(228,247,250,0.75)" stroke-width="0.7"/>
<rect x="114.0" y="870.9" width="4.3" height="4.3" stroke="#76a8de" fill="rgba(228,247,250,0.75)" stroke-width="0.7"/>
<rect x="244.5" y="728.4" width="4.3" height="4.3" stroke="#76a8de" fill="rgba(228,247,250,0.75)" stroke-width="0.7"/>
<rect x="210.9" y="763.1" width="4.3" height="4.3" stroke="#76a8de" fill="rgba(228,247,250,0.75)" stroke-width="0.7"/>
<rect x="234.1" y="740.1" width="4.3" height="4.3" stroke="#76a8de" fill="rgba(228,247,250,0.75)" stroke-width="0.7"/>
<rect x="224.1" y="744.8" width="4.3" height="4.3" stroke="#76a8de" fill="rgba(228,247,250,0.75)" stroke-width="0.7"/>
<rect x="245.3" y="729.2" width="4.3" height="4.3" stroke="#76a8de" fill="rgba(228,247,250,0.75)" stroke-width="0.7"/>
<rect x="156.3" y="820.3" width="4.3" height="4.3" stroke="#76a8de" fill="rgba(228,247,250,0.75)" stroke-width="0.7"/>
<rect x="135.7" y="842.8" width="4.3" height="4.3" stroke="#76a8de" fill="rgba(228,247,250,0.75)" stroke-width="0.7"/>
<rect x="121.9" y="858.7" width="4.3" height="4.3" stroke="#76a8de" fill="rgba(228,247,250,0.75)" stroke-width="0.7"/>
<rect x="285.4" y="689.9" width="4.3" height="4.3" stroke="#76a8de" fill="rgba(228,247,250,0.75)" stroke-width="0.7"/>
<rect x="212.2" y="759.6" width="4.3" height="4.3" stroke="#76a8de" fill="rgba(228,247,250,0.75)" stroke-width="0.7"/>
<rect x="154.3" y="825.2" width="4.3" height="4.3" stroke="#76a8de" fill="rgba(228,247,250,0.75)" stroke-width="0.7"/>
<rect x="163.7" y="811.3" width="4.3" height="4.3" stroke="#76a8de" fill="rgba(228,247,250,0.75)" stroke-width="0.7"/>
<rect x="284.3" y="690.4" width="4.3" height="4.3" stroke="#76a8de" fill="rgba(228,247,250,0.75)" stroke-width="0.7"/>
<rect x="242.1" y="729.8" width="4.3" height="4.3" stroke="#76a8de" fill="rgba(228,247,250,0.75)" stroke-width="0.7"/>
<rect x="151.2" y="826.2" width="4.3" height="4.3" stroke="#76a8de" fill="rgba(228,247,250,0.75)" stroke-width="0.7"/>
<rect x="120.3" y="858.1" width="4.3" height="4.3" stroke="#76a8de" fill="rgba(228,247,250,0.75)" stroke-width="0.7"/>
<rect x="226.6" y="744.4" width="4.3" height="4.3" stroke="#76a8de" fill="rgba(228,247,250,0.75)" stroke-width="0.7"/>
<rect x="172.5" y="801.9" width="4.3" height="4.3" stroke="#76a8de" fill="rgba(228,247,250,0.75)" stroke-width="0.7"/>
<rect x="138.0" y="840.9" width="4.3" height="4.3" stroke="#76a8de" fill="rgba(228,247,250,0.75)" stroke-width="0.7"/>
<rect x="242.6" y="733.5" width="4.3" height="4.3" stroke="#76a8de" fill="rgba(228,247,250,0.75)" stroke-width="0.7"/>
<rect x="247.2" y="727.5" width="4.3" height="4.3" stroke="#76a8de" fill="rgba(228,247,250,0.75)" stroke-width="0.7"/>
<rect x="101.4" y="878.5" width="4.3" height="4.3" stroke="#76a8de" fill="rgba(228,247,250,0.75)" stroke-width="0.7"/>
<rect x="112.3" y="867.5" width="4.3" height="4.3" stroke="#76a8de" fill="rgba(228,247,250,0.75)" stroke-width="0.7"/>
<rect x="188.5" y="785.2" width="4.3" height="4.3" stroke="#76a8de" fill="rgba(228,247,250,0.75)" stroke-width="0.7"/>
<rect x="106.6" y="875.9" width="4.3" height="4.3" stroke="#76a8de" fill="rgba(228,247,250,0.75)" stroke-width="0.7"/>
<rect x="280.6" y="694.5" width="4.3" height="4.3" stroke="#76a8de" fill="rgba(228,247,250,0.75)" stroke-width="0.7"/>
<rect x="128.3" y="849.5" width="4.3" height="4.3" stroke="#76a8de" fill="rgba(228,247,250,0.75)" stroke-width="0.7"/>
<rect x="172.9" y="802.7" width="4.3" height="4.3" stroke="#76a8de" fill="rgba(228,247,250,0.75)" stroke-width="0.7"/>
<rect x="132.7" y="850.1" width="4.3" height="4.3" stroke="#76a8de" fill="rgba(228,247,250,0.75)" stroke-width="0.7"/>
<rect x="194.7" y="778.9" width="4.3" height="4.3" stroke="#76a8de" fill="rgba(228,247,250,0.75)" stroke-width="0.7"/>
<rect x="301.4" y="675.6" width="4.3" height="4.3" stroke="#76a8de" fill="rgba(228,247,250,0.75)" stroke-width="0.7"/>
<rect x="282.8" y="693.0" width="4.3" height="4.3" stroke="#76a8de" fill="rgba(228,247,250,0.75)" stroke-width="0.7"/>
<rect x="127.7" y="853.9" width="4.3" height="4.3" stroke="#76a8de" fill="rgba(228,247,250,0.75)" stroke-width="0.7"/>
<rect x="296.5" y="680.0" width="4.3" height="4.3" stroke="#76a8de" fill="rgba(228,247,250,0.75)" stroke-width="0.7"/>
<rect x="264.3" y="711.0" width="4.3" height="4.3" stroke="#76a8de" fill="rgba(228,247,250,0.75)" stroke-width="0.7"/>
<rect x="213.6" y="760.5" width="4.3" height="4.3" stroke="#76a8de" fill="rgba(228,247,250,0.75)" stroke-width="0.7"/>
<rect x="213.0" y="759.6" width="4.3" height="4.3" stroke="#76a8de" fill="rgba(228,247,250,0.75)" stroke-width="0.7"/>
<rect x="210.9" y="763.4" width="4.3" height="4.3" stroke="#76a8de" fill="rgba(228,247,250,0.75)" stroke-width="0.7"/>
<rect x="221.7" y="751.6" width="4.3" height="4.3" stroke="#76a8de" fill="rgba(228,247,250,0.75)" stroke-width="0.7"/>
<rect x="274.5" y="699.3" width="4.3" height="4.3" stroke="#76a8de" fill="rgba(228,247,250,0.75)" stroke-width="0.7"/>
<rect x="178.6" y="796.5" width="4.3" height="4.3" stroke="#76a8de" fill="rgba(228,247,250,0.75)" stroke-width="0.7"/>
<rect x="200.2" y="769.4" width="4.3" height="4.3" stroke="#76a8de" fill="rgba(228,247,250,0.75)" stroke-width="0.7"/>
<rect x="199.1" y="775.8" width="4.3" height="4.3" stroke="#76a8de" fill="rgba(228,247,250,0.75)" stroke-width="0.7"/>
<rect x="176.5" y="801.4" width="4.3" height="4.3" stroke="#76a8de" fill="rgba(228,247,250,0.75)" stroke-width="0.7"/>
<rect x="213.4" y="760.2" width="4.3" height="4.3" stroke="#76a8de" fill="rgba(228,247,250,0.75)" stroke-width="0.7"/>
<rect x="206.2" y="765.2" width="4.3" height="4.3" stroke="#76a8de" fill="rgba(228,247,250,0.75)" stroke-width="0.7"/>
<rect x="165.2" y="810.1" width="4.3" height="4.3" stroke="#76a8de" fill="rgba(228,247,250,0.75)" stroke-width="0.7"/>
<rect x="110.6" y="870.8" width="4.3" height="4.3" stroke="#76a8de" fill="rgba(228,247,250,0.75)" stroke-width="0.7"/>
<rect x="130.0" y="850.1" width="4.3" height="4.3" stroke="#76a8de" fill="rgba(228,247,250,0.75)" stroke-width="0.7"/>
<rect x="168.4" y="805.3" width="4.3" height="4.3" stroke="#76a8de" fill="rgba(228,247,250,0.75)" stroke-width="0.7"/>
<rect x="185.9" y="791.2" width="4.3" height="4.3" stroke="#76a8de" fill="rgba(228,247,250,0.75)" stroke-width="0.7"/>
<rect x="246.0" y="725.1" width="4.3" height="4.3" stroke="#76a8de" fill="rgba(228,247,250,0.75)" stroke-width="0.7"/>
<rect x="275.6" y="699.3" width="4.3" height="4.3" stroke="#76a8de" fill="rgba(228,247,250,0.75)" stroke-width="0.7"/>
<rect x="159.8" y="814.6" width="4.3" height="4.3" stroke="#76a8de" fill="rgba(228,247,250,0.75)" stroke-width="0.7"/>
<rect x="190.8" y="783.3" width="4.3" height="4.3" stroke="#76a8de" fill="rgba(228,247,250,0.75)" stroke-width="0.7"/>
<rect x="304.5" y="673.4" width="4.3" height="4.3" stroke="#76a8de" fill="rgba(228,247,250,0.75)" stroke-width="0.7"/>
<rect x="211.0" y="763.3" width="4.3" height="4.3" stroke="#76a8de" fill="rgba(228,247,250,0.75)" stroke-width="0.7"/>
<rect x="170.5" y="803.8" width="4.3" height="4.3" stroke="#76a8de" fill="rgba(228,247,250,0.75)" stroke-width="0.7"/>
<rect x="225.0" y="745.3" width="4.3" height="4.3" stroke="#76a8de" fill="rgba(228,247,250,0.75)" stroke-width="0.7"/>
<rect x="282.0" y="691.4" width="4.3" height="4.3" stroke="#76a8de" fill="rgba(228,247,250,0.75)" stroke-width="0.7"/>
<rect x="194.2" y="780.3" width="4.3" height="4.3" stroke="#76a8de" fill="rgba(228,247,250,0.75)" stroke-width="0.7"/>
<rect x="144.7" y="829.0" width="4.3" height="4.3" stroke="#76a8de" fill="rgba(228,247,250,0.75)" stroke-width="0.7"/>
<rect x="137.0" y="842.7" width="4.3" height="4.3" stroke="#76a8de" fill="rgba(228,247,250,0.75)" stroke-width="0.7"/>
<rect x="159.7" y="811.6" width="4.3" height="4.3" stroke="#76a8de" fill="rgba(228,247,250,0.75)" stroke-width="0.7"/>
<rect x="126.5" y="856.8" width="4.3" height="4.3" stroke="#76a8de" fill="rgba(228,247,250,0.75)" stroke-width="0.7"/>
<rect x="182.4" y="790.1" width="4.3" height="4.3" stroke="#76a8de" fill="rgba(228,247,250,0.75)" stroke-width="0.7"/>
<rect x="302.5" y="672.0" width="4.3" height="4.3" stroke="#76a8de" fill="rgba(228,247,250,0.75)" stroke-width="0.7"/>
<rect x="108.8" y="874.8" width="4.3" height="4.3" stroke="#76a8de" fill="rgba(228,247,250,0.75)" stroke-width="0.7"/>
<rect x="259.4" y="714.5" width="4.3" height="4.3" stroke="#76a8de" fill="rgba(228,247,250,0.75)" stroke-width="0.7"/>
<rect x="153.0" y="823.9" width="4.3" height="4.3" stroke="#76a8de" fill="rgba(228,247,250,0.75)" stroke-width="0.7"/>
<rect x="124.3" y="855.9" width="4.3" height="4.3" stroke="#76a8de" fill="rgba(228,247,250,0.75)" stroke-width="0.7"/>
<rect x="182.2" y="794.0" width="4.3" height="4.3" stroke="#76a8de" fill="rgba(228,247,250,0.75)" stroke-width="0.7"/>
<rect x="238.4" y="734.7" width="4.3" height="4.3" stroke="#76a8de" fill="rgba(228,247,250,0.75)" stroke-width="0.7"/>
<rect x="301.5" y="672.4" width="4.3" height="4.3" stroke="#76a8de" fill="rgba(228,247,250,0.75)" stroke-width="0.7"/>
<rect x="282.5" y="692.7" width="4.3" height="4.3" stroke="#76a8de" fill="rgba(228,247,250,0.75)" stroke-width="0.7"/>
<rect x="127.4" y="855.6" width="4.3" height="4.3" stroke="#76a8de" fill="rgba(228,247,250,0.75)" stroke-width="0.7"/>
<rect x="140.6" y="837.5" width="4.3" height="4.3" stroke="#76a8de" fill="rgba(228,247,250,0.75)" stroke-width="0.7"/>
<rect x="120.0" y="859.6" width="4.3" height="4.3" stroke="#76a8de" fill="rgba(228,247,250,0.75)" stroke-width="0.7"/>
<rect x="225.0" y="747.7" width="4.3" height="4.3" stroke="#76a8de" fill="rgba(228,247,250,0.75)" stroke-width="0.7"/>
<rect x="273.0" y="700.4" width="4.3" height="4.3" stroke="#76a8de" fill="rgba(228,247,250,0.75)" stroke-width="0.7"/>
<rect x="131.3" y="848.4" width="4.3" height="4.3" stroke="#76a8de" fill="rgba(228,247,250,0.75)" stroke-width="0.7"/>
<rect x="269.4" y="705.9" width="4.3" height="4.3" stroke="#76a8de" fill="rgba(228,247,250,0.75)" stroke-width="0.7"/>
<rect x="191.2" y="784.1" width="4.3" height="4.3" stroke="#76a8de" fill="rgba(228,247,250,0.75)" stroke-width="0.7"/>
<rect x="275.9" y="696.2" width="4.3" height="4.3" stroke="#76a8de" fill="rgba(228,247,250,0.75)" stroke-width="0.7"/>
<rect x="111.5" y="870.0" width="4.3" height="4.3" stroke="#76a8de" fill="rgba(228,247,250,0.75)" stroke-width="0.7"/>
<rect x="286.3" y="687.6" width="4.3" height="4.3" stroke="#76a8de" fill="rgba(228,247,250,0.75)" stroke-width="0.7"/>
<rect x="302.2" y="673.9" width="4.3" height="4.3" stroke="#76a8de" fill="rgba(228,247,250,0.75)" stroke-width="0.7"/>
<rect x="241.1" y="730.0" width="4.3" height="4.3" stroke="#76a8de" fill="rgba(228,247,250,0.75)" stroke-width="0.7"/>
<rect x="174.0" y="800.0" width="4.3" height="4.3" stroke="#76a8de" fill="rgba(228,247,250,0.75)" stroke-width="0.7"/>
<rect x="178.3" y="797.0" width="4.3" height="4.3" stroke="#76a8de" fill="rgba(228,247,250,0.75)" stroke-width="0.7"/>
<rect x="185.3" y="791.2" width="4.3" height="4.3" stroke="#76a8de" fill="rgba(228,247,250,0.75)" stroke-width="0.7"/>
<rect x="97.2" y="886.4" width="4.3" height="4.3" stroke="#76a8de" fill="rgba(228,247,250,0.75)" stroke-width="0.7"/>
<rect x="263.8" y="711.7" width="4.3" height="4.3" stroke="#76a8de" fill="rgba(228,247,250,0.75)" stroke-width="0.7"/>
<rect x="203.5" y="766.9" width="4.3" height="4.3" stroke="#76a8de" fill="rgba(228,247,250,0.75)" stroke-width="0.7"/>
<rect x="144.6" y="830.3" width="4.3" height="4.3" stroke="#76a8de" fill="rgba(228,247,250,0.75)" stroke-width="0.7"/>
<rect x="175.6" y="799.1" width="4.3" height="4.3" stroke="#76a8de" fill="rgba(228,247,250,0.75)" stroke-width="0.7"/>
<rect x="131.8" y="846.4" width="4.3" height="4.3" stroke="#76a8de" fill="rgba(228,247,250,0.75)" stroke-width="0.7"/>
<rect x="230.0" y="746.1" width="4.3" height="4.3" stroke="#76a8de" fill="rgba(228,247,250,0.75)" stroke-width="0.7"/>
<rect x="305.1" y="672.4" width="4.3" height="4.3" stroke="#76a8de" fill="rgba(228,247,250,0.75)" stroke-width="0.7"/>
<rect x="262.8" y="708.9" width="4.3" height="4.3" stroke="#76a8de" fill="rgba(228,247,250,0.75)" stroke-width="0.7"/>
<rect x="192.6" y="783.6" width="4.3" height="4.3" stroke="#76a8de" fill="rgba(228,247,250,0.75)" stroke-width="0.7"/>
<rect x="220.6" y="751.9" width="4.3" height="4.3" stroke="#76a8de" fill="rgba(228,247,250,0.75)" stroke-width="0.7"/>
<rect x="124.8" y="855.8" width="4.3" height="4.3" stroke="#76a8de" fill="rgba(228,247,250,0.75)" stroke-width="0.7"/>
<rect x="157.4" y="821.4" width="4.3" height="4.3" stroke="#76a8de" fill="rgba(228,247,250,0.75)" stroke-width="0.7"/>
<rect x="99.5" y="884.1" width="4.3" height="4.3" stroke="#76a8de" fill="rgba(228,247,250,0.75)" stroke-width="0.7"/>
<rect x="126.6" y="854.3" width="4.3" height="4.3" stroke="#76a8de" fill="rgba(228,247,250,0.75)" stroke-width="0.7"/>
<rect x="223.0" y="751.9" width="4.3" height="4.3" stroke="#76a8de" fill="rgba(228,247,250,0.75)" stroke-width="0.7"/>
<rect x="304.7" y="670.9" width="4.3" height="4.3" stroke="#76a8de" fill="rgba(228,247,250,0.75)" stroke-width="0.7"/>
<rect x="190.2" y="786.2" width="4.3" height="4.3" stroke="#76a8de" fill="rgba(228,247,250,0.75)" stroke-width="0.7"/>
<rect x="306.3" y="672.4" width="4.3" height="4.3" stroke="#76a8de" fill="rgba(228,247,250,0.75)" stroke-width="0.7"/>
<rect x="226.7" y="744.4" width="4.3" height="4.3" stroke="#76a8de" fill="rgba(228,247,250,0.75)" stroke-width="0.7"/>
<rect x="102.4" y="878.1" width="4.3" height="4.3" stroke="#76a8de" fill="rgba(228,247,250,0.75)" stroke-width="0.7"/>
<rect x="133.4" y="848.1" width="4.3" height="4.3" stroke="#76a8de" fill="rgba(228,247,250,0.75)" stroke-width="0.7"/>
<rect x="284.0" y="692.4" width="4.3" height="4.3" stroke="#76a8de" fill="rgba(228,247,250,0.75)" stroke-width="0.7"/>
<rect x="129.9" y="850.9" width="4.3" height="4.3" stroke="#76a8de" fill="rgba(228,247,250,0.75)" stroke-width="0.7"/>
<rect x="138.9" y="839.2" width="4.3" height="4.3" stroke="#76a8de" fill="rgba(228,247,250,0.75)" stroke-width="0.7"/>
<rect x="128.8" y="849.9" width="4.3" height="4.3" stroke="#76a8de" fill="rgba(228,247,250,0.75)" stroke-width="0.7"/>
<rect x="160.4" y="812.9" width="4.3" height="4.3" stroke="#76a8de" fill="rgba(228,247,250,0.75)" stroke-width="0.7"/>
<rect x="255.0" y="716.1" width="4.3" height="4.3" stroke="#76a8de" fill="rgba(228,247,250,0.75)" stroke-width="0.7"/>
<rect x="273.4" y="701.1" width="4.3" height="4.3" stroke="#76a8de" fill="rgba(228,247,250,0.75)" stroke-width="0.7"/>
<rect x="159.4" y="813.4" width="4.3" height="4.3" stroke="#76a8de" fill="rgba(228,247,250,0.75)" stroke-width="0.7"/>
<rect x="218.8" y="755.2" width="4.3" height="4.3" stroke="#76a8de" fill="rgba(228,247,250,0.75)" stroke-width="0.7"/>
<rect x="109.8" y="871.6" width="4.3" height="4.3" stroke="#76a8de" fill="rgba(228,247,250,0.75)" stroke-width="0.7"/>
<rect x="97.7" y="885.6" width="4.3" height="4.3" stroke="#76a8de" fill="rgba(228,247,250,0.75)" stroke-width="0.7"/>
<rect x="115.5" y="864.8" width="4.3" height="4.3" stroke="#76a8de" fill="rgba(228,247,250,0.75)" stroke-width="0.7"/>
<rect x="179.0" y="796.1" width="4.3" height="4.3" stroke="#76a8de" fill="rgba(228,247,250,0.75)" stroke-width="0.7"/>
<rect x="151.1" y="826.9" width="4.3" height="4.3" stroke="#76a8de" fill="rgba(228,247,250,0.75)" stroke-width="0.7"/>
<rect x="231.3" y="742.1" width="4.3" height="4.3" stroke="#76a8de" fill="rgba(228,247,250,0.75)" stroke-width="0.7"/>
<rect x="271.1" y="704.2" width="4.3" height="4.3" stroke="#76a8de" fill="rgba(228,247,250,0.75)" stroke-width="0.7"/>
<rect x="228.6" y="744.0" width="4.3" height="4.3" stroke="#76a8de" fill="rgba(228,247,250,0.75)" stroke-width="0.7"/>
<rect x="317.0" y="660.6" width="4.3" height="4.3" stroke="#76a8de" fill="rgba(228,247,250,0.75)" stroke-width="0.7"/>
<rect x="337.1" y="661.5" width="4.3" height="4.3" stroke="#76a8de" fill="rgba(228,247,250,0.75)" stroke-width="0.7"/>
<rect x="304.5" y="668.8" width="4.3" height="4.3" stroke="#76a8de" fill="rgba(228,247,250,0.75)" stroke-width="0.7"/>
<rect x="311.7" y="671.6" width="4.3" height="4.3" stroke="#76a8de" fill="rgba(228,247,250,0.75)" stroke-width="0.7"/>
<rect x="324.7" y="652.8" width="4.3" height="4.3" stroke="#76a8de" fill="rgba(228,247,250,0.75)" stroke-width="0.7"/>
<rect x="306.2" y="668.6" width="4.3" height="4.3" stroke="#76a8de" fill="rgba(228,247,250,0.75)" stroke-width="0.7"/>
<rect x="323.7" y="654.7" width="4.3" height="4.3" stroke="#76a8de" fill="rgba(228,247,250,0.75)" stroke-width="0.7"/>
<rect x="321.5" y="670.1" width="4.3" height="4.3" stroke="#76a8de" fill="rgba(228,247,250,0.75)" stroke-width="0.7"/>
<rect x="299.8" y="666.1" width="4.3" height="4.3" stroke="#76a8de" fill="rgba(228,247,250,0.75)" stroke-width="0.7"/>
<rect x="339.2" y="655.2" width="4.3" height="4.3" stroke="#76a8de" fill="rgba(228,247,250,0.75)" stroke-width="0.7"/>
<rect x="297.4" y="671.2" width="4.3" height="4.3" stroke="#76a8de" fill="rgba(228,247,250,0.75)" stroke-width="0.7"/>
<rect x="305.1" y="667.3" width="4.3" height="4.3" stroke="#76a8de" fill="rgba(228,247,250,0.75)" stroke-width="0.7"/>
<rect x="324.5" y="658.5" width="4.3" height="4.3" stroke="#76a8de" fill="rgba(228,247,250,0.75)" stroke-width="0.7"/>
<rect x="330.0" y="645.1" width="4.3" height="4.3" stroke="#76a8de" fill="rgba(228,247,250,0.75)" stroke-width="0.7"/>
<rect x="317.7" y="672.7" width="4.3" height="4.3" stroke="#76a8de" fill="rgba(228,247,250,0.75)" stroke-width="0.7"/>
<rect x="338.9" y="664.8" width="4.3" height="4.3" stroke="#76a8de" fill="rgba(228,247,250,0.75)" stroke-width="0.7"/>
<rect x="336.1" y="640.0" width="4.3" height="4.3" stroke="#76a8de" fill="rgba(228,247,250,0.75)" stroke-width="0.7"/>
<rect x="326.1" y="657.8" width="4.3" height="4.3" stroke="#76a8de" fill="rgba(228,247,250,0.75)" stroke-width="0.7"/>
<rect x="319.6" y="656.7" width="4.3" height="4.3" stroke="#76a8de" fill="rgba(228,247,250,0.75)" stroke-width="0.7"/>
<rect x="342.2" y="649.9" width="4.3" height="4.3" stroke="#76a8de" fill="rgba(228,247,250,0.75)" stroke-width="0.7"/>
<rect x="332.4" y="652.7" width="4.3" height="4.3" stroke="#76a8de" fill="rgba(228,247,250,0.75)" stroke-width="0.7"/>
<rect x="317.5" y="668.0" width="4.3" height="4.3" stroke="#76a8de" fill="rgba(228,247,250,0.75)" stroke-width="0.7"/>
<rect x="320.2" y="655.2" width="4.3" height="4.3" stroke="#76a8de" fill="rgba(228,247,250,0.75)" stroke-width="0.7"/>
<rect x="333.9" y="653.2" width="4.3" height="4.3" stroke="#76a8de" fill="rgba(228,247,250,0.75)" stroke-width="0.7"/>
<rect x="311.1" y="667.6" width="4.3" height="4.3" stroke="#76a8de" fill="rgba(228,247,250,0.75)" stroke-width="0.7"/>
<rect x="312.9" y="670.6" width="4.3" height="4.3" stroke="#76a8de" fill="rgba(228,247,250,0.75)" stroke-width="0.7"/>
<rect x="310.2" y="675.3" width="4.3" height="4.3" stroke="#76a8de" fill="rgba(228,247,250,0.75)" stroke-width="0.7"/>
<rect x="340.6" y="644.8" width="4.3" height="4.3" stroke="#76a8de" fill="rgba(228,247,250,0.75)" stroke-width="0.7"/>
<rect x="340.3" y="648.0" width="4.3" height="4.3" stroke="#76a8de" fill="rgba(228,247,250,0.75)" stroke-width="0.7"/>
<rect x="303.5" y="665.9" width="4.3" height="4.3" stroke="#76a8de" fill="rgba(228,247,250,0.75)" stroke-width="0.7"/>
<rect x="335.7" y="660.6" width="4.3" height="4.3" stroke="#76a8de" fill="rgba(228,247,250,0.75)" stroke-width="0.7"/>
<rect x="340.8" y="644.4" width="4.3" height="4.3" stroke="#76a8de" fill="rgba(228,247,250,0.75)" stroke-width="0.7"/>
<rect x="299.1" y="668.2" width="4.3" height="4.3" stroke="#76a8de" fill="rgba(228,247,250,0.75)" stroke-width="0.7"/>
<rect x="328.1" y="654.2" width="4.3" height="4.3" stroke="#76a8de" fill="rgba(228,247,250,0.75)" stroke-width="0.7"/>
<rect x="314.9" y="670.7" width="4.3" height="4.3" stroke="#76a8de" fill="rgba(228,247,250,0.75)" stroke-width="0.7"/>
<rect x="320.4" y="659.9" width="4.3" height="4.3" stroke="#76a8de" fill="rgba(228,247,250,0.75)" stroke-width="0.7"/>
<rect x="325.0" y="654.0" width="4.3" height="4.3" stroke="#76a8de" fill="rgba(228,247,250,0.75)" stroke-width="0.7"/>
<rect x="316.4" y="656.8" width="4.3" height="4.3" stroke="#76a8de" fill="rgba(228,247,250,0.75)" stroke-width="0.7"/>
<rect x="310.3" y="665.8" width="4.3" height="4.3" stroke="#76a8de" fill="rgba(228,247,250,0.75)" stroke-width="0.7"/>
<rect x="296.6" y="675.0" width="4.3" height="4.3" stroke="#76a8de" fill="rgba(228,247,250,0.75)" stroke-width="0.7"/>
<rect x="159.2" y="835.8" width="4.3" height="4.3" stroke="#76a8de" fill="rgba(228,247,250,0.75)" stroke-width="0.7"/>
<rect x="199.3" y="845.1" width="4.3" height="4.3" stroke="#76a8de" fill="rgba(228,247,250,0.75)" stroke-width="0.7"/>
<rect x="240.5" y="766.2" width="4.3" height="4.3" stroke="#76a8de" fill="rgba(228,247,250,0.75)" stroke-width="0.7"/>
<rect x="282.6" y="751.4" width="4.3" height="4.3" stroke="#76a8de" fill="rgba(228,247,250,0.75)" stroke-width="0.7"/>
<rect x="294.4" y="728.1" width="4.3" height="4.3" stroke="#76a8de" fill="rgba(228,247,250,0.75)" stroke-width="0.7"/>
<rect x="262.6" y="782.1" width="4.3" height="4.3" stroke="#76a8de" fill="rgba(228,247,250,0.75)" stroke-width="0.7"/>
<rect x="264.4" y="800.9" width="4.3" height="4.3" stroke="#76a8de" fill="rgba(228,247,250,0.75)" stroke-width="0.7"/>
<rect x="250.2" y="805.6" width="4.3" height="4.3" stroke="#76a8de" fill="rgba(228,247,250,0.75)" stroke-width="0.7"/>
<rect x="252.7" y="813.4" width="4.3" height="4.3" stroke="#76a8de" fill="rgba(228,247,250,0.75)" stroke-width="0.7"/>
<rect x="295.5" y="821.6" width="4.3" height="4.3" stroke="#76a8de" fill="rgba(228,247,250,0.75)" stroke-width="0.7"/>
<rect x="314.4" y="742.2" width="4.3" height="4.3" stroke="#76a8de" fill="rgba(228,247,250,0.75)" stroke-width="0.7"/>
<rect x="439.2" y="533.4" width="4.3" height="4.3" stroke="#76a8de" fill="rgba(228,247,250,0.75)" stroke-width="0.7"/>
<rect x="429.1" y="543.4" width="4.3" height="4.3" stroke="#76a8de" fill="rgba(228,247,250,0.75)" stroke-width="0.7"/>
<rect x="436.0" y="544.1" width="4.3" height="4.3" stroke="#76a8de" fill="rgba(228,247,250,0.75)" stroke-width="0.7"/>
<rect x="440.6" y="543.9" width="4.3" height="4.3" stroke="#76a8de" fill="rgba(228,247,250,0.75)" stroke-width="0.7"/>
<rect x="424.0" y="554.1" width="4.3" height="4.3" stroke="#76a8de" fill="rgba(228,247,250,0.75)" stroke-width="0.7"/>
<rect x="395.1" y="571.0" width="4.3" height="4.3" stroke="#76a8de" fill="rgba(228,247,250,0.75)" stroke-width="0.7"/>
<rect x="390.5" y="587.1" width="4.3" height="4.3" stroke="#76a8de" fill="rgba(228,247,250,0.75)" stroke-width="0.7"/>
<rect x="389.2" y="597.2" width="4.3" height="4.3" stroke="#76a8de" fill="rgba(228,247,250,0.75)" stroke-width="0.7"/>
<rect x="378.7" y="598.1" width="4.3" height="4.3" stroke="#76a8de" fill="rgba(228,247,250,0.75)" stroke-width="0.7"/>
<rect x="369.2" y="606.0" width="4.3" height="4.3" stroke="#76a8de" fill="rgba(228,247,250,0.75)" stroke-width="0.7"/>
<rect x="481.0" y="589.6" width="4.3" height="4.3" stroke="#76a8de" fill="rgba(228,247,250,0.75)" stroke-width="0.7"/>
<rect x="489.2" y="594.0" width="4.3" height="4.3" stroke="#76a8de" fill="rgba(228,247,250,0.75)" stroke-width="0.7"/>
<rect x="502.5" y="602.1" width="4.3" height="4.3" stroke="#76a8de" fill="rgba(228,247,250,0.75)" stroke-width="0.7"/>
<rect x="463.6" y="612.1" width="4.3" height="4.3" stroke="#76a8de" fill="rgba(228,247,250,0.75)" stroke-width="0.7"/>
<rect x="469.2" y="611.4" width="4.3" height="4.3" stroke="#76a8de" fill="rgba(228,247,250,0.75)" stroke-width="0.7"/>
<rect x="468.2" y="618.0" width="4.3" height="4.3" stroke="#76a8de" fill="rgba(228,247,250,0.75)" stroke-width="0.7"/>
<rect x="475.4" y="615.0" width="4.3" height="4.3" stroke="#76a8de" fill="rgba(228,247,250,0.75)" stroke-width="0.7"/>
<rect x="470.0" y="624.1" width="4.3" height="4.3" stroke="#76a8de" fill="rgba(228,247,250,0.75)" stroke-width="0.7"/>
<rect x="469.2" y="633.9" width="4.3" height="4.3" stroke="#76a8de" fill="rgba(228,247,250,0.75)" stroke-width="0.7"/>
<rect x="496.4" y="609.2" width="4.3" height="4.3" stroke="#76a8de" fill="rgba(228,247,250,0.75)" stroke-width="0.7"/>
<rect x="492.8" y="614.1" width="4.3" height="4.3" stroke="#76a8de" fill="rgba(228,247,250,0.75)" stroke-width="0.7"/>
<rect x="512.6" y="611.6" width="4.3" height="4.3" stroke="#76a8de" fill="rgba(228,247,250,0.75)" stroke-width="0.7"/>
<rect x="526.2" y="611.1" width="4.3" height="4.3" stroke="#76a8de" fill="rgba(228,247,250,0.75)" stroke-width="0.7"/>
<rect x="524.1" y="615.0" width="4.3" height="4.3" stroke="#76a8de" fill="rgba(228,247,250,0.75)" stroke-width="0.7"/>
<rect x="419.1" y="619.1" width="4.3" height="4.3" stroke="#76a8de" fill="rgba(228,247,250,0.75)" stroke-width="0.7"/>
<rect x="449.2" y="624.1" width="4.3" height="4.3" stroke="#76a8de" fill="rgba(228,247,250,0.75)" stroke-width="0.7"/>
<rect x="440.1" y="630.1" width="4.3" height="4.3" stroke="#76a8de" fill="rgba(228,247,250,0.75)" stroke-width="0.7"/>
<rect x="435.5" y="635.1" width="4.3" height="4.3" stroke="#76a8de" fill="rgba(228,247,250,0.75)" stroke-width="0.7"/>
<rect x="414.2" y="634.1" width="4.3" height="4.3" stroke="#76a8de" fill="rgba(228,247,250,0.75)" stroke-width="0.7"/>
<rect x="406.6" y="631.1" width="4.3" height="4.3" stroke="#76a8de" fill="rgba(228,247,250,0.75)" stroke-width="0.7"/>
<rect x="402.8" y="631.1" width="4.3" height="4.3" stroke="#76a8de" fill="rgba(228,247,250,0.75)" stroke-width="0.7"/>
<rect x="392.8" y="633.1" width="4.3" height="4.3" stroke="#76a8de" fill="rgba(228,247,250,0.75)" stroke-width="0.7"/>
<rect x="384.2" y="638.1" width="4.3" height="4.3" stroke="#76a8de" fill="rgba(228,247,250,0.75)" stroke-width="0.7"/>
<rect x="399.4" y="644.1" width="4.3" height="4.3" stroke="#76a8de" fill="rgba(228,247,250,0.75)" stroke-width="0.7"/>
<rect x="336.2" y="626.1" width="4.3" height="4.3" stroke="#76a8de" fill="rgba(228,247,250,0.75)" stroke-width="0.7"/>
<rect x="360.2" y="635.9" width="4.3" height="4.3" stroke="#76a8de" fill="rgba(228,247,250,0.75)" stroke-width="0.7"/>
<rect x="370.2" y="641.1" width="4.3" height="4.3" stroke="#76a8de" fill="rgba(228,247,250,0.75)" stroke-width="0.7"/>
<rect x="363.1" y="644.1" width="4.3" height="4.3" stroke="#76a8de" fill="rgba(228,247,250,0.75)" stroke-width="0.7"/>
<rect x="360.6" y="650.8" width="4.3" height="4.3" stroke="#76a8de" fill="rgba(228,247,250,0.75)" stroke-width="0.7"/>
<rect x="377.2" y="650.5" width="4.3" height="4.3" stroke="#76a8de" fill="rgba(228,247,250,0.75)" stroke-width="0.7"/>
<rect x="367.5" y="659.0" width="4.3" height="4.3" stroke="#76a8de" fill="rgba(228,247,250,0.75)" stroke-width="0.7"/>
<rect x="345.5" y="642.9" width="4.3" height="4.3" stroke="#76a8de" fill="rgba(228,247,250,0.75)" stroke-width="0.7"/>
<rect x="341.4" y="649.1" width="4.3" height="4.3" stroke="#76a8de" fill="rgba(228,247,250,0.75)" stroke-width="0.7"/>
<rect x="344.4" y="665.1" width="4.3" height="4.3" stroke="#76a8de" fill="rgba(228,247,250,0.75)" stroke-width="0.7"/>
<rect x="487.2" y="657.1" width="4.3" height="4.3" stroke="#76a8de" fill="rgba(228,247,250,0.75)" stroke-width="0.7"/>
<rect x="411.2" y="679.4" width="4.3" height="4.3" stroke="#76a8de" fill="rgba(228,247,250,0.75)" stroke-width="0.7"/>
<rect x="321.7" y="699.1" width="4.3" height="4.3" stroke="#76a8de" fill="rgba(228,247,250,0.75)" stroke-width="0.7"/>
<rect x="314.2" y="742.1" width="4.3" height="4.3" stroke="#76a8de" fill="rgba(228,247,250,0.75)" stroke-width="0.7"/>
<rect x="389.2" y="745.1" width="4.3" height="4.3" stroke="#76a8de" fill="rgba(228,247,250,0.75)" stroke-width="0.7"/>
<rect x="352.9" y="647.9" width="4.3" height="4.3" stroke="#76a8de" fill="rgba(228,247,250,0.75)" stroke-width="0.7"/>
<rect x="347.9" y="652.9" width="4.3" height="4.3" stroke="#76a8de" fill="rgba(228,247,250,0.75)" stroke-width="0.7"/>
<rect x="327.9" y="643.9" width="4.3" height="4.3" stroke="#76a8de" fill="rgba(228,247,250,0.75)" stroke-width="0.7"/>
<rect x="323.9" y="647.9" width="4.3" height="4.3" stroke="#76a8de" fill="rgba(228,247,250,0.75)" stroke-width="0.7"/>
<circle cx="275.8" cy="879.6" r="2.3" stroke="#ef6c64" fill="rgba(255,246,228,0.55)" stroke-width="0.6"/>
<circle cx="210.3" cy="882.7" r="2.3" stroke="#ef6c64" fill="rgba(255,246,228,0.55)" stroke-width="0.6"/>
<circle cx="284.4" cy="880.3" r="2.3" stroke="#ef6c64" fill="rgba(255,246,228,0.55)" stroke-width="0.6"/>
<circle cx="227.9" cy="882.9" r="2.3" stroke="#ef6c64" fill="rgba(255,246,228,0.55)" stroke-width="0.6"/>
<circle cx="107.1" cy="890.9" r="2.3" stroke="#ef6c64" fill="rgba(255,246,228,0.55)" stroke-width="0.6"/>
<circle cx="282.7" cy="884.3" r="2.3" stroke="#ef6c64" fill="rgba(255,246,228,0.55)" stroke-width="0.6"/>
<circle cx="159.5" cy="889.3" r="2.3" stroke="#ef6c64" fill="rgba(255,246,228,0.55)" stroke-width="0.6"/>
<circle cx="278.3" cy="874.2" r="2.3" stroke="#ef6c64" fill="rgba(255,246,228,0.55)" stroke-width="0.6"/>
<circle cx="103.9" cy="890.5" r="2.3" stroke="#ef6c64" fill="rgba(255,246,228,0.55)" stroke-width="0.6"/>
<circle cx="257.1" cy="873.8" r="2.3" stroke="#ef6c64" fill="rgba(255,246,228,0.55)" stroke-width="0.6"/>
<circle cx="109.1" cy="891.0" r="2.3" stroke="#ef6c64" fill="rgba(255,246,228,0.55)" stroke-width="0.6"/>
<circle cx="240.0" cy="881.7" r="2.3" stroke="#ef6c64" fill="rgba(255,246,228,0.55)" stroke-width="0.6"/>
<circle cx="188.9" cy="889.1" r="2.3" stroke="#ef6c64" fill="rgba(255,246,228,0.55)" stroke-width="0.6"/>
<circle cx="247.3" cy="883.4" r="2.3" stroke="#ef6c64" fill="rgba(255,246,228,0.55)" stroke-width="0.6"/>
<circle cx="157.2" cy="888.8" r="2.3" stroke="#ef6c64" fill="rgba(255,246,228,0.55)" stroke-width="0.6"/>
<circle cx="163.8" cy="889.7" r="2.3" stroke="#ef6c64" fill="rgba(255,246,228,0.55)" stroke-width="0.6"/>
<circle cx="234.1" cy="883.3" r="2.3" stroke="#ef6c64" fill="rgba(255,246,228,0.55)" stroke-width="0.6"/>
<circle cx="296.3" cy="871.5" r="2.3" stroke="#ef6c64" fill="rgba(255,246,228,0.55)" stroke-width="0.6"/>
<circle cx="130.2" cy="890.1" r="2.3" stroke="#ef6c64" fill="rgba(255,246,228,0.55)" stroke-width="0.6"/>
<circle cx="288.3" cy="875.4" r="2.3" stroke="#ef6c64" fill="rgba(255,246,228,0.55)" stroke-width="0.6"/>
<circle cx="235.3" cy="881.0" r="2.3" stroke="#ef6c64" fill="rgba(255,246,228,0.55)" stroke-width="0.6"/>
<circle cx="217.1" cy="881.2" r="2.3" stroke="#ef6c64" fill="rgba(255,246,228,0.55)" stroke-width="0.6"/>
<circle cx="243.6" cy="884.7" r="2.3" stroke="#ef6c64" fill="rgba(255,246,228,0.55)" stroke-width="0.6"/>
<circle cx="283.3" cy="876.3" r="2.3" stroke="#ef6c64" fill="rgba(255,246,228,0.55)" stroke-width="0.6"/>
<circle cx="222.5" cy="885.7" r="2.3" stroke="#ef6c64" fill="rgba(255,246,228,0.55)" stroke-width="0.6"/>
<circle cx="166.5" cy="887.5" r="2.3" stroke="#ef6c64" fill="rgba(255,246,228,0.55)" stroke-width="0.6"/>
<circle cx="195.0" cy="887.4" r="2.3" stroke="#ef6c64" fill="rgba(255,246,228,0.55)" stroke-width="0.6"/>
<circle cx="196.4" cy="887.1" r="2.3" stroke="#ef6c64" fill="rgba(255,246,228,0.55)" stroke-width="0.6"/>
<circle cx="109.0" cy="890.9" r="2.3" stroke="#ef6c64" fill="rgba(255,246,228,0.55)" stroke-width="0.6"/>
<circle cx="147.6" cy="887.6" r="2.3" stroke="#ef6c64" fill="rgba(255,246,228,0.55)" stroke-width="0.6"/>
<circle cx="136.8" cy="890.9" r="2.3" stroke="#ef6c64" fill="rgba(255,246,228,0.55)" stroke-width="0.6"/>
<circle cx="198.6" cy="885.5" r="2.3" stroke="#ef6c64" fill="rgba(255,246,228,0.55)" stroke-width="0.6"/>
<circle cx="236.1" cy="880.8" r="2.3" stroke="#ef6c64" fill="rgba(255,246,228,0.55)" stroke-width="0.6"/>
<circle cx="257.9" cy="880.4" r="2.3" stroke="#ef6c64" fill="rgba(255,246,228,0.55)" stroke-width="0.6"/>
<circle cx="245.2" cy="880.7" r="2.3" stroke="#ef6c64" fill="rgba(255,246,228,0.55)" stroke-width="0.6"/>
<circle cx="259.6" cy="874.7" r="2.3" stroke="#ef6c64" fill="rgba(255,246,228,0.55)" stroke-width="0.6"/>
<circle cx="292.2" cy="880.4" r="2.3" stroke="#ef6c64" fill="rgba(255,246,228,0.55)" stroke-width="0.6"/>
<circle cx="121.7" cy="890.1" r="2.3" stroke="#ef6c64" fill="rgba(255,246,228,0.55)" stroke-width="0.6"/>
<circle cx="155.8" cy="889.3" r="2.3" stroke="#ef6c64" fill="rgba(255,246,228,0.55)" stroke-width="0.6"/>
<circle cx="185.6" cy="887.4" r="2.3" stroke="#ef6c64" fill="rgba(255,246,228,0.55)" stroke-width="0.6"/>
<circle cx="242.3" cy="879.0" r="2.3" stroke="#ef6c64" fill="rgba(255,246,228,0.55)" stroke-width="0.6"/>
<circle cx="272.1" cy="877.0" r="2.3" stroke="#ef6c64" fill="rgba(255,246,228,0.55)" stroke-width="0.6"/>
<circle cx="165.5" cy="889.3" r="2.3" stroke="#ef6c64" fill="rgba(255,246,228,0.55)" stroke-width="0.6"/>
<circle cx="150.2" cy="889.2" r="2.3" stroke="#ef6c64" fill="rgba(255,246,228,0.55)" stroke-width="0.6"/>
<circle cx="256.0" cy="877.6" r="2.3" stroke="#ef6c64" fill="rgba(255,246,228,0.55)" stroke-width="0.6"/>
<circle cx="302.8" cy="875.7" r="2.3" stroke="#ef6c64" fill="rgba(255,246,228,0.55)" stroke-width="0.6"/>
<circle cx="277.4" cy="876.8" r="2.3" stroke="#ef6c64" fill="rgba(255,246,228,0.55)" stroke-width="0.6"/>
<circle cx="259.8" cy="883.1" r="2.3" stroke="#ef6c64" fill="rgba(255,246,228,0.55)" stroke-width="0.6"/>
<circle cx="174.9" cy="886.3" r="2.3" stroke="#ef6c64" fill="rgba(255,246,228,0.55)" stroke-width="0.6"/>
<circle cx="165.1" cy="887.3" r="2.3" stroke="#ef6c64" fill="rgba(255,246,228,0.55)" stroke-width="0.6"/>
<circle cx="143.8" cy="889.0" r="2.3" stroke="#ef6c64" fill="rgba(255,246,228,0.55)" stroke-width="0.6"/>
<circle cx="109.3" cy="890.5" r="2.3" stroke="#ef6c64" fill="rgba(255,246,228,0.55)" stroke-width="0.6"/>
<circle cx="271.5" cy="876.6" r="2.3" stroke="#ef6c64" fill="rgba(255,246,228,0.55)" stroke-width="0.6"/>
<circle cx="258.3" cy="879.5" r="2.3" stroke="#ef6c64" fill="rgba(255,246,228,0.55)" stroke-width="0.6"/>
<circle cx="201.9" cy="887.3" r="2.3" stroke="#ef6c64" fill="rgba(255,246,228,0.55)" stroke-width="0.6"/>
<circle cx="218.9" cy="883.0" r="2.3" stroke="#ef6c64" fill="rgba(255,246,228,0.55)" stroke-width="0.6"/>
<circle cx="109.1" cy="890.8" r="2.3" stroke="#ef6c64" fill="rgba(255,246,228,0.55)" stroke-width="0.6"/>
<circle cx="99.5" cy="890.7" r="2.3" stroke="#ef6c64" fill="rgba(255,246,228,0.55)" stroke-width="0.6"/>
<circle cx="295.1" cy="872.5" r="2.3" stroke="#ef6c64" fill="rgba(255,246,228,0.55)" stroke-width="0.6"/>
<circle cx="133.6" cy="889.4" r="2.3" stroke="#ef6c64" fill="rgba(255,246,228,0.55)" stroke-width="0.6"/>
<circle cx="108.5" cy="890.1" r="2.3" stroke="#ef6c64" fill="rgba(255,246,228,0.55)" stroke-width="0.6"/>
<circle cx="284.3" cy="875.5" r="2.3" stroke="#ef6c64" fill="rgba(255,246,228,0.55)" stroke-width="0.6"/>
<circle cx="256.7" cy="876.2" r="2.3" stroke="#ef6c64" fill="rgba(255,246,228,0.55)" stroke-width="0.6"/>
<circle cx="298.4" cy="870.1" r="2.3" stroke="#ef6c64" fill="rgba(255,246,228,0.55)" stroke-width="0.6"/>
<circle cx="202.1" cy="886.5" r="2.3" stroke="#ef6c64" fill="rgba(255,246,228,0.55)" stroke-width="0.6"/>
<circle cx="179.3" cy="888.6" r="2.3" stroke="#ef6c64" fill="rgba(255,246,228,0.55)" stroke-width="0.6"/>
<circle cx="139.7" cy="890.9" r="2.3" stroke="#ef6c64" fill="rgba(255,246,228,0.55)" stroke-width="0.6"/>
<circle cx="282.1" cy="880.3" r="2.3" stroke="#ef6c64" fill="rgba(255,246,228,0.55)" stroke-width="0.6"/>
<circle cx="248.3" cy="885.4" r="2.3" stroke="#ef6c64" fill="rgba(255,246,228,0.55)" stroke-width="0.6"/>
<circle cx="301.3" cy="876.5" r="2.3" stroke="#ef6c64" fill="rgba(255,246,228,0.55)" stroke-width="0.6"/>
<circle cx="175.8" cy="886.6" r="2.3" stroke="#ef6c64" fill="rgba(255,246,228,0.55)" stroke-width="0.6"/>
<circle cx="301.2" cy="881.9" r="2.3" stroke="#ef6c64" fill="rgba(255,246,228,0.55)" stroke-width="0.6"/>
<circle cx="276.6" cy="876.3" r="2.3" stroke="#ef6c64" fill="rgba(255,246,228,0.55)" stroke-width="0.6"/>
<circle cx="275.1" cy="876.3" r="2.3" stroke="#ef6c64" fill="rgba(255,246,228,0.55)" stroke-width="0.6"/>
<circle cx="214.5" cy="885.1" r="2.3" stroke="#ef6c64" fill="rgba(255,246,228,0.55)" stroke-width="0.6"/>
<circle cx="229.3" cy="886.2" r="2.3" stroke="#ef6c64" fill="rgba(255,246,228,0.55)" stroke-width="0.6"/>
<circle cx="216.4" cy="885.2" r="2.3" stroke="#ef6c64" fill="rgba(255,246,228,0.55)" stroke-width="0.6"/>
<circle cx="232.6" cy="883.4" r="2.3" stroke="#ef6c64" fill="rgba(255,246,228,0.55)" stroke-width="0.6"/>
<circle cx="124.2" cy="890.3" r="2.3" stroke="#ef6c64" fill="rgba(255,246,228,0.55)" stroke-width="0.6"/>
<circle cx="112.8" cy="889.8" r="2.3" stroke="#ef6c64" fill="rgba(255,246,228,0.55)" stroke-width="0.6"/>
<circle cx="112.3" cy="889.6" r="2.3" stroke="#ef6c64" fill="rgba(255,246,228,0.55)" stroke-width="0.6"/>
<circle cx="197.8" cy="884.3" r="2.3" stroke="#ef6c64" fill="rgba(255,246,228,0.55)" stroke-width="0.6"/>
<circle cx="164.2" cy="888.3" r="2.3" stroke="#ef6c64" fill="rgba(255,246,228,0.55)" stroke-width="0.6"/>
<circle cx="187.5" cy="885.8" r="2.3" stroke="#ef6c64" fill="rgba(255,246,228,0.55)" stroke-width="0.6"/>
<circle cx="145.3" cy="890.9" r="2.3" stroke="#ef6c64" fill="rgba(255,246,228,0.55)" stroke-width="0.6"/>
<circle cx="136.5" cy="890.2" r="2.3" stroke="#ef6c64" fill="rgba(255,246,228,0.55)" stroke-width="0.6"/>
<circle cx="210.6" cy="883.9" r="2.3" stroke="#ef6c64" fill="rgba(255,246,228,0.55)" stroke-width="0.6"/>
<circle cx="303.7" cy="862.7" r="2.3" stroke="#ef6c64" fill="rgba(255,246,228,0.55)" stroke-width="0.6"/>
<circle cx="298.6" cy="866.7" r="2.3" stroke="#ef6c64" fill="rgba(255,246,228,0.55)" stroke-width="0.6"/>
<circle cx="306.7" cy="869.7" r="2.3" stroke="#ef6c64" fill="rgba(255,246,228,0.55)" stroke-width="0.6"/>
<circle cx="210.0" cy="886.7" r="2.3" stroke="#ef6c64" fill="rgba(255,246,228,0.55)" stroke-width="0.6"/>
<circle cx="171.4" cy="888.3" r="2.3" stroke="#ef6c64" fill="rgba(255,246,228,0.55)" stroke-width="0.6"/>
<circle cx="214.1" cy="883.3" r="2.3" stroke="#ef6c64" fill="rgba(255,246,228,0.55)" stroke-width="0.6"/>
<circle cx="246.6" cy="880.1" r="2.3" stroke="#ef6c64" fill="rgba(255,246,228,0.55)" stroke-width="0.6"/>
<circle cx="306.4" cy="878.1" r="2.3" stroke="#ef6c64" fill="rgba(255,246,228,0.55)" stroke-width="0.6"/>
<circle cx="145.3" cy="890.1" r="2.3" stroke="#ef6c64" fill="rgba(255,246,228,0.55)" stroke-width="0.6"/>
<circle cx="242.3" cy="883.9" r="2.3" stroke="#ef6c64" fill="rgba(255,246,228,0.55)" stroke-width="0.6"/>
<circle cx="110.0" cy="889.6" r="2.3" stroke="#ef6c64" fill="rgba(255,246,228,0.55)" stroke-width="0.6"/>
<circle cx="228.1" cy="884.2" r="2.3" stroke="#ef6c64" fill="rgba(255,246,228,0.55)" stroke-width="0.6"/>
<circle cx="241.6" cy="883.4" r="2.3" stroke="#ef6c64" fill="rgba(255,246,228,0.55)" stroke-width="0.6"/>
<circle cx="241.7" cy="875.4" r="2.3" stroke="#ef6c64" fill="rgba(255,246,228,0.55)" stroke-width="0.6"/>
<circle cx="129.9" cy="890.2" r="2.3" stroke="#ef6c64" fill="rgba(255,246,228,0.55)" stroke-width="0.6"/>
<circle cx="280.8" cy="878.4" r="2.3" stroke="#ef6c64" fill="rgba(255,246,228,0.55)" stroke-width="0.6"/>
<circle cx="266.5" cy="881.8" r="2.3" stroke="#ef6c64" fill="rgba(255,246,228,0.55)" stroke-width="0.6"/>
<circle cx="235.3" cy="880.9" r="2.3" stroke="#ef6c64" fill="rgba(255,246,228,0.55)" stroke-width="0.6"/>
<circle cx="105.8" cy="890.5" r="2.3" stroke="#ef6c64" fill="rgba(255,246,228,0.55)" stroke-width="0.6"/>
<circle cx="246.4" cy="885.0" r="2.3" stroke="#ef6c64" fill="rgba(255,246,228,0.55)" stroke-width="0.6"/>
<circle cx="182.1" cy="890.0" r="2.3" stroke="#ef6c64" fill="rgba(255,246,228,0.55)" stroke-width="0.6"/>
<circle cx="98.7" cy="890.6" r="2.3" stroke="#ef6c64" fill="rgba(255,246,228,0.55)" stroke-width="0.6"/>
<circle cx="222.2" cy="888.4" r="2.3" stroke="#ef6c64" fill="rgba(255,246,228,0.55)" stroke-width="0.6"/>
<circle cx="107.2" cy="890.7" r="2.3" stroke="#ef6c64" fill="rgba(255,246,228,0.55)" stroke-width="0.6"/>
<circle cx="213.8" cy="882.8" r="2.3" stroke="#ef6c64" fill="rgba(255,246,228,0.55)" stroke-width="0.6"/>
<circle cx="164.4" cy="887.4" r="2.3" stroke="#ef6c64" fill="rgba(255,246,228,0.55)" stroke-width="0.6"/>
<circle cx="250.9" cy="885.3" r="2.3" stroke="#ef6c64" fill="rgba(255,246,228,0.55)" stroke-width="0.6"/>
<circle cx="213.2" cy="885.1" r="2.3" stroke="#ef6c64" fill="rgba(255,246,228,0.55)" stroke-width="0.6"/>
<circle cx="227.2" cy="880.4" r="2.3" stroke="#ef6c64" fill="rgba(255,246,228,0.55)" stroke-width="0.6"/>
<circle cx="218.8" cy="881.9" r="2.3" stroke="#ef6c64" fill="rgba(255,246,228,0.55)" stroke-width="0.6"/>
<circle cx="275.6" cy="877.6" r="2.3" stroke="#ef6c64" fill="rgba(255,246,228,0.55)" stroke-width="0.6"/>
<circle cx="245.4" cy="880.0" r="2.3" stroke="#ef6c64" fill="rgba(255,246,228,0.55)" stroke-width="0.6"/>
<circle cx="219.7" cy="883.0" r="2.3" stroke="#ef6c64" fill="rgba(255,246,228,0.55)" stroke-width="0.6"/>
<circle cx="138.6" cy="889.3" r="2.3" stroke="#ef6c64" fill="rgba(255,246,228,0.55)" stroke-width="0.6"/>
<circle cx="283.0" cy="871.1" r="2.3" stroke="#ef6c64" fill="rgba(255,246,228,0.55)" stroke-width="0.6"/>
<circle cx="227.8" cy="882.9" r="2.3" stroke="#ef6c64" fill="rgba(255,246,228,0.55)" stroke-width="0.6"/>
<circle cx="197.7" cy="885.1" r="2.3" stroke="#ef6c64" fill="rgba(255,246,228,0.55)" stroke-width="0.6"/>
<circle cx="189.0" cy="883.3" r="2.3" stroke="#ef6c64" fill="rgba(255,246,228,0.55)" stroke-width="0.6"/>
<circle cx="164.1" cy="889.4" r="2.3" stroke="#ef6c64" fill="rgba(255,246,228,0.55)" stroke-width="0.6"/>
<circle cx="252.8" cy="878.0" r="2.3" stroke="#ef6c64" fill="rgba(255,246,228,0.55)" stroke-width="0.6"/>
<circle cx="194.9" cy="885.4" r="2.3" stroke="#ef6c64" fill="rgba(255,246,228,0.55)" stroke-width="0.6"/>
<circle cx="295.9" cy="870.8" r="2.3" stroke="#ef6c64" fill="rgba(255,246,228,0.55)" stroke-width="0.6"/>
<circle cx="253.2" cy="875.0" r="2.3" stroke="#ef6c64" fill="rgba(255,246,228,0.55)" stroke-width="0.6"/>
<circle cx="208.8" cy="880.0" r="2.3" stroke="#ef6c64" fill="rgba(255,246,228,0.55)" stroke-width="0.6"/>
<circle cx="130.0" cy="890.4" r="2.3" stroke="#ef6c64" fill="rgba(255,246,228,0.55)" stroke-width="0.6"/>
<circle cx="224.9" cy="883.9" r="2.3" stroke="#ef6c64" fill="rgba(255,246,228,0.55)" stroke-width="0.6"/>
<circle cx="224.0" cy="879.6" r="2.3" stroke="#ef6c64" fill="rgba(255,246,228,0.55)" stroke-width="0.6"/>
<circle cx="202.7" cy="885.2" r="2.3" stroke="#ef6c64" fill="rgba(255,246,228,0.55)" stroke-width="0.6"/>
<circle cx="238.0" cy="881.4" r="2.3" stroke="#ef6c64" fill="rgba(255,246,228,0.55)" stroke-width="0.6"/>
<circle cx="132.5" cy="890.0" r="2.3" stroke="#ef6c64" fill="rgba(255,246,228,0.55)" stroke-width="0.6"/>
<circle cx="158.9" cy="888.6" r="2.3" stroke="#ef6c64" fill="rgba(255,246,228,0.55)" stroke-width="0.6"/>
<circle cx="161.1" cy="889.6" r="2.3" stroke="#ef6c64" fill="rgba(255,246,228,0.55)" stroke-width="0.6"/>
<circle cx="279.1" cy="879.2" r="2.3" stroke="#ef6c64" fill="rgba(255,246,228,0.55)" stroke-width="0.6"/>
<circle cx="139.3" cy="890.8" r="2.3" stroke="#ef6c64" fill="rgba(255,246,228,0.55)" stroke-width="0.6"/>
<circle cx="310.4" cy="872.6" r="2.3" stroke="#ef6c64" fill="rgba(255,246,228,0.55)" stroke-width="0.6"/>
<circle cx="115.4" cy="889.5" r="2.3" stroke="#ef6c64" fill="rgba(255,246,228,0.55)" stroke-width="0.6"/>
<circle cx="241.8" cy="881.8" r="2.3" stroke="#ef6c64" fill="rgba(255,246,228,0.55)" stroke-width="0.6"/>
<circle cx="204.4" cy="881.9" r="2.3" stroke="#ef6c64" fill="rgba(255,246,228,0.55)" stroke-width="0.6"/>
<circle cx="300.5" cy="877.2" r="2.3" stroke="#ef6c64" fill="rgba(255,246,228,0.55)" stroke-width="0.6"/>
<circle cx="291.0" cy="869.3" r="2.3" stroke="#ef6c64" fill="rgba(255,246,228,0.55)" stroke-width="0.6"/>
<circle cx="187.3" cy="888.4" r="2.3" stroke="#ef6c64" fill="rgba(255,246,228,0.55)" stroke-width="0.6"/>
<circle cx="240.7" cy="881.5" r="2.3" stroke="#ef6c64" fill="rgba(255,246,228,0.55)" stroke-width="0.6"/>
<circle cx="160.2" cy="889.1" r="2.3" stroke="#ef6c64" fill="rgba(255,246,228,0.55)" stroke-width="0.6"/>
<circle cx="129.2" cy="889.8" r="2.3" stroke="#ef6c64" fill="rgba(255,246,228,0.55)" stroke-width="0.6"/>
<circle cx="132.4" cy="890.0" r="2.3" stroke="#ef6c64" fill="rgba(255,246,228,0.55)" stroke-width="0.6"/>
<circle cx="223.0" cy="883.7" r="2.3" stroke="#ef6c64" fill="rgba(255,246,228,0.55)" stroke-width="0.6"/>
<circle cx="223.8" cy="877.4" r="2.3" stroke="#ef6c64" fill="rgba(255,246,228,0.55)" stroke-width="0.6"/>
<circle cx="174.0" cy="888.2" r="2.3" stroke="#ef6c64" fill="rgba(255,246,228,0.55)" stroke-width="0.6"/>
<circle cx="122.5" cy="890.0" r="2.3" stroke="#ef6c64" fill="rgba(255,246,228,0.55)" stroke-width="0.6"/>
<circle cx="104.8" cy="890.5" r="2.3" stroke="#ef6c64" fill="rgba(255,246,228,0.55)" stroke-width="0.6"/>
<circle cx="164.0" cy="890.0" r="2.3" stroke="#ef6c64" fill="rgba(255,246,228,0.55)" stroke-width="0.6"/>
<circle cx="233.3" cy="878.9" r="2.3" stroke="#ef6c64" fill="rgba(255,246,228,0.55)" stroke-width="0.6"/>
<circle cx="107.4" cy="890.7" r="2.3" stroke="#ef6c64" fill="rgba(255,246,228,0.55)" stroke-width="0.6"/>
<circle cx="101.8" cy="890.9" r="2.3" stroke="#ef6c64" fill="rgba(255,246,228,0.55)" stroke-width="0.6"/>
<circle cx="150.8" cy="890.6" r="2.3" stroke="#ef6c64" fill="rgba(255,246,228,0.55)" stroke-width="0.6"/>
<circle cx="170.8" cy="889.6" r="2.3" stroke="#ef6c64" fill="rgba(255,246,228,0.55)" stroke-width="0.6"/>
<circle cx="234.3" cy="880.2" r="2.3" stroke="#ef6c64" fill="rgba(255,246,228,0.55)" stroke-width="0.6"/>
<circle cx="268.9" cy="881.1" r="2.3" stroke="#ef6c64" fill="rgba(255,246,228,0.55)" stroke-width="0.6"/>
<circle cx="275.4" cy="883.8" r="2.3" stroke="#ef6c64" fill="rgba(255,246,228,0.55)" stroke-width="0.6"/>
<circle cx="188.6" cy="886.3" r="2.3" stroke="#ef6c64" fill="rgba(255,246,228,0.55)" stroke-width="0.6"/>
<circle cx="279.0" cy="879.0" r="2.3" stroke="#ef6c64" fill="rgba(255,246,228,0.55)" stroke-width="0.6"/>
<circle cx="177.9" cy="888.6" r="2.3" stroke="#ef6c64" fill="rgba(255,246,228,0.55)" stroke-width="0.6"/>
<circle cx="144.7" cy="890.2" r="2.3" stroke="#ef6c64" fill="rgba(255,246,228,0.55)" stroke-width="0.6"/>
<circle cx="166.4" cy="889.3" r="2.3" stroke="#ef6c64" fill="rgba(255,246,228,0.55)" stroke-width="0.6"/>
<circle cx="256.8" cy="878.7" r="2.3" stroke="#ef6c64" fill="rgba(255,246,228,0.55)" stroke-width="0.6"/>
<circle cx="269.5" cy="875.8" r="2.3" stroke="#ef6c64" fill="rgba(255,246,228,0.55)" stroke-width="0.6"/>
<circle cx="198.2" cy="887.3" r="2.3" stroke="#ef6c64" fill="rgba(255,246,228,0.55)" stroke-width="0.6"/>
<circle cx="301.3" cy="872.1" r="2.3" stroke="#ef6c64" fill="rgba(255,246,228,0.55)" stroke-width="0.6"/>
<circle cx="160.3" cy="886.9" r="2.3" stroke="#ef6c64" fill="rgba(255,246,228,0.55)" stroke-width="0.6"/>
<circle cx="207.1" cy="885.2" r="2.3" stroke="#ef6c64" fill="rgba(255,246,228,0.55)" stroke-width="0.6"/>
<circle cx="288.2" cy="875.5" r="2.3" stroke="#ef6c64" fill="rgba(255,246,228,0.55)" stroke-width="0.6"/>
<circle cx="152.7" cy="890.1" r="2.3" stroke="#ef6c64" fill="rgba(255,246,228,0.55)" stroke-width="0.6"/>
<circle cx="304.6" cy="870.8" r="2.3" stroke="#ef6c64" fill="rgba(255,246,228,0.55)" stroke-width="0.6"/>
<circle cx="152.0" cy="888.2" r="2.3" stroke="#ef6c64" fill="rgba(255,246,228,0.55)" stroke-width="0.6"/>
<circle cx="130.2" cy="889.8" r="2.3" stroke="#ef6c64" fill="rgba(255,246,228,0.55)" stroke-width="0.6"/>
<circle cx="199.5" cy="885.4" r="2.3" stroke="#ef6c64" fill="rgba(255,246,228,0.55)" stroke-width="0.6"/>
<circle cx="149.3" cy="887.7" r="2.3" stroke="#ef6c64" fill="rgba(255,246,228,0.55)" stroke-width="0.6"/>
<circle cx="163.2" cy="890.3" r="2.3" stroke="#ef6c64" fill="rgba(255,246,228,0.55)" stroke-width="0.6"/>
<circle cx="224.2" cy="883.6" r="2.3" stroke="#ef6c64" fill="rgba(255,246,228,0.55)" stroke-width="0.6"/>
<circle cx="135.7" cy="889.3" r="2.3" stroke="#ef6c64" fill="rgba(255,246,228,0.55)" stroke-width="0.6"/>
<circle cx="276.8" cy="873.2" r="2.3" stroke="#ef6c64" fill="rgba(255,246,228,0.55)" stroke-width="0.6"/>
<circle cx="233.2" cy="878.8" r="2.3" stroke="#ef6c64" fill="rgba(255,246,228,0.55)" stroke-width="0.6"/>
<circle cx="271.7" cy="875.9" r="2.3" stroke="#ef6c64" fill="rgba(255,246,228,0.55)" stroke-width="0.6"/>
<circle cx="227.3" cy="882.5" r="2.3" stroke="#ef6c64" fill="rgba(255,246,228,0.55)" stroke-width="0.6"/>
<circle cx="216.6" cy="880.3" r="2.3" stroke="#ef6c64" fill="rgba(255,246,228,0.55)" stroke-width="0.6"/>
<circle cx="105.0" cy="890.8" r="2.3" stroke="#ef6c64" fill="rgba(255,246,228,0.55)" stroke-width="0.6"/>
<circle cx="217.2" cy="886.6" r="2.3" stroke="#ef6c64" fill="rgba(255,246,228,0.55)" stroke-width="0.6"/>
<circle cx="137.9" cy="890.1" r="2.3" stroke="#ef6c64" fill="rgba(255,246,228,0.55)" stroke-width="0.6"/>
<circle cx="260.2" cy="878.8" r="2.3" stroke="#ef6c64" fill="rgba(255,246,228,0.55)" stroke-width="0.6"/>
<circle cx="132.2" cy="890.5" r="2.3" stroke="#ef6c64" fill="rgba(255,246,228,0.55)" stroke-width="0.6"/>
<circle cx="220.4" cy="882.6" r="2.3" stroke="#ef6c64" fill="rgba(255,246,228,0.55)" stroke-width="0.6"/>
<circle cx="301.6" cy="875.8" r="2.3" stroke="#ef6c64" fill="rgba(255,246,228,0.55)" stroke-width="0.6"/>
<circle cx="220.7" cy="884.9" r="2.3" stroke="#ef6c64" fill="rgba(255,246,228,0.55)" stroke-width="0.6"/>
<circle cx="269.6" cy="875.6" r="2.3" stroke="#ef6c64" fill="rgba(255,246,228,0.55)" stroke-width="0.6"/>
<circle cx="113.0" cy="890.4" r="2.3" stroke="#ef6c64" fill="rgba(255,246,228,0.55)" stroke-width="0.6"/>
<circle cx="283.4" cy="873.3" r="2.3" stroke="#ef6c64" fill="rgba(255,246,228,0.55)" stroke-width="0.6"/>
<circle cx="254.9" cy="880.7" r="2.3" stroke="#ef6c64" fill="rgba(255,246,228,0.55)" stroke-width="0.6"/>
<circle cx="98.1" cy="890.2" r="2.3" stroke="#ef6c64" fill="rgba(255,246,228,0.55)" stroke-width="0.6"/>
<circle cx="132.7" cy="889.6" r="2.3" stroke="#ef6c64" fill="rgba(255,246,228,0.55)" stroke-width="0.6"/>
<circle cx="252.0" cy="882.7" r="2.3" stroke="#ef6c64" fill="rgba(255,246,228,0.55)" stroke-width="0.6"/>
<circle cx="124.8" cy="889.5" r="2.3" stroke="#ef6c64" fill="rgba(255,246,228,0.55)" stroke-width="0.6"/>
<circle cx="168.8" cy="890.0" r="2.3" stroke="#ef6c64" fill="rgba(255,246,228,0.55)" stroke-width="0.6"/>
<circle cx="155.8" cy="888.6" r="2.3" stroke="#ef6c64" fill="rgba(255,246,228,0.55)" stroke-width="0.6"/>
<circle cx="100.2" cy="890.4" r="2.3" stroke="#ef6c64" fill="rgba(255,246,228,0.55)" stroke-width="0.6"/>
<circle cx="247.9" cy="883.3" r="2.3" stroke="#ef6c64" fill="rgba(255,246,228,0.55)" stroke-width="0.6"/>
<circle cx="244.5" cy="880.0" r="2.3" stroke="#ef6c64" fill="rgba(255,246,228,0.55)" stroke-width="0.6"/>
<circle cx="274.0" cy="878.8" r="2.3" stroke="#ef6c64" fill="rgba(255,246,228,0.55)" stroke-width="0.6"/>
<circle cx="184.1" cy="886.0" r="2.3" stroke="#ef6c64" fill="rgba(255,246,228,0.55)" stroke-width="0.6"/>
<circle cx="231.7" cy="881.0" r="2.3" stroke="#ef6c64" fill="rgba(255,246,228,0.55)" stroke-width="0.6"/>
<circle cx="277.4" cy="882.3" r="2.3" stroke="#ef6c64" fill="rgba(255,246,228,0.55)" stroke-width="0.6"/>
<circle cx="262.8" cy="876.4" r="2.3" stroke="#ef6c64" fill="rgba(255,246,228,0.55)" stroke-width="0.6"/>
<circle cx="251.8" cy="880.4" r="2.3" stroke="#ef6c64" fill="rgba(255,246,228,0.55)" stroke-width="0.6"/>
<circle cx="190.1" cy="885.5" r="2.3" stroke="#ef6c64" fill="rgba(255,246,228,0.55)" stroke-width="0.6"/>
<circle cx="264.0" cy="877.3" r="2.3" stroke="#ef6c64" fill="rgba(255,246,228,0.55)" stroke-width="0.6"/>
<circle cx="182.7" cy="887.0" r="2.3" stroke="#ef6c64" fill="rgba(255,246,228,0.55)" stroke-width="0.6"/>
<circle cx="263.0" cy="879.4" r="2.3" stroke="#ef6c64" fill="rgba(255,246,228,0.55)" stroke-width="0.6"/>
<circle cx="108.9" cy="890.9" r="2.3" stroke="#ef6c64" fill="rgba(255,246,228,0.55)" stroke-width="0.6"/>
<circle cx="207.2" cy="887.8" r="2.3" stroke="#ef6c64" fill="rgba(255,246,228,0.55)" stroke-width="0.6"/>
<circle cx="219.6" cy="885.2" r="2.3" stroke="#ef6c64" fill="rgba(255,246,228,0.55)" stroke-width="0.6"/>
<circle cx="274.7" cy="878.0" r="2.3" stroke="#ef6c64" fill="rgba(255,246,228,0.55)" stroke-width="0.6"/>
<circle cx="201.6" cy="882.6" r="2.3" stroke="#ef6c64" fill="rgba(255,246,228,0.55)" stroke-width="0.6"/>
<circle cx="258.7" cy="879.8" r="2.3" stroke="#ef6c64" fill="rgba(255,246,228,0.55)" stroke-width="0.6"/>
<circle cx="146.3" cy="889.9" r="2.3" stroke="#ef6c64" fill="rgba(255,246,228,0.55)" stroke-width="0.6"/>
<circle cx="246.1" cy="882.3" r="2.3" stroke="#ef6c64" fill="rgba(255,246,228,0.55)" stroke-width="0.6"/>
<circle cx="201.0" cy="887.3" r="2.3" stroke="#ef6c64" fill="rgba(255,246,228,0.55)" stroke-width="0.6"/>
<circle cx="194.4" cy="885.6" r="2.3" stroke="#ef6c64" fill="rgba(255,246,228,0.55)" stroke-width="0.6"/>
<circle cx="253.1" cy="883.8" r="2.3" stroke="#ef6c64" fill="rgba(255,246,228,0.55)" stroke-width="0.6"/>
<circle cx="252.0" cy="877.6" r="2.3" stroke="#ef6c64" fill="rgba(255,246,228,0.55)" stroke-width="0.6"/>
<circle cx="175.5" cy="884.7" r="2.3" stroke="#ef6c64" fill="rgba(255,246,228,0.55)" stroke-width="0.6"/>
<circle cx="180.7" cy="890.9" r="2.3" stroke="#ef6c64" fill="rgba(255,246,228,0.55)" stroke-width="0.6"/>
<circle cx="282.8" cy="873.5" r="2.3" stroke="#ef6c64" fill="rgba(255,246,228,0.55)" stroke-width="0.6"/>
<circle cx="258.0" cy="880.2" r="2.3" stroke="#ef6c64" fill="rgba(255,246,228,0.55)" stroke-width="0.6"/>
<circle cx="142.1" cy="890.1" r="2.3" stroke="#ef6c64" fill="rgba(255,246,228,0.55)" stroke-width="0.6"/>
<circle cx="158.0" cy="887.0" r="2.3" stroke="#ef6c64" fill="rgba(255,246,228,0.55)" stroke-width="0.6"/>
<circle cx="297.6" cy="874.8" r="2.3" stroke="#ef6c64" fill="rgba(255,246,228,0.55)" stroke-width="0.6"/>
<circle cx="146.9" cy="890.9" r="2.3" stroke="#ef6c64" fill="rgba(255,246,228,0.55)" stroke-width="0.6"/>
<circle cx="269.8" cy="884.7" r="2.3" stroke="#ef6c64" fill="rgba(255,246,228,0.55)" stroke-width="0.6"/>
<circle cx="291.3" cy="871.7" r="2.3" stroke="#ef6c64" fill="rgba(255,246,228,0.55)" stroke-width="0.6"/>
<circle cx="296.8" cy="874.7" r="2.3" stroke="#ef6c64" fill="rgba(255,246,228,0.55)" stroke-width="0.6"/>
<circle cx="208.2" cy="886.8" r="2.3" stroke="#ef6c64" fill="rgba(255,246,228,0.55)" stroke-width="0.6"/>
<circle cx="282.1" cy="880.9" r="2.3" stroke="#ef6c64" fill="rgba(255,246,228,0.55)" stroke-width="0.6"/>
<circle cx="197.6" cy="885.2" r="2.3" stroke="#ef6c64" fill="rgba(255,246,228,0.55)" stroke-width="0.6"/>
<circle cx="235.5" cy="885.7" r="2.3" stroke="#ef6c64" fill="rgba(255,246,228,0.55)" stroke-width="0.6"/>
<circle cx="288.3" cy="870.1" r="2.3" stroke="#ef6c64" fill="rgba(255,246,228,0.55)" stroke-width="0.6"/>
<circle cx="252.0" cy="875.8" r="2.3" stroke="#ef6c64" fill="rgba(255,246,228,0.55)" stroke-width="0.6"/>
<circle cx="208.4" cy="882.4" r="2.3" stroke="#ef6c64" fill="rgba(255,246,228,0.55)" stroke-width="0.6"/>
<circle cx="103.7" cy="890.4" r="2.3" stroke="#ef6c64" fill="rgba(255,246,228,0.55)" stroke-width="0.6"/>
<circle cx="111.1" cy="890.8" r="2.3" stroke="#ef6c64" fill="rgba(255,246,228,0.55)" stroke-width="0.6"/>
<circle cx="205.2" cy="884.5" r="2.3" stroke="#ef6c64" fill="rgba(255,246,228,0.55)" stroke-width="0.6"/>
<circle cx="285.0" cy="874.1" r="2.3" stroke="#ef6c64" fill="rgba(255,246,228,0.55)" stroke-width="0.6"/>
<circle cx="127.4" cy="890.2" r="2.3" stroke="#ef6c64" fill="rgba(255,246,228,0.55)" stroke-width="0.6"/>
<circle cx="146.6" cy="888.7" r="2.3" stroke="#ef6c64" fill="rgba(255,246,228,0.55)" stroke-width="0.6"/>
<circle cx="140.3" cy="890.4" r="2.3" stroke="#ef6c64" fill="rgba(255,246,228,0.55)" stroke-width="0.6"/>
<circle cx="259.1" cy="878.8" r="2.3" stroke="#ef6c64" fill="rgba(255,246,228,0.55)" stroke-width="0.6"/>
<circle cx="113.0" cy="890.9" r="2.3" stroke="#ef6c64" fill="rgba(255,246,228,0.55)" stroke-width="0.6"/>
<circle cx="284.1" cy="869.9" r="2.3" stroke="#ef6c64" fill="rgba(255,246,228,0.55)" stroke-width="0.6"/>
<circle cx="145.0" cy="889.0" r="2.3" stroke="#ef6c64" fill="rgba(255,246,228,0.55)" stroke-width="0.6"/>
<circle cx="164.1" cy="887.3" r="2.3" stroke="#ef6c64" fill="rgba(255,246,228,0.55)" stroke-width="0.6"/>
<circle cx="189.4" cy="889.1" r="2.3" stroke="#ef6c64" fill="rgba(255,246,228,0.55)" stroke-width="0.6"/>
<circle cx="149.2" cy="889.0" r="2.3" stroke="#ef6c64" fill="rgba(255,246,228,0.55)" stroke-width="0.6"/>
<circle cx="214.9" cy="886.5" r="2.3" stroke="#ef6c64" fill="rgba(255,246,228,0.55)" stroke-width="0.6"/>
<circle cx="160.4" cy="889.3" r="2.3" stroke="#ef6c64" fill="rgba(255,246,228,0.55)" stroke-width="0.6"/>
<circle cx="153.8" cy="890.9" r="2.3" stroke="#ef6c64" fill="rgba(255,246,228,0.55)" stroke-width="0.6"/>
<circle cx="226.0" cy="883.7" r="2.3" stroke="#ef6c64" fill="rgba(255,246,228,0.55)" stroke-width="0.6"/>
<circle cx="215.9" cy="883.9" r="2.3" stroke="#ef6c64" fill="rgba(255,246,228,0.55)" stroke-width="0.6"/>
<circle cx="148.7" cy="886.9" r="2.3" stroke="#ef6c64" fill="rgba(255,246,228,0.55)" stroke-width="0.6"/>
<circle cx="344.6" cy="881.7" r="2.3" stroke="#ef6c64" fill="rgba(255,246,228,0.55)" stroke-width="0.6"/>
<circle cx="339.0" cy="853.1" r="2.3" stroke="#ef6c64" fill="rgba(255,246,228,0.55)" stroke-width="0.6"/>
<circle cx="312.8" cy="868.8" r="2.3" stroke="#ef6c64" fill="rgba(255,246,228,0.55)" stroke-width="0.6"/>
<circle cx="324.7" cy="864.1" r="2.3" stroke="#ef6c64" fill="rgba(255,246,228,0.55)" stroke-width="0.6"/>
<circle cx="315.2" cy="857.8" r="2.3" stroke="#ef6c64" fill="rgba(255,246,228,0.55)" stroke-width="0.6"/>
<circle cx="306.5" cy="876.0" r="2.3" stroke="#ef6c64" fill="rgba(255,246,228,0.55)" stroke-width="0.6"/>
<circle cx="305.5" cy="878.2" r="2.3" stroke="#ef6c64" fill="rgba(255,246,228,0.55)" stroke-width="0.6"/>
<circle cx="309.4" cy="872.2" r="2.3" stroke="#ef6c64" fill="rgba(255,246,228,0.55)" stroke-width="0.6"/>
<circle cx="329.5" cy="869.7" r="2.3" stroke="#ef6c64" fill="rgba(255,246,228,0.55)" stroke-width="0.6"/>
<circle cx="325.7" cy="858.1" r="2.3" stroke="#ef6c64" fill="rgba(255,246,228,0.55)" stroke-width="0.6"/>
<circle cx="332.2" cy="871.6" r="2.3" stroke="#ef6c64" fill="rgba(255,246,228,0.55)" stroke-width="0.6"/>
<circle cx="338.2" cy="856.1" r="2.3" stroke="#ef6c64" fill="rgba(255,246,228,0.55)" stroke-width="0.6"/>
<circle cx="308.3" cy="878.6" r="2.3" stroke="#ef6c64" fill="rgba(255,246,228,0.55)" stroke-width="0.6"/>
<circle cx="335.9" cy="852.9" r="2.3" stroke="#ef6c64" fill="rgba(255,246,228,0.55)" stroke-width="0.6"/>
<circle cx="331.8" cy="857.3" r="2.3" stroke="#ef6c64" fill="rgba(255,246,228,0.55)" stroke-width="0.6"/>
<circle cx="303.1" cy="868.7" r="2.3" stroke="#ef6c64" fill="rgba(255,246,228,0.55)" stroke-width="0.6"/>
<circle cx="338.5" cy="875.9" r="2.3" stroke="#ef6c64" fill="rgba(255,246,228,0.55)" stroke-width="0.6"/>
<circle cx="302.0" cy="856.7" r="2.3" stroke="#ef6c64" fill="rgba(255,246,228,0.55)" stroke-width="0.6"/>
<circle cx="324.4" cy="881.2" r="2.3" stroke="#ef6c64" fill="rgba(255,246,228,0.55)" stroke-width="0.6"/>
<circle cx="311.5" cy="860.8" r="2.3" stroke="#ef6c64" fill="rgba(255,246,228,0.55)" stroke-width="0.6"/>
<circle cx="335.1" cy="874.8" r="2.3" stroke="#ef6c64" fill="rgba(255,246,228,0.55)" stroke-width="0.6"/>
<circle cx="301.0" cy="860.9" r="2.3" stroke="#ef6c64" fill="rgba(255,246,228,0.55)" stroke-width="0.6"/>
<circle cx="335.1" cy="880.6" r="2.3" stroke="#ef6c64" fill="rgba(255,246,228,0.55)" stroke-width="0.6"/>
<circle cx="327.7" cy="855.9" r="2.3" stroke="#ef6c64" fill="rgba(255,246,228,0.55)" stroke-width="0.6"/>
<circle cx="318.9" cy="852.1" r="2.3" stroke="#ef6c64" fill="rgba(255,246,228,0.55)" stroke-width="0.6"/>
<circle cx="324.6" cy="876.8" r="2.3" stroke="#ef6c64" fill="rgba(255,246,228,0.55)" stroke-width="0.6"/>
<circle cx="306.9" cy="863.7" r="2.3" stroke="#ef6c64" fill="rgba(255,246,228,0.55)" stroke-width="0.6"/>
<circle cx="340.4" cy="867.1" r="2.3" stroke="#ef6c64" fill="rgba(255,246,228,0.55)" stroke-width="0.6"/>
<circle cx="341.0" cy="870.3" r="2.3" stroke="#ef6c64" fill="rgba(255,246,228,0.55)" stroke-width="0.6"/>
<circle cx="338.3" cy="881.0" r="2.3" stroke="#ef6c64" fill="rgba(255,246,228,0.55)" stroke-width="0.6"/>
<circle cx="307.1" cy="877.3" r="2.3" stroke="#ef6c64" fill="rgba(255,246,228,0.55)" stroke-width="0.6"/>
<circle cx="341.5" cy="863.3" r="2.3" stroke="#ef6c64" fill="rgba(255,246,228,0.55)" stroke-width="0.6"/>
<circle cx="306.7" cy="865.9" r="2.3" stroke="#ef6c64" fill="rgba(255,246,228,0.55)" stroke-width="0.6"/>
<circle cx="330.3" cy="867.1" r="2.3" stroke="#ef6c64" fill="rgba(255,246,228,0.55)" stroke-width="0.6"/>
<circle cx="338.5" cy="871.2" r="2.3" stroke="#ef6c64" fill="rgba(255,246,228,0.55)" stroke-width="0.6"/>
<circle cx="317.2" cy="880.3" r="2.3" stroke="#ef6c64" fill="rgba(255,246,228,0.55)" stroke-width="0.6"/>
<circle cx="331.6" cy="866.9" r="2.3" stroke="#ef6c64" fill="rgba(255,246,228,0.55)" stroke-width="0.6"/>
<circle cx="318.4" cy="853.5" r="2.3" stroke="#ef6c64" fill="rgba(255,246,228,0.55)" stroke-width="0.6"/>
<circle cx="317.7" cy="863.8" r="2.3" stroke="#ef6c64" fill="rgba(255,246,228,0.55)" stroke-width="0.6"/>
<circle cx="331.6" cy="857.9" r="2.3" stroke="#ef6c64" fill="rgba(255,246,228,0.55)" stroke-width="0.6"/>
<circle cx="306.2" cy="869.5" r="2.3" stroke="#ef6c64" fill="rgba(255,246,228,0.55)" stroke-width="0.6"/>
<circle cx="314.6" cy="852.7" r="2.3" stroke="#ef6c64" fill="rgba(255,246,228,0.55)" stroke-width="0.6"/>
<circle cx="308.4" cy="852.5" r="2.3" stroke="#ef6c64" fill="rgba(255,246,228,0.55)" stroke-width="0.6"/>
<circle cx="328.8" cy="866.8" r="2.3" stroke="#ef6c64" fill="rgba(255,246,228,0.55)" stroke-width="0.6"/>
<circle cx="334.0" cy="875.8" r="2.3" stroke="#ef6c64" fill="rgba(255,246,228,0.55)" stroke-width="0.6"/>
<circle cx="161.4" cy="873.2" r="2.3" stroke="#ef6c64" fill="rgba(255,246,228,0.55)" stroke-width="0.6"/>
<circle cx="201.5" cy="818.6" r="2.3" stroke="#ef6c64" fill="rgba(255,246,228,0.55)" stroke-width="0.6"/>
<circle cx="242.5" cy="850.0" r="2.3" stroke="#ef6c64" fill="rgba(255,246,228,0.55)" stroke-width="0.6"/>
<circle cx="254.5" cy="789.1" r="2.3" stroke="#ef6c64" fill="rgba(255,246,228,0.55)" stroke-width="0.6"/>
<circle cx="267.0" cy="788.7" r="2.3" stroke="#ef6c64" fill="rgba(255,246,228,0.55)" stroke-width="0.6"/>
<circle cx="252.4" cy="800.4" r="2.3" stroke="#ef6c64" fill="rgba(255,246,228,0.55)" stroke-width="0.6"/>
<circle cx="264.7" cy="808.4" r="2.3" stroke="#ef6c64" fill="rgba(255,246,228,0.55)" stroke-width="0.6"/>
<circle cx="284.9" cy="816.5" r="2.3" stroke="#ef6c64" fill="rgba(255,246,228,0.55)" stroke-width="0.6"/>
<circle cx="296.5" cy="826.1" r="2.3" stroke="#ef6c64" fill="rgba(255,246,228,0.55)" stroke-width="0.6"/>
<circle cx="298.1" cy="730.7" r="2.3" stroke="#ef6c64" fill="rgba(255,246,228,0.55)" stroke-width="0.6"/>
<circle cx="316.0" cy="789.1" r="2.3" stroke="#ef6c64" fill="rgba(255,246,228,0.55)" stroke-width="0.6"/>
<circle cx="316.0" cy="881.5" r="2.3" stroke="#ef6c64" fill="rgba(255,246,228,0.55)" stroke-width="0.6"/>
<circle cx="136.5" cy="885.5" r="2.3" stroke="#ef6c64" fill="rgba(255,246,228,0.55)" stroke-width="0.6"/>
<circle cx="489.3" cy="676.4" r="2.3" stroke="#ef6c64" fill="rgba(255,246,228,0.55)" stroke-width="0.6"/>
<circle cx="526.3" cy="675.4" r="2.3" stroke="#ef6c64" fill="rgba(255,246,228,0.55)" stroke-width="0.6"/>
<circle cx="528.4" cy="676.9" r="2.3" stroke="#ef6c64" fill="rgba(255,246,228,0.55)" stroke-width="0.6"/>
<circle cx="514.8" cy="692.8" r="2.3" stroke="#ef6c64" fill="rgba(255,246,228,0.55)" stroke-width="0.6"/>
<circle cx="391.3" cy="700.2" r="2.3" stroke="#ef6c64" fill="rgba(255,246,228,0.55)" stroke-width="0.6"/>
<circle cx="494.4" cy="713.2" r="2.3" stroke="#ef6c64" fill="rgba(255,246,228,0.55)" stroke-width="0.6"/>
<circle cx="498.2" cy="713.8" r="2.3" stroke="#ef6c64" fill="rgba(255,246,228,0.55)" stroke-width="0.6"/>
<circle cx="504.6" cy="713.8" r="2.3" stroke="#ef6c64" fill="rgba(255,246,228,0.55)" stroke-width="0.6"/>
<circle cx="343.5" cy="723.0" r="2.3" stroke="#ef6c64" fill="rgba(255,246,228,0.55)" stroke-width="0.6"/>
<circle cx="471.4" cy="719.9" r="2.3" stroke="#ef6c64" fill="rgba(255,246,228,0.55)" stroke-width="0.6"/>
<circle cx="472.1" cy="729.3" r="2.3" stroke="#ef6c64" fill="rgba(255,246,228,0.55)" stroke-width="0.6"/>
<circle cx="477.5" cy="731.1" r="2.3" stroke="#ef6c64" fill="rgba(255,246,228,0.55)" stroke-width="0.6"/>
<circle cx="470.3" cy="736.8" r="2.3" stroke="#ef6c64" fill="rgba(255,246,228,0.55)" stroke-width="0.6"/>
<circle cx="491.3" cy="736.8" r="2.3" stroke="#ef6c64" fill="rgba(255,246,228,0.55)" stroke-width="0.6"/>
<circle cx="471.4" cy="742.9" r="2.3" stroke="#ef6c64" fill="rgba(255,246,228,0.55)" stroke-width="0.6"/>
<circle cx="413.3" cy="740.9" r="2.3" stroke="#ef6c64" fill="rgba(255,246,228,0.55)" stroke-width="0.6"/>
<circle cx="465.5" cy="748.3" r="2.3" stroke="#ef6c64" fill="rgba(255,246,228,0.55)" stroke-width="0.6"/>
<circle cx="483.1" cy="750.8" r="2.3" stroke="#ef6c64" fill="rgba(255,246,228,0.55)" stroke-width="0.6"/>
<circle cx="451.4" cy="752.6" r="2.3" stroke="#ef6c64" fill="rgba(255,246,228,0.55)" stroke-width="0.6"/>
<circle cx="437.3" cy="757.2" r="2.3" stroke="#ef6c64" fill="rgba(255,246,228,0.55)" stroke-width="0.6"/>
<circle cx="442.5" cy="757.0" r="2.3" stroke="#ef6c64" fill="rgba(255,246,228,0.55)" stroke-width="0.6"/>
<circle cx="416.4" cy="783.4" r="2.3" stroke="#ef6c64" fill="rgba(255,246,228,0.55)" stroke-width="0.6"/>
<circle cx="401.4" cy="790.1" r="2.3" stroke="#ef6c64" fill="rgba(255,246,228,0.55)" stroke-width="0.6"/>
<circle cx="408.7" cy="794.9" r="2.3" stroke="#ef6c64" fill="rgba(255,246,228,0.55)" stroke-width="0.6"/>
<circle cx="405.6" cy="799.4" r="2.3" stroke="#ef6c64" fill="rgba(255,246,228,0.55)" stroke-width="0.6"/>
<circle cx="421.2" cy="793.2" r="2.3" stroke="#ef6c64" fill="rgba(255,246,228,0.55)" stroke-width="0.6"/>
<circle cx="316.4" cy="789.3" r="2.3" stroke="#ef6c64" fill="rgba(255,246,228,0.55)" stroke-width="0.6"/>
<circle cx="369.6" cy="811.9" r="2.3" stroke="#ef6c64" fill="rgba(255,246,228,0.55)" stroke-width="0.6"/>
<circle cx="379.4" cy="809.0" r="2.3" stroke="#ef6c64" fill="rgba(255,246,228,0.55)" stroke-width="0.6"/>
<circle cx="386.5" cy="813.6" r="2.3" stroke="#ef6c64" fill="rgba(255,246,228,0.55)" stroke-width="0.6"/>
<circle cx="394.6" cy="809.4" r="2.3" stroke="#ef6c64" fill="rgba(255,246,228,0.55)" stroke-width="0.6"/>
<circle cx="324.1" cy="824.2" r="2.3" stroke="#ef6c64" fill="rgba(255,246,228,0.55)" stroke-width="0.6"/>
<circle cx="363.2" cy="825.2" r="2.3" stroke="#ef6c64" fill="rgba(255,246,228,0.55)" stroke-width="0.6"/>
<circle cx="361.3" cy="829.8" r="2.3" stroke="#ef6c64" fill="rgba(255,246,228,0.55)" stroke-width="0.6"/>
<circle cx="370.7" cy="826.7" r="2.3" stroke="#ef6c64" fill="rgba(255,246,228,0.55)" stroke-width="0.6"/>
<circle cx="372.7" cy="826.7" r="2.3" stroke="#ef6c64" fill="rgba(255,246,228,0.55)" stroke-width="0.6"/>
<circle cx="364.8" cy="832.5" r="2.3" stroke="#ef6c64" fill="rgba(255,246,228,0.55)" stroke-width="0.6"/>
<circle cx="362.3" cy="833.7" r="2.3" stroke="#ef6c64" fill="rgba(255,246,228,0.55)" stroke-width="0.6"/>
<circle cx="346.3" cy="832.5" r="2.3" stroke="#ef6c64" fill="rgba(255,246,228,0.55)" stroke-width="0.6"/>
<circle cx="354.4" cy="836.4" r="2.3" stroke="#ef6c64" fill="rgba(255,246,228,0.55)" stroke-width="0.6"/>
<circle cx="343.0" cy="839.3" r="2.3" stroke="#ef6c64" fill="rgba(255,246,228,0.55)" stroke-width="0.6"/>
<circle cx="344.3" cy="843.5" r="2.3" stroke="#ef6c64" fill="rgba(255,246,228,0.55)" stroke-width="0.6"/>
<circle cx="345.7" cy="848.1" r="2.3" stroke="#ef6c64" fill="rgba(255,246,228,0.55)" stroke-width="0.6"/>
<circle cx="343.6" cy="852.2" r="2.3" stroke="#ef6c64" fill="rgba(255,246,228,0.55)" stroke-width="0.6"/>
<circle cx="347.8" cy="852.8" r="2.3" stroke="#ef6c64" fill="rgba(255,246,228,0.55)" stroke-width="0.6"/>
<circle cx="362.3" cy="843.3" r="2.3" stroke="#ef6c64" fill="rgba(255,246,228,0.55)" stroke-width="0.6"/>
<circle cx="391.4" cy="848.3" r="2.3" stroke="#ef6c64" fill="rgba(255,246,228,0.55)" stroke-width="0.6"/>
<circle cx="392.7" cy="857.4" r="2.3" stroke="#ef6c64" fill="rgba(255,246,228,0.55)" stroke-width="0.6"/>
<circle cx="397.3" cy="868.6" r="2.3" stroke="#ef6c64" fill="rgba(255,246,228,0.55)" stroke-width="0.6"/>
<circle cx="426.4" cy="852.2" r="2.3" stroke="#ef6c64" fill="rgba(255,246,228,0.55)" stroke-width="0.6"/>
<circle cx="431.3" cy="857.2" r="2.3" stroke="#ef6c64" fill="rgba(255,246,228,0.55)" stroke-width="0.6"/>
<circle cx="438.0" cy="848.7" r="2.3" stroke="#ef6c64" fill="rgba(255,246,228,0.55)" stroke-width="0.6"/>
<circle cx="442.4" cy="844.3" r="2.3" stroke="#ef6c64" fill="rgba(255,246,228,0.55)" stroke-width="0.6"/>
<circle cx="441.3" cy="855.3" r="2.3" stroke="#ef6c64" fill="rgba(255,246,228,0.55)" stroke-width="0.6"/>
<circle cx="463.5" cy="846.8" r="2.3" stroke="#ef6c64" fill="rgba(255,246,228,0.55)" stroke-width="0.6"/>
<circle cx="478.3" cy="856.2" r="2.3" stroke="#ef6c64" fill="rgba(255,246,228,0.55)" stroke-width="0.6"/>
<circle cx="371.3" cy="862.8" r="2.3" stroke="#ef6c64" fill="rgba(255,246,228,0.55)" stroke-width="0.6"/>
<circle cx="380.6" cy="859.9" r="2.3" stroke="#ef6c64" fill="rgba(255,246,228,0.55)" stroke-width="0.6"/>
<circle cx="341.6" cy="858.5" r="2.3" stroke="#ef6c64" fill="rgba(255,246,228,0.55)" stroke-width="0.6"/>
<circle cx="316.2" cy="882.1" r="2.3" stroke="#ef6c64" fill="rgba(255,246,228,0.55)" stroke-width="0.6"/>
<circle cx="338.2" cy="880.5" r="2.3" stroke="#ef6c64" fill="rgba(255,246,228,0.55)" stroke-width="0.6"/>
<circle cx="137.8" cy="548.0" r="2.5" stroke="#ef6c64" fill="rgba(255,246,228,0.55)" stroke-width="0.8"/>
<rect x="135.4" y="577.6" width="4.8" height="4.8" stroke="#76a8de" fill="rgba(228,247,250,0.75)" stroke-width="0.8"/>
<text x="172.0" y="557.5" font-size="24.8" text-anchor="start" style="font-family:'Liberation Sans',sans-serif">backward</text>
<text x="173.0" y="589.5" font-size="24.8" text-anchor="start" style="font-family:'Liberation Sans',sans-serif">forward</text>
<g transform="translate(155.7,772.5)" fill="none" stroke="#000"><circle cx="0" cy="0" r="15.3" stroke-width="2.2"/><path d="M0.6,-9.4 L0.6,8.6" stroke-width="3.3"/><path d="M0.2,-9.2 L-4.6,-6.2" stroke-width="1.6" stroke-linecap="round"/><path d="M-5.4,8.7 L5.4,8.7" stroke-width="1.8"/></g>
<g transform="translate(447,584.5)" fill="none" stroke="#ff00ff"><circle cx="0" cy="0" r="15.3" stroke-width="2.2"/><path d="M-4.9,-4.2 C-4.6,-7.6 -2.3,-9.3 0.2,-9.3 C3.6,-9.3 5.8,-7.2 5.8,-4.4 C5.8,-1.2 2.6,1.2 -1.2,4.2 L-6.6,8.2" stroke-width="2.8"/><circle cx="-4.7" cy="-3.9" r="1.7" fill="#ff00ff" stroke="none"/><path d="M-7.3,8.4 L7.6,8.4" stroke-width="2.5"/><path d="M7,8.6 L7,3.4" stroke-width="1.6"/></g>
<text x="89.5" y="591.3" font-size="35" text-anchor="end" style="font-family:'Liberation Sans',sans-serif">6</text>
<text x="88.5" y="696.8" font-size="35" text-anchor="end" style="font-family:'Liberation Sans',sans-serif">4</text>
<text x="89.5" y="797.5" font-size="35" text-anchor="end" style="font-family:'Liberation Sans',sans-serif">2</text>
<text x="235.2" y="940.2" font-size="34" text-anchor="middle" style="font-family:'Liberation Sans',sans-serif">3</text>
<text x="375.0" y="940.2" font-size="34" text-anchor="middle" style="font-family:'Liberation Sans',sans-serif">6</text>
<text x="503.5" y="940.2" font-size="34" text-anchor="middle" style="font-family:'Liberation Sans',sans-serif">9</text>
<g transform="translate(182.3,987.7) scale(0.95,1)"><text x="0" y="0" font-size="30.8" style="font-family:'Liberation Sans',sans-serif">total ion yield<tspan font-size="31.5"> ( </tspan><tspan font-weight="bold" font-size="27" dx="1.5" dy="-1.8">×</tspan><tspan font-size="31.5" dx="1.6" dy="1.8"> 10</tspan><tspan font-weight="bold" font-size="24" dx="-1.0" dy="-15.7">5</tspan><tspan font-size="31.5" dx="0.3" dy="15.7"> )</tspan></text></g>
<text transform="translate(55.4,769.8) rotate(-90)" font-size="33" style="font-family:'Liberation Sans',sans-serif">yield ( <tspan dy="3.2">×</tspan><tspan dy="-3.2">10</tspan><tspan font-weight="bold" font-size="29" dy="-12.3">5</tspan><tspan dy="12.3"> )</tspan></text>
<text x="-0.8" y="525.3" font-size="43" text-anchor="start" style="font-family:'Liberation Sans',sans-serif">c</text>
<line x1="770.4" y1="532.9" x2="770.4" y2="898.8" stroke="#000" stroke-width="1.6"/>
<line x1="769.6" y1="533.7" x2="1226.35" y2="533.7" stroke="#000" stroke-width="1.6"/>
<line x1="1225.6" y1="532.9" x2="1225.6" y2="898.8" stroke="#000" stroke-width="1.5"/>
<line x1="769.6" y1="898" x2="1226.35" y2="898" stroke="#000" stroke-width="1.6"/>
<line x1="771" y1="825" x2="777" y2="825" stroke="#000" stroke-width="1.3"/>
<line x1="771" y1="751.8" x2="777" y2="751.8" stroke="#000" stroke-width="1.3"/>
<line x1="771" y1="679.5" x2="777" y2="679.5" stroke="#000" stroke-width="1.3"/>
<line x1="771" y1="606.5" x2="777" y2="606.5" stroke="#000" stroke-width="1.3"/>
<line x1="1009.5" y1="897.5" x2="1009.5" y2="890.5" stroke="#000" stroke-width="1.3"/>
<rect x="994.4" y="871.2" width="7" height="7" stroke="#f05050" fill="none" stroke-width="1" opacity="0.45"/>
<rect x="1002.7" y="870.0" width="7" height="7" stroke="#f05050" fill="none" stroke-width="1" opacity="0.45"/>
<rect x="1004.6" y="869.8" width="7" height="7" stroke="#f05050" fill="none" stroke-width="1" opacity="0.45"/>
<rect x="1013.1" y="862.1" width="7" height="7" stroke="#f05050" fill="none" stroke-width="1" opacity="0.45"/>
<rect x="1012.9" y="857.4" width="7" height="7" stroke="#f05050" fill="none" stroke-width="1" opacity="0.45"/>
<rect x="1017.9" y="859.3" width="7" height="7" stroke="#f05050" fill="none" stroke-width="1" opacity="0.45"/>
<rect x="1025.3" y="850.7" width="7" height="7" stroke="#f05050" fill="none" stroke-width="1" opacity="0.45"/>
<rect x="1025.1" y="852.6" width="7" height="7" stroke="#f05050" fill="none" stroke-width="1" opacity="0.45"/>
<rect x="1032.8" y="842.1" width="7" height="7" stroke="#f05050" fill="none" stroke-width="1" opacity="0.45"/>
<rect x="1034.5" y="839.7" width="7" height="7" stroke="#f05050" fill="none" stroke-width="1" opacity="0.45"/>
<rect x="1039.6" y="839.6" width="7" height="7" stroke="#f05050" fill="none" stroke-width="1" opacity="0.45"/>
<rect x="1042.9" y="834.9" width="7" height="7" stroke="#f05050" fill="none" stroke-width="1" opacity="0.45"/>
<rect x="1049.5" y="832.8" width="7" height="7" stroke="#f05050" fill="none" stroke-width="1" opacity="0.45"/>
<rect x="1051.1" y="827.4" width="7" height="7" stroke="#f05050" fill="none" stroke-width="1" opacity="0.45"/>
<rect x="1062.3" y="824.5" width="7" height="7" stroke="#f05050" fill="none" stroke-width="1" opacity="0.45"/>
<rect x="1062.1" y="823.2" width="7" height="7" stroke="#f05050" fill="none" stroke-width="1" opacity="0.45"/>
<rect x="1064.9" y="817.8" width="7" height="7" stroke="#f05050" fill="none" stroke-width="1" opacity="0.45"/>
<rect x="1074.5" y="818.2" width="7" height="7" stroke="#f05050" fill="none" stroke-width="1" opacity="0.45"/>
<rect x="1071.5" y="811.4" width="7" height="7" stroke="#f05050" fill="none" stroke-width="1" opacity="0.45"/>
<rect x="1075.1" y="803.6" width="7" height="7" stroke="#f05050" fill="none" stroke-width="1" opacity="0.45"/>
<rect x="1082.3" y="807.5" width="7" height="7" stroke="#f05050" fill="none" stroke-width="1" opacity="0.45"/>
<rect x="1085.7" y="803.2" width="7" height="7" stroke="#f05050" fill="none" stroke-width="1" opacity="0.45"/>
<rect x="1086.7" y="795.7" width="7" height="7" stroke="#f05050" fill="none" stroke-width="1" opacity="0.45"/>
<rect x="1093.1" y="791.3" width="7" height="7" stroke="#f05050" fill="none" stroke-width="1" opacity="0.45"/>
<rect x="1098.8" y="788.3" width="7" height="7" stroke="#f05050" fill="none" stroke-width="1" opacity="0.45"/>
<rect x="1098.4" y="779.2" width="7" height="7" stroke="#f05050" fill="none" stroke-width="1" opacity="0.45"/>
<rect x="1101.7" y="778.2" width="7" height="7" stroke="#f05050" fill="none" stroke-width="1" opacity="0.45"/>
<rect x="1104.9" y="769.9" width="7" height="7" stroke="#f05050" fill="none" stroke-width="1" opacity="0.45"/>
<rect x="1105.0" y="771.3" width="7" height="7" stroke="#f05050" fill="none" stroke-width="1" opacity="0.45"/>
<rect x="1113.2" y="763.3" width="7" height="7" stroke="#f05050" fill="none" stroke-width="1" opacity="0.45"/>
<rect x="1116.9" y="761.5" width="7" height="7" stroke="#f05050" fill="none" stroke-width="1" opacity="0.45"/>
<rect x="1118.4" y="754.7" width="7" height="7" stroke="#f05050" fill="none" stroke-width="1" opacity="0.45"/>
<rect x="1124.6" y="753.2" width="7" height="7" stroke="#f05050" fill="none" stroke-width="1" opacity="0.45"/>
<rect x="1127.7" y="748.6" width="7" height="7" stroke="#f05050" fill="none" stroke-width="1" opacity="0.45"/>
<rect x="1127.1" y="740.1" width="7" height="7" stroke="#f05050" fill="none" stroke-width="1" opacity="0.45"/>
<rect x="1128.0" y="734.8" width="7" height="7" stroke="#f05050" fill="none" stroke-width="1" opacity="0.45"/>
<rect x="1131.5" y="731.8" width="7" height="7" stroke="#f05050" fill="none" stroke-width="1" opacity="0.45"/>
<rect x="1136.6" y="729.7" width="7" height="7" stroke="#f05050" fill="none" stroke-width="1" opacity="0.45"/>
<rect x="1136.1" y="722.4" width="7" height="7" stroke="#f05050" fill="none" stroke-width="1" opacity="0.45"/>
<rect x="1135.6" y="714.8" width="7" height="7" stroke="#f05050" fill="none" stroke-width="1" opacity="0.45"/>
<rect x="1137.5" y="713.5" width="7" height="7" stroke="#f05050" fill="none" stroke-width="1" opacity="0.45"/>
<rect x="1142.5" y="711.5" width="7" height="7" stroke="#f05050" fill="none" stroke-width="1" opacity="0.45"/>
<rect x="1146.5" y="696.5" width="7" height="7" stroke="#f05050" fill="none" stroke-width="1" opacity="0.45"/>
<rect x="1150.5" y="688.5" width="7" height="7" stroke="#f05050" fill="none" stroke-width="1" opacity="0.45"/>
<rect x="1156.5" y="672.5" width="7" height="7" stroke="#f05050" fill="none" stroke-width="1" opacity="0.45"/>
<rect x="1161.5" y="672.5" width="7" height="7" stroke="#f05050" fill="none" stroke-width="1" opacity="0.45"/>
<rect x="1167.5" y="678.5" width="7" height="7" stroke="#f05050" fill="none" stroke-width="1" opacity="0.45"/>
<rect x="1173.5" y="686.5" width="7" height="7" stroke="#f05050" fill="none" stroke-width="1" opacity="0.45"/>
<rect x="1172.5" y="664.5" width="7" height="7" stroke="#f05050" fill="none" stroke-width="1" opacity="0.45"/>
<rect x="1174.5" y="656.5" width="7" height="7" stroke="#f05050" fill="none" stroke-width="1" opacity="0.45"/>
<rect x="1173.5" y="642.5" width="7" height="7" stroke="#f05050" fill="none" stroke-width="1" opacity="0.45"/>
<rect x="1181.5" y="624.5" width="7" height="7" stroke="#f05050" fill="none" stroke-width="1" opacity="0.45"/>
<rect x="1182.5" y="620.5" width="7" height="7" stroke="#f05050" fill="none" stroke-width="1" opacity="0.45"/>
<rect x="1185.5" y="614.5" width="7" height="7" stroke="#f05050" fill="none" stroke-width="1" opacity="0.45"/>
<rect x="1188.5" y="611.5" width="7" height="7" stroke="#f05050" fill="none" stroke-width="1" opacity="0.45"/>
<rect x="1193.5" y="602.5" width="7" height="7" stroke="#f05050" fill="none" stroke-width="1" opacity="0.45"/>
<rect x="1196.5" y="597.5" width="7" height="7" stroke="#f05050" fill="none" stroke-width="1" opacity="0.45"/>
<rect x="1198.5" y="590.5" width="7" height="7" stroke="#f05050" fill="none" stroke-width="1" opacity="0.45"/>
<rect x="1201.5" y="593.5" width="7" height="7" stroke="#f05050" fill="none" stroke-width="1" opacity="0.45"/>
<rect x="1206.5" y="581.5" width="7" height="7" stroke="#f05050" fill="none" stroke-width="1" opacity="0.45"/>
<rect x="1206.5" y="567.5" width="7" height="7" stroke="#f05050" fill="none" stroke-width="1" opacity="0.45"/>
<rect x="1211.5" y="568.5" width="7" height="7" stroke="#f05050" fill="none" stroke-width="1" opacity="0.45"/>
<rect x="1156.9" y="711.0" width="7" height="7" stroke="#f05050" fill="none" stroke-width="1" opacity="0.45"/>
<rect x="1160.9" y="711.0" width="7" height="7" stroke="#f05050" fill="none" stroke-width="1" opacity="0.45"/>
<rect x="1158.9" y="696.9" width="7" height="7" stroke="#f05050" fill="none" stroke-width="1" opacity="0.45"/>
<rect x="1144.5" y="704.5" width="7" height="7" stroke="#f05050" fill="none" stroke-width="1" opacity="0.45"/>
<rect x="1136.5" y="721.5" width="7" height="7" stroke="#f05050" fill="none" stroke-width="1" opacity="0.45"/>
<rect x="1137.5" y="730.5" width="7" height="7" stroke="#f05050" fill="none" stroke-width="1" opacity="0.45"/>
<rect x="1132.5" y="737.5" width="7" height="7" stroke="#f05050" fill="none" stroke-width="1" opacity="0.45"/>
<rect x="1179.5" y="634.5" width="7" height="7" stroke="#f05050" fill="none" stroke-width="1" opacity="0.45"/>
<rect x="1190.5" y="632.5" width="7" height="7" stroke="#f05050" fill="none" stroke-width="1" opacity="0.45"/>
<rect x="1195.5" y="636.5" width="7" height="7" stroke="#f05050" fill="none" stroke-width="1" opacity="0.45"/>
<rect x="1185.5" y="646.5" width="7" height="7" stroke="#f05050" fill="none" stroke-width="1" opacity="0.45"/>
<rect x="1164.5" y="656.5" width="7" height="7" stroke="#f05050" fill="none" stroke-width="1" opacity="0.45"/>
<rect x="1168.5" y="648.5" width="7" height="7" stroke="#f05050" fill="none" stroke-width="1" opacity="0.45"/>
<rect x="1176.5" y="628.5" width="7" height="7" stroke="#f05050" fill="none" stroke-width="1" opacity="0.45"/>
<rect x="1144.5" y="698.5" width="7" height="7" stroke="#f05050" fill="none" stroke-width="1" opacity="0.45"/>
<rect x="1152.5" y="684.5" width="7" height="7" stroke="#f05050" fill="none" stroke-width="1" opacity="0.45"/>
<rect x="942.1" y="871.5" width="7" height="7" stroke="#f05050" fill="none" stroke-width="1" opacity="0.45"/>
<rect x="927.8" y="880.0" width="7" height="7" stroke="#f05050" fill="none" stroke-width="1" opacity="0.45"/>
<rect x="966.9" y="873.4" width="7" height="7" stroke="#f05050" fill="none" stroke-width="1" opacity="0.45"/>
<rect x="985.2" y="869.5" width="7" height="7" stroke="#f05050" fill="none" stroke-width="1" opacity="0.45"/>
<rect x="1000.8" y="861.7" width="7" height="7" stroke="#f05050" fill="none" stroke-width="1" opacity="0.45"/>
<rect x="1009.9" y="876.0" width="7" height="7" stroke="#f05050" fill="none" stroke-width="1" opacity="0.45"/>
<rect x="1037.3" y="835.6" width="7" height="7" stroke="#f05050" fill="none" stroke-width="1" opacity="0.45"/>
<rect x="971.5" y="888.5" width="7" height="7" stroke="#f05050" fill="none" stroke-width="1" opacity="0.45"/>
<rect x="978.5" y="890.5" width="7" height="7" stroke="#f05050" fill="none" stroke-width="1" opacity="0.45"/>
<rect x="986.5" y="889.5" width="7" height="7" stroke="#f05050" fill="none" stroke-width="1" opacity="0.45"/>
<rect x="956.5" y="888.5" width="7" height="7" stroke="#f05050" fill="none" stroke-width="1" opacity="0.45"/>
<rect x="996.5" y="886.5" width="7" height="7" stroke="#f05050" fill="none" stroke-width="1" opacity="0.45"/>
<rect x="1016.5" y="868.5" width="7" height="7" stroke="#f05050" fill="none" stroke-width="1" opacity="0.45"/>
<rect x="913.7" y="883.0" width="7" height="7" stroke="#f05050" fill="none" stroke-width="1" opacity="0.45"/>
<rect x="930.3" y="880.1" width="7" height="7" stroke="#f05050" fill="none" stroke-width="1" opacity="0.45"/>
<rect x="974.3" y="887.9" width="7" height="7" stroke="#f05050" fill="none" stroke-width="1" opacity="0.45"/>
<rect x="984.1" y="888.9" width="7" height="7" stroke="#f05050" fill="none" stroke-width="1" opacity="0.45"/>
<rect x="984.1" y="868.3" width="7" height="7" stroke="#f05050" fill="none" stroke-width="1" opacity="0.45"/>
<rect x="960.6" y="891.8" width="7" height="7" stroke="#f05050" fill="none" stroke-width="1" opacity="0.45"/>
<rect x="1021.5" y="858.5" width="7" height="7" stroke="#f05050" fill="none" stroke-width="1" opacity="0.45"/>
<rect x="1031.5" y="854.5" width="7" height="7" stroke="#f05050" fill="none" stroke-width="1" opacity="0.45"/>
<rect x="1041.5" y="842.5" width="7" height="7" stroke="#f05050" fill="none" stroke-width="1" opacity="0.45"/>
<rect x="1054.5" y="834.5" width="7" height="7" stroke="#f05050" fill="none" stroke-width="1" opacity="0.45"/>
<rect x="1066.5" y="826.5" width="7" height="7" stroke="#f05050" fill="none" stroke-width="1" opacity="0.45"/>
<rect x="1076.5" y="814.5" width="7" height="7" stroke="#f05050" fill="none" stroke-width="1" opacity="0.45"/>
<rect x="1089.5" y="796.5" width="7" height="7" stroke="#f05050" fill="none" stroke-width="1" opacity="0.45"/>
<rect x="1108.5" y="775.5" width="7" height="7" stroke="#f05050" fill="none" stroke-width="1" opacity="0.45"/>
<rect x="1114.5" y="766.5" width="7" height="7" stroke="#f05050" fill="none" stroke-width="1" opacity="0.45"/>
<rect x="1135.2" y="716.9" width="7" height="7" stroke="#f05050" fill="none" stroke-width="1" opacity="0.45"/>
<rect x="1139.3" y="709.0" width="7" height="7" stroke="#f05050" fill="none" stroke-width="1" opacity="0.45"/>
<rect x="1143.3" y="700.5" width="7" height="7" stroke="#f05050" fill="none" stroke-width="1" opacity="0.45"/>
<rect x="1145.5" y="702.3" width="7" height="7" stroke="#f05050" fill="none" stroke-width="1" opacity="0.45"/>
<rect x="1152.0" y="692.2" width="7" height="7" stroke="#f05050" fill="none" stroke-width="1" opacity="0.45"/>
<rect x="1149.4" y="684.4" width="7" height="7" stroke="#f05050" fill="none" stroke-width="1" opacity="0.45"/>
<rect x="1157.2" y="684.7" width="7" height="7" stroke="#f05050" fill="none" stroke-width="1" opacity="0.45"/>
<rect x="1156.3" y="675.6" width="7" height="7" stroke="#f05050" fill="none" stroke-width="1" opacity="0.45"/>
<rect x="1157.9" y="673.5" width="7" height="7" stroke="#f05050" fill="none" stroke-width="1" opacity="0.45"/>
<rect x="1158.3" y="667.1" width="7" height="7" stroke="#f05050" fill="none" stroke-width="1" opacity="0.45"/>
<rect x="1162.4" y="663.3" width="7" height="7" stroke="#f05050" fill="none" stroke-width="1" opacity="0.45"/>
<rect x="1162.7" y="664.8" width="7" height="7" stroke="#f05050" fill="none" stroke-width="1" opacity="0.45"/>
<rect x="1170.2" y="655.9" width="7" height="7" stroke="#f05050" fill="none" stroke-width="1" opacity="0.45"/>
<rect x="1172.9" y="649.5" width="7" height="7" stroke="#f05050" fill="none" stroke-width="1" opacity="0.45"/>
<rect x="1174.4" y="646.5" width="7" height="7" stroke="#f05050" fill="none" stroke-width="1" opacity="0.45"/>
<rect x="1175.7" y="643.2" width="7" height="7" stroke="#f05050" fill="none" stroke-width="1" opacity="0.45"/>
<rect x="1177.9" y="637.5" width="7" height="7" stroke="#f05050" fill="none" stroke-width="1" opacity="0.45"/>
<rect x="1177.7" y="629.5" width="7" height="7" stroke="#f05050" fill="none" stroke-width="1" opacity="0.45"/>
<rect x="1184.6" y="627.2" width="7" height="7" stroke="#f05050" fill="none" stroke-width="1" opacity="0.45"/>
<rect x="1189.1" y="615.3" width="7" height="7" stroke="#f05050" fill="none" stroke-width="1" opacity="0.45"/>
<rect x="1185.7" y="617.7" width="7" height="7" stroke="#f05050" fill="none" stroke-width="1" opacity="0.45"/>
<rect x="1189.1" y="603.4" width="7" height="7" stroke="#f05050" fill="none" stroke-width="1" opacity="0.45"/>
<rect x="1196.1" y="604.6" width="7" height="7" stroke="#f05050" fill="none" stroke-width="1" opacity="0.45"/>
<rect x="1191.8" y="595.9" width="7" height="7" stroke="#f05050" fill="none" stroke-width="1" opacity="0.45"/>
<rect x="1201.7" y="591.2" width="7" height="7" stroke="#f05050" fill="none" stroke-width="1" opacity="0.45"/>
<rect x="1198.9" y="586.2" width="7" height="7" stroke="#f05050" fill="none" stroke-width="1" opacity="0.45"/>
<rect x="1206.7" y="577.2" width="7" height="7" stroke="#f05050" fill="none" stroke-width="1" opacity="0.45"/>
<rect x="1206.0" y="577.0" width="7" height="7" stroke="#f05050" fill="none" stroke-width="1" opacity="0.45"/>
<rect x="1208.3" y="573.4" width="7" height="7" stroke="#f05050" fill="none" stroke-width="1" opacity="0.45"/>
<rect x="1209.0" y="567.6" width="7" height="7" stroke="#f05050" fill="none" stroke-width="1" opacity="0.45"/>
<circle cx="1117.8" cy="825.3" r="3.7" stroke="#5b8fd2" fill="none" stroke-width="1" opacity="0.85"/>
<circle cx="1175.8" cy="768.8" r="3.7" stroke="#5b8fd2" fill="none" stroke-width="1" opacity="0.85"/>
<circle cx="1061.4" cy="843.9" r="3.7" stroke="#5b8fd2" fill="none" stroke-width="1" opacity="0.85"/>
<circle cx="1181.2" cy="771.7" r="3.7" stroke="#5b8fd2" fill="none" stroke-width="1" opacity="0.85"/>
<circle cx="1185.7" cy="765.2" r="3.7" stroke="#5b8fd2" fill="none" stroke-width="1" opacity="0.85"/>
<circle cx="1184.5" cy="771.2" r="3.7" stroke="#5b8fd2" fill="none" stroke-width="1" opacity="0.85"/>
<circle cx="1096.8" cy="838.6" r="3.7" stroke="#5b8fd2" fill="none" stroke-width="1" opacity="0.85"/>
<circle cx="1143.8" cy="817.5" r="3.7" stroke="#5b8fd2" fill="none" stroke-width="1" opacity="0.85"/>
<circle cx="1118.7" cy="836.9" r="3.7" stroke="#5b8fd2" fill="none" stroke-width="1" opacity="0.85"/>
<circle cx="1083.4" cy="842.1" r="3.7" stroke="#5b8fd2" fill="none" stroke-width="1" opacity="0.85"/>
<circle cx="1126.8" cy="823.3" r="3.7" stroke="#5b8fd2" fill="none" stroke-width="1" opacity="0.85"/>
<circle cx="1084.2" cy="842.9" r="3.7" stroke="#5b8fd2" fill="none" stroke-width="1" opacity="0.85"/>
<circle cx="1155.4" cy="806.0" r="3.7" stroke="#5b8fd2" fill="none" stroke-width="1" opacity="0.85"/>
<circle cx="1076.3" cy="844.5" r="3.7" stroke="#5b8fd2" fill="none" stroke-width="1" opacity="0.85"/>
<circle cx="1137.4" cy="820.1" r="3.7" stroke="#5b8fd2" fill="none" stroke-width="1" opacity="0.85"/>
<circle cx="1153.2" cy="808.6" r="3.7" stroke="#5b8fd2" fill="none" stroke-width="1" opacity="0.85"/>
<circle cx="1139.7" cy="824.1" r="3.7" stroke="#5b8fd2" fill="none" stroke-width="1" opacity="0.85"/>
<circle cx="1057.3" cy="844.2" r="3.7" stroke="#5b8fd2" fill="none" stroke-width="1" opacity="0.85"/>
<circle cx="1126.3" cy="831.7" r="3.7" stroke="#5b8fd2" fill="none" stroke-width="1" opacity="0.85"/>
<circle cx="1154.2" cy="802.5" r="3.7" stroke="#5b8fd2" fill="none" stroke-width="1" opacity="0.85"/>
<circle cx="1117.0" cy="842.0" r="3.7" stroke="#5b8fd2" fill="none" stroke-width="1" opacity="0.85"/>
<circle cx="1133.7" cy="824.5" r="3.7" stroke="#5b8fd2" fill="none" stroke-width="1" opacity="0.85"/>
<circle cx="1137.5" cy="815.4" r="3.7" stroke="#5b8fd2" fill="none" stroke-width="1" opacity="0.85"/>
<circle cx="1103.0" cy="834.6" r="3.7" stroke="#5b8fd2" fill="none" stroke-width="1" opacity="0.85"/>
<circle cx="1136.5" cy="826.6" r="3.7" stroke="#5b8fd2" fill="none" stroke-width="1" opacity="0.85"/>
<circle cx="1088.4" cy="842.4" r="3.7" stroke="#5b8fd2" fill="none" stroke-width="1" opacity="0.85"/>
<circle cx="1061.8" cy="841.8" r="3.7" stroke="#5b8fd2" fill="none" stroke-width="1" opacity="0.85"/>
<circle cx="1160.3" cy="796.4" r="3.7" stroke="#5b8fd2" fill="none" stroke-width="1" opacity="0.85"/>
<circle cx="1129.9" cy="835.3" r="3.7" stroke="#5b8fd2" fill="none" stroke-width="1" opacity="0.85"/>
<circle cx="1086.7" cy="841.0" r="3.7" stroke="#5b8fd2" fill="none" stroke-width="1" opacity="0.85"/>
<circle cx="1195.7" cy="729.7" r="3.7" stroke="#5b8fd2" fill="none" stroke-width="1" opacity="0.85"/>
<circle cx="1067.8" cy="844.6" r="3.7" stroke="#5b8fd2" fill="none" stroke-width="1" opacity="0.85"/>
<circle cx="1162.6" cy="793.1" r="3.7" stroke="#5b8fd2" fill="none" stroke-width="1" opacity="0.85"/>
<circle cx="1076.0" cy="845.6" r="3.7" stroke="#5b8fd2" fill="none" stroke-width="1" opacity="0.85"/>
<circle cx="1190.3" cy="740.7" r="3.7" stroke="#5b8fd2" fill="none" stroke-width="1" opacity="0.85"/>
<circle cx="1120.7" cy="831.8" r="3.7" stroke="#5b8fd2" fill="none" stroke-width="1" opacity="0.85"/>
<circle cx="1142.0" cy="827.8" r="3.7" stroke="#5b8fd2" fill="none" stroke-width="1" opacity="0.85"/>
<circle cx="1102.0" cy="837.8" r="3.7" stroke="#5b8fd2" fill="none" stroke-width="1" opacity="0.85"/>
<circle cx="1209.4" cy="708.0" r="3.7" stroke="#5b8fd2" fill="none" stroke-width="1" opacity="0.85"/>
<circle cx="1139.6" cy="830.4" r="3.7" stroke="#5b8fd2" fill="none" stroke-width="1" opacity="0.85"/>
<circle cx="1162.2" cy="795.4" r="3.7" stroke="#5b8fd2" fill="none" stroke-width="1" opacity="0.85"/>
<circle cx="1060.0" cy="845.8" r="3.7" stroke="#5b8fd2" fill="none" stroke-width="1" opacity="0.85"/>
<circle cx="1153.1" cy="813.4" r="3.7" stroke="#5b8fd2" fill="none" stroke-width="1" opacity="0.85"/>
<circle cx="1067.5" cy="847.2" r="3.7" stroke="#5b8fd2" fill="none" stroke-width="1" opacity="0.85"/>
<circle cx="1199.5" cy="726.2" r="3.7" stroke="#5b8fd2" fill="none" stroke-width="1" opacity="0.85"/>
<circle cx="1142.5" cy="817.9" r="3.7" stroke="#5b8fd2" fill="none" stroke-width="1" opacity="0.85"/>
<circle cx="1117.6" cy="833.0" r="3.7" stroke="#5b8fd2" fill="none" stroke-width="1" opacity="0.85"/>
<circle cx="1162.1" cy="798.8" r="3.7" stroke="#5b8fd2" fill="none" stroke-width="1" opacity="0.85"/>
<circle cx="1069.2" cy="848.0" r="3.7" stroke="#5b8fd2" fill="none" stroke-width="1" opacity="0.85"/>
<circle cx="1205.7" cy="734.5" r="3.7" stroke="#5b8fd2" fill="none" stroke-width="1" opacity="0.85"/>
<circle cx="1049.8" cy="849.0" r="3.7" stroke="#5b8fd2" fill="none" stroke-width="1" opacity="0.85"/>
<circle cx="1094.5" cy="840.6" r="3.7" stroke="#5b8fd2" fill="none" stroke-width="1" opacity="0.85"/>
<circle cx="1200.5" cy="741.6" r="3.7" stroke="#5b8fd2" fill="none" stroke-width="1" opacity="0.85"/>
<circle cx="1167.8" cy="785.9" r="3.7" stroke="#5b8fd2" fill="none" stroke-width="1" opacity="0.85"/>
<circle cx="1059.5" cy="845.3" r="3.7" stroke="#5b8fd2" fill="none" stroke-width="1" opacity="0.85"/>
<circle cx="1086.8" cy="844.3" r="3.7" stroke="#5b8fd2" fill="none" stroke-width="1" opacity="0.85"/>
<circle cx="1085.5" cy="842.2" r="3.7" stroke="#5b8fd2" fill="none" stroke-width="1" opacity="0.85"/>
<circle cx="1167.4" cy="787.1" r="3.7" stroke="#5b8fd2" fill="none" stroke-width="1" opacity="0.85"/>
<circle cx="1070.6" cy="846.2" r="3.7" stroke="#5b8fd2" fill="none" stroke-width="1" opacity="0.85"/>
<circle cx="1168.5" cy="791.0" r="3.7" stroke="#5b8fd2" fill="none" stroke-width="1" opacity="0.85"/>
<circle cx="1175.4" cy="786.4" r="3.7" stroke="#5b8fd2" fill="none" stroke-width="1" opacity="0.85"/>
<circle cx="1112.7" cy="839.0" r="3.7" stroke="#5b8fd2" fill="none" stroke-width="1" opacity="0.85"/>
<circle cx="1069.5" cy="844.4" r="3.7" stroke="#5b8fd2" fill="none" stroke-width="1" opacity="0.85"/>
<circle cx="1079.2" cy="844.9" r="3.7" stroke="#5b8fd2" fill="none" stroke-width="1" opacity="0.85"/>
<circle cx="1165.3" cy="797.7" r="3.7" stroke="#5b8fd2" fill="none" stroke-width="1" opacity="0.85"/>
<circle cx="1211.9" cy="701.1" r="3.7" stroke="#5b8fd2" fill="none" stroke-width="1" opacity="0.85"/>
<circle cx="1066.2" cy="845.8" r="3.7" stroke="#5b8fd2" fill="none" stroke-width="1" opacity="0.85"/>
<circle cx="1149.9" cy="820.0" r="3.7" stroke="#5b8fd2" fill="none" stroke-width="1" opacity="0.85"/>
<circle cx="1046.8" cy="848.0" r="3.7" stroke="#5b8fd2" fill="none" stroke-width="1" opacity="0.85"/>
<circle cx="1209.8" cy="708.9" r="3.7" stroke="#5b8fd2" fill="none" stroke-width="1" opacity="0.85"/>
<circle cx="1213.2" cy="700.5" r="3.7" stroke="#5b8fd2" fill="none" stroke-width="1" opacity="0.85"/>
<circle cx="1198.3" cy="700.5" r="3.7" stroke="#5b8fd2" fill="none" stroke-width="1" opacity="0.85"/>
<circle cx="1209.5" cy="721.0" r="3.7" stroke="#5b8fd2" fill="none" stroke-width="1" opacity="0.85"/>
<circle cx="1198.3" cy="732.1" r="3.7" stroke="#5b8fd2" fill="none" stroke-width="1" opacity="0.85"/>
<circle cx="1190.9" cy="735.9" r="3.7" stroke="#5b8fd2" fill="none" stroke-width="1" opacity="0.85"/>
<circle cx="1179.7" cy="765.7" r="3.7" stroke="#5b8fd2" fill="none" stroke-width="1" opacity="0.85"/>
<circle cx="1164.8" cy="761.9" r="3.7" stroke="#5b8fd2" fill="none" stroke-width="1" opacity="0.85"/>
<circle cx="1161.0" cy="784.3" r="3.7" stroke="#5b8fd2" fill="none" stroke-width="1" opacity="0.85"/>
<circle cx="1142.4" cy="799.2" r="3.7" stroke="#5b8fd2" fill="none" stroke-width="1" opacity="0.85"/>
<circle cx="1127.5" cy="806.6" r="3.7" stroke="#5b8fd2" fill="none" stroke-width="1" opacity="0.85"/>
<circle cx="1199.9" cy="700.9" r="3.7" stroke="#5b8fd2" fill="none" stroke-width="1" opacity="0.85"/>
<circle cx="1214.2" cy="699.8" r="3.7" stroke="#5b8fd2" fill="none" stroke-width="1" opacity="0.85"/>
<circle cx="1210.1" cy="706.9" r="3.7" stroke="#5b8fd2" fill="none" stroke-width="1" opacity="0.85"/>
<circle cx="1194.9" cy="724.5" r="3.7" stroke="#5b8fd2" fill="none" stroke-width="1" opacity="0.85"/>
<circle cx="1204.5" cy="722.9" r="3.7" stroke="#5b8fd2" fill="none" stroke-width="1" opacity="0.85"/>
<circle cx="1209.5" cy="723.5" r="3.7" stroke="#5b8fd2" fill="none" stroke-width="1" opacity="0.85"/>
<circle cx="1189.5" cy="732.6" r="3.7" stroke="#5b8fd2" fill="none" stroke-width="1" opacity="0.85"/>
<circle cx="1194.5" cy="737.6" r="3.7" stroke="#5b8fd2" fill="none" stroke-width="1" opacity="0.85"/>
<circle cx="1201.5" cy="734.6" r="3.7" stroke="#5b8fd2" fill="none" stroke-width="1" opacity="0.85"/>
<circle cx="1176.7" cy="739.2" r="3.7" stroke="#5b8fd2" fill="none" stroke-width="1" opacity="0.85"/>
<circle cx="1173.3" cy="756.3" r="3.7" stroke="#5b8fd2" fill="none" stroke-width="1" opacity="0.85"/>
<circle cx="1186.9" cy="763.1" r="3.7" stroke="#5b8fd2" fill="none" stroke-width="1" opacity="0.85"/>
<circle cx="965.2" cy="852.2" r="3.7" stroke="#5b8fd2" fill="none" stroke-width="1" opacity="0.85"/>
<circle cx="975.6" cy="850.9" r="3.7" stroke="#5b8fd2" fill="none" stroke-width="1" opacity="0.85"/>
<circle cx="991.3" cy="840.4" r="3.7" stroke="#5b8fd2" fill="none" stroke-width="1" opacity="0.85"/>
<circle cx="1013.4" cy="839.1" r="3.7" stroke="#5b8fd2" fill="none" stroke-width="1" opacity="0.85"/>
<circle cx="1017.4" cy="840.4" r="3.7" stroke="#5b8fd2" fill="none" stroke-width="1" opacity="0.85"/>
<circle cx="978.2" cy="845.6" r="3.7" stroke="#5b8fd2" fill="none" stroke-width="1" opacity="0.85"/>
<circle cx="987.4" cy="854.8" r="3.7" stroke="#5b8fd2" fill="none" stroke-width="1" opacity="0.85"/>
<circle cx="971.7" cy="867.8" r="3.7" stroke="#5b8fd2" fill="none" stroke-width="1" opacity="0.85"/>
<circle cx="963.9" cy="876.9" r="3.7" stroke="#5b8fd2" fill="none" stroke-width="1" opacity="0.85"/>
<circle cx="945.6" cy="881.5" r="3.7" stroke="#5b8fd2" fill="none" stroke-width="1" opacity="0.85"/>
<circle cx="933.9" cy="876.9" r="3.7" stroke="#5b8fd2" fill="none" stroke-width="1" opacity="0.85"/>
<circle cx="917.0" cy="878.2" r="3.7" stroke="#5b8fd2" fill="none" stroke-width="1" opacity="0.85"/>
<circle cx="900.0" cy="886.0" r="3.7" stroke="#5b8fd2" fill="none" stroke-width="1" opacity="0.85"/>
<circle cx="1020.0" cy="865.2" r="3.7" stroke="#5b8fd2" fill="none" stroke-width="1" opacity="0.85"/>
<circle cx="962.6" cy="860.0" r="3.7" stroke="#5b8fd2" fill="none" stroke-width="1" opacity="0.85"/>
<circle cx="1004.3" cy="869.1" r="3.7" stroke="#5b8fd2" fill="none" stroke-width="1" opacity="0.85"/>
<circle cx="990.5" cy="841.5" r="3.7" stroke="#5b8fd2" fill="none" stroke-width="1" opacity="0.85"/>
<circle cx="985.6" cy="845.4" r="3.7" stroke="#5b8fd2" fill="none" stroke-width="1" opacity="0.85"/>
<circle cx="980.7" cy="847.4" r="3.7" stroke="#5b8fd2" fill="none" stroke-width="1" opacity="0.85"/>
<circle cx="975.8" cy="850.3" r="3.7" stroke="#5b8fd2" fill="none" stroke-width="1" opacity="0.85"/>
<circle cx="966.1" cy="852.3" r="3.7" stroke="#5b8fd2" fill="none" stroke-width="1" opacity="0.85"/>
<circle cx="971.0" cy="868.9" r="3.7" stroke="#5b8fd2" fill="none" stroke-width="1" opacity="0.85"/>
<circle cx="964.1" cy="877.7" r="3.7" stroke="#5b8fd2" fill="none" stroke-width="1" opacity="0.85"/>
<circle cx="924.0" cy="886.5" r="3.7" stroke="#5b8fd2" fill="none" stroke-width="1" opacity="0.85"/>
<circle cx="897.6" cy="886.5" r="3.7" stroke="#5b8fd2" fill="none" stroke-width="1" opacity="0.85"/>
<circle cx="989.5" cy="884.5" r="3.7" stroke="#5b8fd2" fill="none" stroke-width="1" opacity="0.85"/>
<circle cx="1000.0" cy="848.0" r="3.7" stroke="#5b8fd2" fill="none" stroke-width="1" opacity="0.85"/>
<circle cx="1008.0" cy="846.0" r="3.7" stroke="#5b8fd2" fill="none" stroke-width="1" opacity="0.85"/>
<circle cx="1025.0" cy="845.0" r="3.7" stroke="#5b8fd2" fill="none" stroke-width="1" opacity="0.85"/>
<circle cx="1035.0" cy="843.0" r="3.7" stroke="#5b8fd2" fill="none" stroke-width="1" opacity="0.85"/>
<circle cx="1203.2" cy="734.0" r="3.7" stroke="#5b8fd2" fill="none" stroke-width="1" opacity="0.85"/>
<circle cx="1156.0" cy="789.8" r="3.7" stroke="#5b8fd2" fill="none" stroke-width="1" opacity="0.85"/>
<circle cx="1161.0" cy="779.5" r="3.7" stroke="#5b8fd2" fill="none" stroke-width="1" opacity="0.85"/>
<circle cx="1207.6" cy="717.2" r="3.7" stroke="#5b8fd2" fill="none" stroke-width="1" opacity="0.85"/>
<circle cx="1194.8" cy="718.2" r="3.7" stroke="#5b8fd2" fill="none" stroke-width="1" opacity="0.85"/>
<circle cx="1202.1" cy="709.1" r="3.7" stroke="#5b8fd2" fill="none" stroke-width="1" opacity="0.85"/>
<circle cx="1179.1" cy="747.6" r="3.7" stroke="#5b8fd2" fill="none" stroke-width="1" opacity="0.85"/>
<circle cx="1207.6" cy="713.4" r="3.7" stroke="#5b8fd2" fill="none" stroke-width="1" opacity="0.85"/>
<circle cx="1201.0" cy="732.2" r="3.7" stroke="#5b8fd2" fill="none" stroke-width="1" opacity="0.85"/>
<circle cx="1181.4" cy="755.6" r="3.7" stroke="#5b8fd2" fill="none" stroke-width="1" opacity="0.85"/>
<circle cx="1204.4" cy="713.5" r="3.7" stroke="#5b8fd2" fill="none" stroke-width="1" opacity="0.85"/>
<circle cx="1200.2" cy="722.6" r="3.7" stroke="#5b8fd2" fill="none" stroke-width="1" opacity="0.85"/>
<circle cx="1181.1" cy="734.5" r="3.7" stroke="#5b8fd2" fill="none" stroke-width="1" opacity="0.85"/>
<circle cx="1196.9" cy="733.6" r="3.7" stroke="#5b8fd2" fill="none" stroke-width="1" opacity="0.85"/>
<circle cx="1198.0" cy="741.1" r="3.7" stroke="#5b8fd2" fill="none" stroke-width="1" opacity="0.85"/>
<circle cx="1162.3" cy="770.0" r="3.7" stroke="#5b8fd2" fill="none" stroke-width="1" opacity="0.85"/>
<rect x="999.1" y="869.7" width="7" height="7" stroke="#b8b818" fill="#f2f2a0" stroke-width="1" opacity="0.95"/>
<rect x="1004.6" y="873.3" width="7" height="7" stroke="#b8b818" fill="#f2f2a0" stroke-width="1" opacity="0.95"/>
<rect x="1010.4" y="871.1" width="7" height="7" stroke="#b8b818" fill="#f2f2a0" stroke-width="1" opacity="0.95"/>
<rect x="1013.4" y="868.4" width="7" height="7" stroke="#b8b818" fill="#f2f2a0" stroke-width="1" opacity="0.95"/>
<rect x="1018.7" y="861.2" width="7" height="7" stroke="#b8b818" fill="#f2f2a0" stroke-width="1" opacity="0.95"/>
<rect x="1019.9" y="854.9" width="7" height="7" stroke="#b8b818" fill="#f2f2a0" stroke-width="1" opacity="0.95"/>
<rect x="1023.6" y="850.2" width="7" height="7" stroke="#b8b818" fill="#f2f2a0" stroke-width="1" opacity="0.95"/>
<rect x="1024.9" y="841.9" width="7" height="7" stroke="#b8b818" fill="#f2f2a0" stroke-width="1" opacity="0.95"/>
<rect x="1031.7" y="839.3" width="7" height="7" stroke="#b8b818" fill="#f2f2a0" stroke-width="1" opacity="0.95"/>
<rect x="1036.5" y="834.7" width="7" height="7" stroke="#b8b818" fill="#f2f2a0" stroke-width="1" opacity="0.95"/>
<rect x="1043.4" y="831.5" width="7" height="7" stroke="#b8b818" fill="#f2f2a0" stroke-width="1" opacity="0.95"/>
<rect x="1046.0" y="826.6" width="7" height="7" stroke="#b8b818" fill="#f2f2a0" stroke-width="1" opacity="0.95"/>
<rect x="1054.6" y="824.2" width="7" height="7" stroke="#b8b818" fill="#f2f2a0" stroke-width="1" opacity="0.95"/>
<rect x="1060.1" y="818.9" width="7" height="7" stroke="#b8b818" fill="#f2f2a0" stroke-width="1" opacity="0.95"/>
<rect x="1066.5" y="817.6" width="7" height="7" stroke="#b8b818" fill="#f2f2a0" stroke-width="1" opacity="0.95"/>
<rect x="1069.7" y="812.6" width="7" height="7" stroke="#b8b818" fill="#f2f2a0" stroke-width="1" opacity="0.95"/>
<rect x="1074.3" y="807.5" width="7" height="7" stroke="#b8b818" fill="#f2f2a0" stroke-width="1" opacity="0.95"/>
<rect x="1076.8" y="801.8" width="7" height="7" stroke="#b8b818" fill="#f2f2a0" stroke-width="1" opacity="0.95"/>
<rect x="1085.4" y="797.9" width="7" height="7" stroke="#b8b818" fill="#f2f2a0" stroke-width="1" opacity="0.95"/>
<rect x="1087.4" y="793.6" width="7" height="7" stroke="#b8b818" fill="#f2f2a0" stroke-width="1" opacity="0.95"/>
<rect x="1094.5" y="787.8" width="7" height="7" stroke="#b8b818" fill="#f2f2a0" stroke-width="1" opacity="0.95"/>
<rect x="1098.1" y="781.9" width="7" height="7" stroke="#b8b818" fill="#f2f2a0" stroke-width="1" opacity="0.95"/>
<rect x="1099.3" y="779.3" width="7" height="7" stroke="#b8b818" fill="#f2f2a0" stroke-width="1" opacity="0.95"/>
<rect x="1104.5" y="773.0" width="7" height="7" stroke="#b8b818" fill="#f2f2a0" stroke-width="1" opacity="0.95"/>
<rect x="1110.5" y="768.5" width="7" height="7" stroke="#b8b818" fill="#f2f2a0" stroke-width="1" opacity="0.95"/>
<rect x="1112.5" y="762.4" width="7" height="7" stroke="#b8b818" fill="#f2f2a0" stroke-width="1" opacity="0.95"/>
<rect x="1116.0" y="753.8" width="7" height="7" stroke="#b8b818" fill="#f2f2a0" stroke-width="1" opacity="0.95"/>
<rect x="1118.9" y="750.2" width="7" height="7" stroke="#b8b818" fill="#f2f2a0" stroke-width="1" opacity="0.95"/>
<rect x="1122.1" y="747.1" width="7" height="7" stroke="#b8b818" fill="#f2f2a0" stroke-width="1" opacity="0.95"/>
<rect x="1128.2" y="739.2" width="7" height="7" stroke="#b8b818" fill="#f2f2a0" stroke-width="1" opacity="0.95"/>
<rect x="1130.3" y="733.0" width="7" height="7" stroke="#b8b818" fill="#f2f2a0" stroke-width="1" opacity="0.95"/>
<rect x="1132.4" y="724.6" width="7" height="7" stroke="#b8b818" fill="#f2f2a0" stroke-width="1" opacity="0.95"/>
<rect x="1134.9" y="720.6" width="7" height="7" stroke="#b8b818" fill="#f2f2a0" stroke-width="1" opacity="0.95"/>
<rect x="1139.0" y="714.3" width="7" height="7" stroke="#b8b818" fill="#f2f2a0" stroke-width="1" opacity="0.95"/>
<rect x="956.5" y="866.3" width="7" height="7" stroke="#b8b818" fill="#f2f2a0" stroke-width="1" opacity="0.95"/>
<rect x="986.5" y="846.0" width="7" height="7" stroke="#b8b818" fill="#f2f2a0" stroke-width="1" opacity="0.95"/>
<rect x="1000.8" y="874.7" width="7" height="7" stroke="#b8b818" fill="#f2f2a0" stroke-width="1" opacity="0.95"/>
<rect x="1012.5" y="873.4" width="7" height="7" stroke="#b8b818" fill="#f2f2a0" stroke-width="1" opacity="0.95"/>
<rect x="1020.4" y="856.5" width="7" height="7" stroke="#b8b818" fill="#f2f2a0" stroke-width="1" opacity="0.95"/>
<rect x="1056.9" y="860.2" width="7" height="7" stroke="#b8b818" fill="#f2f2a0" stroke-width="1" opacity="0.95"/>
<rect x="903.9" y="878.1" width="7" height="7" stroke="#b8b818" fill="#f2f2a0" stroke-width="1" opacity="0.95"/>
<rect x="913.7" y="885.0" width="7" height="7" stroke="#b8b818" fill="#f2f2a0" stroke-width="1" opacity="0.95"/>
<rect x="935.2" y="883.0" width="7" height="7" stroke="#b8b818" fill="#f2f2a0" stroke-width="1" opacity="0.95"/>
<rect x="955.7" y="866.4" width="7" height="7" stroke="#b8b818" fill="#f2f2a0" stroke-width="1" opacity="0.95"/>
<rect x="988.0" y="845.8" width="7" height="7" stroke="#b8b818" fill="#f2f2a0" stroke-width="1" opacity="0.95"/>
<rect x="995.8" y="862.5" width="7" height="7" stroke="#b8b818" fill="#f2f2a0" stroke-width="1" opacity="0.95"/>
<rect x="941.5" y="892.0" width="7" height="7" stroke="#b8b818" fill="#f2f2a0" stroke-width="1" opacity="0.95"/>
<rect x="951.5" y="892.0" width="7" height="7" stroke="#b8b818" fill="#f2f2a0" stroke-width="1" opacity="0.95"/>
<rect x="961.5" y="892.0" width="7" height="7" stroke="#b8b818" fill="#f2f2a0" stroke-width="1" opacity="0.95"/>
<rect x="971.5" y="892.5" width="7" height="7" stroke="#b8b818" fill="#f2f2a0" stroke-width="1" opacity="0.95"/>
<rect x="1004.5" y="862.5" width="7" height="7" stroke="#b8b818" fill="#f2f2a0" stroke-width="1" opacity="0.95"/>
<rect x="1036.5" y="834.5" width="7" height="7" stroke="#b8b818" fill="#f2f2a0" stroke-width="1" opacity="0.95"/>
<rect x="1040.5" y="830.5" width="7" height="7" stroke="#b8b818" fill="#f2f2a0" stroke-width="1" opacity="0.95"/>
<rect x="1052.5" y="825.5" width="7" height="7" stroke="#b8b818" fill="#f2f2a0" stroke-width="1" opacity="0.95"/>
<circle cx="858.9" cy="879.2" r="3.8" stroke="#8a62be" fill="none" stroke-width="1" opacity="0.9"/>
<circle cx="866.3" cy="878.0" r="3.8" stroke="#8a62be" fill="none" stroke-width="1" opacity="0.9"/>
<circle cx="868.8" cy="876.4" r="3.8" stroke="#8a62be" fill="none" stroke-width="1" opacity="0.9"/>
<circle cx="875.9" cy="876.8" r="3.8" stroke="#8a62be" fill="none" stroke-width="1" opacity="0.9"/>
<circle cx="881.4" cy="875.8" r="3.8" stroke="#8a62be" fill="none" stroke-width="1" opacity="0.9"/>
<circle cx="885.8" cy="873.6" r="3.8" stroke="#8a62be" fill="none" stroke-width="1" opacity="0.9"/>
<circle cx="891.3" cy="874.2" r="3.8" stroke="#8a62be" fill="none" stroke-width="1" opacity="0.9"/>
<circle cx="895.7" cy="871.7" r="3.8" stroke="#8a62be" fill="none" stroke-width="1" opacity="0.9"/>
<circle cx="900.9" cy="872.3" r="3.8" stroke="#8a62be" fill="none" stroke-width="1" opacity="0.9"/>
<circle cx="908.3" cy="869.3" r="3.8" stroke="#8a62be" fill="none" stroke-width="1" opacity="0.9"/>
<circle cx="913.6" cy="869.5" r="3.8" stroke="#8a62be" fill="none" stroke-width="1" opacity="0.9"/>
<circle cx="918.1" cy="868.1" r="3.8" stroke="#8a62be" fill="none" stroke-width="1" opacity="0.9"/>
<circle cx="923.4" cy="866.6" r="3.8" stroke="#8a62be" fill="none" stroke-width="1" opacity="0.9"/>
<circle cx="927.4" cy="865.0" r="3.8" stroke="#8a62be" fill="none" stroke-width="1" opacity="0.9"/>
<circle cx="934.6" cy="864.8" r="3.8" stroke="#8a62be" fill="none" stroke-width="1" opacity="0.9"/>
<circle cx="941.1" cy="864.7" r="3.8" stroke="#8a62be" fill="none" stroke-width="1" opacity="0.9"/>
<circle cx="945.0" cy="861.0" r="3.8" stroke="#8a62be" fill="none" stroke-width="1" opacity="0.9"/>
<circle cx="949.4" cy="861.7" r="3.8" stroke="#8a62be" fill="none" stroke-width="1" opacity="0.9"/>
<circle cx="956.8" cy="860.9" r="3.8" stroke="#8a62be" fill="none" stroke-width="1" opacity="0.9"/>
<circle cx="959.3" cy="860.2" r="3.8" stroke="#8a62be" fill="none" stroke-width="1" opacity="0.9"/>
<circle cx="966.6" cy="859.5" r="3.8" stroke="#8a62be" fill="none" stroke-width="1" opacity="0.9"/>
<circle cx="972.2" cy="856.7" r="3.8" stroke="#8a62be" fill="none" stroke-width="1" opacity="0.9"/>
<circle cx="976.3" cy="856.8" r="3.8" stroke="#8a62be" fill="none" stroke-width="1" opacity="0.9"/>
<circle cx="982.4" cy="855.1" r="3.8" stroke="#8a62be" fill="none" stroke-width="1" opacity="0.9"/>
<circle cx="987.8" cy="855.7" r="3.8" stroke="#8a62be" fill="none" stroke-width="1" opacity="0.9"/>
<circle cx="990.6" cy="854.9" r="3.8" stroke="#8a62be" fill="none" stroke-width="1" opacity="0.9"/>
<circle cx="997.9" cy="853.2" r="3.8" stroke="#8a62be" fill="none" stroke-width="1" opacity="0.9"/>
<circle cx="1002.7" cy="853.5" r="3.8" stroke="#8a62be" fill="none" stroke-width="1" opacity="0.9"/>
<circle cx="1009.8" cy="852.9" r="3.8" stroke="#8a62be" fill="none" stroke-width="1" opacity="0.9"/>
<circle cx="1012.5" cy="851.5" r="3.8" stroke="#8a62be" fill="none" stroke-width="1" opacity="0.9"/>
<circle cx="1019.2" cy="849.5" r="3.8" stroke="#8a62be" fill="none" stroke-width="1" opacity="0.9"/>
<circle cx="1024.5" cy="850.6" r="3.8" stroke="#8a62be" fill="none" stroke-width="1" opacity="0.9"/>
<circle cx="1029.5" cy="849.8" r="3.8" stroke="#8a62be" fill="none" stroke-width="1" opacity="0.9"/>
<circle cx="1035.5" cy="849.5" r="3.8" stroke="#8a62be" fill="none" stroke-width="1" opacity="0.9"/>
<circle cx="1039.7" cy="850.1" r="3.8" stroke="#8a62be" fill="none" stroke-width="1" opacity="0.9"/>
<circle cx="1046.6" cy="849.2" r="3.8" stroke="#8a62be" fill="none" stroke-width="1" opacity="0.9"/>
<circle cx="1051.0" cy="849.6" r="3.8" stroke="#8a62be" fill="none" stroke-width="1" opacity="0.9"/>
<circle cx="1056.9" cy="848.0" r="3.8" stroke="#8a62be" fill="none" stroke-width="1" opacity="0.9"/>
<circle cx="1062.7" cy="847.6" r="3.8" stroke="#8a62be" fill="none" stroke-width="1" opacity="0.9"/>
<circle cx="1066.3" cy="845.0" r="3.8" stroke="#8a62be" fill="none" stroke-width="1" opacity="0.9"/>
<circle cx="1073.8" cy="844.2" r="3.8" stroke="#8a62be" fill="none" stroke-width="1" opacity="0.9"/>
<circle cx="1076.1" cy="843.4" r="3.8" stroke="#8a62be" fill="none" stroke-width="1" opacity="0.9"/>
<circle cx="1083.0" cy="843.3" r="3.8" stroke="#8a62be" fill="none" stroke-width="1" opacity="0.9"/>
<circle cx="1089.7" cy="841.3" r="3.8" stroke="#8a62be" fill="none" stroke-width="1" opacity="0.9"/>
<circle cx="1091.6" cy="839.0" r="3.8" stroke="#8a62be" fill="none" stroke-width="1" opacity="0.9"/>
<circle cx="1098.8" cy="838.9" r="3.8" stroke="#8a62be" fill="none" stroke-width="1" opacity="0.9"/>
<circle cx="1103.2" cy="835.2" r="3.8" stroke="#8a62be" fill="none" stroke-width="1" opacity="0.9"/>
<circle cx="1108.1" cy="833.0" r="3.8" stroke="#8a62be" fill="none" stroke-width="1" opacity="0.9"/>
<circle cx="1112.6" cy="834.0" r="3.8" stroke="#8a62be" fill="none" stroke-width="1" opacity="0.9"/>
<circle cx="1119.6" cy="829.3" r="3.8" stroke="#8a62be" fill="none" stroke-width="1" opacity="0.9"/>
<circle cx="1122.1" cy="828.1" r="3.8" stroke="#8a62be" fill="none" stroke-width="1" opacity="0.9"/>
<circle cx="1128.5" cy="825.4" r="3.8" stroke="#8a62be" fill="none" stroke-width="1" opacity="0.9"/>
<circle cx="1131.2" cy="822.5" r="3.8" stroke="#8a62be" fill="none" stroke-width="1" opacity="0.9"/>
<circle cx="1136.9" cy="821.1" r="3.8" stroke="#8a62be" fill="none" stroke-width="1" opacity="0.9"/>
<circle cx="1140.2" cy="818.4" r="3.8" stroke="#8a62be" fill="none" stroke-width="1" opacity="0.9"/>
<circle cx="907.4" cy="886.5" r="3.8" stroke="#8a62be" fill="none" stroke-width="1" opacity="0.9"/>
<circle cx="917.2" cy="878.7" r="3.8" stroke="#8a62be" fill="none" stroke-width="1" opacity="0.9"/>
<circle cx="995.4" cy="872.8" r="3.8" stroke="#8a62be" fill="none" stroke-width="1" opacity="0.9"/>
<circle cx="1060.7" cy="812.6" r="3.8" stroke="#8a62be" fill="none" stroke-width="1" opacity="0.9"/>
<circle cx="930.0" cy="884.0" r="3.8" stroke="#8a62be" fill="none" stroke-width="1" opacity="0.9"/>
<circle cx="945.0" cy="879.0" r="3.8" stroke="#8a62be" fill="none" stroke-width="1" opacity="0.9"/>
<circle cx="955.0" cy="873.0" r="3.8" stroke="#8a62be" fill="none" stroke-width="1" opacity="0.9"/>
<circle cx="985.0" cy="866.0" r="3.8" stroke="#8a62be" fill="none" stroke-width="1" opacity="0.9"/>
<circle cx="1005.0" cy="862.0" r="3.8" stroke="#8a62be" fill="none" stroke-width="1" opacity="0.9"/>
<circle cx="1020.0" cy="858.0" r="3.8" stroke="#8a62be" fill="none" stroke-width="1" opacity="0.9"/>
<circle cx="1040.0" cy="856.0" r="3.8" stroke="#8a62be" fill="none" stroke-width="1" opacity="0.9"/>
<rect x="880.0" y="891.7" width="7" height="7" stroke="#3a74e0" fill="#c4d6f6" stroke-width="1" opacity="0.9"/>
<rect x="883.1" y="891.9" width="7" height="7" stroke="#3a74e0" fill="#c4d6f6" stroke-width="1" opacity="0.9"/>
<rect x="886.4" y="890.3" width="7" height="7" stroke="#3a74e0" fill="#c4d6f6" stroke-width="1" opacity="0.9"/>
<rect x="889.3" y="891.9" width="7" height="7" stroke="#3a74e0" fill="#c4d6f6" stroke-width="1" opacity="0.9"/>
<rect x="892.1" y="891.0" width="7" height="7" stroke="#3a74e0" fill="#c4d6f6" stroke-width="1" opacity="0.9"/>
<rect x="896.5" y="889.8" width="7" height="7" stroke="#3a74e0" fill="#c4d6f6" stroke-width="1" opacity="0.9"/>
<rect x="899.0" y="890.4" width="7" height="7" stroke="#3a74e0" fill="#c4d6f6" stroke-width="1" opacity="0.9"/>
<rect x="903.2" y="890.1" width="7" height="7" stroke="#3a74e0" fill="#c4d6f6" stroke-width="1" opacity="0.9"/>
<rect x="905.5" y="889.6" width="7" height="7" stroke="#3a74e0" fill="#c4d6f6" stroke-width="1" opacity="0.9"/>
<rect x="907.0" y="890.8" width="7" height="7" stroke="#3a74e0" fill="#c4d6f6" stroke-width="1" opacity="0.9"/>
<rect x="911.8" y="890.7" width="7" height="7" stroke="#3a74e0" fill="#c4d6f6" stroke-width="1" opacity="0.9"/>
<rect x="912.0" y="891.1" width="7" height="7" stroke="#3a74e0" fill="#c4d6f6" stroke-width="1" opacity="0.9"/>
<rect x="917.7" y="889.9" width="7" height="7" stroke="#3a74e0" fill="#c4d6f6" stroke-width="1" opacity="0.9"/>
<rect x="922.2" y="890.1" width="7" height="7" stroke="#3a74e0" fill="#c4d6f6" stroke-width="1" opacity="0.9"/>
<rect x="923.6" y="888.3" width="7" height="7" stroke="#3a74e0" fill="#c4d6f6" stroke-width="1" opacity="0.9"/>
<rect x="926.4" y="889.6" width="7" height="7" stroke="#3a74e0" fill="#c4d6f6" stroke-width="1" opacity="0.9"/>
<rect x="927.9" y="888.9" width="7" height="7" stroke="#3a74e0" fill="#c4d6f6" stroke-width="1" opacity="0.9"/>
<rect x="932.2" y="887.8" width="7" height="7" stroke="#3a74e0" fill="#c4d6f6" stroke-width="1" opacity="0.9"/>
<rect x="936.5" y="887.9" width="7" height="7" stroke="#3a74e0" fill="#c4d6f6" stroke-width="1" opacity="0.9"/>
<rect x="937.5" y="886.9" width="7" height="7" stroke="#3a74e0" fill="#c4d6f6" stroke-width="1" opacity="0.9"/>
<rect x="942.2" y="887.8" width="7" height="7" stroke="#3a74e0" fill="#c4d6f6" stroke-width="1" opacity="0.9"/>
<rect x="943.4" y="886.2" width="7" height="7" stroke="#3a74e0" fill="#c4d6f6" stroke-width="1" opacity="0.9"/>
<rect x="948.2" y="887.6" width="7" height="7" stroke="#3a74e0" fill="#c4d6f6" stroke-width="1" opacity="0.9"/>
<rect x="951.5" y="885.6" width="7" height="7" stroke="#3a74e0" fill="#c4d6f6" stroke-width="1" opacity="0.9"/>
<rect x="954.6" y="885.1" width="7" height="7" stroke="#3a74e0" fill="#c4d6f6" stroke-width="1" opacity="0.9"/>
<rect x="957.3" y="885.2" width="7" height="7" stroke="#3a74e0" fill="#c4d6f6" stroke-width="1" opacity="0.9"/>
<rect x="960.9" y="885.6" width="7" height="7" stroke="#3a74e0" fill="#c4d6f6" stroke-width="1" opacity="0.9"/>
<rect x="964.2" y="883.9" width="7" height="7" stroke="#3a74e0" fill="#c4d6f6" stroke-width="1" opacity="0.9"/>
<rect x="965.9" y="883.2" width="7" height="7" stroke="#3a74e0" fill="#c4d6f6" stroke-width="1" opacity="0.9"/>
<rect x="970.8" y="882.2" width="7" height="7" stroke="#3a74e0" fill="#c4d6f6" stroke-width="1" opacity="0.9"/>
<rect x="972.2" y="881.3" width="7" height="7" stroke="#3a74e0" fill="#c4d6f6" stroke-width="1" opacity="0.9"/>
<rect x="974.0" y="881.1" width="7" height="7" stroke="#3a74e0" fill="#c4d6f6" stroke-width="1" opacity="0.9"/>
<rect x="978.3" y="879.6" width="7" height="7" stroke="#3a74e0" fill="#c4d6f6" stroke-width="1" opacity="0.9"/>
<rect x="980.3" y="878.2" width="7" height="7" stroke="#3a74e0" fill="#c4d6f6" stroke-width="1" opacity="0.9"/>
<rect x="983.2" y="876.2" width="7" height="7" stroke="#3a74e0" fill="#c4d6f6" stroke-width="1" opacity="0.9"/>
<rect x="986.1" y="877.4" width="7" height="7" stroke="#3a74e0" fill="#c4d6f6" stroke-width="1" opacity="0.9"/>
<rect x="897.0" y="888.7" width="7" height="7" stroke="#3a74e0" fill="#c4d6f6" stroke-width="1" opacity="0.9"/>
<rect x="901.3" y="888.5" width="7" height="7" stroke="#3a74e0" fill="#c4d6f6" stroke-width="1" opacity="0.9"/>
<rect x="904.2" y="888.5" width="7" height="7" stroke="#3a74e0" fill="#c4d6f6" stroke-width="1" opacity="0.9"/>
<rect x="909.1" y="889.9" width="7" height="7" stroke="#3a74e0" fill="#c4d6f6" stroke-width="1" opacity="0.9"/>
<rect x="913.0" y="888.0" width="7" height="7" stroke="#3a74e0" fill="#c4d6f6" stroke-width="1" opacity="0.9"/>
<rect x="917.5" y="886.5" width="7" height="7" stroke="#3a74e0" fill="#c4d6f6" stroke-width="1" opacity="0.9"/>
<rect x="922.3" y="889.0" width="7" height="7" stroke="#3a74e0" fill="#c4d6f6" stroke-width="1" opacity="0.9"/>
<rect x="925.0" y="886.6" width="7" height="7" stroke="#3a74e0" fill="#c4d6f6" stroke-width="1" opacity="0.9"/>
<rect x="929.4" y="887.0" width="7" height="7" stroke="#3a74e0" fill="#c4d6f6" stroke-width="1" opacity="0.9"/>
<rect x="932.7" y="884.6" width="7" height="7" stroke="#3a74e0" fill="#c4d6f6" stroke-width="1" opacity="0.9"/>
<rect x="937.3" y="884.9" width="7" height="7" stroke="#3a74e0" fill="#c4d6f6" stroke-width="1" opacity="0.9"/>
<rect x="942.7" y="884.8" width="7" height="7" stroke="#3a74e0" fill="#c4d6f6" stroke-width="1" opacity="0.9"/>
<rect x="945.5" y="884.5" width="7" height="7" stroke="#3a74e0" fill="#c4d6f6" stroke-width="1" opacity="0.9"/>
<rect x="948.6" y="883.0" width="7" height="7" stroke="#3a74e0" fill="#c4d6f6" stroke-width="1" opacity="0.9"/>
<rect x="955.3" y="884.3" width="7" height="7" stroke="#3a74e0" fill="#c4d6f6" stroke-width="1" opacity="0.9"/>
<rect x="956.5" y="882.6" width="7" height="7" stroke="#3a74e0" fill="#c4d6f6" stroke-width="1" opacity="0.9"/>
<rect x="961.4" y="882.2" width="7" height="7" stroke="#3a74e0" fill="#c4d6f6" stroke-width="1" opacity="0.9"/>
<rect x="966.5" y="880.3" width="7" height="7" stroke="#3a74e0" fill="#c4d6f6" stroke-width="1" opacity="0.9"/>
<rect x="970.6" y="879.4" width="7" height="7" stroke="#3a74e0" fill="#c4d6f6" stroke-width="1" opacity="0.9"/>
<rect x="974.0" y="880.4" width="7" height="7" stroke="#3a74e0" fill="#c4d6f6" stroke-width="1" opacity="0.9"/>
<rect x="978.1" y="877.9" width="7" height="7" stroke="#3a74e0" fill="#c4d6f6" stroke-width="1" opacity="0.9"/>
<rect x="982.8" y="876.0" width="7" height="7" stroke="#3a74e0" fill="#c4d6f6" stroke-width="1" opacity="0.9"/>
<circle cx="815.3" cy="883.2" r="4.0" stroke="#60b060" fill="#d6e4f4" stroke-width="1" opacity="0.9"/>
<circle cx="817.8" cy="882.9" r="4.0" stroke="#60b060" fill="#d6e4f4" stroke-width="1" opacity="0.9"/>
<circle cx="822.4" cy="881.5" r="4.0" stroke="#60b060" fill="#d6e4f4" stroke-width="1" opacity="0.9"/>
<circle cx="824.8" cy="882.1" r="4.0" stroke="#60b060" fill="#d6e4f4" stroke-width="1" opacity="0.9"/>
<circle cx="829.3" cy="881.7" r="4.0" stroke="#60b060" fill="#d6e4f4" stroke-width="1" opacity="0.9"/>
<circle cx="833.8" cy="883.0" r="4.0" stroke="#60b060" fill="#d6e4f4" stroke-width="1" opacity="0.9"/>
<circle cx="836.3" cy="881.2" r="4.0" stroke="#60b060" fill="#d6e4f4" stroke-width="1" opacity="0.9"/>
<circle cx="839.8" cy="881.3" r="4.0" stroke="#60b060" fill="#d6e4f4" stroke-width="1" opacity="0.9"/>
<circle cx="842.6" cy="880.9" r="4.0" stroke="#60b060" fill="#d6e4f4" stroke-width="1" opacity="0.9"/>
<circle cx="846.3" cy="880.1" r="4.0" stroke="#60b060" fill="#d6e4f4" stroke-width="1" opacity="0.9"/>
<circle cx="851.0" cy="879.1" r="4.0" stroke="#60b060" fill="#d6e4f4" stroke-width="1" opacity="0.9"/>
<circle cx="854.5" cy="880.0" r="4.0" stroke="#60b060" fill="#d6e4f4" stroke-width="1" opacity="0.9"/>
<circle cx="857.9" cy="879.0" r="4.0" stroke="#60b060" fill="#d6e4f4" stroke-width="1" opacity="0.9"/>
<circle cx="861.0" cy="878.3" r="4.0" stroke="#60b060" fill="#d6e4f4" stroke-width="1" opacity="0.9"/>
<circle cx="864.3" cy="878.8" r="4.0" stroke="#60b060" fill="#d6e4f4" stroke-width="1" opacity="0.9"/>
<circle cx="868.6" cy="878.2" r="4.0" stroke="#60b060" fill="#d6e4f4" stroke-width="1" opacity="0.9"/>
<circle cx="872.8" cy="877.1" r="4.0" stroke="#60b060" fill="#d6e4f4" stroke-width="1" opacity="0.9"/>
<circle cx="876.2" cy="877.5" r="4.0" stroke="#60b060" fill="#d6e4f4" stroke-width="1" opacity="0.9"/>
<circle cx="880.1" cy="875.1" r="4.0" stroke="#60b060" fill="#d6e4f4" stroke-width="1" opacity="0.9"/>
<circle cx="883.8" cy="876.6" r="4.0" stroke="#60b060" fill="#d6e4f4" stroke-width="1" opacity="0.9"/>
<circle cx="886.7" cy="875.2" r="4.0" stroke="#60b060" fill="#d6e4f4" stroke-width="1" opacity="0.9"/>
<circle cx="890.2" cy="875.0" r="4.0" stroke="#60b060" fill="#d6e4f4" stroke-width="1" opacity="0.9"/>
<circle cx="892.6" cy="874.9" r="4.0" stroke="#60b060" fill="#d6e4f4" stroke-width="1" opacity="0.9"/>
<circle cx="896.5" cy="874.5" r="4.0" stroke="#60b060" fill="#d6e4f4" stroke-width="1" opacity="0.9"/>
<circle cx="900.9" cy="873.2" r="4.0" stroke="#60b060" fill="#d6e4f4" stroke-width="1" opacity="0.9"/>
<circle cx="904.4" cy="871.7" r="4.0" stroke="#60b060" fill="#d6e4f4" stroke-width="1" opacity="0.9"/>
<circle cx="907.1" cy="871.0" r="4.0" stroke="#60b060" fill="#d6e4f4" stroke-width="1" opacity="0.9"/>
<circle cx="911.8" cy="870.4" r="4.0" stroke="#60b060" fill="#d6e4f4" stroke-width="1" opacity="0.9"/>
<circle cx="914.8" cy="869.9" r="4.0" stroke="#60b060" fill="#d6e4f4" stroke-width="1" opacity="0.9"/>
<circle cx="918.0" cy="869.1" r="4.0" stroke="#60b060" fill="#d6e4f4" stroke-width="1" opacity="0.9"/>
<circle cx="922.7" cy="869.4" r="4.0" stroke="#60b060" fill="#d6e4f4" stroke-width="1" opacity="0.9"/>
<circle cx="926.9" cy="867.5" r="4.0" stroke="#60b060" fill="#d6e4f4" stroke-width="1" opacity="0.9"/>
<circle cx="928.4" cy="867.3" r="4.0" stroke="#60b060" fill="#d6e4f4" stroke-width="1" opacity="0.9"/>
<circle cx="931.8" cy="866.7" r="4.0" stroke="#60b060" fill="#d6e4f4" stroke-width="1" opacity="0.9"/>
<circle cx="936.9" cy="866.0" r="4.0" stroke="#60b060" fill="#d6e4f4" stroke-width="1" opacity="0.9"/>
<circle cx="939.4" cy="864.1" r="4.0" stroke="#60b060" fill="#d6e4f4" stroke-width="1" opacity="0.9"/>
<circle cx="943.1" cy="863.9" r="4.0" stroke="#60b060" fill="#d6e4f4" stroke-width="1" opacity="0.9"/>
<circle cx="946.8" cy="863.8" r="4.0" stroke="#60b060" fill="#d6e4f4" stroke-width="1" opacity="0.9"/>
<circle cx="949.1" cy="862.3" r="4.0" stroke="#60b060" fill="#d6e4f4" stroke-width="1" opacity="0.9"/>
<circle cx="953.2" cy="862.4" r="4.0" stroke="#60b060" fill="#d6e4f4" stroke-width="1" opacity="0.9"/>
<circle cx="957.6" cy="860.9" r="4.0" stroke="#60b060" fill="#d6e4f4" stroke-width="1" opacity="0.9"/>
<circle cx="960.5" cy="861.1" r="4.0" stroke="#60b060" fill="#d6e4f4" stroke-width="1" opacity="0.9"/>
<circle cx="963.5" cy="859.7" r="4.0" stroke="#60b060" fill="#d6e4f4" stroke-width="1" opacity="0.9"/>
<circle cx="967.4" cy="859.2" r="4.0" stroke="#60b060" fill="#d6e4f4" stroke-width="1" opacity="0.9"/>
<circle cx="972.1" cy="859.0" r="4.0" stroke="#60b060" fill="#d6e4f4" stroke-width="1" opacity="0.9"/>
<circle cx="974.1" cy="859.0" r="4.0" stroke="#60b060" fill="#d6e4f4" stroke-width="1" opacity="0.9"/>
<circle cx="978.3" cy="857.6" r="4.0" stroke="#60b060" fill="#d6e4f4" stroke-width="1" opacity="0.9"/>
<circle cx="982.7" cy="857.0" r="4.0" stroke="#60b060" fill="#d6e4f4" stroke-width="1" opacity="0.9"/>
<circle cx="995.4" cy="886.5" r="4.0" stroke="#60b060" fill="#d6e4f4" stroke-width="1" opacity="0.9"/>
<circle cx="989.5" cy="858.0" r="4.0" stroke="#60b060" fill="#d6e4f4" stroke-width="1" opacity="0.9"/>
<circle cx="988.0" cy="862.0" r="4.0" stroke="#60b060" fill="#d6e4f4" stroke-width="1" opacity="0.9"/>
<circle cx="972.0" cy="858.0" r="4.0" stroke="#60b060" fill="#d6e4f4" stroke-width="1" opacity="0.9"/>
<rect x="772.6" y="892.3" width="6.5" height="6.5" stroke="#58c4d4" fill="#d4eef2" stroke-width="1" opacity="0.9"/>
<rect x="775.5" y="892.5" width="6.5" height="6.5" stroke="#58c4d4" fill="#d4eef2" stroke-width="1" opacity="0.9"/>
<rect x="778.4" y="892.8" width="6.5" height="6.5" stroke="#58c4d4" fill="#d4eef2" stroke-width="1" opacity="0.9"/>
<rect x="781.3" y="892.8" width="6.5" height="6.5" stroke="#58c4d4" fill="#d4eef2" stroke-width="1" opacity="0.9"/>
<rect x="784.2" y="892.5" width="6.5" height="6.5" stroke="#58c4d4" fill="#d4eef2" stroke-width="1" opacity="0.9"/>
<rect x="787.1" y="892.2" width="6.5" height="6.5" stroke="#58c4d4" fill="#d4eef2" stroke-width="1" opacity="0.9"/>
<rect x="790.0" y="892.8" width="6.5" height="6.5" stroke="#58c4d4" fill="#d4eef2" stroke-width="1" opacity="0.9"/>
<rect x="792.9" y="892.1" width="6.5" height="6.5" stroke="#58c4d4" fill="#d4eef2" stroke-width="1" opacity="0.9"/>
<rect x="795.8" y="892.5" width="6.5" height="6.5" stroke="#58c4d4" fill="#d4eef2" stroke-width="1" opacity="0.9"/>
<rect x="798.7" y="892.8" width="6.5" height="6.5" stroke="#58c4d4" fill="#d4eef2" stroke-width="1" opacity="0.9"/>
<rect x="801.6" y="892.2" width="6.5" height="6.5" stroke="#58c4d4" fill="#d4eef2" stroke-width="1" opacity="0.9"/>
<rect x="804.5" y="892.5" width="6.5" height="6.5" stroke="#58c4d4" fill="#d4eef2" stroke-width="1" opacity="0.9"/>
<rect x="807.4" y="892.3" width="6.5" height="6.5" stroke="#58c4d4" fill="#d4eef2" stroke-width="1" opacity="0.9"/>
<rect x="810.3" y="892.3" width="6.5" height="6.5" stroke="#58c4d4" fill="#d4eef2" stroke-width="1" opacity="0.9"/>
<rect x="813.2" y="892.4" width="6.5" height="6.5" stroke="#58c4d4" fill="#d4eef2" stroke-width="1" opacity="0.9"/>
<rect x="816.1" y="892.7" width="6.5" height="6.5" stroke="#58c4d4" fill="#d4eef2" stroke-width="1" opacity="0.9"/>
<rect x="819.0" y="892.3" width="6.5" height="6.5" stroke="#58c4d4" fill="#d4eef2" stroke-width="1" opacity="0.9"/>
<rect x="821.9" y="892.3" width="6.5" height="6.5" stroke="#58c4d4" fill="#d4eef2" stroke-width="1" opacity="0.9"/>
<rect x="824.8" y="893.0" width="6.5" height="6.5" stroke="#58c4d4" fill="#d4eef2" stroke-width="1" opacity="0.9"/>
<rect x="827.7" y="893.0" width="6.5" height="6.5" stroke="#58c4d4" fill="#d4eef2" stroke-width="1" opacity="0.9"/>
<rect x="830.6" y="892.9" width="6.5" height="6.5" stroke="#58c4d4" fill="#d4eef2" stroke-width="1" opacity="0.9"/>
<rect x="833.5" y="892.5" width="6.5" height="6.5" stroke="#58c4d4" fill="#d4eef2" stroke-width="1" opacity="0.9"/>
<rect x="836.4" y="892.5" width="6.5" height="6.5" stroke="#58c4d4" fill="#d4eef2" stroke-width="1" opacity="0.9"/>
<rect x="839.3" y="892.7" width="6.5" height="6.5" stroke="#58c4d4" fill="#d4eef2" stroke-width="1" opacity="0.9"/>
<rect x="842.2" y="892.6" width="6.5" height="6.5" stroke="#58c4d4" fill="#d4eef2" stroke-width="1" opacity="0.9"/>
<rect x="845.1" y="892.6" width="6.5" height="6.5" stroke="#58c4d4" fill="#d4eef2" stroke-width="1" opacity="0.9"/>
<rect x="848.0" y="892.9" width="6.5" height="6.5" stroke="#58c4d4" fill="#d4eef2" stroke-width="1" opacity="0.9"/>
<rect x="850.9" y="893.2" width="6.5" height="6.5" stroke="#58c4d4" fill="#d4eef2" stroke-width="1" opacity="0.9"/>
<rect x="853.8" y="892.7" width="6.5" height="6.5" stroke="#58c4d4" fill="#d4eef2" stroke-width="1" opacity="0.9"/>
<rect x="856.7" y="892.5" width="6.5" height="6.5" stroke="#58c4d4" fill="#d4eef2" stroke-width="1" opacity="0.9"/>
<rect x="859.6" y="892.7" width="6.5" height="6.5" stroke="#58c4d4" fill="#d4eef2" stroke-width="1" opacity="0.9"/>
<rect x="862.5" y="892.5" width="6.5" height="6.5" stroke="#58c4d4" fill="#d4eef2" stroke-width="1" opacity="0.9"/>
<rect x="865.4" y="892.3" width="6.5" height="6.5" stroke="#58c4d4" fill="#d4eef2" stroke-width="1" opacity="0.9"/>
<rect x="868.3" y="892.6" width="6.5" height="6.5" stroke="#58c4d4" fill="#d4eef2" stroke-width="1" opacity="0.9"/>
<rect x="871.2" y="892.4" width="6.5" height="6.5" stroke="#58c4d4" fill="#d4eef2" stroke-width="1" opacity="0.9"/>
<rect x="874.1" y="892.9" width="6.5" height="6.5" stroke="#58c4d4" fill="#d4eef2" stroke-width="1" opacity="0.9"/>
<rect x="877.0" y="892.7" width="6.5" height="6.5" stroke="#58c4d4" fill="#d4eef2" stroke-width="1" opacity="0.9"/>
<rect x="879.9" y="892.6" width="6.5" height="6.5" stroke="#58c4d4" fill="#d4eef2" stroke-width="1" opacity="0.9"/>
<rect x="882.8" y="892.4" width="6.5" height="6.5" stroke="#58c4d4" fill="#d4eef2" stroke-width="1" opacity="0.9"/>
<circle cx="774.8" cy="890.2" r="4.1" stroke="#f0a050" fill="#dcecec" stroke-width="1" opacity="0.95"/>
<circle cx="777.4" cy="889.4" r="4.1" stroke="#f0a050" fill="#dcecec" stroke-width="1" opacity="0.95"/>
<circle cx="780.0" cy="888.4" r="4.1" stroke="#f0a050" fill="#dcecec" stroke-width="1" opacity="0.95"/>
<circle cx="782.7" cy="889.3" r="4.1" stroke="#f0a050" fill="#dcecec" stroke-width="1" opacity="0.95"/>
<circle cx="784.9" cy="888.9" r="4.1" stroke="#f0a050" fill="#dcecec" stroke-width="1" opacity="0.95"/>
<circle cx="787.7" cy="888.4" r="4.1" stroke="#f0a050" fill="#dcecec" stroke-width="1" opacity="0.95"/>
<circle cx="790.6" cy="888.8" r="4.1" stroke="#f0a050" fill="#dcecec" stroke-width="1" opacity="0.95"/>
<circle cx="793.7" cy="888.1" r="4.1" stroke="#f0a050" fill="#dcecec" stroke-width="1" opacity="0.95"/>
<circle cx="796.2" cy="888.6" r="4.1" stroke="#f0a050" fill="#dcecec" stroke-width="1" opacity="0.95"/>
<circle cx="798.9" cy="887.7" r="4.1" stroke="#f0a050" fill="#dcecec" stroke-width="1" opacity="0.95"/>
<circle cx="800.9" cy="887.7" r="4.1" stroke="#f0a050" fill="#dcecec" stroke-width="1" opacity="0.95"/>
<circle cx="804.4" cy="886.9" r="4.1" stroke="#f0a050" fill="#dcecec" stroke-width="1" opacity="0.95"/>
<circle cx="807.0" cy="887.0" r="4.1" stroke="#f0a050" fill="#dcecec" stroke-width="1" opacity="0.95"/>
<circle cx="809.9" cy="886.2" r="4.1" stroke="#f0a050" fill="#dcecec" stroke-width="1" opacity="0.95"/>
<circle cx="812.5" cy="886.2" r="4.1" stroke="#f0a050" fill="#dcecec" stroke-width="1" opacity="0.95"/>
<circle cx="815.0" cy="886.6" r="4.1" stroke="#f0a050" fill="#dcecec" stroke-width="1" opacity="0.95"/>
<circle cx="818.1" cy="885.3" r="4.1" stroke="#f0a050" fill="#dcecec" stroke-width="1" opacity="0.95"/>
<circle cx="820.6" cy="885.4" r="4.1" stroke="#f0a050" fill="#dcecec" stroke-width="1" opacity="0.95"/>
<circle cx="823.5" cy="885.0" r="4.1" stroke="#f0a050" fill="#dcecec" stroke-width="1" opacity="0.95"/>
<circle cx="825.5" cy="884.6" r="4.1" stroke="#f0a050" fill="#dcecec" stroke-width="1" opacity="0.95"/>
<circle cx="829.3" cy="885.4" r="4.1" stroke="#f0a050" fill="#dcecec" stroke-width="1" opacity="0.95"/>
<circle cx="831.4" cy="883.6" r="4.1" stroke="#f0a050" fill="#dcecec" stroke-width="1" opacity="0.95"/>
<circle cx="833.9" cy="884.1" r="4.1" stroke="#f0a050" fill="#dcecec" stroke-width="1" opacity="0.95"/>
<circle cx="837.2" cy="883.9" r="4.1" stroke="#f0a050" fill="#dcecec" stroke-width="1" opacity="0.95"/>
<circle cx="839.9" cy="883.6" r="4.1" stroke="#f0a050" fill="#dcecec" stroke-width="1" opacity="0.95"/>
<circle cx="842.3" cy="883.0" r="4.1" stroke="#f0a050" fill="#dcecec" stroke-width="1" opacity="0.95"/>
<circle cx="844.7" cy="882.2" r="4.1" stroke="#f0a050" fill="#dcecec" stroke-width="1" opacity="0.95"/>
<circle cx="847.4" cy="882.3" r="4.1" stroke="#f0a050" fill="#dcecec" stroke-width="1" opacity="0.95"/>
<circle cx="850.6" cy="881.6" r="4.1" stroke="#f0a050" fill="#dcecec" stroke-width="1" opacity="0.95"/>
<circle cx="853.5" cy="881.3" r="4.1" stroke="#f0a050" fill="#dcecec" stroke-width="1" opacity="0.95"/>
<circle cx="856.3" cy="881.2" r="4.1" stroke="#f0a050" fill="#dcecec" stroke-width="1" opacity="0.95"/>
<circle cx="858.6" cy="881.1" r="4.1" stroke="#f0a050" fill="#dcecec" stroke-width="1" opacity="0.95"/>
<circle cx="861.2" cy="880.5" r="4.1" stroke="#f0a050" fill="#dcecec" stroke-width="1" opacity="0.95"/>
<circle cx="864.0" cy="880.3" r="4.1" stroke="#f0a050" fill="#dcecec" stroke-width="1" opacity="0.95"/>
<circle cx="866.8" cy="880.1" r="4.1" stroke="#f0a050" fill="#dcecec" stroke-width="1" opacity="0.95"/>
<circle cx="869.2" cy="879.2" r="4.1" stroke="#f0a050" fill="#dcecec" stroke-width="1" opacity="0.95"/>
<circle cx="872.0" cy="878.6" r="4.1" stroke="#f0a050" fill="#dcecec" stroke-width="1" opacity="0.95"/>
<circle cx="874.7" cy="878.9" r="4.1" stroke="#f0a050" fill="#dcecec" stroke-width="1" opacity="0.95"/>
<circle cx="877.7" cy="878.0" r="4.1" stroke="#f0a050" fill="#dcecec" stroke-width="1" opacity="0.95"/>
<circle cx="880.4" cy="878.1" r="4.1" stroke="#f0a050" fill="#dcecec" stroke-width="1" opacity="0.95"/>
<circle cx="883.0" cy="877.7" r="4.1" stroke="#f0a050" fill="#dcecec" stroke-width="1" opacity="0.95"/>
<circle cx="885.5" cy="877.8" r="4.1" stroke="#f0a050" fill="#dcecec" stroke-width="1" opacity="0.95"/>
<rect x="785.7" y="551.9" width="7.4" height="7.4" stroke="#ff0000" fill="none" stroke-width="2.2"/>
<text x="802.5" y="562.9" font-size="24.6" text-anchor="start" style="font-family:'Liberation Sans',sans-serif">100mW B</text>
<circle cx="789.6" cy="584.0" r="4.0" stroke="#6699cc" fill="none" stroke-width="2.1"/>
<text x="802.5" y="595.3" font-size="24.6" text-anchor="start" style="font-family:'Liberation Sans',sans-serif">100mW F</text>
<rect x="785.7" y="616.7" width="7.4" height="7.4" stroke="#b8b800" fill="none" stroke-width="2.2"/>
<text x="802.5" y="627.7" font-size="24.6" text-anchor="start" style="font-family:'Liberation Sans',sans-serif">75mW B</text>
<circle cx="789.6" cy="648.8" r="4.0" stroke="#9070b8" fill="none" stroke-width="2.1"/>
<text x="802.5" y="660.1" font-size="24.6" text-anchor="start" style="font-family:'Liberation Sans',sans-serif">75mW F</text>
<rect x="785.7" y="681.5" width="7.4" height="7.4" stroke="#2f6fe0" fill="none" stroke-width="2.2"/>
<text x="802.5" y="692.5" font-size="24.6" text-anchor="start" style="font-family:'Liberation Sans',sans-serif">50mW B</text>
<circle cx="789.6" cy="713.6" r="4.0" stroke="#55b055" fill="none" stroke-width="2.1"/>
<text x="802.5" y="724.9" font-size="24.6" text-anchor="start" style="font-family:'Liberation Sans',sans-serif">50mW F</text>
<rect x="785.7" y="746.3" width="7.4" height="7.4" stroke="#44bccc" fill="none" stroke-width="2.2"/>
<text x="802.5" y="757.3" font-size="24.6" text-anchor="start" style="font-family:'Liberation Sans',sans-serif">25mW B (Backward)</text>
<circle cx="789.6" cy="778.4" r="4.0" stroke="#f0a060" fill="none" stroke-width="2.1"/>
<text x="802.5" y="789.7" font-size="24.6" text-anchor="start" style="font-family:'Liberation Sans',sans-serif">25mW F (Forward)</text>
<path d="M752.20,831.90 L749.13,831.90 L749.13,813.02 C747.72,814.67 744.77,815.85 742.88,816.91 L742.88,814.20 C745.95,812.55 748.42,810.66 749.60,808.30 L752.20,808.30 Z" fill="#000"/>
<text x="758.0" y="560.3" font-size="33" text-anchor="end" style="font-family:'Liberation Sans',sans-serif">5</text>
<text x="757.5" y="616.0" font-size="33" text-anchor="end" style="font-family:'Liberation Sans',sans-serif">4</text>
<text x="758.5" y="687.4" font-size="33" text-anchor="end" style="font-family:'Liberation Sans',sans-serif">3</text>
<text x="758.0" y="761.8" font-size="33" text-anchor="end" style="font-family:'Liberation Sans',sans-serif">2</text>
<text x="771.5" y="940.0" font-size="31.5" text-anchor="middle" style="font-family:'Liberation Sans',sans-serif">0.1</text>
<path d="M1017.20,939.80 L1014.12,939.80 L1014.12,920.84 C1012.70,922.50 1009.73,923.68 1007.84,924.75 L1007.84,922.02 C1010.92,920.37 1013.41,918.47 1014.59,916.10 L1017.20,916.10 Z" fill="#000"/>
<g transform="translate(856.5,985.7) scale(0.95,1)"><text x="0" y="0" font-size="30.8" style="font-family:'Liberation Sans',sans-serif">total ion yield<tspan font-size="31.5"> ( </tspan><tspan font-weight="bold" font-size="27" dx="1.5" dy="-1.8">×</tspan><tspan font-size="31.5" dx="1.6" dy="1.8"> 10</tspan><tspan font-weight="bold" font-size="24" dx="-1.0" dy="-15.7">6</tspan><tspan font-size="31.5" dx="0.3" dy="15.7"> )</tspan></text></g>
<text transform="translate(713,808.3) rotate(-90)" font-size="33" style="font-family:'Liberation Sans',sans-serif">yield ( <tspan dy="3.2">×</tspan><tspan dy="-3.2">10</tspan><tspan font-weight="bold" font-size="29" dy="-12.3">6</tspan><tspan dy="12.3"> )</tspan></text>
<text x="687.3" y="517.3" font-size="42" text-anchor="start" style="font-family:'Liberation Sans',sans-serif">d</text>
</svg>
</body></html>
